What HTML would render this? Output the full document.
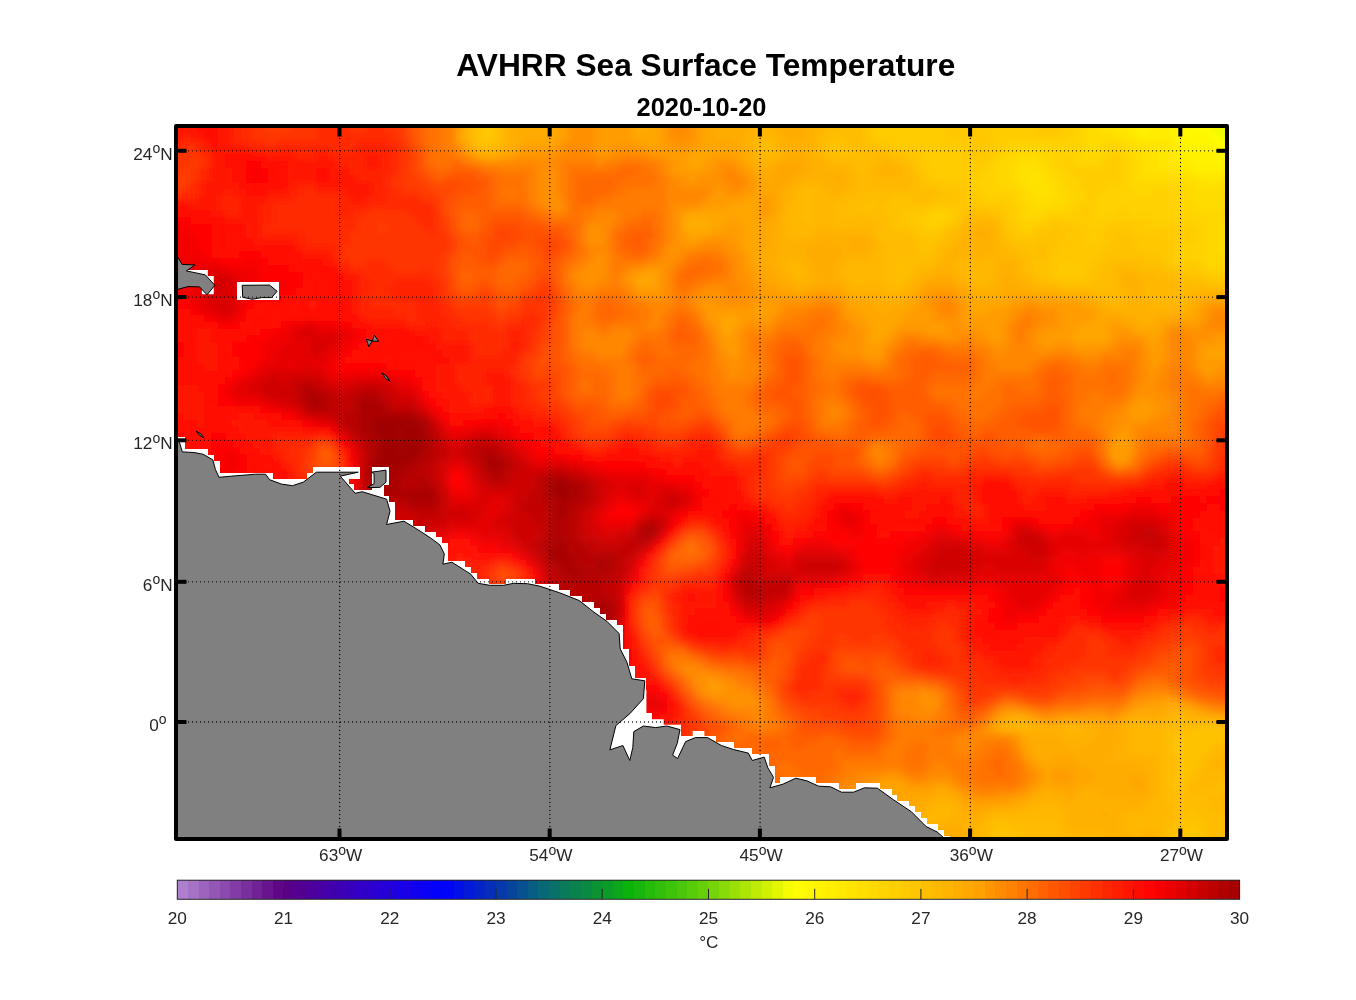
<!DOCTYPE html>
<html><head><meta charset="utf-8"><title>AVHRR Sea Surface Temperature</title>
<style>html,body{margin:0;padding:0;background:#fff}svg{display:block}text{font-family:"Liberation Sans",sans-serif;fill:#262626}svg{will-change:transform}</style></head><body>
<svg width="1356" height="1000" viewBox="0 0 1356 1000">
<defs><clipPath id="cp"><rect x="176" y="126" width="1051" height="713"/></clipPath><filter id="bl" x="-5%" y="-5%" width="110%" height="110%"><feGaussianBlur stdDeviation="3"/></filter></defs>
<rect width="1356" height="1000" fill="#fff"/>
<g clip-path="url(#cp)"><g filter="url(#bl)"><path fill="#edf901" d="M1213.0 114.0h26.4v19.4h-26.4zM1220.0 133.0h19.4v7.4h-19.4z"/><path fill="#ffff00" d="M1213.0 133.0h7.4v7.4h-7.4zM1220.0 140.0h19.4v7.4h-19.4z"/><path fill="#fffa00" d="M1185.0 114.0h28.4v19.4h-28.4zM1206.0 133.0h7.4v7.4h-7.4zM1213.0 140.0h7.4v7.4h-7.4zM1220.0 147.0h19.4v7.4h-19.4z"/><path fill="#fff600" d="M1178.0 114.0h7.4v19.4h-7.4zM1178.0 133.0h28.4v7.4h-28.4zM1185.0 140.0h28.4v7.4h-28.4zM1192.0 147.0h7.4v7.4h-7.4zM1213.0 147.0h7.4v7.4h-7.4zM1220.0 154.0h19.4v7.4h-19.4z"/><path fill="#fff100" d="M1135.9 114.0h14.4v19.4h-14.4zM1170.9 114.0h7.4v19.4h-7.4zM1170.9 133.0h7.4v7.4h-7.4zM1178.0 140.0h7.4v7.4h-7.4zM1178.0 147.0h14.4v7.4h-14.4zM1199.0 147.0h14.4v7.4h-14.4zM1185.0 154.0h35.4v7.4h-35.4zM1192.0 161.0h47.4v7.4h-47.4z"/><path fill="#ffec00" d="M1128.9 114.0h7.4v19.4h-7.4zM1149.9 114.0h21.4v19.4h-21.4zM1135.9 133.0h35.4v7.4h-35.4zM1170.9 140.0h7.4v7.4h-7.4zM1170.9 147.0h7.4v7.4h-7.4zM1170.9 154.0h14.4v7.4h-14.4zM1178.0 161.0h14.4v7.4h-14.4zM1192.0 167.9h47.4v7.4h-47.4z"/><path fill="#ffe600" d="M1114.9 114.0h14.4v19.4h-14.4zM1128.9 133.0h7.4v7.4h-7.4zM1142.9 140.0h28.4v7.4h-28.4zM1156.9 147.0h14.4v7.4h-14.4zM1156.9 154.0h14.4v7.4h-14.4zM1156.9 161.0h21.4v7.4h-21.4zM1178.0 167.9h14.4v7.4h-14.4zM1030.8 174.9h7.4v7.4h-7.4zM1199.0 174.9h21.4v7.4h-21.4z"/><path fill="#ffe100" d="M1100.9 114.0h14.4v19.4h-14.4zM1114.9 133.0h14.4v7.4h-14.4zM1128.9 140.0h14.4v7.4h-14.4zM1142.9 147.0h14.4v7.4h-14.4zM1142.9 154.0h14.4v7.4h-14.4zM1023.8 161.0h14.4v7.4h-14.4zM1142.9 161.0h14.4v7.4h-14.4zM1016.8 167.9h28.4v7.4h-28.4zM1142.9 167.9h35.4v7.4h-35.4zM1016.8 174.9h14.4v7.4h-14.4zM1037.8 174.9h7.4v7.4h-7.4zM1185.0 174.9h14.4v7.4h-14.4zM1220.0 174.9h19.4v7.4h-19.4zM1023.8 181.9h28.4v7.4h-28.4zM1199.0 181.9h21.4v7.4h-21.4zM1030.8 188.9h21.4v7.4h-21.4zM1037.8 195.9h7.4v7.4h-7.4z"/><path fill="#ffdc00" d="M1086.9 114.0h14.4v19.4h-14.4zM1086.9 133.0h28.4v7.4h-28.4zM1086.9 140.0h14.4v7.4h-14.4zM1121.9 140.0h7.4v7.4h-7.4zM1086.9 147.0h7.4v7.4h-7.4zM1128.9 147.0h14.4v7.4h-14.4zM1016.8 154.0h21.4v7.4h-21.4zM1135.9 154.0h7.4v7.4h-7.4zM1009.8 161.0h14.4v7.4h-14.4zM1037.8 161.0h7.4v7.4h-7.4zM1135.9 161.0h7.4v7.4h-7.4zM1009.8 167.9h7.4v7.4h-7.4zM1044.8 167.9h7.4v7.4h-7.4zM1135.9 167.9h7.4v7.4h-7.4zM1009.8 174.9h7.4v7.4h-7.4zM1044.8 174.9h7.4v7.4h-7.4zM1135.9 174.9h49.4v7.4h-49.4zM1016.8 181.9h7.4v7.4h-7.4zM1051.8 181.9h7.4v7.4h-7.4zM1185.0 181.9h14.4v7.4h-14.4zM1220.0 181.9h19.4v7.4h-19.4zM1023.8 188.9h7.4v7.4h-7.4zM1051.8 188.9h7.4v7.4h-7.4zM1192.0 188.9h28.4v7.4h-28.4zM1023.8 195.9h14.4v7.4h-14.4zM1044.8 195.9h21.4v7.4h-21.4zM1192.0 195.9h28.4v7.4h-28.4zM1030.8 202.9h21.4v7.4h-21.4zM1199.0 202.9h21.4v7.4h-21.4zM1220.0 223.9h19.4v7.4h-19.4zM1220.0 230.9h19.4v7.4h-19.4zM1220.0 237.8h19.4v7.4h-19.4zM1220.0 244.8h19.4v7.4h-19.4z"/><path fill="#ffd700" d="M1079.9 114.0h7.4v19.4h-7.4zM1079.9 133.0h7.4v7.4h-7.4zM1079.9 140.0h7.4v7.4h-7.4zM1100.9 140.0h21.4v7.4h-21.4zM1016.8 147.0h28.4v7.4h-28.4zM1079.9 147.0h7.4v7.4h-7.4zM1093.9 147.0h14.4v7.4h-14.4zM1121.9 147.0h7.4v7.4h-7.4zM1002.8 154.0h14.4v7.4h-14.4zM1037.8 154.0h14.4v7.4h-14.4zM1079.9 154.0h21.4v7.4h-21.4zM1128.9 154.0h7.4v7.4h-7.4zM995.8 161.0h14.4v7.4h-14.4zM1044.8 161.0h7.4v7.4h-7.4zM1128.9 161.0h7.4v7.4h-7.4zM995.8 167.9h14.4v7.4h-14.4zM1051.8 167.9h7.4v7.4h-7.4zM1128.9 167.9h7.4v7.4h-7.4zM995.8 174.9h14.4v7.4h-14.4zM1051.8 174.9h14.4v7.4h-14.4zM1128.9 174.9h7.4v7.4h-7.4zM995.8 181.9h21.4v7.4h-21.4zM1058.8 181.9h7.4v7.4h-7.4zM1128.9 181.9h56.5v7.4h-56.5zM1016.8 188.9h7.4v7.4h-7.4zM1058.8 188.9h14.4v7.4h-14.4zM1135.9 188.9h14.4v7.4h-14.4zM1178.0 188.9h14.4v7.4h-14.4zM1220.0 188.9h19.4v7.4h-19.4zM1016.8 195.9h7.4v7.4h-7.4zM1065.8 195.9h7.4v7.4h-7.4zM1178.0 195.9h14.4v7.4h-14.4zM1220.0 195.9h19.4v7.4h-19.4zM1023.8 202.9h7.4v7.4h-7.4zM1051.8 202.9h14.4v7.4h-14.4zM1178.0 202.9h21.4v7.4h-21.4zM1220.0 202.9h19.4v7.4h-19.4zM1023.8 209.9h21.4v7.4h-21.4zM1192.0 209.9h47.4v7.4h-47.4zM1206.0 216.9h33.4v7.4h-33.4zM1206.0 223.9h14.4v7.4h-14.4zM1206.0 230.9h14.4v7.4h-14.4zM1206.0 237.8h14.4v7.4h-14.4zM1206.0 244.8h14.4v7.4h-14.4zM1206.0 251.8h33.4v7.4h-33.4zM1206.0 258.8h33.4v7.4h-33.4z"/><path fill="#ffd200" d="M1072.9 114.0h7.4v19.4h-7.4zM1065.8 133.0h14.4v7.4h-14.4zM1002.8 140.0h77.5v7.4h-77.5zM1002.8 147.0h14.4v7.4h-14.4zM1044.8 147.0h35.4v7.4h-35.4zM1107.9 147.0h14.4v7.4h-14.4zM995.8 154.0h7.4v7.4h-7.4zM1051.8 154.0h28.4v7.4h-28.4zM1100.9 154.0h7.4v7.4h-7.4zM1121.9 154.0h7.4v7.4h-7.4zM988.8 161.0h7.4v7.4h-7.4zM1051.8 161.0h14.4v7.4h-14.4zM1072.9 161.0h28.4v7.4h-28.4zM1121.9 161.0h7.4v7.4h-7.4zM981.8 167.9h14.4v7.4h-14.4zM1058.8 167.9h14.4v7.4h-14.4zM1121.9 167.9h7.4v7.4h-7.4zM974.8 174.9h21.4v7.4h-21.4zM1065.8 174.9h14.4v7.4h-14.4zM1121.9 174.9h7.4v7.4h-7.4zM974.8 181.9h21.4v7.4h-21.4zM1065.8 181.9h14.4v7.4h-14.4zM1107.9 181.9h21.4v7.4h-21.4zM981.8 188.9h35.4v7.4h-35.4zM1072.9 188.9h14.4v7.4h-14.4zM1100.9 188.9h35.4v7.4h-35.4zM1149.9 188.9h28.4v7.4h-28.4zM988.8 195.9h7.4v7.4h-7.4zM1009.8 195.9h7.4v7.4h-7.4zM1072.9 195.9h14.4v7.4h-14.4zM1093.9 195.9h84.5v7.4h-84.5zM1016.8 202.9h7.4v7.4h-7.4zM1065.8 202.9h14.4v7.4h-14.4zM1093.9 202.9h84.5v7.4h-84.5zM932.7 209.9h14.4v7.4h-14.4zM1016.8 209.9h7.4v7.4h-7.4zM1044.8 209.9h28.4v7.4h-28.4zM1093.9 209.9h21.4v7.4h-21.4zM1128.9 209.9h63.5v7.4h-63.5zM925.7 216.9h21.4v7.4h-21.4zM1016.8 216.9h28.4v7.4h-28.4zM1093.9 216.9h7.4v7.4h-7.4zM1149.9 216.9h56.5v7.4h-56.5zM1023.8 223.9h7.4v7.4h-7.4zM1192.0 223.9h14.4v7.4h-14.4zM1199.0 230.9h7.4v7.4h-7.4zM1192.0 237.8h14.4v7.4h-14.4zM1178.0 244.8h28.4v7.4h-28.4zM1178.0 251.8h28.4v7.4h-28.4zM1199.0 258.8h7.4v7.4h-7.4zM1206.0 265.8h33.4v7.4h-33.4z"/><path fill="#ffcc00" d="M869.7 114.0h77.5v19.4h-77.5zM981.8 114.0h56.5v19.4h-56.5zM1058.8 114.0h14.4v19.4h-14.4zM876.7 133.0h70.5v7.4h-70.5zM960.7 133.0h7.4v7.4h-7.4zM988.8 133.0h77.5v7.4h-77.5zM890.7 140.0h77.5v7.4h-77.5zM988.8 140.0h14.4v7.4h-14.4zM918.7 147.0h49.4v7.4h-49.4zM988.8 147.0h14.4v7.4h-14.4zM925.7 154.0h42.4v7.4h-42.4zM988.8 154.0h7.4v7.4h-7.4zM1107.9 154.0h14.4v7.4h-14.4zM925.7 161.0h63.5v7.4h-63.5zM1065.8 161.0h7.4v7.4h-7.4zM1100.9 161.0h21.4v7.4h-21.4zM925.7 167.9h56.5v7.4h-56.5zM1072.9 167.9h49.4v7.4h-49.4zM932.7 174.9h42.4v7.4h-42.4zM1079.9 174.9h42.4v7.4h-42.4zM967.8 181.9h7.4v7.4h-7.4zM1079.9 181.9h28.4v7.4h-28.4zM967.8 188.9h14.4v7.4h-14.4zM1086.9 188.9h14.4v7.4h-14.4zM974.8 195.9h14.4v7.4h-14.4zM995.8 195.9h14.4v7.4h-14.4zM1086.9 195.9h7.4v7.4h-7.4zM1002.8 202.9h14.4v7.4h-14.4zM1079.9 202.9h14.4v7.4h-14.4zM925.7 209.9h7.4v7.4h-7.4zM946.7 209.9h7.4v7.4h-7.4zM1009.8 209.9h7.4v7.4h-7.4zM1072.9 209.9h21.4v7.4h-21.4zM1114.9 209.9h14.4v7.4h-14.4zM918.7 216.9h7.4v7.4h-7.4zM946.7 216.9h7.4v7.4h-7.4zM1009.8 216.9h7.4v7.4h-7.4zM1044.8 216.9h7.4v7.4h-7.4zM1065.8 216.9h28.4v7.4h-28.4zM1100.9 216.9h49.4v7.4h-49.4zM925.7 223.9h14.4v7.4h-14.4zM1016.8 223.9h7.4v7.4h-7.4zM1030.8 223.9h7.4v7.4h-7.4zM1079.9 223.9h28.4v7.4h-28.4zM1135.9 223.9h56.5v7.4h-56.5zM1023.8 230.9h7.4v7.4h-7.4zM1086.9 230.9h14.4v7.4h-14.4zM1170.9 230.9h28.4v7.4h-28.4zM1086.9 237.8h14.4v7.4h-14.4zM1170.9 237.8h21.4v7.4h-21.4zM1170.9 244.8h7.4v7.4h-7.4zM1170.9 251.8h7.4v7.4h-7.4zM1170.9 258.8h28.4v7.4h-28.4zM1058.8 265.8h21.4v7.4h-21.4zM1199.0 265.8h7.4v7.4h-7.4zM1213.0 272.8h26.4v7.4h-26.4z"/><path fill="#ffc700" d="M484.3 114.0h7.4v19.4h-7.4zM946.7 114.0h35.4v19.4h-35.4zM1037.8 114.0h21.4v19.4h-21.4zM484.3 133.0h7.4v7.4h-7.4zM869.7 133.0h7.4v7.4h-7.4zM946.7 133.0h14.4v7.4h-14.4zM967.8 133.0h21.4v7.4h-21.4zM876.7 140.0h14.4v7.4h-14.4zM967.8 140.0h21.4v7.4h-21.4zM897.7 147.0h21.4v7.4h-21.4zM967.8 147.0h21.4v7.4h-21.4zM911.7 154.0h14.4v7.4h-14.4zM967.8 154.0h21.4v7.4h-21.4zM918.7 161.0h7.4v7.4h-7.4zM918.7 167.9h7.4v7.4h-7.4zM925.7 174.9h7.4v7.4h-7.4zM939.7 181.9h28.4v7.4h-28.4zM960.7 188.9h7.4v7.4h-7.4zM960.7 195.9h14.4v7.4h-14.4zM925.7 202.9h77.5v7.4h-77.5zM904.7 209.9h21.4v7.4h-21.4zM953.7 209.9h7.4v7.4h-7.4zM1002.8 209.9h7.4v7.4h-7.4zM904.7 216.9h14.4v7.4h-14.4zM953.7 216.9h7.4v7.4h-7.4zM1002.8 216.9h7.4v7.4h-7.4zM1051.8 216.9h14.4v7.4h-14.4zM911.7 223.9h14.4v7.4h-14.4zM939.7 223.9h7.4v7.4h-7.4zM1009.8 223.9h7.4v7.4h-7.4zM1037.8 223.9h14.4v7.4h-14.4zM1058.8 223.9h21.4v7.4h-21.4zM1107.9 223.9h28.4v7.4h-28.4zM918.7 230.9h21.4v7.4h-21.4zM1009.8 230.9h14.4v7.4h-14.4zM1030.8 230.9h7.4v7.4h-7.4zM1065.8 230.9h21.4v7.4h-21.4zM1100.9 230.9h14.4v7.4h-14.4zM1128.9 230.9h42.4v7.4h-42.4zM1058.8 237.8h28.4v7.4h-28.4zM1100.9 237.8h14.4v7.4h-14.4zM1135.9 237.8h35.4v7.4h-35.4zM1058.8 244.8h49.4v7.4h-49.4zM1135.9 244.8h35.4v7.4h-35.4zM1051.8 251.8h49.4v7.4h-49.4zM1156.9 251.8h14.4v7.4h-14.4zM1051.8 258.8h42.4v7.4h-42.4zM1163.9 258.8h7.4v7.4h-7.4zM1051.8 265.8h7.4v7.4h-7.4zM1079.9 265.8h7.4v7.4h-7.4zM1178.0 265.8h21.4v7.4h-21.4zM1051.8 272.8h35.4v7.4h-35.4zM1199.0 272.8h14.4v7.4h-14.4zM1185.0 825.0h14.4v7.4h-14.4zM1178.0 832.0h21.4v19.4h-21.4z"/><path fill="#ffc200" d="M477.3 114.0h7.4v19.4h-7.4zM491.3 114.0h7.4v19.4h-7.4zM862.7 114.0h7.4v19.4h-7.4zM477.3 133.0h7.4v7.4h-7.4zM491.3 133.0h7.4v7.4h-7.4zM834.6 133.0h7.4v7.4h-7.4zM862.7 133.0h7.4v7.4h-7.4zM477.3 140.0h14.4v7.4h-14.4zM827.6 140.0h21.4v7.4h-21.4zM862.7 140.0h14.4v7.4h-14.4zM827.6 147.0h28.4v7.4h-28.4zM883.7 147.0h14.4v7.4h-14.4zM904.7 154.0h7.4v7.4h-7.4zM911.7 161.0h7.4v7.4h-7.4zM911.7 167.9h7.4v7.4h-7.4zM918.7 174.9h7.4v7.4h-7.4zM918.7 181.9h21.4v7.4h-21.4zM939.7 188.9h21.4v7.4h-21.4zM890.7 195.9h21.4v7.4h-21.4zM932.7 195.9h28.4v7.4h-28.4zM862.7 202.9h14.4v7.4h-14.4zM883.7 202.9h42.4v7.4h-42.4zM883.7 209.9h21.4v7.4h-21.4zM960.7 209.9h7.4v7.4h-7.4zM988.8 209.9h14.4v7.4h-14.4zM890.7 216.9h14.4v7.4h-14.4zM890.7 223.9h21.4v7.4h-21.4zM946.7 223.9h7.4v7.4h-7.4zM1002.8 223.9h7.4v7.4h-7.4zM1051.8 223.9h7.4v7.4h-7.4zM911.7 230.9h7.4v7.4h-7.4zM939.7 230.9h7.4v7.4h-7.4zM1002.8 230.9h7.4v7.4h-7.4zM1037.8 230.9h28.4v7.4h-28.4zM1114.9 230.9h14.4v7.4h-14.4zM918.7 237.8h21.4v7.4h-21.4zM1009.8 237.8h49.4v7.4h-49.4zM1114.9 237.8h21.4v7.4h-21.4zM918.7 244.8h14.4v7.4h-14.4zM1023.8 244.8h14.4v7.4h-14.4zM1044.8 244.8h14.4v7.4h-14.4zM1107.9 244.8h28.4v7.4h-28.4zM918.7 251.8h7.4v7.4h-7.4zM1030.8 251.8h7.4v7.4h-7.4zM1044.8 251.8h7.4v7.4h-7.4zM1100.9 251.8h56.5v7.4h-56.5zM1030.8 258.8h21.4v7.4h-21.4zM1093.9 258.8h14.4v7.4h-14.4zM1142.9 258.8h21.4v7.4h-21.4zM897.7 265.8h7.4v7.4h-7.4zM1030.8 265.8h21.4v7.4h-21.4zM1086.9 265.8h14.4v7.4h-14.4zM1163.9 265.8h14.4v7.4h-14.4zM1037.8 272.8h14.4v7.4h-14.4zM1086.9 272.8h14.4v7.4h-14.4zM1185.0 272.8h14.4v7.4h-14.4zM1058.8 279.8h35.4v7.4h-35.4zM1206.0 279.8h33.4v7.4h-33.4zM1192.0 727.2h47.4v7.4h-47.4zM1170.9 734.1h68.5v7.4h-68.5zM1170.9 741.1h42.4v7.4h-42.4zM1170.9 748.1h35.4v7.4h-35.4zM1178.0 755.1h21.4v7.4h-21.4zM1178.0 762.1h21.4v7.4h-21.4zM1178.0 769.1h14.4v7.4h-14.4zM1170.9 776.1h14.4v7.4h-14.4zM1170.9 783.1h7.4v7.4h-7.4zM1185.0 811.0h14.4v7.4h-14.4zM1178.0 818.0h28.4v7.4h-28.4zM995.8 825.0h14.4v7.4h-14.4zM1170.9 825.0h14.4v7.4h-14.4zM1199.0 825.0h7.4v7.4h-7.4zM988.8 832.0h28.4v19.4h-28.4zM1170.9 832.0h7.4v19.4h-7.4zM1199.0 832.0h7.4v19.4h-7.4z"/><path fill="#ffbc00" d="M470.3 114.0h7.4v19.4h-7.4zM827.6 114.0h35.4v19.4h-35.4zM470.3 133.0h7.4v7.4h-7.4zM820.6 133.0h14.4v7.4h-14.4zM841.6 133.0h21.4v7.4h-21.4zM491.3 140.0h7.4v7.4h-7.4zM757.6 140.0h14.4v7.4h-14.4zM820.6 140.0h7.4v7.4h-7.4zM848.6 140.0h14.4v7.4h-14.4zM757.6 147.0h14.4v7.4h-14.4zM820.6 147.0h7.4v7.4h-7.4zM855.6 147.0h28.4v7.4h-28.4zM827.6 154.0h49.4v7.4h-49.4zM890.7 154.0h14.4v7.4h-14.4zM848.6 161.0h21.4v7.4h-21.4zM904.7 161.0h7.4v7.4h-7.4zM855.6 167.9h14.4v7.4h-14.4zM862.7 174.9h7.4v7.4h-7.4zM911.7 174.9h7.4v7.4h-7.4zM862.7 181.9h7.4v7.4h-7.4zM904.7 181.9h14.4v7.4h-14.4zM799.6 188.9h14.4v7.4h-14.4zM855.6 188.9h84.5v7.4h-84.5zM799.6 195.9h14.4v7.4h-14.4zM841.6 195.9h49.4v7.4h-49.4zM911.7 195.9h21.4v7.4h-21.4zM799.6 202.9h14.4v7.4h-14.4zM834.6 202.9h28.4v7.4h-28.4zM876.7 202.9h7.4v7.4h-7.4zM799.6 209.9h14.4v7.4h-14.4zM834.6 209.9h49.4v7.4h-49.4zM967.8 209.9h21.4v7.4h-21.4zM799.6 216.9h14.4v7.4h-14.4zM834.6 216.9h21.4v7.4h-21.4zM862.7 216.9h28.4v7.4h-28.4zM960.7 216.9h7.4v7.4h-7.4zM995.8 216.9h7.4v7.4h-7.4zM876.7 223.9h14.4v7.4h-14.4zM953.7 223.9h7.4v7.4h-7.4zM995.8 223.9h7.4v7.4h-7.4zM876.7 230.9h35.4v7.4h-35.4zM946.7 230.9h7.4v7.4h-7.4zM876.7 237.8h42.4v7.4h-42.4zM939.7 237.8h7.4v7.4h-7.4zM1002.8 237.8h7.4v7.4h-7.4zM883.7 244.8h35.4v7.4h-35.4zM932.7 244.8h7.4v7.4h-7.4zM1009.8 244.8h14.4v7.4h-14.4zM1037.8 244.8h7.4v7.4h-7.4zM883.7 251.8h35.4v7.4h-35.4zM925.7 251.8h14.4v7.4h-14.4zM1016.8 251.8h14.4v7.4h-14.4zM1037.8 251.8h7.4v7.4h-7.4zM883.7 258.8h49.4v7.4h-49.4zM1023.8 258.8h7.4v7.4h-7.4zM1107.9 258.8h35.4v7.4h-35.4zM883.7 265.8h14.4v7.4h-14.4zM904.7 265.8h14.4v7.4h-14.4zM1023.8 265.8h7.4v7.4h-7.4zM1100.9 265.8h14.4v7.4h-14.4zM1135.9 265.8h28.4v7.4h-28.4zM883.7 272.8h28.4v7.4h-28.4zM974.8 272.8h7.4v7.4h-7.4zM1030.8 272.8h7.4v7.4h-7.4zM1100.9 272.8h14.4v7.4h-14.4zM1156.9 272.8h28.4v7.4h-28.4zM890.7 279.8h14.4v7.4h-14.4zM1037.8 279.8h21.4v7.4h-21.4zM1093.9 279.8h21.4v7.4h-21.4zM1178.0 279.8h28.4v7.4h-28.4zM1093.9 286.8h21.4v7.4h-21.4zM1107.9 293.8h7.4v7.4h-7.4zM1178.0 720.2h7.4v7.4h-7.4zM1199.0 720.2h14.4v7.4h-14.4zM1163.9 727.2h28.4v7.4h-28.4zM1163.9 734.1h7.4v7.4h-7.4zM1163.9 741.1h7.4v7.4h-7.4zM1213.0 741.1h26.4v7.4h-26.4zM1163.9 748.1h7.4v7.4h-7.4zM1206.0 748.1h7.4v7.4h-7.4zM1163.9 755.1h14.4v7.4h-14.4zM1199.0 755.1h7.4v7.4h-7.4zM1163.9 762.1h14.4v7.4h-14.4zM1199.0 762.1h7.4v7.4h-7.4zM1163.9 769.1h14.4v7.4h-14.4zM1192.0 769.1h7.4v7.4h-7.4zM1163.9 776.1h7.4v7.4h-7.4zM1185.0 776.1h14.4v7.4h-14.4zM1163.9 783.1h7.4v7.4h-7.4zM1178.0 783.1h14.4v7.4h-14.4zM1206.0 783.1h33.4v7.4h-33.4zM1163.9 790.1h56.5v7.4h-56.5zM1163.9 797.1h49.4v7.4h-49.4zM1170.9 804.0h42.4v7.4h-42.4zM1170.9 811.0h14.4v7.4h-14.4zM1199.0 811.0h40.4v7.4h-40.4zM988.8 818.0h70.5v7.4h-70.5zM1135.9 818.0h7.4v7.4h-7.4zM1163.9 818.0h14.4v7.4h-14.4zM1206.0 818.0h33.4v7.4h-33.4zM988.8 825.0h7.4v7.4h-7.4zM1009.8 825.0h49.4v7.4h-49.4zM1163.9 825.0h7.4v7.4h-7.4zM1206.0 825.0h33.4v7.4h-33.4zM904.7 832.0h14.4v19.4h-14.4zM1016.8 832.0h49.4v19.4h-49.4zM1163.9 832.0h7.4v19.4h-7.4zM1206.0 832.0h33.4v19.4h-33.4z"/><path fill="#ffb700" d="M498.3 114.0h7.4v19.4h-7.4zM757.6 114.0h14.4v19.4h-14.4zM820.6 114.0h7.4v19.4h-7.4zM498.3 133.0h7.4v7.4h-7.4zM757.6 133.0h21.4v7.4h-21.4zM813.6 133.0h7.4v7.4h-7.4zM470.3 140.0h7.4v7.4h-7.4zM498.3 140.0h7.4v7.4h-7.4zM750.5 140.0h7.4v7.4h-7.4zM771.6 140.0h7.4v7.4h-7.4zM813.6 140.0h7.4v7.4h-7.4zM484.3 147.0h7.4v7.4h-7.4zM771.6 147.0h7.4v7.4h-7.4zM813.6 147.0h7.4v7.4h-7.4zM757.6 154.0h21.4v7.4h-21.4zM820.6 154.0h7.4v7.4h-7.4zM876.7 154.0h14.4v7.4h-14.4zM827.6 161.0h21.4v7.4h-21.4zM869.7 161.0h14.4v7.4h-14.4zM890.7 161.0h14.4v7.4h-14.4zM848.6 167.9h7.4v7.4h-7.4zM869.7 167.9h7.4v7.4h-7.4zM897.7 167.9h14.4v7.4h-14.4zM848.6 174.9h14.4v7.4h-14.4zM869.7 174.9h42.4v7.4h-42.4zM799.6 181.9h21.4v7.4h-21.4zM848.6 181.9h14.4v7.4h-14.4zM869.7 181.9h35.4v7.4h-35.4zM792.6 188.9h7.4v7.4h-7.4zM813.6 188.9h14.4v7.4h-14.4zM841.6 188.9h14.4v7.4h-14.4zM792.6 195.9h7.4v7.4h-7.4zM813.6 195.9h28.4v7.4h-28.4zM785.6 202.9h14.4v7.4h-14.4zM813.6 202.9h21.4v7.4h-21.4zM785.6 209.9h14.4v7.4h-14.4zM813.6 209.9h21.4v7.4h-21.4zM785.6 216.9h14.4v7.4h-14.4zM813.6 216.9h21.4v7.4h-21.4zM855.6 216.9h7.4v7.4h-7.4zM967.8 216.9h28.4v7.4h-28.4zM785.6 223.9h91.5v7.4h-91.5zM960.7 223.9h7.4v7.4h-7.4zM785.6 230.9h28.4v7.4h-28.4zM869.7 230.9h7.4v7.4h-7.4zM953.7 230.9h14.4v7.4h-14.4zM995.8 230.9h7.4v7.4h-7.4zM946.7 237.8h14.4v7.4h-14.4zM995.8 237.8h7.4v7.4h-7.4zM876.7 244.8h7.4v7.4h-7.4zM939.7 244.8h14.4v7.4h-14.4zM995.8 244.8h14.4v7.4h-14.4zM869.7 251.8h14.4v7.4h-14.4zM939.7 251.8h7.4v7.4h-7.4zM960.7 251.8h7.4v7.4h-7.4zM988.8 251.8h28.4v7.4h-28.4zM785.6 258.8h14.4v7.4h-14.4zM848.6 258.8h35.4v7.4h-35.4zM932.7 258.8h7.4v7.4h-7.4zM953.7 258.8h42.4v7.4h-42.4zM1016.8 258.8h7.4v7.4h-7.4zM785.6 265.8h21.4v7.4h-21.4zM841.6 265.8h42.4v7.4h-42.4zM918.7 265.8h14.4v7.4h-14.4zM953.7 265.8h42.4v7.4h-42.4zM1016.8 265.8h7.4v7.4h-7.4zM1114.9 265.8h21.4v7.4h-21.4zM792.6 272.8h14.4v7.4h-14.4zM841.6 272.8h42.4v7.4h-42.4zM911.7 272.8h7.4v7.4h-7.4zM960.7 272.8h14.4v7.4h-14.4zM981.8 272.8h14.4v7.4h-14.4zM1016.8 272.8h14.4v7.4h-14.4zM1114.9 272.8h7.4v7.4h-7.4zM1135.9 272.8h21.4v7.4h-21.4zM848.6 279.8h42.4v7.4h-42.4zM904.7 279.8h7.4v7.4h-7.4zM974.8 279.8h14.4v7.4h-14.4zM1030.8 279.8h7.4v7.4h-7.4zM1114.9 279.8h7.4v7.4h-7.4zM1142.9 279.8h35.4v7.4h-35.4zM883.7 286.8h21.4v7.4h-21.4zM1058.8 286.8h35.4v7.4h-35.4zM1114.9 286.8h14.4v7.4h-14.4zM1142.9 286.8h96.5v7.4h-96.5zM1093.9 293.8h14.4v7.4h-14.4zM1114.9 293.8h14.4v7.4h-14.4zM1142.9 293.8h49.4v7.4h-49.4zM1107.9 300.8h14.4v7.4h-14.4zM1149.9 300.8h35.4v7.4h-35.4zM1170.9 713.2h14.4v7.4h-14.4zM1016.8 720.2h7.4v7.4h-7.4zM1128.9 720.2h21.4v7.4h-21.4zM1163.9 720.2h14.4v7.4h-14.4zM1185.0 720.2h14.4v7.4h-14.4zM1213.0 720.2h26.4v7.4h-26.4zM1023.8 727.2h7.4v7.4h-7.4zM1065.8 727.2h14.4v7.4h-14.4zM1128.9 727.2h35.4v7.4h-35.4zM1128.9 734.1h35.4v7.4h-35.4zM1128.9 741.1h35.4v7.4h-35.4zM1128.9 748.1h35.4v7.4h-35.4zM1213.0 748.1h26.4v7.4h-26.4zM1156.9 755.1h7.4v7.4h-7.4zM1206.0 755.1h14.4v7.4h-14.4zM1156.9 762.1h7.4v7.4h-7.4zM1206.0 762.1h7.4v7.4h-7.4zM1156.9 769.1h7.4v7.4h-7.4zM1199.0 769.1h40.4v7.4h-40.4zM1156.9 776.1h7.4v7.4h-7.4zM1199.0 776.1h40.4v7.4h-40.4zM1156.9 783.1h7.4v7.4h-7.4zM1192.0 783.1h14.4v7.4h-14.4zM1156.9 790.1h7.4v7.4h-7.4zM1220.0 790.1h19.4v7.4h-19.4zM1149.9 797.1h14.4v7.4h-14.4zM1213.0 797.1h26.4v7.4h-26.4zM932.7 804.0h21.4v7.4h-21.4zM1030.8 804.0h28.4v7.4h-28.4zM1142.9 804.0h28.4v7.4h-28.4zM1213.0 804.0h26.4v7.4h-26.4zM925.7 811.0h28.4v7.4h-28.4zM988.8 811.0h77.5v7.4h-77.5zM1121.9 811.0h49.4v7.4h-49.4zM911.7 818.0h35.4v7.4h-35.4zM981.8 818.0h7.4v7.4h-7.4zM1058.8 818.0h7.4v7.4h-7.4zM1121.9 818.0h14.4v7.4h-14.4zM1142.9 818.0h21.4v7.4h-21.4zM897.7 825.0h28.4v7.4h-28.4zM974.8 825.0h14.4v7.4h-14.4zM1058.8 825.0h14.4v7.4h-14.4zM1121.9 825.0h42.4v7.4h-42.4zM897.7 832.0h7.4v19.4h-7.4zM918.7 832.0h7.4v19.4h-7.4zM974.8 832.0h14.4v19.4h-14.4zM1065.8 832.0h42.4v19.4h-42.4zM1128.9 832.0h14.4v19.4h-14.4zM1156.9 832.0h7.4v19.4h-7.4z"/><path fill="#ffb100" d="M463.3 114.0h7.4v19.4h-7.4zM505.3 114.0h7.4v19.4h-7.4zM750.5 114.0h7.4v19.4h-7.4zM771.6 114.0h7.4v19.4h-7.4zM806.6 114.0h14.4v19.4h-14.4zM463.3 133.0h7.4v7.4h-7.4zM505.3 133.0h7.4v7.4h-7.4zM743.5 133.0h14.4v7.4h-14.4zM778.6 133.0h7.4v7.4h-7.4zM806.6 133.0h7.4v7.4h-7.4zM505.3 140.0h7.4v7.4h-7.4zM743.5 140.0h7.4v7.4h-7.4zM778.6 140.0h35.4v7.4h-35.4zM477.3 147.0h7.4v7.4h-7.4zM491.3 147.0h7.4v7.4h-7.4zM750.5 147.0h7.4v7.4h-7.4zM778.6 147.0h14.4v7.4h-14.4zM799.6 147.0h14.4v7.4h-14.4zM750.5 154.0h7.4v7.4h-7.4zM778.6 154.0h7.4v7.4h-7.4zM806.6 154.0h14.4v7.4h-14.4zM757.6 161.0h14.4v7.4h-14.4zM813.6 161.0h14.4v7.4h-14.4zM883.7 161.0h7.4v7.4h-7.4zM813.6 167.9h35.4v7.4h-35.4zM876.7 167.9h21.4v7.4h-21.4zM799.6 174.9h35.4v7.4h-35.4zM841.6 174.9h7.4v7.4h-7.4zM792.6 181.9h7.4v7.4h-7.4zM820.6 181.9h28.4v7.4h-28.4zM785.6 188.9h7.4v7.4h-7.4zM827.6 188.9h14.4v7.4h-14.4zM785.6 195.9h7.4v7.4h-7.4zM778.6 209.9h7.4v7.4h-7.4zM778.6 216.9h7.4v7.4h-7.4zM778.6 223.9h7.4v7.4h-7.4zM967.8 223.9h28.4v7.4h-28.4zM778.6 230.9h7.4v7.4h-7.4zM813.6 230.9h56.5v7.4h-56.5zM967.8 230.9h7.4v7.4h-7.4zM988.8 230.9h7.4v7.4h-7.4zM778.6 237.8h42.4v7.4h-42.4zM827.6 237.8h21.4v7.4h-21.4zM869.7 237.8h7.4v7.4h-7.4zM960.7 237.8h35.4v7.4h-35.4zM778.6 244.8h28.4v7.4h-28.4zM841.6 244.8h7.4v7.4h-7.4zM862.7 244.8h14.4v7.4h-14.4zM953.7 244.8h42.4v7.4h-42.4zM778.6 251.8h28.4v7.4h-28.4zM841.6 251.8h28.4v7.4h-28.4zM946.7 251.8h14.4v7.4h-14.4zM967.8 251.8h21.4v7.4h-21.4zM771.6 258.8h14.4v7.4h-14.4zM799.6 258.8h14.4v7.4h-14.4zM834.6 258.8h14.4v7.4h-14.4zM939.7 258.8h14.4v7.4h-14.4zM995.8 258.8h21.4v7.4h-21.4zM778.6 265.8h7.4v7.4h-7.4zM806.6 265.8h7.4v7.4h-7.4zM834.6 265.8h7.4v7.4h-7.4zM932.7 265.8h21.4v7.4h-21.4zM995.8 265.8h21.4v7.4h-21.4zM785.6 272.8h7.4v7.4h-7.4zM806.6 272.8h14.4v7.4h-14.4zM834.6 272.8h7.4v7.4h-7.4zM918.7 272.8h14.4v7.4h-14.4zM953.7 272.8h7.4v7.4h-7.4zM995.8 272.8h7.4v7.4h-7.4zM1009.8 272.8h7.4v7.4h-7.4zM1121.9 272.8h14.4v7.4h-14.4zM792.6 279.8h21.4v7.4h-21.4zM841.6 279.8h7.4v7.4h-7.4zM911.7 279.8h7.4v7.4h-7.4zM960.7 279.8h14.4v7.4h-14.4zM988.8 279.8h14.4v7.4h-14.4zM1016.8 279.8h14.4v7.4h-14.4zM1121.9 279.8h21.4v7.4h-21.4zM848.6 286.8h35.4v7.4h-35.4zM904.7 286.8h7.4v7.4h-7.4zM974.8 286.8h21.4v7.4h-21.4zM1030.8 286.8h28.4v7.4h-28.4zM1128.9 286.8h14.4v7.4h-14.4zM876.7 293.8h28.4v7.4h-28.4zM1086.9 293.8h7.4v7.4h-7.4zM1128.9 293.8h14.4v7.4h-14.4zM1192.0 293.8h7.4v7.4h-7.4zM1100.9 300.8h7.4v7.4h-7.4zM1121.9 300.8h28.4v7.4h-28.4zM1185.0 300.8h7.4v7.4h-7.4zM1114.9 307.7h70.5v7.4h-70.5zM1135.9 314.7h21.4v7.4h-21.4zM1163.9 713.2h7.4v7.4h-7.4zM1185.0 713.2h14.4v7.4h-14.4zM1002.8 720.2h14.4v7.4h-14.4zM1023.8 720.2h14.4v7.4h-14.4zM1065.8 720.2h7.4v7.4h-7.4zM1121.9 720.2h7.4v7.4h-7.4zM1149.9 720.2h14.4v7.4h-14.4zM1016.8 727.2h7.4v7.4h-7.4zM1030.8 727.2h35.4v7.4h-35.4zM1079.9 727.2h21.4v7.4h-21.4zM1114.9 727.2h14.4v7.4h-14.4zM1058.8 734.1h35.4v7.4h-35.4zM1121.9 734.1h7.4v7.4h-7.4zM1065.8 741.1h21.4v7.4h-21.4zM1114.9 741.1h14.4v7.4h-14.4zM1114.9 748.1h14.4v7.4h-14.4zM1107.9 755.1h49.4v7.4h-49.4zM1220.0 755.1h19.4v7.4h-19.4zM1142.9 762.1h14.4v7.4h-14.4zM1213.0 762.1h26.4v7.4h-26.4zM1149.9 769.1h7.4v7.4h-7.4zM1149.9 776.1h7.4v7.4h-7.4zM1149.9 783.1h7.4v7.4h-7.4zM1044.8 790.1h7.4v7.4h-7.4zM1079.9 790.1h21.4v7.4h-21.4zM1149.9 790.1h7.4v7.4h-7.4zM932.7 797.1h21.4v7.4h-21.4zM1030.8 797.1h35.4v7.4h-35.4zM1072.9 797.1h56.5v7.4h-56.5zM1135.9 797.1h14.4v7.4h-14.4zM925.7 804.0h7.4v7.4h-7.4zM953.7 804.0h7.4v7.4h-7.4zM1016.8 804.0h14.4v7.4h-14.4zM1058.8 804.0h84.5v7.4h-84.5zM904.7 811.0h21.4v7.4h-21.4zM953.7 811.0h14.4v7.4h-14.4zM981.8 811.0h7.4v7.4h-7.4zM1065.8 811.0h35.4v7.4h-35.4zM1107.9 811.0h14.4v7.4h-14.4zM897.7 818.0h14.4v7.4h-14.4zM946.7 818.0h35.4v7.4h-35.4zM1065.8 818.0h56.5v7.4h-56.5zM890.7 825.0h7.4v7.4h-7.4zM925.7 825.0h14.4v7.4h-14.4zM960.7 825.0h14.4v7.4h-14.4zM1072.9 825.0h49.4v7.4h-49.4zM890.7 832.0h7.4v19.4h-7.4zM925.7 832.0h7.4v19.4h-7.4zM967.8 832.0h7.4v19.4h-7.4zM1107.9 832.0h21.4v19.4h-21.4zM1142.9 832.0h14.4v19.4h-14.4z"/><path fill="#ffac00" d="M512.3 114.0h35.4v19.4h-35.4zM638.4 114.0h7.4v19.4h-7.4zM715.5 114.0h35.4v19.4h-35.4zM778.6 114.0h28.4v19.4h-28.4zM512.3 133.0h21.4v7.4h-21.4zM540.3 133.0h7.4v7.4h-7.4zM715.5 133.0h28.4v7.4h-28.4zM785.6 133.0h21.4v7.4h-21.4zM463.3 140.0h7.4v7.4h-7.4zM512.3 140.0h7.4v7.4h-7.4zM736.5 140.0h7.4v7.4h-7.4zM470.3 147.0h7.4v7.4h-7.4zM498.3 147.0h14.4v7.4h-14.4zM743.5 147.0h7.4v7.4h-7.4zM792.6 147.0h7.4v7.4h-7.4zM743.5 154.0h7.4v7.4h-7.4zM785.6 154.0h21.4v7.4h-21.4zM750.5 161.0h7.4v7.4h-7.4zM771.6 161.0h7.4v7.4h-7.4zM799.6 161.0h14.4v7.4h-14.4zM757.6 167.9h14.4v7.4h-14.4zM799.6 167.9h14.4v7.4h-14.4zM764.6 174.9h7.4v7.4h-7.4zM792.6 174.9h7.4v7.4h-7.4zM834.6 174.9h7.4v7.4h-7.4zM785.6 181.9h7.4v7.4h-7.4zM778.6 188.9h7.4v7.4h-7.4zM778.6 195.9h7.4v7.4h-7.4zM778.6 202.9h7.4v7.4h-7.4zM687.5 216.9h21.4v7.4h-21.4zM771.6 216.9h7.4v7.4h-7.4zM687.5 223.9h21.4v7.4h-21.4zM771.6 223.9h7.4v7.4h-7.4zM764.6 230.9h14.4v7.4h-14.4zM974.8 230.9h14.4v7.4h-14.4zM771.6 237.8h7.4v7.4h-7.4zM820.6 237.8h7.4v7.4h-7.4zM848.6 237.8h21.4v7.4h-21.4zM764.6 244.8h14.4v7.4h-14.4zM806.6 244.8h35.4v7.4h-35.4zM848.6 244.8h14.4v7.4h-14.4zM757.6 251.8h21.4v7.4h-21.4zM806.6 251.8h35.4v7.4h-35.4zM757.6 258.8h14.4v7.4h-14.4zM813.6 258.8h21.4v7.4h-21.4zM764.6 265.8h14.4v7.4h-14.4zM813.6 265.8h21.4v7.4h-21.4zM771.6 272.8h14.4v7.4h-14.4zM820.6 272.8h14.4v7.4h-14.4zM932.7 272.8h21.4v7.4h-21.4zM1002.8 272.8h7.4v7.4h-7.4zM778.6 279.8h14.4v7.4h-14.4zM813.6 279.8h28.4v7.4h-28.4zM918.7 279.8h7.4v7.4h-7.4zM953.7 279.8h7.4v7.4h-7.4zM1002.8 279.8h14.4v7.4h-14.4zM792.6 286.8h14.4v7.4h-14.4zM841.6 286.8h7.4v7.4h-7.4zM911.7 286.8h7.4v7.4h-7.4zM967.8 286.8h7.4v7.4h-7.4zM995.8 286.8h35.4v7.4h-35.4zM848.6 293.8h28.4v7.4h-28.4zM904.7 293.8h7.4v7.4h-7.4zM967.8 293.8h35.4v7.4h-35.4zM1058.8 293.8h28.4v7.4h-28.4zM1199.0 293.8h40.4v7.4h-40.4zM869.7 300.8h35.4v7.4h-35.4zM1093.9 300.8h7.4v7.4h-7.4zM1192.0 300.8h7.4v7.4h-7.4zM876.7 307.7h14.4v7.4h-14.4zM1100.9 307.7h14.4v7.4h-14.4zM1185.0 307.7h7.4v7.4h-7.4zM1121.9 314.7h14.4v7.4h-14.4zM1156.9 314.7h14.4v7.4h-14.4zM1135.9 321.7h21.4v7.4h-21.4zM1163.9 706.2h28.4v7.4h-28.4zM1009.8 713.2h14.4v7.4h-14.4zM1128.9 713.2h35.4v7.4h-35.4zM1199.0 713.2h21.4v7.4h-21.4zM995.8 720.2h7.4v7.4h-7.4zM1037.8 720.2h7.4v7.4h-7.4zM1051.8 720.2h14.4v7.4h-14.4zM1072.9 720.2h28.4v7.4h-28.4zM1114.9 720.2h7.4v7.4h-7.4zM1002.8 727.2h14.4v7.4h-14.4zM1100.9 727.2h14.4v7.4h-14.4zM1023.8 734.1h35.4v7.4h-35.4zM1093.9 734.1h28.4v7.4h-28.4zM1030.8 741.1h35.4v7.4h-35.4zM1086.9 741.1h28.4v7.4h-28.4zM1030.8 748.1h84.5v7.4h-84.5zM1037.8 755.1h14.4v7.4h-14.4zM1072.9 755.1h35.4v7.4h-35.4zM1079.9 762.1h63.5v7.4h-63.5zM1093.9 769.1h56.5v7.4h-56.5zM1093.9 776.1h35.4v7.4h-35.4zM1142.9 776.1h7.4v7.4h-7.4zM1044.8 783.1h7.4v7.4h-7.4zM1079.9 783.1h56.5v7.4h-56.5zM1142.9 783.1h7.4v7.4h-7.4zM932.7 790.1h21.4v7.4h-21.4zM1030.8 790.1h14.4v7.4h-14.4zM1051.8 790.1h14.4v7.4h-14.4zM1072.9 790.1h7.4v7.4h-7.4zM1100.9 790.1h49.4v7.4h-49.4zM918.7 797.1h14.4v7.4h-14.4zM953.7 797.1h7.4v7.4h-7.4zM1023.8 797.1h7.4v7.4h-7.4zM1065.8 797.1h7.4v7.4h-7.4zM1128.9 797.1h7.4v7.4h-7.4zM897.7 804.0h28.4v7.4h-28.4zM960.7 804.0h7.4v7.4h-7.4zM988.8 804.0h28.4v7.4h-28.4zM890.7 811.0h14.4v7.4h-14.4zM967.8 811.0h14.4v7.4h-14.4zM1100.9 811.0h7.4v7.4h-7.4zM890.7 818.0h7.4v7.4h-7.4zM883.7 825.0h7.4v7.4h-7.4zM939.7 825.0h21.4v7.4h-21.4zM883.7 832.0h7.4v19.4h-7.4zM932.7 832.0h35.4v19.4h-35.4z"/><path fill="#ffa600" d="M547.4 114.0h14.4v19.4h-14.4zM631.4 114.0h7.4v19.4h-7.4zM645.4 114.0h14.4v19.4h-14.4zM701.5 114.0h14.4v19.4h-14.4zM456.3 133.0h7.4v7.4h-7.4zM533.3 133.0h7.4v7.4h-7.4zM547.4 133.0h14.4v7.4h-14.4zM631.4 133.0h28.4v7.4h-28.4zM701.5 133.0h14.4v7.4h-14.4zM519.3 140.0h35.4v7.4h-35.4zM638.4 140.0h21.4v7.4h-21.4zM701.5 140.0h35.4v7.4h-35.4zM512.3 147.0h7.4v7.4h-7.4zM694.5 147.0h49.4v7.4h-49.4zM477.3 154.0h21.4v7.4h-21.4zM687.5 154.0h21.4v7.4h-21.4zM736.5 154.0h7.4v7.4h-7.4zM687.5 161.0h14.4v7.4h-14.4zM743.5 161.0h7.4v7.4h-7.4zM778.6 161.0h21.4v7.4h-21.4zM750.5 167.9h7.4v7.4h-7.4zM771.6 167.9h28.4v7.4h-28.4zM757.6 174.9h7.4v7.4h-7.4zM771.6 174.9h21.4v7.4h-21.4zM757.6 181.9h28.4v7.4h-28.4zM757.6 188.9h21.4v7.4h-21.4zM743.5 195.9h14.4v7.4h-14.4zM771.6 195.9h7.4v7.4h-7.4zM729.5 202.9h28.4v7.4h-28.4zM771.6 202.9h7.4v7.4h-7.4zM687.5 209.9h70.5v7.4h-70.5zM771.6 209.9h7.4v7.4h-7.4zM680.5 216.9h7.4v7.4h-7.4zM708.5 216.9h21.4v7.4h-21.4zM736.5 216.9h35.4v7.4h-35.4zM680.5 223.9h7.4v7.4h-7.4zM708.5 223.9h14.4v7.4h-14.4zM743.5 223.9h28.4v7.4h-28.4zM687.5 230.9h21.4v7.4h-21.4zM743.5 230.9h21.4v7.4h-21.4zM743.5 237.8h28.4v7.4h-28.4zM743.5 244.8h21.4v7.4h-21.4zM750.5 251.8h7.4v7.4h-7.4zM750.5 258.8h7.4v7.4h-7.4zM757.6 265.8h7.4v7.4h-7.4zM638.4 272.8h14.4v7.4h-14.4zM757.6 272.8h14.4v7.4h-14.4zM638.4 279.8h14.4v7.4h-14.4zM764.6 279.8h14.4v7.4h-14.4zM925.7 279.8h28.4v7.4h-28.4zM778.6 286.8h14.4v7.4h-14.4zM806.6 286.8h35.4v7.4h-35.4zM918.7 286.8h7.4v7.4h-7.4zM953.7 286.8h14.4v7.4h-14.4zM841.6 293.8h7.4v7.4h-7.4zM911.7 293.8h7.4v7.4h-7.4zM960.7 293.8h7.4v7.4h-7.4zM1002.8 293.8h56.5v7.4h-56.5zM848.6 300.8h21.4v7.4h-21.4zM904.7 300.8h14.4v7.4h-14.4zM967.8 300.8h42.4v7.4h-42.4zM1079.9 300.8h14.4v7.4h-14.4zM1199.0 300.8h7.4v7.4h-7.4zM757.6 307.7h7.4v7.4h-7.4zM855.6 307.7h21.4v7.4h-21.4zM890.7 307.7h21.4v7.4h-21.4zM967.8 307.7h21.4v7.4h-21.4zM1093.9 307.7h7.4v7.4h-7.4zM1192.0 307.7h7.4v7.4h-7.4zM722.5 314.7h14.4v7.4h-14.4zM862.7 314.7h42.4v7.4h-42.4zM1093.9 314.7h28.4v7.4h-28.4zM1170.9 314.7h28.4v7.4h-28.4zM722.5 321.7h14.4v7.4h-14.4zM869.7 321.7h28.4v7.4h-28.4zM1079.9 321.7h28.4v7.4h-28.4zM1121.9 321.7h14.4v7.4h-14.4zM1156.9 321.7h7.4v7.4h-7.4zM722.5 328.7h7.4v7.4h-7.4zM869.7 328.7h21.4v7.4h-21.4zM1072.9 328.7h35.4v7.4h-35.4zM1135.9 328.7h28.4v7.4h-28.4zM869.7 335.7h14.4v7.4h-14.4zM1072.9 335.7h35.4v7.4h-35.4zM1149.9 335.7h7.4v7.4h-7.4zM1206.0 349.7h33.4v7.4h-33.4zM1163.9 699.2h14.4v7.4h-14.4zM1135.9 706.2h28.4v7.4h-28.4zM1192.0 706.2h7.4v7.4h-7.4zM1002.8 713.2h7.4v7.4h-7.4zM1023.8 713.2h7.4v7.4h-7.4zM1121.9 713.2h7.4v7.4h-7.4zM1220.0 713.2h19.4v7.4h-19.4zM1044.8 720.2h7.4v7.4h-7.4zM1100.9 720.2h14.4v7.4h-14.4zM995.8 727.2h7.4v7.4h-7.4zM1023.8 741.1h7.4v7.4h-7.4zM1023.8 748.1h7.4v7.4h-7.4zM1030.8 755.1h7.4v7.4h-7.4zM1051.8 755.1h21.4v7.4h-21.4zM1037.8 762.1h42.4v7.4h-42.4zM1044.8 769.1h7.4v7.4h-7.4zM1072.9 769.1h21.4v7.4h-21.4zM1044.8 776.1h7.4v7.4h-7.4zM1072.9 776.1h21.4v7.4h-21.4zM1128.9 776.1h14.4v7.4h-14.4zM876.7 783.1h28.4v7.4h-28.4zM932.7 783.1h14.4v7.4h-14.4zM1037.8 783.1h7.4v7.4h-7.4zM1051.8 783.1h28.4v7.4h-28.4zM1135.9 783.1h7.4v7.4h-7.4zM876.7 790.1h56.5v7.4h-56.5zM953.7 790.1h7.4v7.4h-7.4zM1065.8 790.1h7.4v7.4h-7.4zM876.7 797.1h42.4v7.4h-42.4zM960.7 797.1h7.4v7.4h-7.4zM1009.8 797.1h14.4v7.4h-14.4zM876.7 804.0h21.4v7.4h-21.4zM967.8 804.0h21.4v7.4h-21.4zM876.7 811.0h14.4v7.4h-14.4zM869.7 818.0h21.4v7.4h-21.4zM862.7 825.0h21.4v7.4h-21.4zM862.7 832.0h21.4v19.4h-21.4z"/><path fill="#ff9c00" d="M456.3 114.0h7.4v19.4h-7.4zM561.4 114.0h7.4v19.4h-7.4zM596.4 114.0h35.4v19.4h-35.4zM659.5 114.0h7.4v19.4h-7.4zM694.5 114.0h7.4v19.4h-7.4zM561.4 133.0h7.4v7.4h-7.4zM596.4 133.0h35.4v7.4h-35.4zM659.5 133.0h7.4v7.4h-7.4zM694.5 133.0h7.4v7.4h-7.4zM456.3 140.0h7.4v7.4h-7.4zM554.4 140.0h7.4v7.4h-7.4zM596.4 140.0h42.4v7.4h-42.4zM659.5 140.0h14.4v7.4h-14.4zM687.5 140.0h14.4v7.4h-14.4zM463.3 147.0h7.4v7.4h-7.4zM519.3 147.0h35.4v7.4h-35.4zM596.4 147.0h14.4v7.4h-14.4zM645.4 147.0h49.4v7.4h-49.4zM498.3 154.0h14.4v7.4h-14.4zM666.5 154.0h21.4v7.4h-21.4zM708.5 154.0h28.4v7.4h-28.4zM673.5 161.0h14.4v7.4h-14.4zM701.5 161.0h14.4v7.4h-14.4zM736.5 161.0h7.4v7.4h-7.4zM673.5 167.9h35.4v7.4h-35.4zM743.5 167.9h7.4v7.4h-7.4zM687.5 174.9h7.4v7.4h-7.4zM750.5 174.9h7.4v7.4h-7.4zM750.5 181.9h7.4v7.4h-7.4zM715.5 188.9h7.4v7.4h-7.4zM743.5 188.9h14.4v7.4h-14.4zM708.5 195.9h35.4v7.4h-35.4zM757.6 195.9h14.4v7.4h-14.4zM701.5 202.9h28.4v7.4h-28.4zM757.6 202.9h14.4v7.4h-14.4zM680.5 209.9h7.4v7.4h-7.4zM757.6 209.9h14.4v7.4h-14.4zM729.5 216.9h7.4v7.4h-7.4zM722.5 223.9h21.4v7.4h-21.4zM680.5 230.9h7.4v7.4h-7.4zM708.5 230.9h35.4v7.4h-35.4zM680.5 237.8h21.4v7.4h-21.4zM729.5 237.8h14.4v7.4h-14.4zM736.5 244.8h7.4v7.4h-7.4zM743.5 251.8h7.4v7.4h-7.4zM743.5 258.8h7.4v7.4h-7.4zM645.4 265.8h14.4v7.4h-14.4zM743.5 265.8h14.4v7.4h-14.4zM631.4 272.8h7.4v7.4h-7.4zM652.5 272.8h7.4v7.4h-7.4zM750.5 272.8h7.4v7.4h-7.4zM631.4 279.8h7.4v7.4h-7.4zM652.5 279.8h7.4v7.4h-7.4zM750.5 279.8h14.4v7.4h-14.4zM638.4 286.8h21.4v7.4h-21.4zM757.6 286.8h21.4v7.4h-21.4zM925.7 286.8h28.4v7.4h-28.4zM757.6 293.8h56.5v7.4h-56.5zM827.6 293.8h14.4v7.4h-14.4zM918.7 293.8h14.4v7.4h-14.4zM953.7 293.8h7.4v7.4h-7.4zM701.5 300.8h14.4v7.4h-14.4zM750.5 300.8h28.4v7.4h-28.4zM841.6 300.8h7.4v7.4h-7.4zM918.7 300.8h7.4v7.4h-7.4zM960.7 300.8h7.4v7.4h-7.4zM1009.8 300.8h14.4v7.4h-14.4zM1037.8 300.8h42.4v7.4h-42.4zM1206.0 300.8h33.4v7.4h-33.4zM708.5 307.7h49.4v7.4h-49.4zM764.6 307.7h14.4v7.4h-14.4zM841.6 307.7h14.4v7.4h-14.4zM911.7 307.7h21.4v7.4h-21.4zM960.7 307.7h7.4v7.4h-7.4zM988.8 307.7h21.4v7.4h-21.4zM1058.8 307.7h35.4v7.4h-35.4zM1199.0 307.7h7.4v7.4h-7.4zM708.5 314.7h14.4v7.4h-14.4zM736.5 314.7h35.4v7.4h-35.4zM848.6 314.7h14.4v7.4h-14.4zM904.7 314.7h28.4v7.4h-28.4zM960.7 314.7h49.4v7.4h-49.4zM1058.8 314.7h35.4v7.4h-35.4zM1199.0 314.7h7.4v7.4h-7.4zM715.5 321.7h7.4v7.4h-7.4zM736.5 321.7h7.4v7.4h-7.4zM855.6 321.7h14.4v7.4h-14.4zM897.7 321.7h49.4v7.4h-49.4zM960.7 321.7h42.4v7.4h-42.4zM1058.8 321.7h21.4v7.4h-21.4zM1107.9 321.7h14.4v7.4h-14.4zM1163.9 321.7h14.4v7.4h-14.4zM1185.0 321.7h14.4v7.4h-14.4zM715.5 328.7h7.4v7.4h-7.4zM729.5 328.7h7.4v7.4h-7.4zM862.7 328.7h7.4v7.4h-7.4zM890.7 328.7h7.4v7.4h-7.4zM925.7 328.7h21.4v7.4h-21.4zM981.8 328.7h21.4v7.4h-21.4zM1044.8 328.7h28.4v7.4h-28.4zM1107.9 328.7h14.4v7.4h-14.4zM1128.9 328.7h7.4v7.4h-7.4zM722.5 335.7h14.4v7.4h-14.4zM862.7 335.7h7.4v7.4h-7.4zM883.7 335.7h7.4v7.4h-7.4zM988.8 335.7h14.4v7.4h-14.4zM1037.8 335.7h35.4v7.4h-35.4zM1107.9 335.7h7.4v7.4h-7.4zM1142.9 335.7h7.4v7.4h-7.4zM1156.9 335.7h7.4v7.4h-7.4zM1213.0 335.7h26.4v7.4h-26.4zM722.5 342.7h14.4v7.4h-14.4zM862.7 342.7h21.4v7.4h-21.4zM1044.8 342.7h7.4v7.4h-7.4zM1072.9 342.7h35.4v7.4h-35.4zM1142.9 342.7h21.4v7.4h-21.4zM1199.0 342.7h40.4v7.4h-40.4zM729.5 349.7h7.4v7.4h-7.4zM862.7 349.7h21.4v7.4h-21.4zM1149.9 349.7h14.4v7.4h-14.4zM1199.0 349.7h7.4v7.4h-7.4zM1149.9 356.7h14.4v7.4h-14.4zM1199.0 356.7h40.4v7.4h-40.4zM1149.9 363.7h7.4v7.4h-7.4zM1199.0 363.7h21.4v7.4h-21.4zM1206.0 370.7h7.4v7.4h-7.4zM1135.9 398.6h14.4v7.4h-14.4zM1128.9 405.6h28.4v7.4h-28.4zM1128.9 412.6h21.4v7.4h-21.4zM1121.9 426.6h7.4v7.4h-7.4zM1114.9 433.6h14.4v7.4h-14.4zM1114.9 440.6h14.4v7.4h-14.4zM1107.9 447.5h21.4v7.4h-21.4zM1114.9 454.5h14.4v7.4h-14.4zM708.5 678.2h7.4v7.4h-7.4zM708.5 685.2h14.4v7.4h-14.4zM1142.9 699.2h21.4v7.4h-21.4zM1178.0 699.2h7.4v7.4h-7.4zM1128.9 706.2h7.4v7.4h-7.4zM1199.0 706.2h7.4v7.4h-7.4zM995.8 713.2h7.4v7.4h-7.4zM1030.8 713.2h7.4v7.4h-7.4zM1058.8 713.2h49.4v7.4h-49.4zM1114.9 713.2h7.4v7.4h-7.4zM988.8 720.2h7.4v7.4h-7.4zM988.8 727.2h7.4v7.4h-7.4zM1016.8 734.1h7.4v7.4h-7.4zM1016.8 741.1h7.4v7.4h-7.4zM1023.8 755.1h7.4v7.4h-7.4zM1030.8 762.1h7.4v7.4h-7.4zM1037.8 769.1h7.4v7.4h-7.4zM1051.8 769.1h21.4v7.4h-21.4zM876.7 776.1h28.4v7.4h-28.4zM1037.8 776.1h7.4v7.4h-7.4zM1051.8 776.1h21.4v7.4h-21.4zM869.7 783.1h7.4v7.4h-7.4zM904.7 783.1h28.4v7.4h-28.4zM946.7 783.1h7.4v7.4h-7.4zM1030.8 783.1h7.4v7.4h-7.4zM862.7 790.1h14.4v7.4h-14.4zM960.7 790.1h7.4v7.4h-7.4zM1016.8 790.1h14.4v7.4h-14.4zM848.6 797.1h28.4v7.4h-28.4zM967.8 797.1h42.4v7.4h-42.4zM841.6 804.0h35.4v7.4h-35.4zM841.6 811.0h35.4v7.4h-35.4zM841.6 818.0h28.4v7.4h-28.4zM841.6 825.0h21.4v7.4h-21.4zM848.6 832.0h14.4v19.4h-14.4z"/><path fill="#ff9100" d="M568.4 114.0h28.4v19.4h-28.4zM666.5 114.0h7.4v19.4h-7.4zM687.5 114.0h7.4v19.4h-7.4zM568.4 133.0h28.4v7.4h-28.4zM666.5 133.0h28.4v7.4h-28.4zM561.4 140.0h35.4v7.4h-35.4zM673.5 140.0h14.4v7.4h-14.4zM554.4 147.0h14.4v7.4h-14.4zM589.4 147.0h7.4v7.4h-7.4zM610.4 147.0h35.4v7.4h-35.4zM470.3 154.0h7.4v7.4h-7.4zM512.3 154.0h42.4v7.4h-42.4zM596.4 154.0h14.4v7.4h-14.4zM652.5 154.0h14.4v7.4h-14.4zM540.3 161.0h7.4v7.4h-7.4zM666.5 161.0h7.4v7.4h-7.4zM715.5 161.0h21.4v7.4h-21.4zM540.3 167.9h14.4v7.4h-14.4zM666.5 167.9h7.4v7.4h-7.4zM708.5 167.9h14.4v7.4h-14.4zM736.5 167.9h7.4v7.4h-7.4zM540.3 174.9h14.4v7.4h-14.4zM673.5 174.9h14.4v7.4h-14.4zM694.5 174.9h28.4v7.4h-28.4zM743.5 174.9h7.4v7.4h-7.4zM540.3 181.9h14.4v7.4h-14.4zM680.5 181.9h49.4v7.4h-49.4zM743.5 181.9h7.4v7.4h-7.4zM540.3 188.9h14.4v7.4h-14.4zM708.5 188.9h7.4v7.4h-7.4zM722.5 188.9h21.4v7.4h-21.4zM540.3 195.9h21.4v7.4h-21.4zM701.5 195.9h7.4v7.4h-7.4zM547.4 202.9h14.4v7.4h-14.4zM673.5 202.9h28.4v7.4h-28.4zM673.5 209.9h7.4v7.4h-7.4zM673.5 216.9h7.4v7.4h-7.4zM589.4 223.9h14.4v7.4h-14.4zM673.5 223.9h7.4v7.4h-7.4zM589.4 230.9h14.4v7.4h-14.4zM673.5 230.9h7.4v7.4h-7.4zM589.4 237.8h14.4v7.4h-14.4zM673.5 237.8h7.4v7.4h-7.4zM701.5 237.8h28.4v7.4h-28.4zM666.5 244.8h28.4v7.4h-28.4zM722.5 244.8h14.4v7.4h-14.4zM596.4 251.8h7.4v7.4h-7.4zM666.5 251.8h14.4v7.4h-14.4zM729.5 251.8h14.4v7.4h-14.4zM589.4 258.8h14.4v7.4h-14.4zM659.5 258.8h14.4v7.4h-14.4zM736.5 258.8h7.4v7.4h-7.4zM582.4 265.8h21.4v7.4h-21.4zM631.4 265.8h14.4v7.4h-14.4zM659.5 265.8h7.4v7.4h-7.4zM736.5 265.8h7.4v7.4h-7.4zM575.4 272.8h28.4v7.4h-28.4zM624.4 272.8h7.4v7.4h-7.4zM659.5 272.8h7.4v7.4h-7.4zM736.5 272.8h14.4v7.4h-14.4zM582.4 279.8h14.4v7.4h-14.4zM624.4 279.8h7.4v7.4h-7.4zM659.5 279.8h7.4v7.4h-7.4zM736.5 279.8h14.4v7.4h-14.4zM631.4 286.8h7.4v7.4h-7.4zM659.5 286.8h7.4v7.4h-7.4zM701.5 286.8h21.4v7.4h-21.4zM743.5 286.8h14.4v7.4h-14.4zM638.4 293.8h28.4v7.4h-28.4zM694.5 293.8h35.4v7.4h-35.4zM736.5 293.8h21.4v7.4h-21.4zM813.6 293.8h14.4v7.4h-14.4zM932.7 293.8h21.4v7.4h-21.4zM694.5 300.8h7.4v7.4h-7.4zM715.5 300.8h35.4v7.4h-35.4zM778.6 300.8h35.4v7.4h-35.4zM834.6 300.8h7.4v7.4h-7.4zM925.7 300.8h14.4v7.4h-14.4zM953.7 300.8h7.4v7.4h-7.4zM1023.8 300.8h14.4v7.4h-14.4zM701.5 307.7h7.4v7.4h-7.4zM778.6 307.7h7.4v7.4h-7.4zM932.7 307.7h7.4v7.4h-7.4zM953.7 307.7h7.4v7.4h-7.4zM1009.8 307.7h14.4v7.4h-14.4zM1037.8 307.7h21.4v7.4h-21.4zM1206.0 307.7h7.4v7.4h-7.4zM701.5 314.7h7.4v7.4h-7.4zM771.6 314.7h7.4v7.4h-7.4zM841.6 314.7h7.4v7.4h-7.4zM932.7 314.7h28.4v7.4h-28.4zM1009.8 314.7h7.4v7.4h-7.4zM1044.8 314.7h14.4v7.4h-14.4zM1206.0 314.7h7.4v7.4h-7.4zM708.5 321.7h7.4v7.4h-7.4zM743.5 321.7h28.4v7.4h-28.4zM848.6 321.7h7.4v7.4h-7.4zM946.7 321.7h14.4v7.4h-14.4zM1002.8 321.7h7.4v7.4h-7.4zM1037.8 321.7h21.4v7.4h-21.4zM1178.0 321.7h7.4v7.4h-7.4zM1199.0 321.7h7.4v7.4h-7.4zM736.5 328.7h7.4v7.4h-7.4zM848.6 328.7h14.4v7.4h-14.4zM897.7 328.7h28.4v7.4h-28.4zM946.7 328.7h35.4v7.4h-35.4zM1002.8 328.7h7.4v7.4h-7.4zM1030.8 328.7h14.4v7.4h-14.4zM1121.9 328.7h7.4v7.4h-7.4zM1163.9 328.7h7.4v7.4h-7.4zM1185.0 328.7h54.4v7.4h-54.4zM715.5 335.7h7.4v7.4h-7.4zM736.5 335.7h7.4v7.4h-7.4zM841.6 335.7h21.4v7.4h-21.4zM890.7 335.7h7.4v7.4h-7.4zM939.7 335.7h21.4v7.4h-21.4zM974.8 335.7h14.4v7.4h-14.4zM1002.8 335.7h7.4v7.4h-7.4zM1030.8 335.7h7.4v7.4h-7.4zM1114.9 335.7h28.4v7.4h-28.4zM1163.9 335.7h7.4v7.4h-7.4zM1192.0 335.7h21.4v7.4h-21.4zM715.5 342.7h7.4v7.4h-7.4zM736.5 342.7h7.4v7.4h-7.4zM834.6 342.7h28.4v7.4h-28.4zM883.7 342.7h7.4v7.4h-7.4zM988.8 342.7h21.4v7.4h-21.4zM1030.8 342.7h14.4v7.4h-14.4zM1051.8 342.7h21.4v7.4h-21.4zM1107.9 342.7h7.4v7.4h-7.4zM1163.9 342.7h7.4v7.4h-7.4zM1192.0 342.7h7.4v7.4h-7.4zM722.5 349.7h7.4v7.4h-7.4zM736.5 349.7h7.4v7.4h-7.4zM841.6 349.7h21.4v7.4h-21.4zM995.8 349.7h7.4v7.4h-7.4zM1037.8 349.7h7.4v7.4h-7.4zM1072.9 349.7h28.4v7.4h-28.4zM1142.9 349.7h7.4v7.4h-7.4zM1163.9 349.7h7.4v7.4h-7.4zM1192.0 349.7h7.4v7.4h-7.4zM722.5 356.7h21.4v7.4h-21.4zM862.7 356.7h21.4v7.4h-21.4zM1142.9 356.7h7.4v7.4h-7.4zM1163.9 356.7h7.4v7.4h-7.4zM1192.0 356.7h7.4v7.4h-7.4zM729.5 363.7h14.4v7.4h-14.4zM1142.9 363.7h7.4v7.4h-7.4zM1156.9 363.7h7.4v7.4h-7.4zM1192.0 363.7h7.4v7.4h-7.4zM1220.0 363.7h19.4v7.4h-19.4zM729.5 370.7h7.4v7.4h-7.4zM1142.9 370.7h21.4v7.4h-21.4zM1199.0 370.7h7.4v7.4h-7.4zM1213.0 370.7h26.4v7.4h-26.4zM1142.9 377.6h14.4v7.4h-14.4zM1206.0 377.6h7.4v7.4h-7.4zM1135.9 384.6h21.4v7.4h-21.4zM1135.9 391.6h28.4v7.4h-28.4zM1128.9 398.6h7.4v7.4h-7.4zM1149.9 398.6h21.4v7.4h-21.4zM1121.9 405.6h7.4v7.4h-7.4zM1156.9 405.6h14.4v7.4h-14.4zM1114.9 412.6h14.4v7.4h-14.4zM1149.9 412.6h14.4v7.4h-14.4zM1114.9 419.6h35.4v7.4h-35.4zM1107.9 426.6h14.4v7.4h-14.4zM1128.9 426.6h7.4v7.4h-7.4zM1107.9 433.6h7.4v7.4h-7.4zM1128.9 433.6h7.4v7.4h-7.4zM1107.9 440.6h7.4v7.4h-7.4zM1128.9 440.6h7.4v7.4h-7.4zM1128.9 447.5h7.4v7.4h-7.4zM1107.9 454.5h7.4v7.4h-7.4zM1114.9 461.5h7.4v7.4h-7.4zM701.5 671.2h7.4v7.4h-7.4zM694.5 678.2h14.4v7.4h-14.4zM715.5 678.2h14.4v7.4h-14.4zM701.5 685.2h7.4v7.4h-7.4zM722.5 685.2h14.4v7.4h-14.4zM708.5 692.2h42.4v7.4h-42.4zM918.7 692.2h14.4v7.4h-14.4zM1149.9 692.2h21.4v7.4h-21.4zM729.5 699.2h28.4v7.4h-28.4zM918.7 699.2h21.4v7.4h-21.4zM1128.9 699.2h14.4v7.4h-14.4zM1185.0 699.2h7.4v7.4h-7.4zM925.7 706.2h7.4v7.4h-7.4zM1002.8 706.2h21.4v7.4h-21.4zM1121.9 706.2h7.4v7.4h-7.4zM1206.0 706.2h7.4v7.4h-7.4zM1037.8 713.2h21.4v7.4h-21.4zM1107.9 713.2h7.4v7.4h-7.4zM981.8 727.2h7.4v7.4h-7.4zM1009.8 734.1h7.4v7.4h-7.4zM1016.8 748.1h7.4v7.4h-7.4zM1023.8 762.1h7.4v7.4h-7.4zM883.7 769.1h14.4v7.4h-14.4zM1030.8 769.1h7.4v7.4h-7.4zM862.7 776.1h14.4v7.4h-14.4zM904.7 776.1h7.4v7.4h-7.4zM925.7 776.1h28.4v7.4h-28.4zM1030.8 776.1h7.4v7.4h-7.4zM848.6 783.1h21.4v7.4h-21.4zM953.7 783.1h7.4v7.4h-7.4zM1023.8 783.1h7.4v7.4h-7.4zM841.6 790.1h21.4v7.4h-21.4zM967.8 790.1h7.4v7.4h-7.4zM995.8 790.1h21.4v7.4h-21.4zM806.6 797.1h7.4v7.4h-7.4zM834.6 797.1h14.4v7.4h-14.4zM806.6 804.0h14.4v7.4h-14.4zM827.6 804.0h14.4v7.4h-14.4zM827.6 811.0h14.4v7.4h-14.4zM834.6 818.0h7.4v7.4h-7.4zM834.6 825.0h7.4v7.4h-7.4zM841.6 832.0h7.4v19.4h-7.4z"/><path fill="#ff8700" d="M449.3 114.0h7.4v19.4h-7.4zM673.5 114.0h14.4v19.4h-14.4zM449.3 133.0h7.4v7.4h-7.4zM449.3 140.0h7.4v7.4h-7.4zM456.3 147.0h7.4v7.4h-7.4zM568.4 147.0h21.4v7.4h-21.4zM463.3 154.0h7.4v7.4h-7.4zM554.4 154.0h42.4v7.4h-42.4zM610.4 154.0h14.4v7.4h-14.4zM631.4 154.0h21.4v7.4h-21.4zM484.3 161.0h56.5v7.4h-56.5zM547.4 161.0h14.4v7.4h-14.4zM596.4 161.0h7.4v7.4h-7.4zM659.5 161.0h7.4v7.4h-7.4zM533.3 167.9h7.4v7.4h-7.4zM554.4 167.9h7.4v7.4h-7.4zM659.5 167.9h7.4v7.4h-7.4zM722.5 167.9h14.4v7.4h-14.4zM533.3 174.9h7.4v7.4h-7.4zM554.4 174.9h7.4v7.4h-7.4zM666.5 174.9h7.4v7.4h-7.4zM722.5 174.9h21.4v7.4h-21.4zM533.3 181.9h7.4v7.4h-7.4zM554.4 181.9h7.4v7.4h-7.4zM666.5 181.9h14.4v7.4h-14.4zM729.5 181.9h14.4v7.4h-14.4zM533.3 188.9h7.4v7.4h-7.4zM554.4 188.9h7.4v7.4h-7.4zM666.5 188.9h42.4v7.4h-42.4zM533.3 195.9h7.4v7.4h-7.4zM666.5 195.9h35.4v7.4h-35.4zM540.3 202.9h7.4v7.4h-7.4zM561.4 202.9h7.4v7.4h-7.4zM666.5 202.9h7.4v7.4h-7.4zM554.4 209.9h7.4v7.4h-7.4zM596.4 209.9h21.4v7.4h-21.4zM666.5 209.9h7.4v7.4h-7.4zM589.4 216.9h28.4v7.4h-28.4zM666.5 216.9h7.4v7.4h-7.4zM582.4 223.9h7.4v7.4h-7.4zM603.4 223.9h7.4v7.4h-7.4zM666.5 223.9h7.4v7.4h-7.4zM582.4 230.9h7.4v7.4h-7.4zM603.4 230.9h7.4v7.4h-7.4zM666.5 230.9h7.4v7.4h-7.4zM582.4 237.8h7.4v7.4h-7.4zM603.4 237.8h7.4v7.4h-7.4zM666.5 237.8h7.4v7.4h-7.4zM589.4 244.8h21.4v7.4h-21.4zM659.5 244.8h7.4v7.4h-7.4zM694.5 244.8h28.4v7.4h-28.4zM589.4 251.8h7.4v7.4h-7.4zM603.4 251.8h7.4v7.4h-7.4zM659.5 251.8h7.4v7.4h-7.4zM680.5 251.8h7.4v7.4h-7.4zM722.5 251.8h7.4v7.4h-7.4zM582.4 258.8h7.4v7.4h-7.4zM603.4 258.8h7.4v7.4h-7.4zM645.4 258.8h14.4v7.4h-14.4zM673.5 258.8h7.4v7.4h-7.4zM729.5 258.8h7.4v7.4h-7.4zM575.4 265.8h7.4v7.4h-7.4zM603.4 265.8h7.4v7.4h-7.4zM624.4 265.8h7.4v7.4h-7.4zM666.5 265.8h7.4v7.4h-7.4zM729.5 265.8h7.4v7.4h-7.4zM568.4 272.8h7.4v7.4h-7.4zM603.4 272.8h7.4v7.4h-7.4zM617.4 272.8h7.4v7.4h-7.4zM666.5 272.8h7.4v7.4h-7.4zM729.5 272.8h7.4v7.4h-7.4zM575.4 279.8h7.4v7.4h-7.4zM596.4 279.8h14.4v7.4h-14.4zM617.4 279.8h7.4v7.4h-7.4zM666.5 279.8h7.4v7.4h-7.4zM708.5 279.8h28.4v7.4h-28.4zM575.4 286.8h21.4v7.4h-21.4zM624.4 286.8h7.4v7.4h-7.4zM666.5 286.8h7.4v7.4h-7.4zM694.5 286.8h7.4v7.4h-7.4zM722.5 286.8h21.4v7.4h-21.4zM631.4 293.8h7.4v7.4h-7.4zM666.5 293.8h7.4v7.4h-7.4zM687.5 293.8h7.4v7.4h-7.4zM729.5 293.8h7.4v7.4h-7.4zM645.4 300.8h28.4v7.4h-28.4zM687.5 300.8h7.4v7.4h-7.4zM813.6 300.8h21.4v7.4h-21.4zM939.7 300.8h14.4v7.4h-14.4zM652.5 307.7h14.4v7.4h-14.4zM694.5 307.7h7.4v7.4h-7.4zM785.6 307.7h21.4v7.4h-21.4zM834.6 307.7h7.4v7.4h-7.4zM939.7 307.7h14.4v7.4h-14.4zM1023.8 307.7h14.4v7.4h-14.4zM1213.0 307.7h26.4v7.4h-26.4zM652.5 314.7h7.4v7.4h-7.4zM778.6 314.7h14.4v7.4h-14.4zM834.6 314.7h7.4v7.4h-7.4zM1016.8 314.7h7.4v7.4h-7.4zM1030.8 314.7h14.4v7.4h-14.4zM1213.0 314.7h26.4v7.4h-26.4zM645.4 321.7h14.4v7.4h-14.4zM701.5 321.7h7.4v7.4h-7.4zM771.6 321.7h7.4v7.4h-7.4zM834.6 321.7h14.4v7.4h-14.4zM1009.8 321.7h7.4v7.4h-7.4zM1030.8 321.7h7.4v7.4h-7.4zM1206.0 321.7h33.4v7.4h-33.4zM582.4 328.7h14.4v7.4h-14.4zM610.4 328.7h21.4v7.4h-21.4zM708.5 328.7h7.4v7.4h-7.4zM743.5 328.7h28.4v7.4h-28.4zM834.6 328.7h14.4v7.4h-14.4zM1009.8 328.7h7.4v7.4h-7.4zM1023.8 328.7h7.4v7.4h-7.4zM1170.9 328.7h14.4v7.4h-14.4zM582.4 335.7h49.4v7.4h-49.4zM708.5 335.7h7.4v7.4h-7.4zM743.5 335.7h7.4v7.4h-7.4zM827.6 335.7h14.4v7.4h-14.4zM897.7 335.7h7.4v7.4h-7.4zM918.7 335.7h21.4v7.4h-21.4zM960.7 335.7h14.4v7.4h-14.4zM1009.8 335.7h7.4v7.4h-7.4zM1023.8 335.7h7.4v7.4h-7.4zM1170.9 335.7h21.4v7.4h-21.4zM582.4 342.7h42.4v7.4h-42.4zM743.5 342.7h7.4v7.4h-7.4zM827.6 342.7h7.4v7.4h-7.4zM890.7 342.7h7.4v7.4h-7.4zM974.8 342.7h14.4v7.4h-14.4zM1009.8 342.7h21.4v7.4h-21.4zM1114.9 342.7h28.4v7.4h-28.4zM1170.9 342.7h21.4v7.4h-21.4zM596.4 349.7h28.4v7.4h-28.4zM715.5 349.7h7.4v7.4h-7.4zM743.5 349.7h7.4v7.4h-7.4zM827.6 349.7h14.4v7.4h-14.4zM883.7 349.7h7.4v7.4h-7.4zM988.8 349.7h7.4v7.4h-7.4zM1002.8 349.7h35.4v7.4h-35.4zM1044.8 349.7h28.4v7.4h-28.4zM1100.9 349.7h21.4v7.4h-21.4zM1135.9 349.7h7.4v7.4h-7.4zM1170.9 349.7h21.4v7.4h-21.4zM715.5 356.7h7.4v7.4h-7.4zM743.5 356.7h14.4v7.4h-14.4zM827.6 356.7h35.4v7.4h-35.4zM883.7 356.7h7.4v7.4h-7.4zM988.8 356.7h49.4v7.4h-49.4zM1079.9 356.7h21.4v7.4h-21.4zM1135.9 356.7h7.4v7.4h-7.4zM1170.9 356.7h21.4v7.4h-21.4zM715.5 363.7h14.4v7.4h-14.4zM743.5 363.7h14.4v7.4h-14.4zM869.7 363.7h14.4v7.4h-14.4zM995.8 363.7h35.4v7.4h-35.4zM1135.9 363.7h7.4v7.4h-7.4zM1163.9 363.7h14.4v7.4h-14.4zM1185.0 363.7h7.4v7.4h-7.4zM722.5 370.7h7.4v7.4h-7.4zM736.5 370.7h21.4v7.4h-21.4zM1135.9 370.7h7.4v7.4h-7.4zM1163.9 370.7h7.4v7.4h-7.4zM1192.0 370.7h7.4v7.4h-7.4zM722.5 377.6h28.4v7.4h-28.4zM1135.9 377.6h7.4v7.4h-7.4zM1156.9 377.6h14.4v7.4h-14.4zM1199.0 377.6h7.4v7.4h-7.4zM1213.0 377.6h26.4v7.4h-26.4zM1128.9 384.6h7.4v7.4h-7.4zM1156.9 384.6h14.4v7.4h-14.4zM1128.9 391.6h7.4v7.4h-7.4zM1163.9 391.6h14.4v7.4h-14.4zM1121.9 398.6h7.4v7.4h-7.4zM1170.9 398.6h7.4v7.4h-7.4zM827.6 405.6h14.4v7.4h-14.4zM1107.9 405.6h14.4v7.4h-14.4zM1170.9 405.6h7.4v7.4h-7.4zM827.6 412.6h14.4v7.4h-14.4zM1100.9 412.6h14.4v7.4h-14.4zM1163.9 412.6h14.4v7.4h-14.4zM1100.9 419.6h14.4v7.4h-14.4zM1149.9 419.6h28.4v7.4h-28.4zM1100.9 426.6h7.4v7.4h-7.4zM1135.9 426.6h42.4v7.4h-42.4zM1135.9 433.6h7.4v7.4h-7.4zM869.7 447.5h14.4v7.4h-14.4zM876.7 454.5h7.4v7.4h-7.4zM1128.9 454.5h7.4v7.4h-7.4zM1121.9 461.5h7.4v7.4h-7.4zM680.5 664.2h21.4v7.4h-21.4zM687.5 671.2h14.4v7.4h-14.4zM708.5 671.2h14.4v7.4h-14.4zM729.5 678.2h7.4v7.4h-7.4zM694.5 685.2h7.4v7.4h-7.4zM736.5 685.2h14.4v7.4h-14.4zM918.7 685.2h7.4v7.4h-7.4zM701.5 692.2h7.4v7.4h-7.4zM750.5 692.2h7.4v7.4h-7.4zM897.7 692.2h21.4v7.4h-21.4zM932.7 692.2h7.4v7.4h-7.4zM1135.9 692.2h14.4v7.4h-14.4zM1170.9 692.2h7.4v7.4h-7.4zM715.5 699.2h14.4v7.4h-14.4zM757.6 699.2h7.4v7.4h-7.4zM897.7 699.2h21.4v7.4h-21.4zM1192.0 699.2h7.4v7.4h-7.4zM729.5 706.2h35.4v7.4h-35.4zM897.7 706.2h28.4v7.4h-28.4zM932.7 706.2h7.4v7.4h-7.4zM995.8 706.2h7.4v7.4h-7.4zM1023.8 706.2h7.4v7.4h-7.4zM1079.9 706.2h28.4v7.4h-28.4zM1114.9 706.2h7.4v7.4h-7.4zM1213.0 706.2h26.4v7.4h-26.4zM750.5 713.2h14.4v7.4h-14.4zM911.7 713.2h21.4v7.4h-21.4zM988.8 713.2h7.4v7.4h-7.4zM757.6 720.2h7.4v7.4h-7.4zM981.8 720.2h7.4v7.4h-7.4zM974.8 727.2h7.4v7.4h-7.4zM953.7 734.1h56.5v7.4h-56.5zM953.7 741.1h28.4v7.4h-28.4zM1009.8 741.1h7.4v7.4h-7.4zM953.7 748.1h21.4v7.4h-21.4zM1016.8 755.1h7.4v7.4h-7.4zM932.7 762.1h14.4v7.4h-14.4zM855.6 769.1h28.4v7.4h-28.4zM897.7 769.1h7.4v7.4h-7.4zM925.7 769.1h28.4v7.4h-28.4zM1023.8 769.1h7.4v7.4h-7.4zM841.6 776.1h21.4v7.4h-21.4zM911.7 776.1h14.4v7.4h-14.4zM953.7 776.1h7.4v7.4h-7.4zM1023.8 776.1h7.4v7.4h-7.4zM834.6 783.1h14.4v7.4h-14.4zM960.7 783.1h14.4v7.4h-14.4zM1016.8 783.1h7.4v7.4h-7.4zM799.6 790.1h14.4v7.4h-14.4zM827.6 790.1h14.4v7.4h-14.4zM974.8 790.1h21.4v7.4h-21.4zM792.6 797.1h14.4v7.4h-14.4zM813.6 797.1h21.4v7.4h-21.4zM792.6 804.0h14.4v7.4h-14.4zM820.6 804.0h7.4v7.4h-7.4zM806.6 811.0h21.4v7.4h-21.4zM820.6 818.0h14.4v7.4h-14.4zM827.6 825.0h7.4v7.4h-7.4zM834.6 832.0h7.4v19.4h-7.4z"/><path fill="#ff7c00" d="M442.3 114.0h7.4v19.4h-7.4zM442.3 133.0h7.4v7.4h-7.4zM442.3 140.0h7.4v7.4h-7.4zM442.3 147.0h14.4v7.4h-14.4zM456.3 154.0h7.4v7.4h-7.4zM624.4 154.0h7.4v7.4h-7.4zM470.3 161.0h14.4v7.4h-14.4zM561.4 161.0h35.4v7.4h-35.4zM603.4 161.0h14.4v7.4h-14.4zM645.4 161.0h14.4v7.4h-14.4zM498.3 167.9h35.4v7.4h-35.4zM561.4 167.9h7.4v7.4h-7.4zM652.5 167.9h7.4v7.4h-7.4zM526.3 174.9h7.4v7.4h-7.4zM561.4 174.9h7.4v7.4h-7.4zM659.5 174.9h7.4v7.4h-7.4zM526.3 181.9h7.4v7.4h-7.4zM561.4 181.9h7.4v7.4h-7.4zM652.5 181.9h14.4v7.4h-14.4zM505.3 188.9h7.4v7.4h-7.4zM526.3 188.9h7.4v7.4h-7.4zM561.4 188.9h7.4v7.4h-7.4zM624.4 188.9h42.4v7.4h-42.4zM526.3 195.9h7.4v7.4h-7.4zM561.4 195.9h7.4v7.4h-7.4zM610.4 195.9h56.5v7.4h-56.5zM533.3 202.9h7.4v7.4h-7.4zM596.4 202.9h70.5v7.4h-70.5zM547.4 209.9h7.4v7.4h-7.4zM561.4 209.9h7.4v7.4h-7.4zM582.4 209.9h14.4v7.4h-14.4zM617.4 209.9h21.4v7.4h-21.4zM659.5 209.9h7.4v7.4h-7.4zM582.4 216.9h7.4v7.4h-7.4zM617.4 216.9h7.4v7.4h-7.4zM659.5 216.9h7.4v7.4h-7.4zM610.4 223.9h7.4v7.4h-7.4zM659.5 223.9h7.4v7.4h-7.4zM659.5 230.9h7.4v7.4h-7.4zM659.5 237.8h7.4v7.4h-7.4zM582.4 244.8h7.4v7.4h-7.4zM582.4 251.8h7.4v7.4h-7.4zM610.4 251.8h7.4v7.4h-7.4zM652.5 251.8h7.4v7.4h-7.4zM687.5 251.8h14.4v7.4h-14.4zM708.5 251.8h14.4v7.4h-14.4zM575.4 258.8h7.4v7.4h-7.4zM610.4 258.8h35.4v7.4h-35.4zM680.5 258.8h7.4v7.4h-7.4zM722.5 258.8h7.4v7.4h-7.4zM568.4 265.8h7.4v7.4h-7.4zM610.4 265.8h14.4v7.4h-14.4zM673.5 265.8h7.4v7.4h-7.4zM722.5 265.8h7.4v7.4h-7.4zM610.4 272.8h7.4v7.4h-7.4zM715.5 272.8h14.4v7.4h-14.4zM568.4 279.8h7.4v7.4h-7.4zM610.4 279.8h7.4v7.4h-7.4zM694.5 279.8h14.4v7.4h-14.4zM596.4 286.8h28.4v7.4h-28.4zM673.5 286.8h7.4v7.4h-7.4zM687.5 286.8h7.4v7.4h-7.4zM575.4 293.8h21.4v7.4h-21.4zM624.4 293.8h7.4v7.4h-7.4zM673.5 293.8h14.4v7.4h-14.4zM582.4 300.8h7.4v7.4h-7.4zM631.4 300.8h14.4v7.4h-14.4zM673.5 300.8h14.4v7.4h-14.4zM575.4 307.7h14.4v7.4h-14.4zM638.4 307.7h14.4v7.4h-14.4zM666.5 307.7h7.4v7.4h-7.4zM687.5 307.7h7.4v7.4h-7.4zM806.6 307.7h28.4v7.4h-28.4zM575.4 314.7h14.4v7.4h-14.4zM638.4 314.7h14.4v7.4h-14.4zM659.5 314.7h7.4v7.4h-7.4zM694.5 314.7h7.4v7.4h-7.4zM792.6 314.7h21.4v7.4h-21.4zM827.6 314.7h7.4v7.4h-7.4zM1023.8 314.7h7.4v7.4h-7.4zM575.4 321.7h21.4v7.4h-21.4zM610.4 321.7h35.4v7.4h-35.4zM659.5 321.7h7.4v7.4h-7.4zM778.6 321.7h28.4v7.4h-28.4zM827.6 321.7h7.4v7.4h-7.4zM1016.8 321.7h14.4v7.4h-14.4zM575.4 328.7h7.4v7.4h-7.4zM596.4 328.7h14.4v7.4h-14.4zM631.4 328.7h28.4v7.4h-28.4zM701.5 328.7h7.4v7.4h-7.4zM771.6 328.7h7.4v7.4h-7.4zM820.6 328.7h14.4v7.4h-14.4zM1016.8 328.7h7.4v7.4h-7.4zM575.4 335.7h7.4v7.4h-7.4zM631.4 335.7h7.4v7.4h-7.4zM750.5 335.7h21.4v7.4h-21.4zM813.6 335.7h14.4v7.4h-14.4zM904.7 335.7h14.4v7.4h-14.4zM1016.8 335.7h7.4v7.4h-7.4zM575.4 342.7h7.4v7.4h-7.4zM624.4 342.7h7.4v7.4h-7.4zM708.5 342.7h7.4v7.4h-7.4zM750.5 342.7h14.4v7.4h-14.4zM813.6 342.7h14.4v7.4h-14.4zM897.7 342.7h7.4v7.4h-7.4zM939.7 342.7h35.4v7.4h-35.4zM582.4 349.7h14.4v7.4h-14.4zM624.4 349.7h7.4v7.4h-7.4zM708.5 349.7h7.4v7.4h-7.4zM750.5 349.7h14.4v7.4h-14.4zM813.6 349.7h14.4v7.4h-14.4zM890.7 349.7h7.4v7.4h-7.4zM974.8 349.7h14.4v7.4h-14.4zM1121.9 349.7h14.4v7.4h-14.4zM596.4 356.7h28.4v7.4h-28.4zM708.5 356.7h7.4v7.4h-7.4zM757.6 356.7h7.4v7.4h-7.4zM820.6 356.7h7.4v7.4h-7.4zM981.8 356.7h7.4v7.4h-7.4zM1037.8 356.7h14.4v7.4h-14.4zM1065.8 356.7h14.4v7.4h-14.4zM1100.9 356.7h35.4v7.4h-35.4zM610.4 363.7h21.4v7.4h-21.4zM708.5 363.7h7.4v7.4h-7.4zM757.6 363.7h14.4v7.4h-14.4zM820.6 363.7h49.4v7.4h-49.4zM883.7 363.7h7.4v7.4h-7.4zM981.8 363.7h14.4v7.4h-14.4zM1030.8 363.7h7.4v7.4h-7.4zM1079.9 363.7h21.4v7.4h-21.4zM1128.9 363.7h7.4v7.4h-7.4zM1178.0 363.7h7.4v7.4h-7.4zM617.4 370.7h14.4v7.4h-14.4zM708.5 370.7h14.4v7.4h-14.4zM757.6 370.7h7.4v7.4h-7.4zM820.6 370.7h21.4v7.4h-21.4zM981.8 370.7h49.4v7.4h-49.4zM1086.9 370.7h7.4v7.4h-7.4zM1128.9 370.7h7.4v7.4h-7.4zM1170.9 370.7h21.4v7.4h-21.4zM617.4 377.6h14.4v7.4h-14.4zM708.5 377.6h14.4v7.4h-14.4zM750.5 377.6h7.4v7.4h-7.4zM827.6 377.6h7.4v7.4h-7.4zM981.8 377.6h14.4v7.4h-14.4zM1128.9 377.6h7.4v7.4h-7.4zM1170.9 377.6h28.4v7.4h-28.4zM617.4 384.6h14.4v7.4h-14.4zM715.5 384.6h35.4v7.4h-35.4zM974.8 384.6h14.4v7.4h-14.4zM1170.9 384.6h14.4v7.4h-14.4zM1199.0 384.6h40.4v7.4h-40.4zM617.4 391.6h14.4v7.4h-14.4zM715.5 391.6h28.4v7.4h-28.4zM827.6 391.6h7.4v7.4h-7.4zM967.8 391.6h14.4v7.4h-14.4zM1086.9 391.6h14.4v7.4h-14.4zM1121.9 391.6h7.4v7.4h-7.4zM1178.0 391.6h7.4v7.4h-7.4zM722.5 398.6h21.4v7.4h-21.4zM820.6 398.6h21.4v7.4h-21.4zM1086.9 398.6h35.4v7.4h-35.4zM1178.0 398.6h7.4v7.4h-7.4zM722.5 405.6h28.4v7.4h-28.4zM820.6 405.6h7.4v7.4h-7.4zM841.6 405.6h7.4v7.4h-7.4zM1079.9 405.6h28.4v7.4h-28.4zM1178.0 405.6h7.4v7.4h-7.4zM729.5 412.6h28.4v7.4h-28.4zM820.6 412.6h7.4v7.4h-7.4zM841.6 412.6h7.4v7.4h-7.4zM1079.9 412.6h21.4v7.4h-21.4zM1178.0 412.6h7.4v7.4h-7.4zM736.5 419.6h21.4v7.4h-21.4zM820.6 419.6h21.4v7.4h-21.4zM1086.9 419.6h14.4v7.4h-14.4zM1178.0 419.6h7.4v7.4h-7.4zM736.5 426.6h14.4v7.4h-14.4zM1093.9 426.6h7.4v7.4h-7.4zM1178.0 426.6h7.4v7.4h-7.4zM1100.9 433.6h7.4v7.4h-7.4zM1142.9 433.6h42.4v7.4h-42.4zM869.7 440.6h21.4v7.4h-21.4zM1100.9 440.6h7.4v7.4h-7.4zM1135.9 440.6h7.4v7.4h-7.4zM883.7 447.5h7.4v7.4h-7.4zM1100.9 447.5h7.4v7.4h-7.4zM1135.9 447.5h7.4v7.4h-7.4zM869.7 454.5h7.4v7.4h-7.4zM883.7 454.5h7.4v7.4h-7.4zM876.7 461.5h7.4v7.4h-7.4zM1107.9 461.5h7.4v7.4h-7.4zM1128.9 461.5h7.4v7.4h-7.4zM673.5 657.3h21.4v7.4h-21.4zM673.5 664.2h7.4v7.4h-7.4zM701.5 664.2h7.4v7.4h-7.4zM680.5 671.2h7.4v7.4h-7.4zM722.5 671.2h14.4v7.4h-14.4zM687.5 678.2h7.4v7.4h-7.4zM736.5 678.2h14.4v7.4h-14.4zM750.5 685.2h7.4v7.4h-7.4zM897.7 685.2h21.4v7.4h-21.4zM925.7 685.2h14.4v7.4h-14.4zM1142.9 685.2h28.4v7.4h-28.4zM694.5 692.2h7.4v7.4h-7.4zM757.6 692.2h7.4v7.4h-7.4zM890.7 692.2h7.4v7.4h-7.4zM939.7 692.2h7.4v7.4h-7.4zM1128.9 692.2h7.4v7.4h-7.4zM1178.0 692.2h7.4v7.4h-7.4zM708.5 699.2h7.4v7.4h-7.4zM764.6 699.2h7.4v7.4h-7.4zM890.7 699.2h7.4v7.4h-7.4zM939.7 699.2h7.4v7.4h-7.4zM1121.9 699.2h7.4v7.4h-7.4zM1199.0 699.2h7.4v7.4h-7.4zM722.5 706.2h7.4v7.4h-7.4zM764.6 706.2h7.4v7.4h-7.4zM890.7 706.2h7.4v7.4h-7.4zM939.7 706.2h7.4v7.4h-7.4zM1030.8 706.2h7.4v7.4h-7.4zM1051.8 706.2h28.4v7.4h-28.4zM1107.9 706.2h7.4v7.4h-7.4zM736.5 713.2h14.4v7.4h-14.4zM764.6 713.2h7.4v7.4h-7.4zM897.7 713.2h14.4v7.4h-14.4zM932.7 713.2h14.4v7.4h-14.4zM743.5 720.2h14.4v7.4h-14.4zM764.6 720.2h14.4v7.4h-14.4zM897.7 720.2h42.4v7.4h-42.4zM757.6 727.2h14.4v7.4h-14.4zM897.7 727.2h35.4v7.4h-35.4zM960.7 727.2h14.4v7.4h-14.4zM897.7 734.1h56.5v7.4h-56.5zM890.7 741.1h21.4v7.4h-21.4zM925.7 741.1h28.4v7.4h-28.4zM981.8 741.1h14.4v7.4h-14.4zM1002.8 741.1h7.4v7.4h-7.4zM883.7 748.1h21.4v7.4h-21.4zM925.7 748.1h28.4v7.4h-28.4zM974.8 748.1h14.4v7.4h-14.4zM1009.8 748.1h7.4v7.4h-7.4zM883.7 755.1h21.4v7.4h-21.4zM925.7 755.1h56.5v7.4h-56.5zM1009.8 755.1h7.4v7.4h-7.4zM841.6 762.1h63.5v7.4h-63.5zM925.7 762.1h7.4v7.4h-7.4zM946.7 762.1h28.4v7.4h-28.4zM1016.8 762.1h7.4v7.4h-7.4zM841.6 769.1h14.4v7.4h-14.4zM904.7 769.1h21.4v7.4h-21.4zM953.7 769.1h21.4v7.4h-21.4zM1016.8 769.1h7.4v7.4h-7.4zM834.6 776.1h7.4v7.4h-7.4zM960.7 776.1h14.4v7.4h-14.4zM1016.8 776.1h7.4v7.4h-7.4zM799.6 783.1h7.4v7.4h-7.4zM827.6 783.1h7.4v7.4h-7.4zM974.8 783.1h42.4v7.4h-42.4zM785.6 790.1h14.4v7.4h-14.4zM813.6 790.1h14.4v7.4h-14.4zM785.6 797.1h7.4v7.4h-7.4zM785.6 804.0h7.4v7.4h-7.4zM792.6 811.0h14.4v7.4h-14.4zM680.5 818.0h14.4v7.4h-14.4zM806.6 818.0h14.4v7.4h-14.4zM680.5 825.0h14.4v7.4h-14.4zM813.6 825.0h14.4v7.4h-14.4zM680.5 832.0h7.4v19.4h-7.4zM827.6 832.0h7.4v19.4h-7.4z"/><path fill="#ff7200" d="M428.2 114.0h14.4v19.4h-14.4zM428.2 133.0h14.4v7.4h-14.4zM428.2 140.0h14.4v7.4h-14.4zM428.2 147.0h14.4v7.4h-14.4zM428.2 154.0h28.4v7.4h-28.4zM435.2 161.0h14.4v7.4h-14.4zM463.3 161.0h7.4v7.4h-7.4zM617.4 161.0h28.4v7.4h-28.4zM484.3 167.9h14.4v7.4h-14.4zM568.4 167.9h49.4v7.4h-49.4zM638.4 167.9h14.4v7.4h-14.4zM498.3 174.9h28.4v7.4h-28.4zM568.4 174.9h7.4v7.4h-7.4zM624.4 174.9h35.4v7.4h-35.4zM498.3 181.9h28.4v7.4h-28.4zM568.4 181.9h7.4v7.4h-7.4zM617.4 181.9h35.4v7.4h-35.4zM498.3 188.9h7.4v7.4h-7.4zM512.3 188.9h14.4v7.4h-14.4zM568.4 188.9h7.4v7.4h-7.4zM610.4 188.9h14.4v7.4h-14.4zM498.3 195.9h28.4v7.4h-28.4zM568.4 195.9h7.4v7.4h-7.4zM596.4 195.9h14.4v7.4h-14.4zM526.3 202.9h7.4v7.4h-7.4zM568.4 202.9h28.4v7.4h-28.4zM533.3 209.9h14.4v7.4h-14.4zM568.4 209.9h14.4v7.4h-14.4zM638.4 209.9h21.4v7.4h-21.4zM547.4 216.9h35.4v7.4h-35.4zM624.4 216.9h14.4v7.4h-14.4zM652.5 216.9h7.4v7.4h-7.4zM575.4 223.9h7.4v7.4h-7.4zM617.4 223.9h7.4v7.4h-7.4zM652.5 223.9h7.4v7.4h-7.4zM575.4 230.9h7.4v7.4h-7.4zM610.4 230.9h7.4v7.4h-7.4zM575.4 237.8h7.4v7.4h-7.4zM610.4 237.8h7.4v7.4h-7.4zM652.5 237.8h7.4v7.4h-7.4zM575.4 244.8h7.4v7.4h-7.4zM610.4 244.8h7.4v7.4h-7.4zM652.5 244.8h7.4v7.4h-7.4zM575.4 251.8h7.4v7.4h-7.4zM617.4 251.8h7.4v7.4h-7.4zM645.4 251.8h7.4v7.4h-7.4zM701.5 251.8h7.4v7.4h-7.4zM568.4 258.8h7.4v7.4h-7.4zM687.5 258.8h14.4v7.4h-14.4zM708.5 258.8h14.4v7.4h-14.4zM561.4 265.8h7.4v7.4h-7.4zM680.5 265.8h7.4v7.4h-7.4zM708.5 265.8h14.4v7.4h-14.4zM561.4 272.8h7.4v7.4h-7.4zM673.5 272.8h7.4v7.4h-7.4zM694.5 272.8h21.4v7.4h-21.4zM561.4 279.8h7.4v7.4h-7.4zM673.5 279.8h21.4v7.4h-21.4zM568.4 286.8h7.4v7.4h-7.4zM680.5 286.8h7.4v7.4h-7.4zM568.4 293.8h7.4v7.4h-7.4zM596.4 293.8h28.4v7.4h-28.4zM575.4 300.8h7.4v7.4h-7.4zM589.4 300.8h7.4v7.4h-7.4zM617.4 300.8h14.4v7.4h-14.4zM589.4 307.7h7.4v7.4h-7.4zM624.4 307.7h14.4v7.4h-14.4zM673.5 307.7h14.4v7.4h-14.4zM568.4 314.7h7.4v7.4h-7.4zM589.4 314.7h7.4v7.4h-7.4zM617.4 314.7h21.4v7.4h-21.4zM666.5 314.7h7.4v7.4h-7.4zM687.5 314.7h7.4v7.4h-7.4zM813.6 314.7h14.4v7.4h-14.4zM568.4 321.7h7.4v7.4h-7.4zM596.4 321.7h14.4v7.4h-14.4zM666.5 321.7h7.4v7.4h-7.4zM694.5 321.7h7.4v7.4h-7.4zM806.6 321.7h21.4v7.4h-21.4zM568.4 328.7h7.4v7.4h-7.4zM659.5 328.7h7.4v7.4h-7.4zM778.6 328.7h42.4v7.4h-42.4zM568.4 335.7h7.4v7.4h-7.4zM638.4 335.7h28.4v7.4h-28.4zM701.5 335.7h7.4v7.4h-7.4zM771.6 335.7h7.4v7.4h-7.4zM799.6 335.7h14.4v7.4h-14.4zM568.4 342.7h7.4v7.4h-7.4zM631.4 342.7h7.4v7.4h-7.4zM652.5 342.7h14.4v7.4h-14.4zM701.5 342.7h7.4v7.4h-7.4zM764.6 342.7h7.4v7.4h-7.4zM806.6 342.7h7.4v7.4h-7.4zM904.7 342.7h35.4v7.4h-35.4zM575.4 349.7h7.4v7.4h-7.4zM659.5 349.7h14.4v7.4h-14.4zM701.5 349.7h7.4v7.4h-7.4zM764.6 349.7h7.4v7.4h-7.4zM806.6 349.7h7.4v7.4h-7.4zM897.7 349.7h7.4v7.4h-7.4zM946.7 349.7h28.4v7.4h-28.4zM575.4 356.7h21.4v7.4h-21.4zM624.4 356.7h7.4v7.4h-7.4zM694.5 356.7h14.4v7.4h-14.4zM764.6 356.7h7.4v7.4h-7.4zM813.6 356.7h7.4v7.4h-7.4zM890.7 356.7h7.4v7.4h-7.4zM974.8 356.7h7.4v7.4h-7.4zM1051.8 356.7h14.4v7.4h-14.4zM582.4 363.7h28.4v7.4h-28.4zM631.4 363.7h7.4v7.4h-7.4zM687.5 363.7h21.4v7.4h-21.4zM813.6 363.7h7.4v7.4h-7.4zM890.7 363.7h7.4v7.4h-7.4zM974.8 363.7h7.4v7.4h-7.4zM1037.8 363.7h7.4v7.4h-7.4zM1065.8 363.7h14.4v7.4h-14.4zM1100.9 363.7h28.4v7.4h-28.4zM603.4 370.7h14.4v7.4h-14.4zM631.4 370.7h7.4v7.4h-7.4zM694.5 370.7h14.4v7.4h-14.4zM764.6 370.7h7.4v7.4h-7.4zM813.6 370.7h7.4v7.4h-7.4zM841.6 370.7h56.5v7.4h-56.5zM974.8 370.7h7.4v7.4h-7.4zM1030.8 370.7h7.4v7.4h-7.4zM1072.9 370.7h14.4v7.4h-14.4zM1093.9 370.7h14.4v7.4h-14.4zM1114.9 370.7h14.4v7.4h-14.4zM582.4 377.6h7.4v7.4h-7.4zM610.4 377.6h7.4v7.4h-7.4zM631.4 377.6h14.4v7.4h-14.4zM701.5 377.6h7.4v7.4h-7.4zM757.6 377.6h7.4v7.4h-7.4zM813.6 377.6h14.4v7.4h-14.4zM834.6 377.6h7.4v7.4h-7.4zM967.8 377.6h14.4v7.4h-14.4zM995.8 377.6h42.4v7.4h-42.4zM1072.9 377.6h35.4v7.4h-35.4zM1114.9 377.6h14.4v7.4h-14.4zM582.4 384.6h7.4v7.4h-7.4zM610.4 384.6h7.4v7.4h-7.4zM631.4 384.6h7.4v7.4h-7.4zM708.5 384.6h7.4v7.4h-7.4zM750.5 384.6h7.4v7.4h-7.4zM820.6 384.6h21.4v7.4h-21.4zM932.7 384.6h42.4v7.4h-42.4zM988.8 384.6h14.4v7.4h-14.4zM1016.8 384.6h21.4v7.4h-21.4zM1072.9 384.6h56.5v7.4h-56.5zM1185.0 384.6h14.4v7.4h-14.4zM610.4 391.6h7.4v7.4h-7.4zM631.4 391.6h7.4v7.4h-7.4zM708.5 391.6h7.4v7.4h-7.4zM743.5 391.6h7.4v7.4h-7.4zM813.6 391.6h14.4v7.4h-14.4zM834.6 391.6h7.4v7.4h-7.4zM932.7 391.6h35.4v7.4h-35.4zM981.8 391.6h21.4v7.4h-21.4zM1072.9 391.6h14.4v7.4h-14.4zM1100.9 391.6h21.4v7.4h-21.4zM1185.0 391.6h35.4v7.4h-35.4zM610.4 398.6h21.4v7.4h-21.4zM715.5 398.6h7.4v7.4h-7.4zM743.5 398.6h7.4v7.4h-7.4zM813.6 398.6h7.4v7.4h-7.4zM841.6 398.6h7.4v7.4h-7.4zM953.7 398.6h49.4v7.4h-49.4zM1072.9 398.6h14.4v7.4h-14.4zM1185.0 398.6h21.4v7.4h-21.4zM715.5 405.6h7.4v7.4h-7.4zM750.5 405.6h7.4v7.4h-7.4zM813.6 405.6h7.4v7.4h-7.4zM848.6 405.6h7.4v7.4h-7.4zM960.7 405.6h35.4v7.4h-35.4zM1072.9 405.6h7.4v7.4h-7.4zM1185.0 405.6h14.4v7.4h-14.4zM722.5 412.6h7.4v7.4h-7.4zM757.6 412.6h14.4v7.4h-14.4zM813.6 412.6h7.4v7.4h-7.4zM848.6 412.6h7.4v7.4h-7.4zM967.8 412.6h21.4v7.4h-21.4zM1072.9 412.6h7.4v7.4h-7.4zM1185.0 412.6h14.4v7.4h-14.4zM729.5 419.6h7.4v7.4h-7.4zM757.6 419.6h14.4v7.4h-14.4zM813.6 419.6h7.4v7.4h-7.4zM841.6 419.6h7.4v7.4h-7.4zM1072.9 419.6h14.4v7.4h-14.4zM1185.0 419.6h7.4v7.4h-7.4zM729.5 426.6h7.4v7.4h-7.4zM750.5 426.6h14.4v7.4h-14.4zM820.6 426.6h28.4v7.4h-28.4zM1086.9 426.6h7.4v7.4h-7.4zM1185.0 426.6h7.4v7.4h-7.4zM736.5 433.6h7.4v7.4h-7.4zM1093.9 433.6h7.4v7.4h-7.4zM1185.0 433.6h7.4v7.4h-7.4zM890.7 440.6h7.4v7.4h-7.4zM1037.8 440.6h7.4v7.4h-7.4zM1142.9 440.6h42.4v7.4h-42.4zM862.7 447.5h7.4v7.4h-7.4zM890.7 447.5h7.4v7.4h-7.4zM1142.9 447.5h7.4v7.4h-7.4zM862.7 454.5h7.4v7.4h-7.4zM890.7 454.5h7.4v7.4h-7.4zM1100.9 454.5h7.4v7.4h-7.4zM1135.9 454.5h7.4v7.4h-7.4zM869.7 461.5h7.4v7.4h-7.4zM883.7 461.5h7.4v7.4h-7.4zM687.5 545.4h7.4v7.4h-7.4zM666.5 650.3h21.4v7.4h-21.4zM666.5 657.3h7.4v7.4h-7.4zM694.5 657.3h7.4v7.4h-7.4zM708.5 664.2h14.4v7.4h-14.4zM736.5 671.2h14.4v7.4h-14.4zM750.5 678.2h7.4v7.4h-7.4zM1149.9 678.2h14.4v7.4h-14.4zM687.5 685.2h7.4v7.4h-7.4zM757.6 685.2h7.4v7.4h-7.4zM890.7 685.2h7.4v7.4h-7.4zM1135.9 685.2h7.4v7.4h-7.4zM1170.9 685.2h7.4v7.4h-7.4zM764.6 692.2h7.4v7.4h-7.4zM1185.0 692.2h7.4v7.4h-7.4zM701.5 699.2h7.4v7.4h-7.4zM1002.8 699.2h14.4v7.4h-14.4zM1086.9 699.2h35.4v7.4h-35.4zM1206.0 699.2h14.4v7.4h-14.4zM715.5 706.2h7.4v7.4h-7.4zM771.6 706.2h7.4v7.4h-7.4zM946.7 706.2h7.4v7.4h-7.4zM988.8 706.2h7.4v7.4h-7.4zM1037.8 706.2h14.4v7.4h-14.4zM722.5 713.2h14.4v7.4h-14.4zM771.6 713.2h7.4v7.4h-7.4zM890.7 713.2h7.4v7.4h-7.4zM946.7 713.2h7.4v7.4h-7.4zM981.8 713.2h7.4v7.4h-7.4zM736.5 720.2h7.4v7.4h-7.4zM778.6 720.2h7.4v7.4h-7.4zM890.7 720.2h7.4v7.4h-7.4zM939.7 720.2h14.4v7.4h-14.4zM974.8 720.2h7.4v7.4h-7.4zM743.5 727.2h14.4v7.4h-14.4zM771.6 727.2h14.4v7.4h-14.4zM890.7 727.2h7.4v7.4h-7.4zM932.7 727.2h28.4v7.4h-28.4zM729.5 734.1h14.4v7.4h-14.4zM890.7 734.1h7.4v7.4h-7.4zM883.7 741.1h7.4v7.4h-7.4zM911.7 741.1h14.4v7.4h-14.4zM995.8 741.1h7.4v7.4h-7.4zM834.6 748.1h7.4v7.4h-7.4zM876.7 748.1h7.4v7.4h-7.4zM904.7 748.1h21.4v7.4h-21.4zM988.8 748.1h21.4v7.4h-21.4zM834.6 755.1h49.4v7.4h-49.4zM904.7 755.1h21.4v7.4h-21.4zM981.8 755.1h14.4v7.4h-14.4zM1002.8 755.1h7.4v7.4h-7.4zM778.6 762.1h14.4v7.4h-14.4zM834.6 762.1h7.4v7.4h-7.4zM904.7 762.1h21.4v7.4h-21.4zM974.8 762.1h14.4v7.4h-14.4zM1002.8 762.1h14.4v7.4h-14.4zM778.6 769.1h21.4v7.4h-21.4zM827.6 769.1h14.4v7.4h-14.4zM974.8 769.1h21.4v7.4h-21.4zM1002.8 769.1h14.4v7.4h-14.4zM785.6 776.1h28.4v7.4h-28.4zM820.6 776.1h14.4v7.4h-14.4zM974.8 776.1h42.4v7.4h-42.4zM778.6 783.1h21.4v7.4h-21.4zM806.6 783.1h21.4v7.4h-21.4zM778.6 790.1h7.4v7.4h-7.4zM778.6 797.1h7.4v7.4h-7.4zM778.6 804.0h7.4v7.4h-7.4zM673.5 811.0h21.4v7.4h-21.4zM778.6 811.0h14.4v7.4h-14.4zM673.5 818.0h7.4v7.4h-7.4zM694.5 818.0h7.4v7.4h-7.4zM785.6 818.0h21.4v7.4h-21.4zM673.5 825.0h7.4v7.4h-7.4zM694.5 825.0h7.4v7.4h-7.4zM799.6 825.0h14.4v7.4h-14.4zM673.5 832.0h7.4v19.4h-7.4zM687.5 832.0h7.4v19.4h-7.4zM799.6 832.0h28.4v19.4h-28.4z"/><path fill="#ff6800" d="M421.2 114.0h7.4v19.4h-7.4zM421.2 133.0h7.4v7.4h-7.4zM421.2 140.0h7.4v7.4h-7.4zM428.2 161.0h7.4v7.4h-7.4zM449.3 161.0h14.4v7.4h-14.4zM435.2 167.9h14.4v7.4h-14.4zM477.3 167.9h7.4v7.4h-7.4zM617.4 167.9h21.4v7.4h-21.4zM491.3 174.9h7.4v7.4h-7.4zM575.4 174.9h49.4v7.4h-49.4zM491.3 181.9h7.4v7.4h-7.4zM575.4 181.9h42.4v7.4h-42.4zM491.3 188.9h7.4v7.4h-7.4zM575.4 188.9h35.4v7.4h-35.4zM491.3 195.9h7.4v7.4h-7.4zM575.4 195.9h21.4v7.4h-21.4zM491.3 202.9h35.4v7.4h-35.4zM463.3 209.9h14.4v7.4h-14.4zM526.3 209.9h7.4v7.4h-7.4zM463.3 216.9h14.4v7.4h-14.4zM540.3 216.9h7.4v7.4h-7.4zM638.4 216.9h14.4v7.4h-14.4zM463.3 223.9h14.4v7.4h-14.4zM568.4 223.9h7.4v7.4h-7.4zM624.4 223.9h28.4v7.4h-28.4zM568.4 230.9h7.4v7.4h-7.4zM617.4 230.9h14.4v7.4h-14.4zM652.5 230.9h7.4v7.4h-7.4zM617.4 237.8h7.4v7.4h-7.4zM645.4 237.8h7.4v7.4h-7.4zM617.4 244.8h14.4v7.4h-14.4zM645.4 244.8h7.4v7.4h-7.4zM568.4 251.8h7.4v7.4h-7.4zM624.4 251.8h21.4v7.4h-21.4zM505.3 258.8h21.4v7.4h-21.4zM561.4 258.8h7.4v7.4h-7.4zM701.5 258.8h7.4v7.4h-7.4zM498.3 265.8h28.4v7.4h-28.4zM687.5 265.8h21.4v7.4h-21.4zM463.3 272.8h7.4v7.4h-7.4zM498.3 272.8h21.4v7.4h-21.4zM680.5 272.8h14.4v7.4h-14.4zM498.3 279.8h14.4v7.4h-14.4zM561.4 286.8h7.4v7.4h-7.4zM568.4 300.8h7.4v7.4h-7.4zM596.4 300.8h21.4v7.4h-21.4zM568.4 307.7h7.4v7.4h-7.4zM596.4 307.7h28.4v7.4h-28.4zM596.4 314.7h21.4v7.4h-21.4zM673.5 314.7h14.4v7.4h-14.4zM673.5 321.7h7.4v7.4h-7.4zM687.5 321.7h7.4v7.4h-7.4zM666.5 328.7h7.4v7.4h-7.4zM687.5 328.7h14.4v7.4h-14.4zM666.5 335.7h7.4v7.4h-7.4zM694.5 335.7h7.4v7.4h-7.4zM778.6 335.7h21.4v7.4h-21.4zM638.4 342.7h14.4v7.4h-14.4zM666.5 342.7h35.4v7.4h-35.4zM771.6 342.7h14.4v7.4h-14.4zM799.6 342.7h7.4v7.4h-7.4zM568.4 349.7h7.4v7.4h-7.4zM631.4 349.7h28.4v7.4h-28.4zM673.5 349.7h28.4v7.4h-28.4zM771.6 349.7h7.4v7.4h-7.4zM904.7 349.7h14.4v7.4h-14.4zM932.7 349.7h14.4v7.4h-14.4zM568.4 356.7h7.4v7.4h-7.4zM631.4 356.7h7.4v7.4h-7.4zM652.5 356.7h42.4v7.4h-42.4zM771.6 356.7h7.4v7.4h-7.4zM806.6 356.7h7.4v7.4h-7.4zM897.7 356.7h14.4v7.4h-14.4zM939.7 356.7h35.4v7.4h-35.4zM575.4 363.7h7.4v7.4h-7.4zM638.4 363.7h49.4v7.4h-49.4zM771.6 363.7h7.4v7.4h-7.4zM806.6 363.7h7.4v7.4h-7.4zM897.7 363.7h14.4v7.4h-14.4zM967.8 363.7h7.4v7.4h-7.4zM1044.8 363.7h21.4v7.4h-21.4zM575.4 370.7h28.4v7.4h-28.4zM638.4 370.7h28.4v7.4h-28.4zM680.5 370.7h14.4v7.4h-14.4zM771.6 370.7h7.4v7.4h-7.4zM806.6 370.7h7.4v7.4h-7.4zM897.7 370.7h14.4v7.4h-14.4zM932.7 370.7h42.4v7.4h-42.4zM1037.8 370.7h14.4v7.4h-14.4zM1058.8 370.7h14.4v7.4h-14.4zM1107.9 370.7h7.4v7.4h-7.4zM575.4 377.6h7.4v7.4h-7.4zM589.4 377.6h21.4v7.4h-21.4zM645.4 377.6h7.4v7.4h-7.4zM687.5 377.6h14.4v7.4h-14.4zM764.6 377.6h7.4v7.4h-7.4zM806.6 377.6h7.4v7.4h-7.4zM841.6 377.6h14.4v7.4h-14.4zM869.7 377.6h35.4v7.4h-35.4zM925.7 377.6h42.4v7.4h-42.4zM1037.8 377.6h7.4v7.4h-7.4zM1065.8 377.6h7.4v7.4h-7.4zM1107.9 377.6h7.4v7.4h-7.4zM575.4 384.6h7.4v7.4h-7.4zM589.4 384.6h21.4v7.4h-21.4zM638.4 384.6h7.4v7.4h-7.4zM694.5 384.6h14.4v7.4h-14.4zM757.6 384.6h7.4v7.4h-7.4zM806.6 384.6h14.4v7.4h-14.4zM841.6 384.6h7.4v7.4h-7.4zM925.7 384.6h7.4v7.4h-7.4zM1002.8 384.6h14.4v7.4h-14.4zM1037.8 384.6h7.4v7.4h-7.4zM1058.8 384.6h14.4v7.4h-14.4zM575.4 391.6h35.4v7.4h-35.4zM638.4 391.6h7.4v7.4h-7.4zM701.5 391.6h7.4v7.4h-7.4zM750.5 391.6h7.4v7.4h-7.4zM806.6 391.6h7.4v7.4h-7.4zM841.6 391.6h7.4v7.4h-7.4zM925.7 391.6h7.4v7.4h-7.4zM1002.8 391.6h42.4v7.4h-42.4zM1065.8 391.6h7.4v7.4h-7.4zM1220.0 391.6h19.4v7.4h-19.4zM603.4 398.6h7.4v7.4h-7.4zM631.4 398.6h7.4v7.4h-7.4zM701.5 398.6h14.4v7.4h-14.4zM750.5 398.6h14.4v7.4h-14.4zM806.6 398.6h7.4v7.4h-7.4zM848.6 398.6h7.4v7.4h-7.4zM932.7 398.6h21.4v7.4h-21.4zM1002.8 398.6h35.4v7.4h-35.4zM1065.8 398.6h7.4v7.4h-7.4zM1206.0 398.6h14.4v7.4h-14.4zM610.4 405.6h21.4v7.4h-21.4zM708.5 405.6h7.4v7.4h-7.4zM757.6 405.6h21.4v7.4h-21.4zM806.6 405.6h7.4v7.4h-7.4zM946.7 405.6h14.4v7.4h-14.4zM995.8 405.6h14.4v7.4h-14.4zM1065.8 405.6h7.4v7.4h-7.4zM1199.0 405.6h14.4v7.4h-14.4zM715.5 412.6h7.4v7.4h-7.4zM771.6 412.6h14.4v7.4h-14.4zM806.6 412.6h7.4v7.4h-7.4zM855.6 412.6h7.4v7.4h-7.4zM897.7 412.6h14.4v7.4h-14.4zM953.7 412.6h14.4v7.4h-14.4zM988.8 412.6h14.4v7.4h-14.4zM1065.8 412.6h7.4v7.4h-7.4zM1199.0 412.6h7.4v7.4h-7.4zM722.5 419.6h7.4v7.4h-7.4zM771.6 419.6h7.4v7.4h-7.4zM848.6 419.6h7.4v7.4h-7.4zM897.7 419.6h21.4v7.4h-21.4zM960.7 419.6h35.4v7.4h-35.4zM1065.8 419.6h7.4v7.4h-7.4zM1192.0 419.6h7.4v7.4h-7.4zM764.6 426.6h7.4v7.4h-7.4zM813.6 426.6h7.4v7.4h-7.4zM848.6 426.6h7.4v7.4h-7.4zM890.7 426.6h28.4v7.4h-28.4zM967.8 426.6h14.4v7.4h-14.4zM1065.8 426.6h21.4v7.4h-21.4zM1192.0 426.6h7.4v7.4h-7.4zM729.5 433.6h7.4v7.4h-7.4zM743.5 433.6h14.4v7.4h-14.4zM827.6 433.6h21.4v7.4h-21.4zM869.7 433.6h49.4v7.4h-49.4zM1030.8 433.6h21.4v7.4h-21.4zM1065.8 433.6h28.4v7.4h-28.4zM1192.0 433.6h7.4v7.4h-7.4zM862.7 440.6h7.4v7.4h-7.4zM897.7 440.6h14.4v7.4h-14.4zM1023.8 440.6h14.4v7.4h-14.4zM1044.8 440.6h21.4v7.4h-21.4zM1093.9 440.6h7.4v7.4h-7.4zM1185.0 440.6h14.4v7.4h-14.4zM897.7 447.5h7.4v7.4h-7.4zM1030.8 447.5h28.4v7.4h-28.4zM1093.9 447.5h7.4v7.4h-7.4zM1149.9 447.5h14.4v7.4h-14.4zM1142.9 454.5h7.4v7.4h-7.4zM862.7 461.5h7.4v7.4h-7.4zM890.7 461.5h7.4v7.4h-7.4zM1100.9 461.5h7.4v7.4h-7.4zM1135.9 461.5h7.4v7.4h-7.4zM876.7 468.5h7.4v7.4h-7.4zM1114.9 468.5h7.4v7.4h-7.4zM687.5 538.4h7.4v7.4h-7.4zM680.5 545.4h7.4v7.4h-7.4zM694.5 545.4h7.4v7.4h-7.4zM673.5 552.4h28.4v7.4h-28.4zM701.5 657.3h7.4v7.4h-7.4zM666.5 664.2h7.4v7.4h-7.4zM722.5 664.2h21.4v7.4h-21.4zM673.5 671.2h7.4v7.4h-7.4zM750.5 671.2h7.4v7.4h-7.4zM680.5 678.2h7.4v7.4h-7.4zM757.6 678.2h7.4v7.4h-7.4zM890.7 678.2h35.4v7.4h-35.4zM1135.9 678.2h14.4v7.4h-14.4zM1163.9 678.2h7.4v7.4h-7.4zM764.6 685.2h7.4v7.4h-7.4zM883.7 685.2h7.4v7.4h-7.4zM939.7 685.2h7.4v7.4h-7.4zM1128.9 685.2h7.4v7.4h-7.4zM1178.0 685.2h7.4v7.4h-7.4zM883.7 692.2h7.4v7.4h-7.4zM946.7 692.2h7.4v7.4h-7.4zM1121.9 692.2h7.4v7.4h-7.4zM1192.0 692.2h7.4v7.4h-7.4zM771.6 699.2h7.4v7.4h-7.4zM883.7 699.2h7.4v7.4h-7.4zM946.7 699.2h7.4v7.4h-7.4zM995.8 699.2h7.4v7.4h-7.4zM1016.8 699.2h7.4v7.4h-7.4zM1058.8 699.2h28.4v7.4h-28.4zM1220.0 699.2h19.4v7.4h-19.4zM708.5 706.2h7.4v7.4h-7.4zM883.7 706.2h7.4v7.4h-7.4zM715.5 713.2h7.4v7.4h-7.4zM778.6 713.2h7.4v7.4h-7.4zM883.7 713.2h7.4v7.4h-7.4zM953.7 713.2h7.4v7.4h-7.4zM974.8 713.2h7.4v7.4h-7.4zM729.5 720.2h7.4v7.4h-7.4zM785.6 720.2h7.4v7.4h-7.4zM953.7 720.2h21.4v7.4h-21.4zM729.5 727.2h14.4v7.4h-14.4zM785.6 727.2h7.4v7.4h-7.4zM883.7 727.2h7.4v7.4h-7.4zM722.5 734.1h7.4v7.4h-7.4zM743.5 734.1h42.4v7.4h-42.4zM820.6 734.1h14.4v7.4h-14.4zM883.7 734.1h7.4v7.4h-7.4zM722.5 741.1h42.4v7.4h-42.4zM778.6 741.1h14.4v7.4h-14.4zM806.6 741.1h42.4v7.4h-42.4zM876.7 741.1h7.4v7.4h-7.4zM729.5 748.1h105.5v7.4h-105.5zM841.6 748.1h35.4v7.4h-35.4zM743.5 755.1h91.5v7.4h-91.5zM995.8 755.1h7.4v7.4h-7.4zM750.5 762.1h28.4v7.4h-28.4zM792.6 762.1h42.4v7.4h-42.4zM988.8 762.1h14.4v7.4h-14.4zM750.5 769.1h28.4v7.4h-28.4zM799.6 769.1h28.4v7.4h-28.4zM995.8 769.1h7.4v7.4h-7.4zM750.5 776.1h35.4v7.4h-35.4zM813.6 776.1h7.4v7.4h-7.4zM743.5 783.1h35.4v7.4h-35.4zM743.5 790.1h35.4v7.4h-35.4zM736.5 797.1h42.4v7.4h-42.4zM673.5 804.0h21.4v7.4h-21.4zM736.5 804.0h21.4v7.4h-21.4zM764.6 804.0h14.4v7.4h-14.4zM666.5 811.0h7.4v7.4h-7.4zM694.5 811.0h7.4v7.4h-7.4zM771.6 811.0h7.4v7.4h-7.4zM666.5 818.0h7.4v7.4h-7.4zM701.5 818.0h7.4v7.4h-7.4zM778.6 818.0h7.4v7.4h-7.4zM666.5 825.0h7.4v7.4h-7.4zM701.5 825.0h7.4v7.4h-7.4zM785.6 825.0h14.4v7.4h-14.4zM666.5 832.0h7.4v19.4h-7.4zM694.5 832.0h14.4v19.4h-14.4zM785.6 832.0h14.4v19.4h-14.4z"/><path fill="#ff5d00" d="M414.2 114.0h7.4v19.4h-7.4zM414.2 133.0h7.4v7.4h-7.4zM421.2 147.0h7.4v7.4h-7.4zM421.2 154.0h7.4v7.4h-7.4zM421.2 161.0h7.4v7.4h-7.4zM428.2 167.9h7.4v7.4h-7.4zM449.3 167.9h28.4v7.4h-28.4zM435.2 174.9h7.4v7.4h-7.4zM477.3 174.9h14.4v7.4h-14.4zM484.3 181.9h7.4v7.4h-7.4zM477.3 188.9h14.4v7.4h-14.4zM463.3 195.9h28.4v7.4h-28.4zM456.3 202.9h35.4v7.4h-35.4zM456.3 209.9h7.4v7.4h-7.4zM477.3 209.9h49.4v7.4h-49.4zM456.3 216.9h7.4v7.4h-7.4zM477.3 216.9h14.4v7.4h-14.4zM526.3 216.9h14.4v7.4h-14.4zM456.3 223.9h7.4v7.4h-7.4zM477.3 223.9h7.4v7.4h-7.4zM547.4 223.9h21.4v7.4h-21.4zM463.3 230.9h14.4v7.4h-14.4zM561.4 230.9h7.4v7.4h-7.4zM631.4 230.9h21.4v7.4h-21.4zM470.3 237.8h7.4v7.4h-7.4zM568.4 237.8h7.4v7.4h-7.4zM624.4 237.8h21.4v7.4h-21.4zM519.3 244.8h7.4v7.4h-7.4zM568.4 244.8h7.4v7.4h-7.4zM631.4 244.8h14.4v7.4h-14.4zM463.3 251.8h7.4v7.4h-7.4zM505.3 251.8h28.4v7.4h-28.4zM561.4 251.8h7.4v7.4h-7.4zM463.3 258.8h14.4v7.4h-14.4zM498.3 258.8h7.4v7.4h-7.4zM526.3 258.8h14.4v7.4h-14.4zM554.4 258.8h7.4v7.4h-7.4zM456.3 265.8h42.4v7.4h-42.4zM526.3 265.8h7.4v7.4h-7.4zM554.4 265.8h7.4v7.4h-7.4zM456.3 272.8h7.4v7.4h-7.4zM470.3 272.8h28.4v7.4h-28.4zM519.3 272.8h14.4v7.4h-14.4zM554.4 272.8h7.4v7.4h-7.4zM456.3 279.8h21.4v7.4h-21.4zM491.3 279.8h7.4v7.4h-7.4zM512.3 279.8h14.4v7.4h-14.4zM554.4 279.8h7.4v7.4h-7.4zM463.3 286.8h7.4v7.4h-7.4zM498.3 286.8h21.4v7.4h-21.4zM561.4 293.8h7.4v7.4h-7.4zM561.4 300.8h7.4v7.4h-7.4zM561.4 307.7h7.4v7.4h-7.4zM561.4 314.7h7.4v7.4h-7.4zM561.4 321.7h7.4v7.4h-7.4zM680.5 321.7h7.4v7.4h-7.4zM561.4 328.7h7.4v7.4h-7.4zM673.5 328.7h14.4v7.4h-14.4zM561.4 335.7h7.4v7.4h-7.4zM673.5 335.7h21.4v7.4h-21.4zM561.4 342.7h7.4v7.4h-7.4zM785.6 342.7h14.4v7.4h-14.4zM561.4 349.7h7.4v7.4h-7.4zM778.6 349.7h28.4v7.4h-28.4zM918.7 349.7h14.4v7.4h-14.4zM561.4 356.7h7.4v7.4h-7.4zM638.4 356.7h14.4v7.4h-14.4zM778.6 356.7h7.4v7.4h-7.4zM799.6 356.7h7.4v7.4h-7.4zM911.7 356.7h28.4v7.4h-28.4zM568.4 363.7h7.4v7.4h-7.4zM778.6 363.7h7.4v7.4h-7.4zM799.6 363.7h7.4v7.4h-7.4zM911.7 363.7h56.5v7.4h-56.5zM568.4 370.7h7.4v7.4h-7.4zM666.5 370.7h14.4v7.4h-14.4zM778.6 370.7h7.4v7.4h-7.4zM799.6 370.7h7.4v7.4h-7.4zM911.7 370.7h21.4v7.4h-21.4zM1051.8 370.7h7.4v7.4h-7.4zM568.4 377.6h7.4v7.4h-7.4zM652.5 377.6h35.4v7.4h-35.4zM771.6 377.6h14.4v7.4h-14.4zM799.6 377.6h7.4v7.4h-7.4zM855.6 377.6h14.4v7.4h-14.4zM904.7 377.6h21.4v7.4h-21.4zM1044.8 377.6h21.4v7.4h-21.4zM568.4 384.6h7.4v7.4h-7.4zM645.4 384.6h7.4v7.4h-7.4zM687.5 384.6h7.4v7.4h-7.4zM764.6 384.6h14.4v7.4h-14.4zM792.6 384.6h14.4v7.4h-14.4zM848.6 384.6h7.4v7.4h-7.4zM883.7 384.6h42.4v7.4h-42.4zM1044.8 384.6h14.4v7.4h-14.4zM568.4 391.6h7.4v7.4h-7.4zM687.5 391.6h14.4v7.4h-14.4zM757.6 391.6h14.4v7.4h-14.4zM792.6 391.6h14.4v7.4h-14.4zM848.6 391.6h7.4v7.4h-7.4zM890.7 391.6h35.4v7.4h-35.4zM1044.8 391.6h21.4v7.4h-21.4zM575.4 398.6h28.4v7.4h-28.4zM638.4 398.6h7.4v7.4h-7.4zM680.5 398.6h21.4v7.4h-21.4zM764.6 398.6h21.4v7.4h-21.4zM799.6 398.6h7.4v7.4h-7.4zM855.6 398.6h7.4v7.4h-7.4zM890.7 398.6h42.4v7.4h-42.4zM1037.8 398.6h28.4v7.4h-28.4zM1220.0 398.6h19.4v7.4h-19.4zM596.4 405.6h14.4v7.4h-14.4zM631.4 405.6h14.4v7.4h-14.4zM680.5 405.6h28.4v7.4h-28.4zM778.6 405.6h14.4v7.4h-14.4zM799.6 405.6h7.4v7.4h-7.4zM855.6 405.6h14.4v7.4h-14.4zM890.7 405.6h56.5v7.4h-56.5zM1009.8 405.6h35.4v7.4h-35.4zM1058.8 405.6h7.4v7.4h-7.4zM1213.0 405.6h7.4v7.4h-7.4zM603.4 412.6h21.4v7.4h-21.4zM673.5 412.6h21.4v7.4h-21.4zM708.5 412.6h7.4v7.4h-7.4zM785.6 412.6h7.4v7.4h-7.4zM799.6 412.6h7.4v7.4h-7.4zM862.7 412.6h7.4v7.4h-7.4zM890.7 412.6h7.4v7.4h-7.4zM911.7 412.6h14.4v7.4h-14.4zM946.7 412.6h7.4v7.4h-7.4zM1002.8 412.6h21.4v7.4h-21.4zM1058.8 412.6h7.4v7.4h-7.4zM1206.0 412.6h7.4v7.4h-7.4zM715.5 419.6h7.4v7.4h-7.4zM778.6 419.6h7.4v7.4h-7.4zM806.6 419.6h7.4v7.4h-7.4zM855.6 419.6h14.4v7.4h-14.4zM883.7 419.6h14.4v7.4h-14.4zM918.7 419.6h7.4v7.4h-7.4zM953.7 419.6h7.4v7.4h-7.4zM995.8 419.6h21.4v7.4h-21.4zM1058.8 419.6h7.4v7.4h-7.4zM1199.0 419.6h7.4v7.4h-7.4zM722.5 426.6h7.4v7.4h-7.4zM771.6 426.6h7.4v7.4h-7.4zM806.6 426.6h7.4v7.4h-7.4zM855.6 426.6h35.4v7.4h-35.4zM918.7 426.6h7.4v7.4h-7.4zM953.7 426.6h14.4v7.4h-14.4zM981.8 426.6h49.4v7.4h-49.4zM1051.8 426.6h14.4v7.4h-14.4zM1199.0 426.6h7.4v7.4h-7.4zM757.6 433.6h7.4v7.4h-7.4zM813.6 433.6h14.4v7.4h-14.4zM848.6 433.6h21.4v7.4h-21.4zM918.7 433.6h7.4v7.4h-7.4zM960.7 433.6h21.4v7.4h-21.4zM995.8 433.6h35.4v7.4h-35.4zM1051.8 433.6h14.4v7.4h-14.4zM1199.0 433.6h7.4v7.4h-7.4zM736.5 440.6h14.4v7.4h-14.4zM834.6 440.6h28.4v7.4h-28.4zM911.7 440.6h14.4v7.4h-14.4zM1002.8 440.6h21.4v7.4h-21.4zM1065.8 440.6h28.4v7.4h-28.4zM1199.0 440.6h7.4v7.4h-7.4zM323.1 447.5h7.4v7.4h-7.4zM855.6 447.5h7.4v7.4h-7.4zM904.7 447.5h14.4v7.4h-14.4zM1023.8 447.5h7.4v7.4h-7.4zM1058.8 447.5h14.4v7.4h-14.4zM1163.9 447.5h42.4v7.4h-42.4zM323.1 454.5h7.4v7.4h-7.4zM855.6 454.5h7.4v7.4h-7.4zM897.7 454.5h7.4v7.4h-7.4zM1037.8 454.5h21.4v7.4h-21.4zM1093.9 454.5h7.4v7.4h-7.4zM1149.9 454.5h7.4v7.4h-7.4zM792.6 461.5h7.4v7.4h-7.4zM855.6 461.5h7.4v7.4h-7.4zM869.7 468.5h7.4v7.4h-7.4zM883.7 468.5h7.4v7.4h-7.4zM1107.9 468.5h7.4v7.4h-7.4zM1121.9 468.5h14.4v7.4h-14.4zM680.5 538.4h7.4v7.4h-7.4zM694.5 538.4h7.4v7.4h-7.4zM673.5 545.4h7.4v7.4h-7.4zM701.5 545.4h7.4v7.4h-7.4zM666.5 552.4h7.4v7.4h-7.4zM701.5 552.4h7.4v7.4h-7.4zM666.5 559.4h28.4v7.4h-28.4zM645.4 608.3h7.4v7.4h-7.4zM645.4 615.3h14.4v7.4h-14.4zM645.4 622.3h14.4v7.4h-14.4zM652.5 629.3h7.4v7.4h-7.4zM659.5 643.3h21.4v7.4h-21.4zM659.5 650.3h7.4v7.4h-7.4zM687.5 650.3h7.4v7.4h-7.4zM659.5 657.3h7.4v7.4h-7.4zM708.5 657.3h7.4v7.4h-7.4zM771.6 657.3h7.4v7.4h-7.4zM743.5 664.2h35.4v7.4h-35.4zM876.7 664.2h7.4v7.4h-7.4zM1163.9 664.2h14.4v7.4h-14.4zM757.6 671.2h21.4v7.4h-21.4zM876.7 671.2h21.4v7.4h-21.4zM1142.9 671.2h35.4v7.4h-35.4zM764.6 678.2h7.4v7.4h-7.4zM883.7 678.2h7.4v7.4h-7.4zM925.7 678.2h14.4v7.4h-14.4zM1170.9 678.2h7.4v7.4h-7.4zM680.5 685.2h7.4v7.4h-7.4zM771.6 685.2h7.4v7.4h-7.4zM946.7 685.2h7.4v7.4h-7.4zM1185.0 685.2h7.4v7.4h-7.4zM687.5 692.2h7.4v7.4h-7.4zM771.6 692.2h7.4v7.4h-7.4zM1079.9 692.2h42.4v7.4h-42.4zM1199.0 692.2h14.4v7.4h-14.4zM694.5 699.2h7.4v7.4h-7.4zM953.7 699.2h7.4v7.4h-7.4zM1023.8 699.2h7.4v7.4h-7.4zM1051.8 699.2h7.4v7.4h-7.4zM701.5 706.2h7.4v7.4h-7.4zM778.6 706.2h7.4v7.4h-7.4zM953.7 706.2h7.4v7.4h-7.4zM981.8 706.2h7.4v7.4h-7.4zM708.5 713.2h7.4v7.4h-7.4zM785.6 713.2h7.4v7.4h-7.4zM960.7 713.2h14.4v7.4h-14.4zM722.5 720.2h7.4v7.4h-7.4zM792.6 720.2h7.4v7.4h-7.4zM883.7 720.2h7.4v7.4h-7.4zM722.5 727.2h7.4v7.4h-7.4zM792.6 727.2h7.4v7.4h-7.4zM708.5 734.1h14.4v7.4h-14.4zM785.6 734.1h35.4v7.4h-35.4zM834.6 734.1h14.4v7.4h-14.4zM876.7 734.1h7.4v7.4h-7.4zM715.5 741.1h7.4v7.4h-7.4zM764.6 741.1h14.4v7.4h-14.4zM792.6 741.1h14.4v7.4h-14.4zM848.6 741.1h28.4v7.4h-28.4zM722.5 748.1h7.4v7.4h-7.4zM729.5 755.1h14.4v7.4h-14.4zM736.5 762.1h14.4v7.4h-14.4zM743.5 769.1h7.4v7.4h-7.4zM743.5 776.1h7.4v7.4h-7.4zM736.5 783.1h7.4v7.4h-7.4zM736.5 790.1h7.4v7.4h-7.4zM680.5 797.1h14.4v7.4h-14.4zM729.5 797.1h7.4v7.4h-7.4zM666.5 804.0h7.4v7.4h-7.4zM694.5 804.0h7.4v7.4h-7.4zM729.5 804.0h7.4v7.4h-7.4zM757.6 804.0h7.4v7.4h-7.4zM701.5 811.0h7.4v7.4h-7.4zM729.5 811.0h42.4v7.4h-42.4zM708.5 818.0h7.4v7.4h-7.4zM729.5 818.0h14.4v7.4h-14.4zM771.6 818.0h7.4v7.4h-7.4zM708.5 825.0h35.4v7.4h-35.4zM771.6 825.0h14.4v7.4h-14.4zM708.5 832.0h42.4v19.4h-42.4zM778.6 832.0h7.4v19.4h-7.4z"/><path fill="#ff5300" d="M407.2 114.0h7.4v19.4h-7.4zM414.2 140.0h7.4v7.4h-7.4zM414.2 147.0h7.4v7.4h-7.4zM421.2 167.9h7.4v7.4h-7.4zM428.2 174.9h7.4v7.4h-7.4zM442.3 174.9h35.4v7.4h-35.4zM463.3 181.9h21.4v7.4h-21.4zM456.3 188.9h21.4v7.4h-21.4zM449.3 195.9h14.4v7.4h-14.4zM449.3 202.9h7.4v7.4h-7.4zM449.3 209.9h7.4v7.4h-7.4zM449.3 216.9h7.4v7.4h-7.4zM491.3 216.9h35.4v7.4h-35.4zM449.3 223.9h7.4v7.4h-7.4zM484.3 223.9h7.4v7.4h-7.4zM519.3 223.9h28.4v7.4h-28.4zM456.3 230.9h7.4v7.4h-7.4zM477.3 230.9h14.4v7.4h-14.4zM526.3 230.9h35.4v7.4h-35.4zM456.3 237.8h14.4v7.4h-14.4zM477.3 237.8h7.4v7.4h-7.4zM519.3 237.8h14.4v7.4h-14.4zM561.4 237.8h7.4v7.4h-7.4zM456.3 244.8h28.4v7.4h-28.4zM505.3 244.8h14.4v7.4h-14.4zM526.3 244.8h14.4v7.4h-14.4zM561.4 244.8h7.4v7.4h-7.4zM456.3 251.8h7.4v7.4h-7.4zM470.3 251.8h14.4v7.4h-14.4zM498.3 251.8h7.4v7.4h-7.4zM533.3 251.8h7.4v7.4h-7.4zM554.4 251.8h7.4v7.4h-7.4zM449.3 258.8h14.4v7.4h-14.4zM477.3 258.8h21.4v7.4h-21.4zM540.3 258.8h14.4v7.4h-14.4zM449.3 265.8h7.4v7.4h-7.4zM533.3 265.8h21.4v7.4h-21.4zM533.3 272.8h7.4v7.4h-7.4zM547.4 272.8h7.4v7.4h-7.4zM477.3 279.8h14.4v7.4h-14.4zM526.3 279.8h7.4v7.4h-7.4zM456.3 286.8h7.4v7.4h-7.4zM470.3 286.8h7.4v7.4h-7.4zM491.3 286.8h7.4v7.4h-7.4zM519.3 286.8h7.4v7.4h-7.4zM554.4 286.8h7.4v7.4h-7.4zM498.3 293.8h21.4v7.4h-21.4zM498.3 300.8h7.4v7.4h-7.4zM554.4 314.7h7.4v7.4h-7.4zM554.4 321.7h7.4v7.4h-7.4zM554.4 328.7h7.4v7.4h-7.4zM554.4 335.7h7.4v7.4h-7.4zM547.4 342.7h14.4v7.4h-14.4zM547.4 349.7h14.4v7.4h-14.4zM540.3 356.7h21.4v7.4h-21.4zM785.6 356.7h14.4v7.4h-14.4zM554.4 363.7h14.4v7.4h-14.4zM785.6 363.7h14.4v7.4h-14.4zM561.4 370.7h7.4v7.4h-7.4zM785.6 370.7h14.4v7.4h-14.4zM561.4 377.6h7.4v7.4h-7.4zM785.6 377.6h14.4v7.4h-14.4zM561.4 384.6h7.4v7.4h-7.4zM652.5 384.6h35.4v7.4h-35.4zM778.6 384.6h14.4v7.4h-14.4zM855.6 384.6h28.4v7.4h-28.4zM561.4 391.6h7.4v7.4h-7.4zM645.4 391.6h7.4v7.4h-7.4zM673.5 391.6h14.4v7.4h-14.4zM771.6 391.6h21.4v7.4h-21.4zM855.6 391.6h14.4v7.4h-14.4zM876.7 391.6h14.4v7.4h-14.4zM568.4 398.6h7.4v7.4h-7.4zM645.4 398.6h7.4v7.4h-7.4zM673.5 398.6h7.4v7.4h-7.4zM785.6 398.6h14.4v7.4h-14.4zM862.7 398.6h28.4v7.4h-28.4zM575.4 405.6h21.4v7.4h-21.4zM645.4 405.6h7.4v7.4h-7.4zM666.5 405.6h14.4v7.4h-14.4zM792.6 405.6h7.4v7.4h-7.4zM869.7 405.6h21.4v7.4h-21.4zM1044.8 405.6h14.4v7.4h-14.4zM1220.0 405.6h19.4v7.4h-19.4zM589.4 412.6h14.4v7.4h-14.4zM624.4 412.6h21.4v7.4h-21.4zM659.5 412.6h14.4v7.4h-14.4zM694.5 412.6h14.4v7.4h-14.4zM792.6 412.6h7.4v7.4h-7.4zM869.7 412.6h21.4v7.4h-21.4zM925.7 412.6h21.4v7.4h-21.4zM1023.8 412.6h35.4v7.4h-35.4zM1213.0 412.6h26.4v7.4h-26.4zM589.4 419.6h21.4v7.4h-21.4zM659.5 419.6h28.4v7.4h-28.4zM785.6 419.6h21.4v7.4h-21.4zM869.7 419.6h14.4v7.4h-14.4zM925.7 419.6h28.4v7.4h-28.4zM1016.8 419.6h42.4v7.4h-42.4zM1206.0 419.6h7.4v7.4h-7.4zM778.6 426.6h7.4v7.4h-7.4zM799.6 426.6h7.4v7.4h-7.4zM925.7 426.6h7.4v7.4h-7.4zM946.7 426.6h7.4v7.4h-7.4zM1030.8 426.6h21.4v7.4h-21.4zM1206.0 426.6h7.4v7.4h-7.4zM722.5 433.6h7.4v7.4h-7.4zM764.6 433.6h7.4v7.4h-7.4zM806.6 433.6h7.4v7.4h-7.4zM925.7 433.6h7.4v7.4h-7.4zM953.7 433.6h7.4v7.4h-7.4zM981.8 433.6h14.4v7.4h-14.4zM1206.0 433.6h7.4v7.4h-7.4zM729.5 440.6h7.4v7.4h-7.4zM750.5 440.6h7.4v7.4h-7.4zM799.6 440.6h35.4v7.4h-35.4zM925.7 440.6h14.4v7.4h-14.4zM946.7 440.6h56.5v7.4h-56.5zM1206.0 440.6h7.4v7.4h-7.4zM316.1 447.5h7.4v7.4h-7.4zM792.6 447.5h63.5v7.4h-63.5zM918.7 447.5h56.5v7.4h-56.5zM988.8 447.5h35.4v7.4h-35.4zM1072.9 447.5h21.4v7.4h-21.4zM316.1 454.5h7.4v7.4h-7.4zM330.1 454.5h7.4v7.4h-7.4zM785.6 454.5h28.4v7.4h-28.4zM834.6 454.5h21.4v7.4h-21.4zM904.7 454.5h14.4v7.4h-14.4zM946.7 454.5h14.4v7.4h-14.4zM1002.8 454.5h7.4v7.4h-7.4zM1023.8 454.5h14.4v7.4h-14.4zM1058.8 454.5h14.4v7.4h-14.4zM1156.9 454.5h7.4v7.4h-7.4zM1185.0 454.5h21.4v7.4h-21.4zM316.1 461.5h14.4v7.4h-14.4zM785.6 461.5h7.4v7.4h-7.4zM799.6 461.5h7.4v7.4h-7.4zM834.6 461.5h21.4v7.4h-21.4zM897.7 461.5h7.4v7.4h-7.4zM1037.8 461.5h14.4v7.4h-14.4zM1142.9 461.5h7.4v7.4h-7.4zM323.1 468.5h7.4v7.4h-7.4zM785.6 468.5h21.4v7.4h-21.4zM862.7 468.5h7.4v7.4h-7.4zM890.7 468.5h7.4v7.4h-7.4zM1135.9 468.5h7.4v7.4h-7.4zM687.5 531.4h14.4v7.4h-14.4zM701.5 538.4h7.4v7.4h-7.4zM708.5 545.4h7.4v7.4h-7.4zM694.5 559.4h7.4v7.4h-7.4zM666.5 566.4h14.4v7.4h-14.4zM645.4 601.3h14.4v7.4h-14.4zM638.4 608.3h7.4v7.4h-7.4zM652.5 608.3h7.4v7.4h-7.4zM645.4 629.3h7.4v7.4h-7.4zM659.5 629.3h7.4v7.4h-7.4zM652.5 636.3h21.4v7.4h-21.4zM652.5 643.3h7.4v7.4h-7.4zM680.5 643.3h7.4v7.4h-7.4zM771.6 643.3h14.4v7.4h-14.4zM694.5 650.3h7.4v7.4h-7.4zM771.6 650.3h21.4v7.4h-21.4zM1170.9 650.3h21.4v7.4h-21.4zM715.5 657.3h28.4v7.4h-28.4zM764.6 657.3h7.4v7.4h-7.4zM778.6 657.3h14.4v7.4h-14.4zM841.6 657.3h21.4v7.4h-21.4zM869.7 657.3h21.4v7.4h-21.4zM1156.9 657.3h35.4v7.4h-35.4zM659.5 664.2h7.4v7.4h-7.4zM778.6 664.2h7.4v7.4h-7.4zM841.6 664.2h35.4v7.4h-35.4zM883.7 664.2h14.4v7.4h-14.4zM1149.9 664.2h14.4v7.4h-14.4zM1178.0 664.2h14.4v7.4h-14.4zM666.5 671.2h7.4v7.4h-7.4zM778.6 671.2h7.4v7.4h-7.4zM869.7 671.2h7.4v7.4h-7.4zM897.7 671.2h14.4v7.4h-14.4zM1135.9 671.2h7.4v7.4h-7.4zM1178.0 671.2h14.4v7.4h-14.4zM673.5 678.2h7.4v7.4h-7.4zM771.6 678.2h7.4v7.4h-7.4zM876.7 678.2h7.4v7.4h-7.4zM939.7 678.2h7.4v7.4h-7.4zM1128.9 678.2h7.4v7.4h-7.4zM1178.0 678.2h14.4v7.4h-14.4zM876.7 685.2h7.4v7.4h-7.4zM1086.9 685.2h42.4v7.4h-42.4zM1192.0 685.2h14.4v7.4h-14.4zM876.7 692.2h7.4v7.4h-7.4zM953.7 692.2h7.4v7.4h-7.4zM1002.8 692.2h7.4v7.4h-7.4zM1058.8 692.2h21.4v7.4h-21.4zM1213.0 692.2h26.4v7.4h-26.4zM687.5 699.2h7.4v7.4h-7.4zM778.6 699.2h7.4v7.4h-7.4zM876.7 699.2h7.4v7.4h-7.4zM988.8 699.2h7.4v7.4h-7.4zM1030.8 699.2h21.4v7.4h-21.4zM694.5 706.2h7.4v7.4h-7.4zM785.6 706.2h7.4v7.4h-7.4zM876.7 706.2h7.4v7.4h-7.4zM960.7 706.2h21.4v7.4h-21.4zM701.5 713.2h7.4v7.4h-7.4zM792.6 713.2h7.4v7.4h-7.4zM876.7 713.2h7.4v7.4h-7.4zM708.5 720.2h14.4v7.4h-14.4zM799.6 720.2h7.4v7.4h-7.4zM876.7 720.2h7.4v7.4h-7.4zM715.5 727.2h7.4v7.4h-7.4zM799.6 727.2h42.4v7.4h-42.4zM876.7 727.2h7.4v7.4h-7.4zM701.5 734.1h7.4v7.4h-7.4zM848.6 734.1h28.4v7.4h-28.4zM701.5 741.1h14.4v7.4h-14.4zM708.5 748.1h14.4v7.4h-14.4zM708.5 755.1h21.4v7.4h-21.4zM715.5 762.1h7.4v7.4h-7.4zM729.5 762.1h7.4v7.4h-7.4zM736.5 769.1h7.4v7.4h-7.4zM736.5 776.1h7.4v7.4h-7.4zM729.5 783.1h7.4v7.4h-7.4zM680.5 790.1h21.4v7.4h-21.4zM729.5 790.1h7.4v7.4h-7.4zM673.5 797.1h7.4v7.4h-7.4zM694.5 797.1h14.4v7.4h-14.4zM701.5 804.0h7.4v7.4h-7.4zM722.5 804.0h7.4v7.4h-7.4zM659.5 811.0h7.4v7.4h-7.4zM708.5 811.0h21.4v7.4h-21.4zM659.5 818.0h7.4v7.4h-7.4zM715.5 818.0h14.4v7.4h-14.4zM743.5 818.0h28.4v7.4h-28.4zM659.5 825.0h7.4v7.4h-7.4zM743.5 825.0h28.4v7.4h-28.4zM659.5 832.0h7.4v19.4h-7.4zM750.5 832.0h28.4v19.4h-28.4z"/><path fill="#ff4800" d="M407.2 133.0h7.4v7.4h-7.4zM407.2 140.0h7.4v7.4h-7.4zM414.2 154.0h7.4v7.4h-7.4zM414.2 161.0h7.4v7.4h-7.4zM414.2 167.9h7.4v7.4h-7.4zM421.2 174.9h7.4v7.4h-7.4zM428.2 181.9h35.4v7.4h-35.4zM435.2 188.9h21.4v7.4h-21.4zM442.3 195.9h7.4v7.4h-7.4zM442.3 202.9h7.4v7.4h-7.4zM442.3 209.9h7.4v7.4h-7.4zM491.3 223.9h28.4v7.4h-28.4zM449.3 230.9h7.4v7.4h-7.4zM491.3 230.9h7.4v7.4h-7.4zM505.3 230.9h21.4v7.4h-21.4zM484.3 237.8h35.4v7.4h-35.4zM533.3 237.8h28.4v7.4h-28.4zM484.3 244.8h21.4v7.4h-21.4zM540.3 244.8h21.4v7.4h-21.4zM449.3 251.8h7.4v7.4h-7.4zM484.3 251.8h14.4v7.4h-14.4zM540.3 251.8h14.4v7.4h-14.4zM449.3 272.8h7.4v7.4h-7.4zM540.3 272.8h7.4v7.4h-7.4zM449.3 279.8h7.4v7.4h-7.4zM533.3 279.8h7.4v7.4h-7.4zM547.4 279.8h7.4v7.4h-7.4zM449.3 286.8h7.4v7.4h-7.4zM477.3 286.8h14.4v7.4h-14.4zM526.3 286.8h7.4v7.4h-7.4zM456.3 293.8h21.4v7.4h-21.4zM491.3 293.8h7.4v7.4h-7.4zM554.4 293.8h7.4v7.4h-7.4zM491.3 300.8h7.4v7.4h-7.4zM505.3 300.8h14.4v7.4h-14.4zM554.4 300.8h7.4v7.4h-7.4zM498.3 307.7h7.4v7.4h-7.4zM554.4 307.7h7.4v7.4h-7.4zM547.4 321.7h7.4v7.4h-7.4zM547.4 328.7h7.4v7.4h-7.4zM547.4 335.7h7.4v7.4h-7.4zM540.3 342.7h7.4v7.4h-7.4zM540.3 349.7h7.4v7.4h-7.4zM533.3 356.7h7.4v7.4h-7.4zM533.3 363.7h21.4v7.4h-21.4zM533.3 370.7h28.4v7.4h-28.4zM554.4 377.6h7.4v7.4h-7.4zM554.4 384.6h7.4v7.4h-7.4zM554.4 391.6h7.4v7.4h-7.4zM652.5 391.6h21.4v7.4h-21.4zM869.7 391.6h7.4v7.4h-7.4zM561.4 398.6h7.4v7.4h-7.4zM652.5 398.6h21.4v7.4h-21.4zM568.4 405.6h7.4v7.4h-7.4zM652.5 405.6h14.4v7.4h-14.4zM575.4 412.6h14.4v7.4h-14.4zM645.4 412.6h14.4v7.4h-14.4zM582.4 419.6h7.4v7.4h-7.4zM610.4 419.6h14.4v7.4h-14.4zM631.4 419.6h28.4v7.4h-28.4zM687.5 419.6h14.4v7.4h-14.4zM708.5 419.6h7.4v7.4h-7.4zM1213.0 419.6h26.4v7.4h-26.4zM582.4 426.6h28.4v7.4h-28.4zM659.5 426.6h28.4v7.4h-28.4zM715.5 426.6h7.4v7.4h-7.4zM785.6 426.6h14.4v7.4h-14.4zM932.7 426.6h14.4v7.4h-14.4zM1213.0 426.6h7.4v7.4h-7.4zM771.6 433.6h7.4v7.4h-7.4zM792.6 433.6h14.4v7.4h-14.4zM932.7 433.6h21.4v7.4h-21.4zM1213.0 433.6h7.4v7.4h-7.4zM316.1 440.6h14.4v7.4h-14.4zM757.6 440.6h14.4v7.4h-14.4zM792.6 440.6h7.4v7.4h-7.4zM939.7 440.6h7.4v7.4h-7.4zM330.1 447.5h7.4v7.4h-7.4zM736.5 447.5h14.4v7.4h-14.4zM785.6 447.5h7.4v7.4h-7.4zM974.8 447.5h14.4v7.4h-14.4zM1206.0 447.5h7.4v7.4h-7.4zM778.6 454.5h7.4v7.4h-7.4zM813.6 454.5h21.4v7.4h-21.4zM918.7 454.5h28.4v7.4h-28.4zM960.7 454.5h14.4v7.4h-14.4zM988.8 454.5h14.4v7.4h-14.4zM1009.8 454.5h14.4v7.4h-14.4zM1072.9 454.5h21.4v7.4h-21.4zM1163.9 454.5h21.4v7.4h-21.4zM1206.0 454.5h7.4v7.4h-7.4zM309.1 461.5h7.4v7.4h-7.4zM330.1 461.5h7.4v7.4h-7.4zM778.6 461.5h7.4v7.4h-7.4zM806.6 461.5h28.4v7.4h-28.4zM904.7 461.5h7.4v7.4h-7.4zM946.7 461.5h14.4v7.4h-14.4zM1030.8 461.5h7.4v7.4h-7.4zM1051.8 461.5h21.4v7.4h-21.4zM1093.9 461.5h7.4v7.4h-7.4zM1149.9 461.5h7.4v7.4h-7.4zM1192.0 461.5h14.4v7.4h-14.4zM316.1 468.5h7.4v7.4h-7.4zM330.1 468.5h7.4v7.4h-7.4zM778.6 468.5h7.4v7.4h-7.4zM806.6 468.5h7.4v7.4h-7.4zM827.6 468.5h35.4v7.4h-35.4zM897.7 468.5h7.4v7.4h-7.4zM1100.9 468.5h7.4v7.4h-7.4zM316.1 475.5h14.4v7.4h-14.4zM778.6 475.5h28.4v7.4h-28.4zM869.7 475.5h21.4v7.4h-21.4zM785.6 482.5h7.4v7.4h-7.4zM302.1 524.4h14.4v7.4h-14.4zM302.1 531.4h14.4v7.4h-14.4zM680.5 531.4h7.4v7.4h-7.4zM701.5 531.4h7.4v7.4h-7.4zM302.1 538.4h14.4v7.4h-14.4zM673.5 538.4h7.4v7.4h-7.4zM708.5 538.4h7.4v7.4h-7.4zM666.5 545.4h7.4v7.4h-7.4zM708.5 552.4h7.4v7.4h-7.4zM659.5 559.4h7.4v7.4h-7.4zM701.5 559.4h7.4v7.4h-7.4zM498.3 566.4h7.4v7.4h-7.4zM659.5 566.4h7.4v7.4h-7.4zM680.5 566.4h14.4v7.4h-14.4zM498.3 573.4h14.4v7.4h-14.4zM645.4 594.3h14.4v7.4h-14.4zM638.4 601.3h7.4v7.4h-7.4zM638.4 615.3h7.4v7.4h-7.4zM659.5 615.3h7.4v7.4h-7.4zM638.4 622.3h7.4v7.4h-7.4zM659.5 622.3h7.4v7.4h-7.4zM785.6 629.3h21.4v7.4h-21.4zM645.4 636.3h7.4v7.4h-7.4zM771.6 636.3h28.4v7.4h-28.4zM764.6 643.3h7.4v7.4h-7.4zM785.6 643.3h14.4v7.4h-14.4zM1170.9 643.3h28.4v7.4h-28.4zM652.5 650.3h7.4v7.4h-7.4zM701.5 650.3h7.4v7.4h-7.4zM764.6 650.3h7.4v7.4h-7.4zM834.6 650.3h56.5v7.4h-56.5zM1156.9 650.3h14.4v7.4h-14.4zM1192.0 650.3h7.4v7.4h-7.4zM743.5 657.3h21.4v7.4h-21.4zM834.6 657.3h7.4v7.4h-7.4zM862.7 657.3h7.4v7.4h-7.4zM890.7 657.3h7.4v7.4h-7.4zM1149.9 657.3h7.4v7.4h-7.4zM1192.0 657.3h7.4v7.4h-7.4zM785.6 664.2h7.4v7.4h-7.4zM834.6 664.2h7.4v7.4h-7.4zM897.7 664.2h7.4v7.4h-7.4zM1135.9 664.2h14.4v7.4h-14.4zM1192.0 664.2h7.4v7.4h-7.4zM785.6 671.2h7.4v7.4h-7.4zM841.6 671.2h28.4v7.4h-28.4zM911.7 671.2h14.4v7.4h-14.4zM1128.9 671.2h7.4v7.4h-7.4zM1192.0 671.2h7.4v7.4h-7.4zM778.6 678.2h7.4v7.4h-7.4zM869.7 678.2h7.4v7.4h-7.4zM946.7 678.2h7.4v7.4h-7.4zM1079.9 678.2h28.4v7.4h-28.4zM1121.9 678.2h7.4v7.4h-7.4zM1192.0 678.2h14.4v7.4h-14.4zM778.6 685.2h7.4v7.4h-7.4zM869.7 685.2h7.4v7.4h-7.4zM953.7 685.2h7.4v7.4h-7.4zM1065.8 685.2h21.4v7.4h-21.4zM1206.0 685.2h33.4v7.4h-33.4zM680.5 692.2h7.4v7.4h-7.4zM778.6 692.2h7.4v7.4h-7.4zM960.7 692.2h7.4v7.4h-7.4zM995.8 692.2h7.4v7.4h-7.4zM1009.8 692.2h14.4v7.4h-14.4zM1051.8 692.2h7.4v7.4h-7.4zM785.6 699.2h7.4v7.4h-7.4zM869.7 699.2h7.4v7.4h-7.4zM960.7 699.2h7.4v7.4h-7.4zM981.8 699.2h7.4v7.4h-7.4zM792.6 706.2h14.4v7.4h-14.4zM869.7 706.2h7.4v7.4h-7.4zM799.6 713.2h21.4v7.4h-21.4zM869.7 713.2h7.4v7.4h-7.4zM701.5 720.2h7.4v7.4h-7.4zM806.6 720.2h35.4v7.4h-35.4zM862.7 720.2h14.4v7.4h-14.4zM708.5 727.2h7.4v7.4h-7.4zM841.6 727.2h35.4v7.4h-35.4zM694.5 734.1h7.4v7.4h-7.4zM694.5 741.1h7.4v7.4h-7.4zM701.5 748.1h7.4v7.4h-7.4zM701.5 755.1h7.4v7.4h-7.4zM701.5 762.1h14.4v7.4h-14.4zM722.5 762.1h7.4v7.4h-7.4zM701.5 769.1h35.4v7.4h-35.4zM694.5 776.1h42.4v7.4h-42.4zM680.5 783.1h28.4v7.4h-28.4zM673.5 790.1h7.4v7.4h-7.4zM701.5 790.1h7.4v7.4h-7.4zM722.5 790.1h7.4v7.4h-7.4zM666.5 797.1h7.4v7.4h-7.4zM708.5 797.1h7.4v7.4h-7.4zM722.5 797.1h7.4v7.4h-7.4zM659.5 804.0h7.4v7.4h-7.4zM708.5 804.0h14.4v7.4h-14.4zM652.5 811.0h7.4v7.4h-7.4zM652.5 818.0h7.4v7.4h-7.4zM652.5 825.0h7.4v7.4h-7.4z"/><path fill="#ff3e00" d="M267.1 114.0h21.4v19.4h-21.4zM400.2 114.0h7.4v19.4h-7.4zM400.2 133.0h7.4v7.4h-7.4zM407.2 147.0h7.4v7.4h-7.4zM407.2 154.0h7.4v7.4h-7.4zM190.0 161.0h7.4v7.4h-7.4zM407.2 161.0h7.4v7.4h-7.4zM183.0 167.9h7.4v7.4h-7.4zM407.2 167.9h7.4v7.4h-7.4zM164.0 174.9h26.4v7.4h-26.4zM407.2 174.9h14.4v7.4h-14.4zM164.0 181.9h19.4v7.4h-19.4zM407.2 181.9h21.4v7.4h-21.4zM421.2 188.9h14.4v7.4h-14.4zM435.2 195.9h7.4v7.4h-7.4zM435.2 202.9h7.4v7.4h-7.4zM442.3 216.9h7.4v7.4h-7.4zM379.2 223.9h7.4v7.4h-7.4zM442.3 223.9h7.4v7.4h-7.4zM498.3 230.9h7.4v7.4h-7.4zM449.3 237.8h7.4v7.4h-7.4zM449.3 244.8h7.4v7.4h-7.4zM442.3 251.8h7.4v7.4h-7.4zM442.3 258.8h7.4v7.4h-7.4zM442.3 265.8h7.4v7.4h-7.4zM442.3 272.8h7.4v7.4h-7.4zM540.3 279.8h7.4v7.4h-7.4zM533.3 286.8h21.4v7.4h-21.4zM449.3 293.8h7.4v7.4h-7.4zM477.3 293.8h14.4v7.4h-14.4zM519.3 293.8h14.4v7.4h-14.4zM547.4 293.8h7.4v7.4h-7.4zM456.3 300.8h35.4v7.4h-35.4zM547.4 300.8h7.4v7.4h-7.4zM491.3 307.7h7.4v7.4h-7.4zM505.3 307.7h14.4v7.4h-14.4zM547.4 307.7h7.4v7.4h-7.4zM498.3 314.7h7.4v7.4h-7.4zM547.4 314.7h7.4v7.4h-7.4zM540.3 321.7h7.4v7.4h-7.4zM540.3 328.7h7.4v7.4h-7.4zM540.3 335.7h7.4v7.4h-7.4zM533.3 342.7h7.4v7.4h-7.4zM533.3 349.7h7.4v7.4h-7.4zM526.3 356.7h7.4v7.4h-7.4zM526.3 363.7h7.4v7.4h-7.4zM526.3 370.7h7.4v7.4h-7.4zM533.3 377.6h21.4v7.4h-21.4zM547.4 384.6h7.4v7.4h-7.4zM540.3 391.6h14.4v7.4h-14.4zM547.4 398.6h14.4v7.4h-14.4zM561.4 405.6h7.4v7.4h-7.4zM568.4 412.6h7.4v7.4h-7.4zM575.4 419.6h7.4v7.4h-7.4zM624.4 419.6h7.4v7.4h-7.4zM701.5 419.6h7.4v7.4h-7.4zM575.4 426.6h7.4v7.4h-7.4zM610.4 426.6h7.4v7.4h-7.4zM645.4 426.6h14.4v7.4h-14.4zM687.5 426.6h7.4v7.4h-7.4zM708.5 426.6h7.4v7.4h-7.4zM1220.0 426.6h19.4v7.4h-19.4zM582.4 433.6h28.4v7.4h-28.4zM659.5 433.6h21.4v7.4h-21.4zM715.5 433.6h7.4v7.4h-7.4zM778.6 433.6h14.4v7.4h-14.4zM1220.0 433.6h19.4v7.4h-19.4zM722.5 440.6h7.4v7.4h-7.4zM771.6 440.6h21.4v7.4h-21.4zM1213.0 440.6h7.4v7.4h-7.4zM309.1 447.5h7.4v7.4h-7.4zM729.5 447.5h7.4v7.4h-7.4zM750.5 447.5h14.4v7.4h-14.4zM771.6 447.5h14.4v7.4h-14.4zM1213.0 447.5h7.4v7.4h-7.4zM309.1 454.5h7.4v7.4h-7.4zM771.6 454.5h7.4v7.4h-7.4zM974.8 454.5h14.4v7.4h-14.4zM771.6 461.5h7.4v7.4h-7.4zM911.7 461.5h35.4v7.4h-35.4zM960.7 461.5h14.4v7.4h-14.4zM995.8 461.5h35.4v7.4h-35.4zM1072.9 461.5h21.4v7.4h-21.4zM1156.9 461.5h7.4v7.4h-7.4zM1185.0 461.5h7.4v7.4h-7.4zM1206.0 461.5h7.4v7.4h-7.4zM309.1 468.5h7.4v7.4h-7.4zM771.6 468.5h7.4v7.4h-7.4zM813.6 468.5h14.4v7.4h-14.4zM904.7 468.5h7.4v7.4h-7.4zM1030.8 468.5h28.4v7.4h-28.4zM1093.9 468.5h7.4v7.4h-7.4zM1142.9 468.5h7.4v7.4h-7.4zM309.1 475.5h7.4v7.4h-7.4zM330.1 475.5h7.4v7.4h-7.4zM771.6 475.5h7.4v7.4h-7.4zM806.6 475.5h7.4v7.4h-7.4zM827.6 475.5h42.4v7.4h-42.4zM890.7 475.5h7.4v7.4h-7.4zM1107.9 475.5h28.4v7.4h-28.4zM316.1 482.5h21.4v7.4h-21.4zM771.6 482.5h14.4v7.4h-14.4zM792.6 482.5h14.4v7.4h-14.4zM323.1 489.5h7.4v7.4h-7.4zM778.6 489.5h14.4v7.4h-14.4zM302.1 517.5h21.4v7.4h-21.4zM295.1 524.4h7.4v7.4h-7.4zM316.1 524.4h7.4v7.4h-7.4zM694.5 524.4h7.4v7.4h-7.4zM295.1 531.4h7.4v7.4h-7.4zM295.1 538.4h7.4v7.4h-7.4zM302.1 545.4h7.4v7.4h-7.4zM659.5 552.4h7.4v7.4h-7.4zM708.5 559.4h7.4v7.4h-7.4zM505.3 566.4h7.4v7.4h-7.4zM694.5 566.4h14.4v7.4h-14.4zM491.3 573.4h7.4v7.4h-7.4zM512.3 573.4h7.4v7.4h-7.4zM659.5 573.4h21.4v7.4h-21.4zM498.3 580.4h14.4v7.4h-14.4zM498.3 587.4h7.4v7.4h-7.4zM652.5 587.4h7.4v7.4h-7.4zM638.4 594.3h7.4v7.4h-7.4zM659.5 601.3h7.4v7.4h-7.4zM659.5 608.3h7.4v7.4h-7.4zM806.6 615.3h14.4v7.4h-14.4zM799.6 622.3h21.4v7.4h-21.4zM638.4 629.3h7.4v7.4h-7.4zM666.5 629.3h7.4v7.4h-7.4zM778.6 629.3h7.4v7.4h-7.4zM806.6 629.3h14.4v7.4h-14.4zM1178.0 629.3h14.4v7.4h-14.4zM673.5 636.3h7.4v7.4h-7.4zM764.6 636.3h7.4v7.4h-7.4zM799.6 636.3h14.4v7.4h-14.4zM834.6 636.3h14.4v7.4h-14.4zM869.7 636.3h14.4v7.4h-14.4zM1170.9 636.3h28.4v7.4h-28.4zM645.4 643.3h7.4v7.4h-7.4zM687.5 643.3h7.4v7.4h-7.4zM799.6 643.3h7.4v7.4h-7.4zM834.6 643.3h63.5v7.4h-63.5zM1156.9 643.3h14.4v7.4h-14.4zM1199.0 643.3h7.4v7.4h-7.4zM708.5 650.3h14.4v7.4h-14.4zM729.5 650.3h14.4v7.4h-14.4zM757.6 650.3h7.4v7.4h-7.4zM792.6 650.3h7.4v7.4h-7.4zM827.6 650.3h7.4v7.4h-7.4zM890.7 650.3h7.4v7.4h-7.4zM1149.9 650.3h7.4v7.4h-7.4zM1199.0 650.3h7.4v7.4h-7.4zM652.5 657.3h7.4v7.4h-7.4zM792.6 657.3h7.4v7.4h-7.4zM827.6 657.3h7.4v7.4h-7.4zM897.7 657.3h7.4v7.4h-7.4zM1135.9 657.3h14.4v7.4h-14.4zM1199.0 657.3h7.4v7.4h-7.4zM827.6 664.2h7.4v7.4h-7.4zM904.7 664.2h7.4v7.4h-7.4zM1128.9 664.2h7.4v7.4h-7.4zM1199.0 664.2h7.4v7.4h-7.4zM659.5 671.2h7.4v7.4h-7.4zM827.6 671.2h14.4v7.4h-14.4zM925.7 671.2h14.4v7.4h-14.4zM1072.9 671.2h35.4v7.4h-35.4zM1121.9 671.2h7.4v7.4h-7.4zM1199.0 671.2h14.4v7.4h-14.4zM666.5 678.2h7.4v7.4h-7.4zM785.6 678.2h7.4v7.4h-7.4zM862.7 678.2h7.4v7.4h-7.4zM953.7 678.2h7.4v7.4h-7.4zM1058.8 678.2h21.4v7.4h-21.4zM1107.9 678.2h14.4v7.4h-14.4zM1206.0 678.2h33.4v7.4h-33.4zM673.5 685.2h7.4v7.4h-7.4zM960.7 685.2h7.4v7.4h-7.4zM1051.8 685.2h14.4v7.4h-14.4zM785.6 692.2h7.4v7.4h-7.4zM869.7 692.2h7.4v7.4h-7.4zM967.8 692.2h7.4v7.4h-7.4zM988.8 692.2h7.4v7.4h-7.4zM1023.8 692.2h28.4v7.4h-28.4zM792.6 699.2h7.4v7.4h-7.4zM967.8 699.2h14.4v7.4h-14.4zM687.5 706.2h7.4v7.4h-7.4zM806.6 706.2h28.4v7.4h-28.4zM862.7 706.2h7.4v7.4h-7.4zM694.5 713.2h7.4v7.4h-7.4zM820.6 713.2h49.4v7.4h-49.4zM694.5 720.2h7.4v7.4h-7.4zM841.6 720.2h21.4v7.4h-21.4zM694.5 727.2h14.4v7.4h-14.4zM687.5 734.1h7.4v7.4h-7.4zM694.5 748.1h7.4v7.4h-7.4zM694.5 755.1h7.4v7.4h-7.4zM694.5 762.1h7.4v7.4h-7.4zM694.5 769.1h7.4v7.4h-7.4zM687.5 776.1h7.4v7.4h-7.4zM673.5 783.1h7.4v7.4h-7.4zM708.5 783.1h21.4v7.4h-21.4zM666.5 790.1h7.4v7.4h-7.4zM708.5 790.1h14.4v7.4h-14.4zM659.5 797.1h7.4v7.4h-7.4zM715.5 797.1h7.4v7.4h-7.4zM652.5 804.0h7.4v7.4h-7.4zM645.4 811.0h7.4v7.4h-7.4zM645.4 818.0h7.4v7.4h-7.4zM652.5 832.0h7.4v19.4h-7.4z"/><path fill="#ff3500" d="M253.1 114.0h14.4v19.4h-14.4zM288.1 114.0h28.4v19.4h-28.4zM351.2 114.0h14.4v19.4h-14.4zM386.2 114.0h14.4v19.4h-14.4zM253.1 133.0h63.5v7.4h-63.5zM393.2 133.0h7.4v7.4h-7.4zM267.1 140.0h7.4v7.4h-7.4zM400.2 140.0h7.4v7.4h-7.4zM183.0 147.0h14.4v7.4h-14.4zM400.2 147.0h7.4v7.4h-7.4zM164.0 154.0h40.4v7.4h-40.4zM400.2 154.0h7.4v7.4h-7.4zM164.0 161.0h26.4v7.4h-26.4zM197.0 161.0h7.4v7.4h-7.4zM400.2 161.0h7.4v7.4h-7.4zM164.0 167.9h19.4v7.4h-19.4zM190.0 167.9h7.4v7.4h-7.4zM400.2 167.9h7.4v7.4h-7.4zM190.0 174.9h7.4v7.4h-7.4zM393.2 174.9h14.4v7.4h-14.4zM183.0 181.9h7.4v7.4h-7.4zM393.2 181.9h14.4v7.4h-14.4zM164.0 188.9h19.4v7.4h-19.4zM400.2 188.9h21.4v7.4h-21.4zM421.2 195.9h14.4v7.4h-14.4zM365.2 209.9h42.4v7.4h-42.4zM435.2 209.9h7.4v7.4h-7.4zM358.2 216.9h56.5v7.4h-56.5zM435.2 216.9h7.4v7.4h-7.4zM358.2 223.9h21.4v7.4h-21.4zM386.2 223.9h35.4v7.4h-35.4zM435.2 223.9h7.4v7.4h-7.4zM351.2 230.9h77.5v7.4h-77.5zM435.2 230.9h14.4v7.4h-14.4zM351.2 237.8h98.5v7.4h-98.5zM344.2 244.8h105.5v7.4h-105.5zM344.2 251.8h98.5v7.4h-98.5zM351.2 258.8h14.4v7.4h-14.4zM386.2 258.8h56.5v7.4h-56.5zM393.2 265.8h28.4v7.4h-28.4zM428.2 265.8h14.4v7.4h-14.4zM435.2 272.8h7.4v7.4h-7.4zM442.3 279.8h7.4v7.4h-7.4zM442.3 286.8h7.4v7.4h-7.4zM442.3 293.8h7.4v7.4h-7.4zM533.3 293.8h14.4v7.4h-14.4zM449.3 300.8h7.4v7.4h-7.4zM519.3 300.8h28.4v7.4h-28.4zM456.3 307.7h35.4v7.4h-35.4zM519.3 307.7h7.4v7.4h-7.4zM533.3 307.7h14.4v7.4h-14.4zM463.3 314.7h35.4v7.4h-35.4zM505.3 314.7h14.4v7.4h-14.4zM540.3 314.7h7.4v7.4h-7.4zM491.3 321.7h14.4v7.4h-14.4zM533.3 328.7h7.4v7.4h-7.4zM533.3 335.7h7.4v7.4h-7.4zM526.3 349.7h7.4v7.4h-7.4zM519.3 356.7h7.4v7.4h-7.4zM519.3 363.7h7.4v7.4h-7.4zM519.3 370.7h7.4v7.4h-7.4zM526.3 377.6h7.4v7.4h-7.4zM533.3 384.6h14.4v7.4h-14.4zM533.3 391.6h7.4v7.4h-7.4zM540.3 398.6h7.4v7.4h-7.4zM547.4 405.6h14.4v7.4h-14.4zM561.4 412.6h7.4v7.4h-7.4zM568.4 419.6h7.4v7.4h-7.4zM568.4 426.6h7.4v7.4h-7.4zM617.4 426.6h28.4v7.4h-28.4zM694.5 426.6h14.4v7.4h-14.4zM575.4 433.6h7.4v7.4h-7.4zM610.4 433.6h7.4v7.4h-7.4zM645.4 433.6h14.4v7.4h-14.4zM680.5 433.6h7.4v7.4h-7.4zM309.1 440.6h7.4v7.4h-7.4zM330.1 440.6h7.4v7.4h-7.4zM589.4 440.6h14.4v7.4h-14.4zM659.5 440.6h21.4v7.4h-21.4zM1220.0 440.6h19.4v7.4h-19.4zM302.1 447.5h7.4v7.4h-7.4zM722.5 447.5h7.4v7.4h-7.4zM764.6 447.5h7.4v7.4h-7.4zM1220.0 447.5h19.4v7.4h-19.4zM302.1 454.5h7.4v7.4h-7.4zM337.2 454.5h7.4v7.4h-7.4zM729.5 454.5h28.4v7.4h-28.4zM764.6 454.5h7.4v7.4h-7.4zM1213.0 454.5h7.4v7.4h-7.4zM302.1 461.5h7.4v7.4h-7.4zM337.2 461.5h7.4v7.4h-7.4zM764.6 461.5h7.4v7.4h-7.4zM974.8 461.5h21.4v7.4h-21.4zM1163.9 461.5h21.4v7.4h-21.4zM1213.0 461.5h7.4v7.4h-7.4zM302.1 468.5h7.4v7.4h-7.4zM337.2 468.5h7.4v7.4h-7.4zM764.6 468.5h7.4v7.4h-7.4zM911.7 468.5h7.4v7.4h-7.4zM932.7 468.5h35.4v7.4h-35.4zM1009.8 468.5h21.4v7.4h-21.4zM1058.8 468.5h35.4v7.4h-35.4zM1149.9 468.5h7.4v7.4h-7.4zM1192.0 468.5h21.4v7.4h-21.4zM757.6 475.5h14.4v7.4h-14.4zM813.6 475.5h14.4v7.4h-14.4zM897.7 475.5h7.4v7.4h-7.4zM1037.8 475.5h7.4v7.4h-7.4zM1072.9 475.5h35.4v7.4h-35.4zM1135.9 475.5h7.4v7.4h-7.4zM309.1 482.5h7.4v7.4h-7.4zM757.6 482.5h14.4v7.4h-14.4zM806.6 482.5h7.4v7.4h-7.4zM876.7 482.5h14.4v7.4h-14.4zM316.1 489.5h7.4v7.4h-7.4zM330.1 489.5h7.4v7.4h-7.4zM757.6 489.5h21.4v7.4h-21.4zM792.6 489.5h14.4v7.4h-14.4zM316.1 496.5h21.4v7.4h-21.4zM771.6 496.5h28.4v7.4h-28.4zM309.1 503.5h28.4v7.4h-28.4zM785.6 503.5h7.4v7.4h-7.4zM295.1 510.5h35.4v7.4h-35.4zM295.1 517.5h7.4v7.4h-7.4zM687.5 524.4h7.4v7.4h-7.4zM701.5 524.4h7.4v7.4h-7.4zM316.1 531.4h7.4v7.4h-7.4zM708.5 531.4h7.4v7.4h-7.4zM316.1 538.4h7.4v7.4h-7.4zM295.1 545.4h7.4v7.4h-7.4zM309.1 545.4h7.4v7.4h-7.4zM715.5 545.4h7.4v7.4h-7.4zM715.5 552.4h7.4v7.4h-7.4zM652.5 559.4h7.4v7.4h-7.4zM491.3 566.4h7.4v7.4h-7.4zM512.3 566.4h7.4v7.4h-7.4zM652.5 566.4h7.4v7.4h-7.4zM708.5 566.4h7.4v7.4h-7.4zM652.5 573.4h7.4v7.4h-7.4zM680.5 573.4h14.4v7.4h-14.4zM491.3 580.4h7.4v7.4h-7.4zM512.3 580.4h7.4v7.4h-7.4zM652.5 580.4h21.4v7.4h-21.4zM491.3 587.4h7.4v7.4h-7.4zM505.3 587.4h7.4v7.4h-7.4zM645.4 587.4h7.4v7.4h-7.4zM659.5 587.4h7.4v7.4h-7.4zM491.3 594.3h21.4v7.4h-21.4zM659.5 594.3h7.4v7.4h-7.4zM491.3 601.3h14.4v7.4h-14.4zM631.4 601.3h7.4v7.4h-7.4zM848.6 601.3h21.4v7.4h-21.4zM498.3 608.3h7.4v7.4h-7.4zM631.4 608.3h7.4v7.4h-7.4zM806.6 608.3h70.5v7.4h-70.5zM505.3 615.3h7.4v7.4h-7.4zM631.4 615.3h7.4v7.4h-7.4zM666.5 615.3h7.4v7.4h-7.4zM799.6 615.3h7.4v7.4h-7.4zM820.6 615.3h63.5v7.4h-63.5zM505.3 622.3h14.4v7.4h-14.4zM666.5 622.3h7.4v7.4h-7.4zM785.6 622.3h14.4v7.4h-14.4zM820.6 622.3h63.5v7.4h-63.5zM939.7 622.3h7.4v7.4h-7.4zM1178.0 622.3h14.4v7.4h-14.4zM505.3 629.3h14.4v7.4h-14.4zM771.6 629.3h7.4v7.4h-7.4zM820.6 629.3h70.5v7.4h-70.5zM932.7 629.3h21.4v7.4h-21.4zM1163.9 629.3h14.4v7.4h-14.4zM1192.0 629.3h14.4v7.4h-14.4zM1220.0 629.3h19.4v7.4h-19.4zM505.3 636.3h7.4v7.4h-7.4zM638.4 636.3h7.4v7.4h-7.4zM757.6 636.3h7.4v7.4h-7.4zM813.6 636.3h21.4v7.4h-21.4zM848.6 636.3h21.4v7.4h-21.4zM883.7 636.3h14.4v7.4h-14.4zM932.7 636.3h21.4v7.4h-21.4zM1086.9 636.3h14.4v7.4h-14.4zM1156.9 636.3h14.4v7.4h-14.4zM1199.0 636.3h40.4v7.4h-40.4zM694.5 643.3h7.4v7.4h-7.4zM750.5 643.3h14.4v7.4h-14.4zM806.6 643.3h28.4v7.4h-28.4zM897.7 643.3h7.4v7.4h-7.4zM939.7 643.3h21.4v7.4h-21.4zM1086.9 643.3h21.4v7.4h-21.4zM1142.9 643.3h14.4v7.4h-14.4zM1206.0 643.3h7.4v7.4h-7.4zM645.4 650.3h7.4v7.4h-7.4zM722.5 650.3h7.4v7.4h-7.4zM743.5 650.3h14.4v7.4h-14.4zM799.6 650.3h14.4v7.4h-14.4zM897.7 650.3h14.4v7.4h-14.4zM946.7 650.3h14.4v7.4h-14.4zM1086.9 650.3h21.4v7.4h-21.4zM1135.9 650.3h14.4v7.4h-14.4zM1206.0 650.3h7.4v7.4h-7.4zM477.3 657.3h14.4v7.4h-14.4zM799.6 657.3h7.4v7.4h-7.4zM904.7 657.3h7.4v7.4h-7.4zM953.7 657.3h7.4v7.4h-7.4zM1079.9 657.3h56.5v7.4h-56.5zM1206.0 657.3h7.4v7.4h-7.4zM477.3 664.2h7.4v7.4h-7.4zM652.5 664.2h7.4v7.4h-7.4zM792.6 664.2h7.4v7.4h-7.4zM820.6 664.2h7.4v7.4h-7.4zM911.7 664.2h7.4v7.4h-7.4zM946.7 664.2h21.4v7.4h-21.4zM1065.8 664.2h63.5v7.4h-63.5zM1206.0 664.2h33.4v7.4h-33.4zM477.3 671.2h7.4v7.4h-7.4zM792.6 671.2h7.4v7.4h-7.4zM820.6 671.2h7.4v7.4h-7.4zM939.7 671.2h35.4v7.4h-35.4zM1051.8 671.2h21.4v7.4h-21.4zM1107.9 671.2h14.4v7.4h-14.4zM1213.0 671.2h26.4v7.4h-26.4zM820.6 678.2h42.4v7.4h-42.4zM960.7 678.2h21.4v7.4h-21.4zM1044.8 678.2h14.4v7.4h-14.4zM477.3 685.2h7.4v7.4h-7.4zM785.6 685.2h7.4v7.4h-7.4zM820.6 685.2h14.4v7.4h-14.4zM862.7 685.2h7.4v7.4h-7.4zM967.8 685.2h84.5v7.4h-84.5zM477.3 692.2h14.4v7.4h-14.4zM792.6 692.2h7.4v7.4h-7.4zM806.6 692.2h28.4v7.4h-28.4zM862.7 692.2h7.4v7.4h-7.4zM974.8 692.2h14.4v7.4h-14.4zM477.3 699.2h14.4v7.4h-14.4zM680.5 699.2h7.4v7.4h-7.4zM799.6 699.2h42.4v7.4h-42.4zM862.7 699.2h7.4v7.4h-7.4zM834.6 706.2h14.4v7.4h-14.4zM855.6 706.2h7.4v7.4h-7.4zM687.5 713.2h7.4v7.4h-7.4zM687.5 720.2h7.4v7.4h-7.4zM687.5 727.2h7.4v7.4h-7.4zM687.5 741.1h7.4v7.4h-7.4zM687.5 769.1h7.4v7.4h-7.4zM680.5 776.1h7.4v7.4h-7.4zM666.5 783.1h7.4v7.4h-7.4zM659.5 790.1h7.4v7.4h-7.4zM652.5 797.1h7.4v7.4h-7.4zM645.4 804.0h7.4v7.4h-7.4zM638.4 811.0h7.4v7.4h-7.4zM645.4 825.0h7.4v7.4h-7.4zM645.4 832.0h7.4v19.4h-7.4z"/><path fill="#ff2c00" d="M239.1 114.0h14.4v19.4h-14.4zM316.1 114.0h35.4v19.4h-35.4zM365.2 114.0h21.4v19.4h-21.4zM239.1 133.0h14.4v7.4h-14.4zM316.1 133.0h77.5v7.4h-77.5zM183.0 140.0h14.4v7.4h-14.4zM246.1 140.0h21.4v7.4h-21.4zM274.1 140.0h84.5v7.4h-84.5zM386.2 140.0h14.4v7.4h-14.4zM164.0 147.0h19.4v7.4h-19.4zM197.0 147.0h7.4v7.4h-7.4zM302.1 147.0h7.4v7.4h-7.4zM330.1 147.0h21.4v7.4h-21.4zM393.2 147.0h7.4v7.4h-7.4zM204.0 154.0h7.4v7.4h-7.4zM393.2 154.0h7.4v7.4h-7.4zM204.0 161.0h7.4v7.4h-7.4zM393.2 161.0h7.4v7.4h-7.4zM197.0 167.9h7.4v7.4h-7.4zM393.2 167.9h7.4v7.4h-7.4zM197.0 174.9h7.4v7.4h-7.4zM386.2 174.9h7.4v7.4h-7.4zM190.0 181.9h7.4v7.4h-7.4zM386.2 181.9h7.4v7.4h-7.4zM183.0 188.9h14.4v7.4h-14.4zM302.1 188.9h14.4v7.4h-14.4zM386.2 188.9h14.4v7.4h-14.4zM295.1 195.9h42.4v7.4h-42.4zM386.2 195.9h35.4v7.4h-35.4zM274.1 202.9h63.5v7.4h-63.5zM372.2 202.9h63.5v7.4h-63.5zM274.1 209.9h63.5v7.4h-63.5zM351.2 209.9h14.4v7.4h-14.4zM407.2 209.9h28.4v7.4h-28.4zM274.1 216.9h84.5v7.4h-84.5zM414.2 216.9h21.4v7.4h-21.4zM267.1 223.9h91.5v7.4h-91.5zM421.2 223.9h14.4v7.4h-14.4zM302.1 230.9h49.4v7.4h-49.4zM428.2 230.9h7.4v7.4h-7.4zM309.1 237.8h42.4v7.4h-42.4zM337.2 244.8h7.4v7.4h-7.4zM337.2 251.8h7.4v7.4h-7.4zM337.2 258.8h14.4v7.4h-14.4zM365.2 258.8h21.4v7.4h-21.4zM351.2 265.8h42.4v7.4h-42.4zM421.2 265.8h7.4v7.4h-7.4zM365.2 272.8h70.5v7.4h-70.5zM372.2 279.8h21.4v7.4h-21.4zM428.2 279.8h14.4v7.4h-14.4zM372.2 286.8h14.4v7.4h-14.4zM435.2 286.8h7.4v7.4h-7.4zM365.2 293.8h28.4v7.4h-28.4zM435.2 293.8h7.4v7.4h-7.4zM372.2 300.8h42.4v7.4h-42.4zM442.3 300.8h7.4v7.4h-7.4zM393.2 307.7h21.4v7.4h-21.4zM442.3 307.7h14.4v7.4h-14.4zM526.3 307.7h7.4v7.4h-7.4zM407.2 314.7h7.4v7.4h-7.4zM449.3 314.7h14.4v7.4h-14.4zM519.3 314.7h21.4v7.4h-21.4zM456.3 321.7h35.4v7.4h-35.4zM505.3 321.7h14.4v7.4h-14.4zM526.3 321.7h14.4v7.4h-14.4zM470.3 328.7h35.4v7.4h-35.4zM526.3 328.7h7.4v7.4h-7.4zM470.3 335.7h35.4v7.4h-35.4zM526.3 335.7h7.4v7.4h-7.4zM477.3 342.7h28.4v7.4h-28.4zM526.3 342.7h7.4v7.4h-7.4zM477.3 349.7h21.4v7.4h-21.4zM519.3 349.7h7.4v7.4h-7.4zM512.3 363.7h7.4v7.4h-7.4zM512.3 370.7h7.4v7.4h-7.4zM519.3 377.6h7.4v7.4h-7.4zM526.3 384.6h7.4v7.4h-7.4zM526.3 391.6h7.4v7.4h-7.4zM526.3 398.6h14.4v7.4h-14.4zM533.3 405.6h14.4v7.4h-14.4zM547.4 412.6h14.4v7.4h-14.4zM561.4 419.6h7.4v7.4h-7.4zM316.1 433.6h14.4v7.4h-14.4zM568.4 433.6h7.4v7.4h-7.4zM617.4 433.6h7.4v7.4h-7.4zM631.4 433.6h14.4v7.4h-14.4zM687.5 433.6h14.4v7.4h-14.4zM708.5 433.6h7.4v7.4h-7.4zM281.1 440.6h28.4v7.4h-28.4zM582.4 440.6h7.4v7.4h-7.4zM603.4 440.6h7.4v7.4h-7.4zM652.5 440.6h7.4v7.4h-7.4zM680.5 440.6h7.4v7.4h-7.4zM715.5 440.6h7.4v7.4h-7.4zM288.1 447.5h14.4v7.4h-14.4zM337.2 447.5h7.4v7.4h-7.4zM288.1 454.5h14.4v7.4h-14.4zM722.5 454.5h7.4v7.4h-7.4zM757.6 454.5h7.4v7.4h-7.4zM1220.0 454.5h19.4v7.4h-19.4zM295.1 461.5h7.4v7.4h-7.4zM736.5 461.5h28.4v7.4h-28.4zM1220.0 461.5h19.4v7.4h-19.4zM295.1 468.5h7.4v7.4h-7.4zM750.5 468.5h14.4v7.4h-14.4zM918.7 468.5h14.4v7.4h-14.4zM967.8 468.5h42.4v7.4h-42.4zM1156.9 468.5h14.4v7.4h-14.4zM1178.0 468.5h14.4v7.4h-14.4zM1213.0 468.5h7.4v7.4h-7.4zM302.1 475.5h7.4v7.4h-7.4zM337.2 475.5h7.4v7.4h-7.4zM750.5 475.5h7.4v7.4h-7.4zM904.7 475.5h14.4v7.4h-14.4zM932.7 475.5h35.4v7.4h-35.4zM1016.8 475.5h21.4v7.4h-21.4zM1044.8 475.5h28.4v7.4h-28.4zM1142.9 475.5h7.4v7.4h-7.4zM302.1 482.5h7.4v7.4h-7.4zM337.2 482.5h7.4v7.4h-7.4zM750.5 482.5h7.4v7.4h-7.4zM813.6 482.5h63.5v7.4h-63.5zM890.7 482.5h14.4v7.4h-14.4zM1030.8 482.5h7.4v7.4h-7.4zM1072.9 482.5h49.4v7.4h-49.4zM302.1 489.5h14.4v7.4h-14.4zM337.2 489.5h7.4v7.4h-7.4zM750.5 489.5h7.4v7.4h-7.4zM806.6 489.5h7.4v7.4h-7.4zM302.1 496.5h14.4v7.4h-14.4zM337.2 496.5h7.4v7.4h-7.4zM757.6 496.5h14.4v7.4h-14.4zM799.6 496.5h14.4v7.4h-14.4zM288.1 503.5h21.4v7.4h-21.4zM771.6 503.5h14.4v7.4h-14.4zM792.6 503.5h14.4v7.4h-14.4zM288.1 510.5h7.4v7.4h-7.4zM330.1 510.5h7.4v7.4h-7.4zM778.6 510.5h21.4v7.4h-21.4zM288.1 517.5h7.4v7.4h-7.4zM323.1 517.5h7.4v7.4h-7.4zM288.1 524.4h7.4v7.4h-7.4zM680.5 524.4h7.4v7.4h-7.4zM288.1 531.4h7.4v7.4h-7.4zM673.5 531.4h7.4v7.4h-7.4zM288.1 538.4h7.4v7.4h-7.4zM666.5 538.4h7.4v7.4h-7.4zM715.5 538.4h7.4v7.4h-7.4zM288.1 545.4h7.4v7.4h-7.4zM316.1 545.4h7.4v7.4h-7.4zM659.5 545.4h7.4v7.4h-7.4zM498.3 559.4h7.4v7.4h-7.4zM715.5 559.4h7.4v7.4h-7.4zM456.3 566.4h7.4v7.4h-7.4zM484.3 566.4h7.4v7.4h-7.4zM456.3 573.4h14.4v7.4h-14.4zM484.3 573.4h7.4v7.4h-7.4zM519.3 573.4h7.4v7.4h-7.4zM645.4 573.4h7.4v7.4h-7.4zM694.5 573.4h21.4v7.4h-21.4zM456.3 580.4h7.4v7.4h-7.4zM477.3 580.4h14.4v7.4h-14.4zM519.3 580.4h7.4v7.4h-7.4zM645.4 580.4h7.4v7.4h-7.4zM673.5 580.4h7.4v7.4h-7.4zM477.3 587.4h14.4v7.4h-14.4zM512.3 587.4h7.4v7.4h-7.4zM638.4 587.4h7.4v7.4h-7.4zM666.5 587.4h7.4v7.4h-7.4zM477.3 594.3h14.4v7.4h-14.4zM631.4 594.3h7.4v7.4h-7.4zM848.6 594.3h28.4v7.4h-28.4zM477.3 601.3h14.4v7.4h-14.4zM505.3 601.3h7.4v7.4h-7.4zM666.5 601.3h7.4v7.4h-7.4zM813.6 601.3h35.4v7.4h-35.4zM869.7 601.3h14.4v7.4h-14.4zM484.3 608.3h14.4v7.4h-14.4zM505.3 608.3h7.4v7.4h-7.4zM666.5 608.3h7.4v7.4h-7.4zM799.6 608.3h7.4v7.4h-7.4zM876.7 608.3h14.4v7.4h-14.4zM946.7 608.3h7.4v7.4h-7.4zM491.3 615.3h14.4v7.4h-14.4zM512.3 615.3h7.4v7.4h-7.4zM792.6 615.3h7.4v7.4h-7.4zM883.7 615.3h14.4v7.4h-14.4zM932.7 615.3h28.4v7.4h-28.4zM1185.0 615.3h14.4v7.4h-14.4zM498.3 622.3h7.4v7.4h-7.4zM631.4 622.3h7.4v7.4h-7.4zM778.6 622.3h7.4v7.4h-7.4zM883.7 622.3h21.4v7.4h-21.4zM925.7 622.3h14.4v7.4h-14.4zM946.7 622.3h14.4v7.4h-14.4zM1163.9 622.3h14.4v7.4h-14.4zM1192.0 622.3h14.4v7.4h-14.4zM1220.0 622.3h19.4v7.4h-19.4zM498.3 629.3h7.4v7.4h-7.4zM519.3 629.3h7.4v7.4h-7.4zM673.5 629.3h7.4v7.4h-7.4zM757.6 629.3h14.4v7.4h-14.4zM890.7 629.3h42.4v7.4h-42.4zM953.7 629.3h7.4v7.4h-7.4zM1072.9 629.3h28.4v7.4h-28.4zM1156.9 629.3h7.4v7.4h-7.4zM1206.0 629.3h14.4v7.4h-14.4zM491.3 636.3h14.4v7.4h-14.4zM512.3 636.3h7.4v7.4h-7.4zM680.5 636.3h7.4v7.4h-7.4zM750.5 636.3h7.4v7.4h-7.4zM897.7 636.3h35.4v7.4h-35.4zM953.7 636.3h7.4v7.4h-7.4zM1065.8 636.3h21.4v7.4h-21.4zM1100.9 636.3h14.4v7.4h-14.4zM1142.9 636.3h14.4v7.4h-14.4zM484.3 643.3h21.4v7.4h-21.4zM638.4 643.3h7.4v7.4h-7.4zM701.5 643.3h14.4v7.4h-14.4zM729.5 643.3h21.4v7.4h-21.4zM904.7 643.3h35.4v7.4h-35.4zM960.7 643.3h7.4v7.4h-7.4zM1058.8 643.3h28.4v7.4h-28.4zM1107.9 643.3h14.4v7.4h-14.4zM1135.9 643.3h7.4v7.4h-7.4zM1213.0 643.3h26.4v7.4h-26.4zM477.3 650.3h21.4v7.4h-21.4zM813.6 650.3h14.4v7.4h-14.4zM911.7 650.3h14.4v7.4h-14.4zM932.7 650.3h14.4v7.4h-14.4zM960.7 650.3h7.4v7.4h-7.4zM1051.8 650.3h35.4v7.4h-35.4zM1107.9 650.3h28.4v7.4h-28.4zM1213.0 650.3h26.4v7.4h-26.4zM470.3 657.3h7.4v7.4h-7.4zM491.3 657.3h7.4v7.4h-7.4zM645.4 657.3h7.4v7.4h-7.4zM806.6 657.3h21.4v7.4h-21.4zM911.7 657.3h14.4v7.4h-14.4zM939.7 657.3h14.4v7.4h-14.4zM960.7 657.3h21.4v7.4h-21.4zM1044.8 657.3h35.4v7.4h-35.4zM1213.0 657.3h26.4v7.4h-26.4zM470.3 664.2h7.4v7.4h-7.4zM484.3 664.2h7.4v7.4h-7.4zM799.6 664.2h21.4v7.4h-21.4zM918.7 664.2h28.4v7.4h-28.4zM967.8 664.2h21.4v7.4h-21.4zM1044.8 664.2h21.4v7.4h-21.4zM470.3 671.2h7.4v7.4h-7.4zM484.3 671.2h7.4v7.4h-7.4zM799.6 671.2h21.4v7.4h-21.4zM974.8 671.2h21.4v7.4h-21.4zM1037.8 671.2h14.4v7.4h-14.4zM470.3 678.2h21.4v7.4h-21.4zM792.6 678.2h28.4v7.4h-28.4zM981.8 678.2h28.4v7.4h-28.4zM1023.8 678.2h21.4v7.4h-21.4zM463.3 685.2h14.4v7.4h-14.4zM484.3 685.2h7.4v7.4h-7.4zM792.6 685.2h28.4v7.4h-28.4zM834.6 685.2h28.4v7.4h-28.4zM463.3 692.2h14.4v7.4h-14.4zM491.3 692.2h7.4v7.4h-7.4zM673.5 692.2h7.4v7.4h-7.4zM799.6 692.2h7.4v7.4h-7.4zM834.6 692.2h7.4v7.4h-7.4zM463.3 699.2h14.4v7.4h-14.4zM491.3 699.2h7.4v7.4h-7.4zM841.6 699.2h7.4v7.4h-7.4zM855.6 699.2h7.4v7.4h-7.4zM470.3 706.2h28.4v7.4h-28.4zM680.5 706.2h7.4v7.4h-7.4zM848.6 706.2h7.4v7.4h-7.4zM470.3 713.2h21.4v7.4h-21.4zM680.5 713.2h7.4v7.4h-7.4zM463.3 720.2h28.4v7.4h-28.4zM680.5 720.2h7.4v7.4h-7.4zM680.5 727.2h7.4v7.4h-7.4zM680.5 734.1h7.4v7.4h-7.4zM687.5 748.1h7.4v7.4h-7.4zM687.5 755.1h7.4v7.4h-7.4zM687.5 762.1h7.4v7.4h-7.4zM680.5 769.1h7.4v7.4h-7.4zM673.5 776.1h7.4v7.4h-7.4zM659.5 783.1h7.4v7.4h-7.4zM652.5 790.1h7.4v7.4h-7.4zM645.4 797.1h7.4v7.4h-7.4zM631.4 804.0h14.4v7.4h-14.4zM631.4 811.0h7.4v7.4h-7.4zM638.4 818.0h7.4v7.4h-7.4zM638.4 825.0h7.4v7.4h-7.4z"/><path fill="#ff2200" d="M232.1 114.0h7.4v19.4h-7.4zM183.0 133.0h7.4v7.4h-7.4zM232.1 133.0h7.4v7.4h-7.4zM164.0 140.0h19.4v7.4h-19.4zM197.0 140.0h7.4v7.4h-7.4zM232.1 140.0h14.4v7.4h-14.4zM358.2 140.0h28.4v7.4h-28.4zM204.0 147.0h7.4v7.4h-7.4zM253.1 147.0h49.4v7.4h-49.4zM309.1 147.0h21.4v7.4h-21.4zM351.2 147.0h42.4v7.4h-42.4zM295.1 154.0h21.4v7.4h-21.4zM330.1 154.0h35.4v7.4h-35.4zM379.2 154.0h14.4v7.4h-14.4zM337.2 161.0h28.4v7.4h-28.4zM379.2 161.0h14.4v7.4h-14.4zM204.0 167.9h7.4v7.4h-7.4zM351.2 167.9h42.4v7.4h-42.4zM204.0 174.9h7.4v7.4h-7.4zM358.2 174.9h28.4v7.4h-28.4zM197.0 181.9h7.4v7.4h-7.4zM295.1 181.9h21.4v7.4h-21.4zM372.2 181.9h14.4v7.4h-14.4zM197.0 188.9h7.4v7.4h-7.4zM225.0 188.9h7.4v7.4h-7.4zM288.1 188.9h14.4v7.4h-14.4zM316.1 188.9h28.4v7.4h-28.4zM372.2 188.9h14.4v7.4h-14.4zM164.0 195.9h33.4v7.4h-33.4zM218.0 195.9h21.4v7.4h-21.4zM267.1 195.9h28.4v7.4h-28.4zM337.2 195.9h14.4v7.4h-14.4zM365.2 195.9h21.4v7.4h-21.4zM218.0 202.9h21.4v7.4h-21.4zM260.1 202.9h14.4v7.4h-14.4zM337.2 202.9h35.4v7.4h-35.4zM225.0 209.9h14.4v7.4h-14.4zM260.1 209.9h14.4v7.4h-14.4zM337.2 209.9h14.4v7.4h-14.4zM260.1 216.9h14.4v7.4h-14.4zM260.1 223.9h7.4v7.4h-7.4zM260.1 230.9h42.4v7.4h-42.4zM295.1 237.8h14.4v7.4h-14.4zM302.1 244.8h35.4v7.4h-35.4zM330.1 251.8h7.4v7.4h-7.4zM344.2 265.8h7.4v7.4h-7.4zM358.2 272.8h7.4v7.4h-7.4zM358.2 279.8h14.4v7.4h-14.4zM393.2 279.8h35.4v7.4h-35.4zM358.2 286.8h14.4v7.4h-14.4zM386.2 286.8h49.4v7.4h-49.4zM358.2 293.8h7.4v7.4h-7.4zM393.2 293.8h42.4v7.4h-42.4zM358.2 300.8h14.4v7.4h-14.4zM414.2 300.8h28.4v7.4h-28.4zM358.2 307.7h35.4v7.4h-35.4zM414.2 307.7h28.4v7.4h-28.4zM365.2 314.7h42.4v7.4h-42.4zM414.2 314.7h35.4v7.4h-35.4zM407.2 321.7h21.4v7.4h-21.4zM435.2 321.7h21.4v7.4h-21.4zM519.3 321.7h7.4v7.4h-7.4zM442.3 328.7h28.4v7.4h-28.4zM505.3 328.7h21.4v7.4h-21.4zM442.3 335.7h28.4v7.4h-28.4zM505.3 335.7h21.4v7.4h-21.4zM470.3 342.7h7.4v7.4h-7.4zM505.3 342.7h7.4v7.4h-7.4zM519.3 342.7h7.4v7.4h-7.4zM470.3 349.7h7.4v7.4h-7.4zM498.3 349.7h21.4v7.4h-21.4zM470.3 356.7h49.4v7.4h-49.4zM456.3 363.7h56.5v7.4h-56.5zM456.3 370.7h28.4v7.4h-28.4zM505.3 370.7h7.4v7.4h-7.4zM456.3 377.6h28.4v7.4h-28.4zM512.3 377.6h7.4v7.4h-7.4zM463.3 384.6h28.4v7.4h-28.4zM512.3 384.6h14.4v7.4h-14.4zM470.3 391.6h21.4v7.4h-21.4zM512.3 391.6h14.4v7.4h-14.4zM470.3 398.6h21.4v7.4h-21.4zM512.3 398.6h14.4v7.4h-14.4zM519.3 405.6h14.4v7.4h-14.4zM533.3 412.6h14.4v7.4h-14.4zM554.4 419.6h7.4v7.4h-7.4zM561.4 426.6h7.4v7.4h-7.4zM274.1 433.6h42.4v7.4h-42.4zM561.4 433.6h7.4v7.4h-7.4zM624.4 433.6h7.4v7.4h-7.4zM701.5 433.6h7.4v7.4h-7.4zM274.1 440.6h7.4v7.4h-7.4zM575.4 440.6h7.4v7.4h-7.4zM610.4 440.6h7.4v7.4h-7.4zM638.4 440.6h14.4v7.4h-14.4zM687.5 440.6h28.4v7.4h-28.4zM274.1 447.5h14.4v7.4h-14.4zM589.4 447.5h14.4v7.4h-14.4zM652.5 447.5h42.4v7.4h-42.4zM715.5 447.5h7.4v7.4h-7.4zM281.1 454.5h7.4v7.4h-7.4zM673.5 454.5h7.4v7.4h-7.4zM715.5 454.5h7.4v7.4h-7.4zM288.1 461.5h7.4v7.4h-7.4zM722.5 461.5h14.4v7.4h-14.4zM736.5 468.5h14.4v7.4h-14.4zM1170.9 468.5h7.4v7.4h-7.4zM1220.0 468.5h19.4v7.4h-19.4zM295.1 475.5h7.4v7.4h-7.4zM743.5 475.5h7.4v7.4h-7.4zM918.7 475.5h14.4v7.4h-14.4zM967.8 475.5h14.4v7.4h-14.4zM1009.8 475.5h7.4v7.4h-7.4zM1149.9 475.5h14.4v7.4h-14.4zM1185.0 475.5h28.4v7.4h-28.4zM288.1 482.5h14.4v7.4h-14.4zM743.5 482.5h7.4v7.4h-7.4zM904.7 482.5h14.4v7.4h-14.4zM925.7 482.5h49.4v7.4h-49.4zM1016.8 482.5h14.4v7.4h-14.4zM1037.8 482.5h35.4v7.4h-35.4zM1121.9 482.5h21.4v7.4h-21.4zM288.1 489.5h14.4v7.4h-14.4zM743.5 489.5h7.4v7.4h-7.4zM813.6 489.5h14.4v7.4h-14.4zM876.7 489.5h21.4v7.4h-21.4zM953.7 489.5h21.4v7.4h-21.4zM1023.8 489.5h14.4v7.4h-14.4zM1065.8 489.5h42.4v7.4h-42.4zM281.1 496.5h21.4v7.4h-21.4zM750.5 496.5h7.4v7.4h-7.4zM813.6 496.5h7.4v7.4h-7.4zM953.7 496.5h21.4v7.4h-21.4zM1023.8 496.5h7.4v7.4h-7.4zM281.1 503.5h7.4v7.4h-7.4zM337.2 503.5h7.4v7.4h-7.4zM764.6 503.5h7.4v7.4h-7.4zM806.6 503.5h7.4v7.4h-7.4zM960.7 503.5h21.4v7.4h-21.4zM337.2 510.5h7.4v7.4h-7.4zM799.6 510.5h14.4v7.4h-14.4zM967.8 510.5h14.4v7.4h-14.4zM330.1 517.5h7.4v7.4h-7.4zM687.5 517.5h21.4v7.4h-21.4zM778.6 517.5h28.4v7.4h-28.4zM323.1 524.4h7.4v7.4h-7.4zM708.5 524.4h7.4v7.4h-7.4zM785.6 524.4h7.4v7.4h-7.4zM715.5 531.4h7.4v7.4h-7.4zM722.5 545.4h7.4v7.4h-7.4zM652.5 552.4h7.4v7.4h-7.4zM722.5 552.4h7.4v7.4h-7.4zM456.3 559.4h14.4v7.4h-14.4zM491.3 559.4h7.4v7.4h-7.4zM505.3 559.4h7.4v7.4h-7.4zM449.3 566.4h7.4v7.4h-7.4zM463.3 566.4h21.4v7.4h-21.4zM519.3 566.4h7.4v7.4h-7.4zM645.4 566.4h7.4v7.4h-7.4zM715.5 566.4h7.4v7.4h-7.4zM449.3 573.4h7.4v7.4h-7.4zM470.3 573.4h14.4v7.4h-14.4zM164.0 580.4h33.4v7.4h-33.4zM449.3 580.4h7.4v7.4h-7.4zM463.3 580.4h14.4v7.4h-14.4zM680.5 580.4h35.4v7.4h-35.4zM164.0 587.4h26.4v7.4h-26.4zM449.3 587.4h28.4v7.4h-28.4zM673.5 587.4h7.4v7.4h-7.4zM862.7 587.4h21.4v7.4h-21.4zM164.0 594.3h19.4v7.4h-19.4zM456.3 594.3h21.4v7.4h-21.4zM512.3 594.3h7.4v7.4h-7.4zM666.5 594.3h7.4v7.4h-7.4zM827.6 594.3h21.4v7.4h-21.4zM876.7 594.3h14.4v7.4h-14.4zM164.0 601.3h19.4v7.4h-19.4zM456.3 601.3h21.4v7.4h-21.4zM512.3 601.3h7.4v7.4h-7.4zM673.5 601.3h7.4v7.4h-7.4zM806.6 601.3h7.4v7.4h-7.4zM883.7 601.3h14.4v7.4h-14.4zM946.7 601.3h7.4v7.4h-7.4zM470.3 608.3h14.4v7.4h-14.4zM512.3 608.3h7.4v7.4h-7.4zM673.5 608.3h7.4v7.4h-7.4zM890.7 608.3h14.4v7.4h-14.4zM932.7 608.3h14.4v7.4h-14.4zM953.7 608.3h14.4v7.4h-14.4zM477.3 615.3h14.4v7.4h-14.4zM673.5 615.3h7.4v7.4h-7.4zM785.6 615.3h7.4v7.4h-7.4zM897.7 615.3h35.4v7.4h-35.4zM960.7 615.3h7.4v7.4h-7.4zM1170.9 615.3h14.4v7.4h-14.4zM1199.0 615.3h7.4v7.4h-7.4zM491.3 622.3h7.4v7.4h-7.4zM519.3 622.3h7.4v7.4h-7.4zM673.5 622.3h7.4v7.4h-7.4zM904.7 622.3h21.4v7.4h-21.4zM960.7 622.3h7.4v7.4h-7.4zM1072.9 622.3h14.4v7.4h-14.4zM1156.9 622.3h7.4v7.4h-7.4zM1206.0 622.3h14.4v7.4h-14.4zM491.3 629.3h7.4v7.4h-7.4zM631.4 629.3h7.4v7.4h-7.4zM743.5 629.3h14.4v7.4h-14.4zM960.7 629.3h7.4v7.4h-7.4zM1065.8 629.3h7.4v7.4h-7.4zM1100.9 629.3h7.4v7.4h-7.4zM1142.9 629.3h14.4v7.4h-14.4zM484.3 636.3h7.4v7.4h-7.4zM519.3 636.3h7.4v7.4h-7.4zM687.5 636.3h7.4v7.4h-7.4zM736.5 636.3h14.4v7.4h-14.4zM960.7 636.3h7.4v7.4h-7.4zM1058.8 636.3h7.4v7.4h-7.4zM1114.9 636.3h7.4v7.4h-7.4zM1128.9 636.3h14.4v7.4h-14.4zM470.3 643.3h14.4v7.4h-14.4zM505.3 643.3h7.4v7.4h-7.4zM715.5 643.3h14.4v7.4h-14.4zM967.8 643.3h7.4v7.4h-7.4zM1044.8 643.3h14.4v7.4h-14.4zM1121.9 643.3h14.4v7.4h-14.4zM463.3 650.3h14.4v7.4h-14.4zM498.3 650.3h7.4v7.4h-7.4zM638.4 650.3h7.4v7.4h-7.4zM925.7 650.3h7.4v7.4h-7.4zM967.8 650.3h14.4v7.4h-14.4zM1037.8 650.3h14.4v7.4h-14.4zM463.3 657.3h7.4v7.4h-7.4zM925.7 657.3h14.4v7.4h-14.4zM981.8 657.3h14.4v7.4h-14.4zM1030.8 657.3h14.4v7.4h-14.4zM456.3 664.2h14.4v7.4h-14.4zM491.3 664.2h7.4v7.4h-7.4zM988.8 664.2h14.4v7.4h-14.4zM1030.8 664.2h14.4v7.4h-14.4zM456.3 671.2h14.4v7.4h-14.4zM652.5 671.2h7.4v7.4h-7.4zM995.8 671.2h42.4v7.4h-42.4zM456.3 678.2h14.4v7.4h-14.4zM659.5 678.2h7.4v7.4h-7.4zM1009.8 678.2h14.4v7.4h-14.4zM164.0 685.2h19.4v7.4h-19.4zM456.3 685.2h7.4v7.4h-7.4zM491.3 685.2h7.4v7.4h-7.4zM666.5 685.2h7.4v7.4h-7.4zM164.0 692.2h19.4v7.4h-19.4zM456.3 692.2h7.4v7.4h-7.4zM841.6 692.2h21.4v7.4h-21.4zM456.3 699.2h7.4v7.4h-7.4zM848.6 699.2h7.4v7.4h-7.4zM456.3 706.2h14.4v7.4h-14.4zM456.3 713.2h14.4v7.4h-14.4zM491.3 713.2h7.4v7.4h-7.4zM456.3 720.2h7.4v7.4h-7.4zM491.3 720.2h7.4v7.4h-7.4zM673.5 720.2h7.4v7.4h-7.4zM463.3 727.2h21.4v7.4h-21.4zM673.5 727.2h7.4v7.4h-7.4zM680.5 741.1h7.4v7.4h-7.4zM680.5 748.1h7.4v7.4h-7.4zM680.5 762.1h7.4v7.4h-7.4zM673.5 769.1h7.4v7.4h-7.4zM666.5 776.1h7.4v7.4h-7.4zM652.5 783.1h7.4v7.4h-7.4zM610.4 790.1h21.4v7.4h-21.4zM645.4 790.1h7.4v7.4h-7.4zM610.4 797.1h35.4v7.4h-35.4zM617.4 804.0h14.4v7.4h-14.4zM624.4 811.0h7.4v7.4h-7.4zM568.4 818.0h14.4v7.4h-14.4zM631.4 818.0h7.4v7.4h-7.4zM568.4 825.0h21.4v7.4h-21.4zM568.4 832.0h21.4v19.4h-21.4zM638.4 832.0h7.4v19.4h-7.4z"/><path fill="#ff1900" d="M164.0 114.0h33.4v19.4h-33.4zM218.0 114.0h14.4v19.4h-14.4zM164.0 133.0h19.4v7.4h-19.4zM190.0 133.0h14.4v7.4h-14.4zM218.0 133.0h14.4v7.4h-14.4zM204.0 140.0h7.4v7.4h-7.4zM218.0 140.0h14.4v7.4h-14.4zM211.0 147.0h42.4v7.4h-42.4zM211.0 154.0h14.4v7.4h-14.4zM267.1 154.0h28.4v7.4h-28.4zM316.1 154.0h14.4v7.4h-14.4zM365.2 154.0h14.4v7.4h-14.4zM211.0 161.0h14.4v7.4h-14.4zM288.1 161.0h49.4v7.4h-49.4zM365.2 161.0h14.4v7.4h-14.4zM211.0 167.9h21.4v7.4h-21.4zM288.1 167.9h28.4v7.4h-28.4zM330.1 167.9h21.4v7.4h-21.4zM211.0 174.9h21.4v7.4h-21.4zM288.1 174.9h28.4v7.4h-28.4zM330.1 174.9h28.4v7.4h-28.4zM204.0 181.9h35.4v7.4h-35.4zM288.1 181.9h7.4v7.4h-7.4zM316.1 181.9h56.5v7.4h-56.5zM204.0 188.9h21.4v7.4h-21.4zM232.1 188.9h14.4v7.4h-14.4zM267.1 188.9h21.4v7.4h-21.4zM344.2 188.9h28.4v7.4h-28.4zM197.0 195.9h21.4v7.4h-21.4zM239.1 195.9h28.4v7.4h-28.4zM351.2 195.9h14.4v7.4h-14.4zM190.0 202.9h28.4v7.4h-28.4zM239.1 202.9h21.4v7.4h-21.4zM211.0 209.9h14.4v7.4h-14.4zM239.1 209.9h21.4v7.4h-21.4zM225.0 216.9h35.4v7.4h-35.4zM246.1 223.9h14.4v7.4h-14.4zM246.1 230.9h14.4v7.4h-14.4zM253.1 237.8h42.4v7.4h-42.4zM295.1 244.8h7.4v7.4h-7.4zM302.1 251.8h28.4v7.4h-28.4zM323.1 258.8h14.4v7.4h-14.4zM337.2 265.8h7.4v7.4h-7.4zM344.2 272.8h14.4v7.4h-14.4zM351.2 279.8h7.4v7.4h-7.4zM351.2 286.8h7.4v7.4h-7.4zM351.2 293.8h7.4v7.4h-7.4zM309.1 300.8h7.4v7.4h-7.4zM351.2 300.8h7.4v7.4h-7.4zM351.2 307.7h7.4v7.4h-7.4zM358.2 314.7h7.4v7.4h-7.4zM372.2 321.7h35.4v7.4h-35.4zM428.2 321.7h7.4v7.4h-7.4zM197.0 328.7h14.4v7.4h-14.4zM414.2 328.7h28.4v7.4h-28.4zM197.0 335.7h14.4v7.4h-14.4zM428.2 335.7h14.4v7.4h-14.4zM197.0 342.7h21.4v7.4h-21.4zM435.2 342.7h35.4v7.4h-35.4zM512.3 342.7h7.4v7.4h-7.4zM197.0 349.7h21.4v7.4h-21.4zM442.3 349.7h28.4v7.4h-28.4zM197.0 356.7h21.4v7.4h-21.4zM449.3 356.7h21.4v7.4h-21.4zM204.0 363.7h14.4v7.4h-14.4zM435.2 363.7h21.4v7.4h-21.4zM435.2 370.7h21.4v7.4h-21.4zM484.3 370.7h21.4v7.4h-21.4zM435.2 377.6h21.4v7.4h-21.4zM484.3 377.6h28.4v7.4h-28.4zM164.0 384.6h33.4v7.4h-33.4zM435.2 384.6h28.4v7.4h-28.4zM491.3 384.6h21.4v7.4h-21.4zM164.0 391.6h40.4v7.4h-40.4zM442.3 391.6h28.4v7.4h-28.4zM491.3 391.6h21.4v7.4h-21.4zM164.0 398.6h40.4v7.4h-40.4zM449.3 398.6h21.4v7.4h-21.4zM491.3 398.6h21.4v7.4h-21.4zM164.0 405.6h40.4v7.4h-40.4zM449.3 405.6h35.4v7.4h-35.4zM512.3 405.6h7.4v7.4h-7.4zM183.0 412.6h21.4v7.4h-21.4zM239.1 412.6h14.4v7.4h-14.4zM519.3 412.6h14.4v7.4h-14.4zM197.0 419.6h7.4v7.4h-7.4zM232.1 419.6h35.4v7.4h-35.4zM533.3 419.6h21.4v7.4h-21.4zM239.1 426.6h63.5v7.4h-63.5zM554.4 426.6h7.4v7.4h-7.4zM246.1 433.6h28.4v7.4h-28.4zM330.1 433.6h7.4v7.4h-7.4zM253.1 440.6h21.4v7.4h-21.4zM568.4 440.6h7.4v7.4h-7.4zM617.4 440.6h21.4v7.4h-21.4zM260.1 447.5h14.4v7.4h-14.4zM582.4 447.5h7.4v7.4h-7.4zM603.4 447.5h14.4v7.4h-14.4zM638.4 447.5h14.4v7.4h-14.4zM694.5 447.5h21.4v7.4h-21.4zM274.1 454.5h7.4v7.4h-7.4zM659.5 454.5h14.4v7.4h-14.4zM680.5 454.5h35.4v7.4h-35.4zM281.1 461.5h7.4v7.4h-7.4zM344.2 461.5h7.4v7.4h-7.4zM673.5 461.5h7.4v7.4h-7.4zM701.5 461.5h21.4v7.4h-21.4zM288.1 468.5h7.4v7.4h-7.4zM344.2 468.5h7.4v7.4h-7.4zM708.5 468.5h28.4v7.4h-28.4zM288.1 475.5h7.4v7.4h-7.4zM736.5 475.5h7.4v7.4h-7.4zM981.8 475.5h28.4v7.4h-28.4zM1163.9 475.5h21.4v7.4h-21.4zM1213.0 475.5h26.4v7.4h-26.4zM281.1 482.5h7.4v7.4h-7.4zM736.5 482.5h7.4v7.4h-7.4zM918.7 482.5h7.4v7.4h-7.4zM974.8 482.5h7.4v7.4h-7.4zM1009.8 482.5h7.4v7.4h-7.4zM1142.9 482.5h21.4v7.4h-21.4zM1185.0 482.5h21.4v7.4h-21.4zM274.1 489.5h14.4v7.4h-14.4zM827.6 489.5h49.4v7.4h-49.4zM897.7 489.5h56.5v7.4h-56.5zM974.8 489.5h7.4v7.4h-7.4zM1016.8 489.5h7.4v7.4h-7.4zM1037.8 489.5h28.4v7.4h-28.4zM1107.9 489.5h21.4v7.4h-21.4zM274.1 496.5h7.4v7.4h-7.4zM743.5 496.5h7.4v7.4h-7.4zM820.6 496.5h7.4v7.4h-7.4zM883.7 496.5h14.4v7.4h-14.4zM911.7 496.5h28.4v7.4h-28.4zM946.7 496.5h7.4v7.4h-7.4zM974.8 496.5h7.4v7.4h-7.4zM1016.8 496.5h7.4v7.4h-7.4zM1030.8 496.5h14.4v7.4h-14.4zM1065.8 496.5h21.4v7.4h-21.4zM757.6 503.5h7.4v7.4h-7.4zM813.6 503.5h7.4v7.4h-7.4zM911.7 503.5h14.4v7.4h-14.4zM953.7 503.5h7.4v7.4h-7.4zM981.8 503.5h7.4v7.4h-7.4zM1023.8 503.5h21.4v7.4h-21.4zM281.1 510.5h7.4v7.4h-7.4zM771.6 510.5h7.4v7.4h-7.4zM813.6 510.5h7.4v7.4h-7.4zM904.7 510.5h14.4v7.4h-14.4zM953.7 510.5h14.4v7.4h-14.4zM981.8 510.5h7.4v7.4h-7.4zM281.1 517.5h7.4v7.4h-7.4zM708.5 517.5h7.4v7.4h-7.4zM806.6 517.5h7.4v7.4h-7.4zM967.8 517.5h21.4v7.4h-21.4zM281.1 524.4h7.4v7.4h-7.4zM715.5 524.4h7.4v7.4h-7.4zM778.6 524.4h7.4v7.4h-7.4zM792.6 524.4h14.4v7.4h-14.4zM281.1 531.4h7.4v7.4h-7.4zM323.1 531.4h7.4v7.4h-7.4zM785.6 531.4h7.4v7.4h-7.4zM253.1 538.4h35.4v7.4h-35.4zM323.1 538.4h7.4v7.4h-7.4zM722.5 538.4h7.4v7.4h-7.4zM1220.0 538.4h19.4v7.4h-19.4zM246.1 545.4h21.4v7.4h-21.4zM281.1 545.4h7.4v7.4h-7.4zM1213.0 545.4h26.4v7.4h-26.4zM164.0 552.4h26.4v7.4h-26.4zM239.1 552.4h21.4v7.4h-21.4zM288.1 552.4h14.4v7.4h-14.4zM456.3 552.4h7.4v7.4h-7.4zM1213.0 552.4h26.4v7.4h-26.4zM164.0 559.4h33.4v7.4h-33.4zM239.1 559.4h7.4v7.4h-7.4zM449.3 559.4h7.4v7.4h-7.4zM470.3 559.4h21.4v7.4h-21.4zM512.3 559.4h7.4v7.4h-7.4zM645.4 559.4h7.4v7.4h-7.4zM722.5 559.4h7.4v7.4h-7.4zM1213.0 559.4h26.4v7.4h-26.4zM164.0 566.4h33.4v7.4h-33.4zM442.3 566.4h7.4v7.4h-7.4zM1213.0 566.4h26.4v7.4h-26.4zM164.0 573.4h40.4v7.4h-40.4zM442.3 573.4h7.4v7.4h-7.4zM526.3 573.4h7.4v7.4h-7.4zM715.5 573.4h7.4v7.4h-7.4zM197.0 580.4h14.4v7.4h-14.4zM442.3 580.4h7.4v7.4h-7.4zM638.4 580.4h7.4v7.4h-7.4zM869.7 580.4h14.4v7.4h-14.4zM190.0 587.4h21.4v7.4h-21.4zM519.3 587.4h7.4v7.4h-7.4zM631.4 587.4h7.4v7.4h-7.4zM680.5 587.4h35.4v7.4h-35.4zM841.6 587.4h21.4v7.4h-21.4zM883.7 587.4h7.4v7.4h-7.4zM183.0 594.3h28.4v7.4h-28.4zM449.3 594.3h7.4v7.4h-7.4zM673.5 594.3h14.4v7.4h-14.4zM694.5 594.3h21.4v7.4h-21.4zM813.6 594.3h14.4v7.4h-14.4zM890.7 594.3h7.4v7.4h-7.4zM183.0 601.3h7.4v7.4h-7.4zM449.3 601.3h7.4v7.4h-7.4zM680.5 601.3h35.4v7.4h-35.4zM799.6 601.3h7.4v7.4h-7.4zM897.7 601.3h7.4v7.4h-7.4zM925.7 601.3h21.4v7.4h-21.4zM953.7 601.3h21.4v7.4h-21.4zM164.0 608.3h26.4v7.4h-26.4zM456.3 608.3h14.4v7.4h-14.4zM680.5 608.3h14.4v7.4h-14.4zM792.6 608.3h7.4v7.4h-7.4zM904.7 608.3h28.4v7.4h-28.4zM967.8 608.3h14.4v7.4h-14.4zM1185.0 608.3h28.4v7.4h-28.4zM164.0 615.3h19.4v7.4h-19.4zM449.3 615.3h28.4v7.4h-28.4zM519.3 615.3h7.4v7.4h-7.4zM680.5 615.3h7.4v7.4h-7.4zM967.8 615.3h7.4v7.4h-7.4zM1065.8 615.3h14.4v7.4h-14.4zM1156.9 615.3h14.4v7.4h-14.4zM1206.0 615.3h33.4v7.4h-33.4zM449.3 622.3h42.4v7.4h-42.4zM680.5 622.3h7.4v7.4h-7.4zM771.6 622.3h7.4v7.4h-7.4zM967.8 622.3h7.4v7.4h-7.4zM1058.8 622.3h14.4v7.4h-14.4zM1086.9 622.3h14.4v7.4h-14.4zM1149.9 622.3h7.4v7.4h-7.4zM449.3 629.3h42.4v7.4h-42.4zM680.5 629.3h7.4v7.4h-7.4zM736.5 629.3h7.4v7.4h-7.4zM967.8 629.3h7.4v7.4h-7.4zM1058.8 629.3h7.4v7.4h-7.4zM1107.9 629.3h35.4v7.4h-35.4zM449.3 636.3h35.4v7.4h-35.4zM631.4 636.3h7.4v7.4h-7.4zM694.5 636.3h42.4v7.4h-42.4zM967.8 636.3h14.4v7.4h-14.4zM1023.8 636.3h35.4v7.4h-35.4zM1121.9 636.3h7.4v7.4h-7.4zM449.3 643.3h21.4v7.4h-21.4zM512.3 643.3h7.4v7.4h-7.4zM631.4 643.3h7.4v7.4h-7.4zM974.8 643.3h14.4v7.4h-14.4zM1016.8 643.3h28.4v7.4h-28.4zM449.3 650.3h14.4v7.4h-14.4zM981.8 650.3h56.5v7.4h-56.5zM449.3 657.3h14.4v7.4h-14.4zM498.3 657.3h7.4v7.4h-7.4zM638.4 657.3h7.4v7.4h-7.4zM995.8 657.3h35.4v7.4h-35.4zM449.3 664.2h7.4v7.4h-7.4zM645.4 664.2h7.4v7.4h-7.4zM1002.8 664.2h28.4v7.4h-28.4zM449.3 671.2h7.4v7.4h-7.4zM491.3 671.2h7.4v7.4h-7.4zM164.0 678.2h26.4v7.4h-26.4zM449.3 678.2h7.4v7.4h-7.4zM491.3 678.2h7.4v7.4h-7.4zM183.0 685.2h14.4v7.4h-14.4zM449.3 685.2h7.4v7.4h-7.4zM183.0 692.2h14.4v7.4h-14.4zM164.0 699.2h26.4v7.4h-26.4zM498.3 699.2h7.4v7.4h-7.4zM673.5 699.2h7.4v7.4h-7.4zM498.3 706.2h7.4v7.4h-7.4zM673.5 706.2h7.4v7.4h-7.4zM673.5 713.2h7.4v7.4h-7.4zM666.5 720.2h7.4v7.4h-7.4zM164.0 727.2h26.4v7.4h-26.4zM456.3 727.2h7.4v7.4h-7.4zM484.3 727.2h7.4v7.4h-7.4zM666.5 727.2h7.4v7.4h-7.4zM164.0 734.1h19.4v7.4h-19.4zM673.5 734.1h7.4v7.4h-7.4zM680.5 755.1h7.4v7.4h-7.4zM673.5 762.1h7.4v7.4h-7.4zM624.4 769.1h14.4v7.4h-14.4zM666.5 769.1h7.4v7.4h-7.4zM617.4 776.1h49.4v7.4h-49.4zM610.4 783.1h42.4v7.4h-42.4zM603.4 790.1h7.4v7.4h-7.4zM631.4 790.1h14.4v7.4h-14.4zM603.4 797.1h7.4v7.4h-7.4zM603.4 804.0h14.4v7.4h-14.4zM561.4 811.0h28.4v7.4h-28.4zM610.4 811.0h14.4v7.4h-14.4zM561.4 818.0h7.4v7.4h-7.4zM582.4 818.0h14.4v7.4h-14.4zM624.4 818.0h7.4v7.4h-7.4zM561.4 825.0h7.4v7.4h-7.4zM589.4 825.0h14.4v7.4h-14.4zM631.4 825.0h7.4v7.4h-7.4zM561.4 832.0h7.4v19.4h-7.4zM589.4 832.0h14.4v19.4h-14.4zM631.4 832.0h7.4v19.4h-7.4z"/><path fill="#ff1000" d="M197.0 114.0h21.4v19.4h-21.4zM204.0 133.0h14.4v7.4h-14.4zM211.0 140.0h7.4v7.4h-7.4zM225.0 154.0h42.4v7.4h-42.4zM225.0 161.0h14.4v7.4h-14.4zM274.1 161.0h14.4v7.4h-14.4zM232.1 167.9h7.4v7.4h-7.4zM281.1 167.9h7.4v7.4h-7.4zM316.1 167.9h14.4v7.4h-14.4zM232.1 174.9h7.4v7.4h-7.4zM281.1 174.9h7.4v7.4h-7.4zM316.1 174.9h14.4v7.4h-14.4zM239.1 181.9h7.4v7.4h-7.4zM274.1 181.9h14.4v7.4h-14.4zM246.1 188.9h21.4v7.4h-21.4zM164.0 202.9h26.4v7.4h-26.4zM190.0 209.9h21.4v7.4h-21.4zM211.0 216.9h14.4v7.4h-14.4zM225.0 223.9h21.4v7.4h-21.4zM232.1 230.9h14.4v7.4h-14.4zM225.0 237.8h7.4v7.4h-7.4zM239.1 237.8h14.4v7.4h-14.4zM218.0 244.8h14.4v7.4h-14.4zM260.1 244.8h35.4v7.4h-35.4zM288.1 251.8h14.4v7.4h-14.4zM295.1 258.8h28.4v7.4h-28.4zM302.1 265.8h35.4v7.4h-35.4zM316.1 272.8h28.4v7.4h-28.4zM309.1 279.8h14.4v7.4h-14.4zM344.2 279.8h7.4v7.4h-7.4zM309.1 286.8h14.4v7.4h-14.4zM344.2 286.8h7.4v7.4h-7.4zM302.1 293.8h28.4v7.4h-28.4zM344.2 293.8h7.4v7.4h-7.4zM295.1 300.8h14.4v7.4h-14.4zM316.1 300.8h35.4v7.4h-35.4zM260.1 307.7h14.4v7.4h-14.4zM295.1 307.7h56.5v7.4h-56.5zM164.0 314.7h26.4v7.4h-26.4zM246.1 314.7h35.4v7.4h-35.4zM344.2 314.7h14.4v7.4h-14.4zM164.0 321.7h47.4v7.4h-47.4zM246.1 321.7h28.4v7.4h-28.4zM358.2 321.7h14.4v7.4h-14.4zM183.0 328.7h14.4v7.4h-14.4zM211.0 328.7h14.4v7.4h-14.4zM386.2 328.7h28.4v7.4h-28.4zM190.0 335.7h7.4v7.4h-7.4zM211.0 335.7h14.4v7.4h-14.4zM386.2 335.7h42.4v7.4h-42.4zM190.0 342.7h7.4v7.4h-7.4zM218.0 342.7h7.4v7.4h-7.4zM379.2 342.7h56.5v7.4h-56.5zM190.0 349.7h7.4v7.4h-7.4zM218.0 349.7h7.4v7.4h-7.4zM365.2 349.7h42.4v7.4h-42.4zM421.2 349.7h21.4v7.4h-21.4zM190.0 356.7h7.4v7.4h-7.4zM218.0 356.7h7.4v7.4h-7.4zM386.2 356.7h21.4v7.4h-21.4zM428.2 356.7h21.4v7.4h-21.4zM190.0 363.7h14.4v7.4h-14.4zM218.0 363.7h14.4v7.4h-14.4zM421.2 363.7h14.4v7.4h-14.4zM164.0 370.7h61.4v7.4h-61.4zM421.2 370.7h14.4v7.4h-14.4zM164.0 377.6h54.4v7.4h-54.4zM428.2 377.6h7.4v7.4h-7.4zM197.0 384.6h14.4v7.4h-14.4zM428.2 384.6h7.4v7.4h-7.4zM204.0 391.6h7.4v7.4h-7.4zM435.2 391.6h7.4v7.4h-7.4zM204.0 398.6h7.4v7.4h-7.4zM435.2 398.6h14.4v7.4h-14.4zM204.0 405.6h7.4v7.4h-7.4zM484.3 405.6h28.4v7.4h-28.4zM164.0 412.6h19.4v7.4h-19.4zM204.0 412.6h7.4v7.4h-7.4zM232.1 412.6h7.4v7.4h-7.4zM253.1 412.6h14.4v7.4h-14.4zM449.3 412.6h28.4v7.4h-28.4zM512.3 412.6h7.4v7.4h-7.4zM183.0 419.6h14.4v7.4h-14.4zM204.0 419.6h7.4v7.4h-7.4zM225.0 419.6h7.4v7.4h-7.4zM267.1 419.6h21.4v7.4h-21.4zM519.3 419.6h14.4v7.4h-14.4zM190.0 426.6h14.4v7.4h-14.4zM225.0 426.6h14.4v7.4h-14.4zM302.1 426.6h21.4v7.4h-21.4zM533.3 426.6h21.4v7.4h-21.4zM232.1 433.6h14.4v7.4h-14.4zM547.4 433.6h14.4v7.4h-14.4zM246.1 440.6h7.4v7.4h-7.4zM337.2 440.6h7.4v7.4h-7.4zM554.4 440.6h14.4v7.4h-14.4zM253.1 447.5h7.4v7.4h-7.4zM568.4 447.5h14.4v7.4h-14.4zM617.4 447.5h21.4v7.4h-21.4zM164.0 454.5h19.4v7.4h-19.4zM253.1 454.5h21.4v7.4h-21.4zM344.2 454.5h7.4v7.4h-7.4zM596.4 454.5h7.4v7.4h-7.4zM638.4 454.5h21.4v7.4h-21.4zM164.0 461.5h26.4v7.4h-26.4zM267.1 461.5h14.4v7.4h-14.4zM659.5 461.5h14.4v7.4h-14.4zM680.5 461.5h21.4v7.4h-21.4zM164.0 468.5h19.4v7.4h-19.4zM281.1 468.5h7.4v7.4h-7.4zM694.5 468.5h14.4v7.4h-14.4zM274.1 475.5h14.4v7.4h-14.4zM344.2 475.5h7.4v7.4h-7.4zM708.5 475.5h28.4v7.4h-28.4zM274.1 482.5h7.4v7.4h-7.4zM344.2 482.5h7.4v7.4h-7.4zM729.5 482.5h7.4v7.4h-7.4zM981.8 482.5h7.4v7.4h-7.4zM1002.8 482.5h7.4v7.4h-7.4zM1163.9 482.5h21.4v7.4h-21.4zM1206.0 482.5h14.4v7.4h-14.4zM267.1 489.5h7.4v7.4h-7.4zM344.2 489.5h7.4v7.4h-7.4zM736.5 489.5h7.4v7.4h-7.4zM981.8 489.5h7.4v7.4h-7.4zM1009.8 489.5h7.4v7.4h-7.4zM1128.9 489.5h42.4v7.4h-42.4zM267.1 496.5h7.4v7.4h-7.4zM344.2 496.5h7.4v7.4h-7.4zM729.5 496.5h14.4v7.4h-14.4zM827.6 496.5h7.4v7.4h-7.4zM862.7 496.5h21.4v7.4h-21.4zM897.7 496.5h14.4v7.4h-14.4zM939.7 496.5h7.4v7.4h-7.4zM981.8 496.5h14.4v7.4h-14.4zM1002.8 496.5h14.4v7.4h-14.4zM1044.8 496.5h21.4v7.4h-21.4zM1086.9 496.5h35.4v7.4h-35.4zM267.1 503.5h14.4v7.4h-14.4zM344.2 503.5h7.4v7.4h-7.4zM750.5 503.5h7.4v7.4h-7.4zM820.6 503.5h7.4v7.4h-7.4zM876.7 503.5h35.4v7.4h-35.4zM925.7 503.5h28.4v7.4h-28.4zM988.8 503.5h35.4v7.4h-35.4zM1044.8 503.5h35.4v7.4h-35.4zM274.1 510.5h7.4v7.4h-7.4zM344.2 510.5h7.4v7.4h-7.4zM687.5 510.5h21.4v7.4h-21.4zM764.6 510.5h7.4v7.4h-7.4zM876.7 510.5h28.4v7.4h-28.4zM918.7 510.5h14.4v7.4h-14.4zM946.7 510.5h7.4v7.4h-7.4zM988.8 510.5h14.4v7.4h-14.4zM1030.8 510.5h42.4v7.4h-42.4zM274.1 517.5h7.4v7.4h-7.4zM337.2 517.5h7.4v7.4h-7.4zM680.5 517.5h7.4v7.4h-7.4zM771.6 517.5h7.4v7.4h-7.4zM813.6 517.5h7.4v7.4h-7.4zM876.7 517.5h49.4v7.4h-49.4zM953.7 517.5h14.4v7.4h-14.4zM988.8 517.5h7.4v7.4h-7.4zM253.1 524.4h28.4v7.4h-28.4zM330.1 524.4h7.4v7.4h-7.4zM673.5 524.4h7.4v7.4h-7.4zM806.6 524.4h7.4v7.4h-7.4zM981.8 524.4h7.4v7.4h-7.4zM1213.0 524.4h26.4v7.4h-26.4zM246.1 531.4h35.4v7.4h-35.4zM666.5 531.4h7.4v7.4h-7.4zM722.5 531.4h7.4v7.4h-7.4zM778.6 531.4h7.4v7.4h-7.4zM792.6 531.4h7.4v7.4h-7.4zM1213.0 531.4h26.4v7.4h-26.4zM246.1 538.4h7.4v7.4h-7.4zM785.6 538.4h7.4v7.4h-7.4zM1206.0 538.4h14.4v7.4h-14.4zM164.0 545.4h26.4v7.4h-26.4zM239.1 545.4h7.4v7.4h-7.4zM267.1 545.4h14.4v7.4h-14.4zM323.1 545.4h7.4v7.4h-7.4zM449.3 545.4h21.4v7.4h-21.4zM1206.0 545.4h7.4v7.4h-7.4zM190.0 552.4h14.4v7.4h-14.4zM232.1 552.4h7.4v7.4h-7.4zM260.1 552.4h28.4v7.4h-28.4zM302.1 552.4h21.4v7.4h-21.4zM449.3 552.4h7.4v7.4h-7.4zM463.3 552.4h14.4v7.4h-14.4zM498.3 552.4h7.4v7.4h-7.4zM1206.0 552.4h7.4v7.4h-7.4zM197.0 559.4h7.4v7.4h-7.4zM232.1 559.4h7.4v7.4h-7.4zM246.1 559.4h35.4v7.4h-35.4zM435.2 559.4h14.4v7.4h-14.4zM1206.0 559.4h7.4v7.4h-7.4zM197.0 566.4h7.4v7.4h-7.4zM232.1 566.4h21.4v7.4h-21.4zM435.2 566.4h7.4v7.4h-7.4zM526.3 566.4h7.4v7.4h-7.4zM722.5 566.4h7.4v7.4h-7.4zM1199.0 566.4h14.4v7.4h-14.4zM204.0 573.4h7.4v7.4h-7.4zM232.1 573.4h14.4v7.4h-14.4zM435.2 573.4h7.4v7.4h-7.4zM638.4 573.4h7.4v7.4h-7.4zM1199.0 573.4h40.4v7.4h-40.4zM239.1 580.4h7.4v7.4h-7.4zM435.2 580.4h7.4v7.4h-7.4zM526.3 580.4h7.4v7.4h-7.4zM715.5 580.4h7.4v7.4h-7.4zM855.6 580.4h14.4v7.4h-14.4zM883.7 580.4h7.4v7.4h-7.4zM1199.0 580.4h14.4v7.4h-14.4zM211.0 587.4h7.4v7.4h-7.4zM435.2 587.4h14.4v7.4h-14.4zM715.5 587.4h7.4v7.4h-7.4zM827.6 587.4h14.4v7.4h-14.4zM890.7 587.4h7.4v7.4h-7.4zM1199.0 587.4h14.4v7.4h-14.4zM211.0 594.3h7.4v7.4h-7.4zM435.2 594.3h14.4v7.4h-14.4zM519.3 594.3h7.4v7.4h-7.4zM687.5 594.3h7.4v7.4h-7.4zM715.5 594.3h7.4v7.4h-7.4zM799.6 594.3h14.4v7.4h-14.4zM897.7 594.3h7.4v7.4h-7.4zM925.7 594.3h35.4v7.4h-35.4zM1199.0 594.3h14.4v7.4h-14.4zM190.0 601.3h28.4v7.4h-28.4zM442.3 601.3h7.4v7.4h-7.4zM519.3 601.3h7.4v7.4h-7.4zM624.4 601.3h7.4v7.4h-7.4zM715.5 601.3h7.4v7.4h-7.4zM792.6 601.3h7.4v7.4h-7.4zM904.7 601.3h21.4v7.4h-21.4zM974.8 601.3h14.4v7.4h-14.4zM1058.8 601.3h14.4v7.4h-14.4zM1192.0 601.3h21.4v7.4h-21.4zM190.0 608.3h35.4v7.4h-35.4zM449.3 608.3h7.4v7.4h-7.4zM519.3 608.3h7.4v7.4h-7.4zM624.4 608.3h7.4v7.4h-7.4zM694.5 608.3h35.4v7.4h-35.4zM785.6 608.3h7.4v7.4h-7.4zM981.8 608.3h7.4v7.4h-7.4zM1051.8 608.3h28.4v7.4h-28.4zM1170.9 608.3h14.4v7.4h-14.4zM1213.0 608.3h26.4v7.4h-26.4zM183.0 615.3h14.4v7.4h-14.4zM204.0 615.3h14.4v7.4h-14.4zM442.3 615.3h7.4v7.4h-7.4zM624.4 615.3h7.4v7.4h-7.4zM687.5 615.3h7.4v7.4h-7.4zM778.6 615.3h7.4v7.4h-7.4zM974.8 615.3h7.4v7.4h-7.4zM1051.8 615.3h14.4v7.4h-14.4zM1079.9 615.3h14.4v7.4h-14.4zM1149.9 615.3h7.4v7.4h-7.4zM164.0 622.3h33.4v7.4h-33.4zM442.3 622.3h7.4v7.4h-7.4zM526.3 622.3h7.4v7.4h-7.4zM624.4 622.3h7.4v7.4h-7.4zM729.5 622.3h42.4v7.4h-42.4zM974.8 622.3h7.4v7.4h-7.4zM1044.8 622.3h14.4v7.4h-14.4zM1100.9 622.3h14.4v7.4h-14.4zM1135.9 622.3h14.4v7.4h-14.4zM164.0 629.3h40.4v7.4h-40.4zM442.3 629.3h7.4v7.4h-7.4zM526.3 629.3h7.4v7.4h-7.4zM687.5 629.3h7.4v7.4h-7.4zM722.5 629.3h14.4v7.4h-14.4zM974.8 629.3h7.4v7.4h-7.4zM1016.8 629.3h42.4v7.4h-42.4zM164.0 636.3h40.4v7.4h-40.4zM442.3 636.3h7.4v7.4h-7.4zM981.8 636.3h7.4v7.4h-7.4zM1009.8 636.3h14.4v7.4h-14.4zM164.0 643.3h40.4v7.4h-40.4zM442.3 643.3h7.4v7.4h-7.4zM988.8 643.3h28.4v7.4h-28.4zM183.0 650.3h21.4v7.4h-21.4zM442.3 650.3h7.4v7.4h-7.4zM505.3 650.3h7.4v7.4h-7.4zM631.4 650.3h7.4v7.4h-7.4zM164.0 657.3h40.4v7.4h-40.4zM442.3 657.3h7.4v7.4h-7.4zM631.4 657.3h7.4v7.4h-7.4zM164.0 664.2h33.4v7.4h-33.4zM442.3 664.2h7.4v7.4h-7.4zM638.4 664.2h7.4v7.4h-7.4zM164.0 671.2h40.4v7.4h-40.4zM442.3 671.2h7.4v7.4h-7.4zM645.4 671.2h7.4v7.4h-7.4zM190.0 678.2h14.4v7.4h-14.4zM442.3 678.2h7.4v7.4h-7.4zM652.5 678.2h7.4v7.4h-7.4zM197.0 685.2h42.4v7.4h-42.4zM442.3 685.2h7.4v7.4h-7.4zM659.5 685.2h7.4v7.4h-7.4zM197.0 692.2h49.4v7.4h-49.4zM449.3 692.2h7.4v7.4h-7.4zM498.3 692.2h7.4v7.4h-7.4zM666.5 692.2h7.4v7.4h-7.4zM190.0 699.2h56.5v7.4h-56.5zM449.3 699.2h7.4v7.4h-7.4zM164.0 706.2h47.4v7.4h-47.4zM225.0 706.2h21.4v7.4h-21.4zM164.0 713.2h47.4v7.4h-47.4zM498.3 713.2h7.4v7.4h-7.4zM666.5 713.2h7.4v7.4h-7.4zM164.0 720.2h47.4v7.4h-47.4zM498.3 720.2h7.4v7.4h-7.4zM652.5 720.2h14.4v7.4h-14.4zM190.0 727.2h21.4v7.4h-21.4zM491.3 727.2h7.4v7.4h-7.4zM652.5 727.2h14.4v7.4h-14.4zM183.0 734.1h35.4v7.4h-35.4zM666.5 734.1h7.4v7.4h-7.4zM164.0 741.1h26.4v7.4h-26.4zM673.5 741.1h7.4v7.4h-7.4zM673.5 748.1h7.4v7.4h-7.4zM617.4 755.1h21.4v7.4h-21.4zM673.5 755.1h7.4v7.4h-7.4zM610.4 762.1h35.4v7.4h-35.4zM610.4 769.1h14.4v7.4h-14.4zM638.4 769.1h28.4v7.4h-28.4zM603.4 776.1h14.4v7.4h-14.4zM596.4 783.1h14.4v7.4h-14.4zM596.4 790.1h7.4v7.4h-7.4zM589.4 797.1h14.4v7.4h-14.4zM554.4 804.0h49.4v7.4h-49.4zM554.4 811.0h7.4v7.4h-7.4zM589.4 811.0h21.4v7.4h-21.4zM554.4 818.0h7.4v7.4h-7.4zM596.4 818.0h28.4v7.4h-28.4zM554.4 825.0h7.4v7.4h-7.4zM603.4 825.0h28.4v7.4h-28.4zM211.0 832.0h7.4v19.4h-7.4zM554.4 832.0h7.4v19.4h-7.4zM603.4 832.0h14.4v19.4h-14.4z"/><path fill="#ff0800" d="M239.1 161.0h7.4v7.4h-7.4zM260.1 161.0h14.4v7.4h-14.4zM239.1 167.9h7.4v7.4h-7.4zM267.1 167.9h14.4v7.4h-14.4zM239.1 174.9h7.4v7.4h-7.4zM267.1 174.9h14.4v7.4h-14.4zM246.1 181.9h28.4v7.4h-28.4zM164.0 209.9h26.4v7.4h-26.4zM190.0 216.9h21.4v7.4h-21.4zM211.0 223.9h14.4v7.4h-14.4zM211.0 230.9h21.4v7.4h-21.4zM211.0 237.8h14.4v7.4h-14.4zM232.1 237.8h7.4v7.4h-7.4zM211.0 244.8h7.4v7.4h-7.4zM232.1 244.8h28.4v7.4h-28.4zM211.0 251.8h28.4v7.4h-28.4zM260.1 251.8h28.4v7.4h-28.4zM267.1 258.8h28.4v7.4h-28.4zM288.1 265.8h14.4v7.4h-14.4zM302.1 272.8h14.4v7.4h-14.4zM302.1 279.8h7.4v7.4h-7.4zM323.1 279.8h21.4v7.4h-21.4zM295.1 286.8h14.4v7.4h-14.4zM323.1 286.8h21.4v7.4h-21.4zM281.1 293.8h21.4v7.4h-21.4zM330.1 293.8h14.4v7.4h-14.4zM253.1 300.8h42.4v7.4h-42.4zM164.0 307.7h26.4v7.4h-26.4zM246.1 307.7h14.4v7.4h-14.4zM274.1 307.7h21.4v7.4h-21.4zM190.0 314.7h14.4v7.4h-14.4zM281.1 314.7h63.5v7.4h-63.5zM211.0 321.7h7.4v7.4h-7.4zM239.1 321.7h7.4v7.4h-7.4zM274.1 321.7h7.4v7.4h-7.4zM351.2 321.7h7.4v7.4h-7.4zM164.0 328.7h19.4v7.4h-19.4zM225.0 328.7h35.4v7.4h-35.4zM365.2 328.7h21.4v7.4h-21.4zM164.0 335.7h26.4v7.4h-26.4zM225.0 335.7h21.4v7.4h-21.4zM365.2 335.7h21.4v7.4h-21.4zM183.0 342.7h7.4v7.4h-7.4zM225.0 342.7h7.4v7.4h-7.4zM358.2 342.7h21.4v7.4h-21.4zM183.0 349.7h7.4v7.4h-7.4zM225.0 349.7h7.4v7.4h-7.4zM351.2 349.7h14.4v7.4h-14.4zM407.2 349.7h14.4v7.4h-14.4zM164.0 356.7h26.4v7.4h-26.4zM225.0 356.7h14.4v7.4h-14.4zM344.2 356.7h42.4v7.4h-42.4zM407.2 356.7h21.4v7.4h-21.4zM164.0 363.7h26.4v7.4h-26.4zM232.1 363.7h7.4v7.4h-7.4zM386.2 363.7h35.4v7.4h-35.4zM225.0 370.7h7.4v7.4h-7.4zM414.2 370.7h7.4v7.4h-7.4zM218.0 377.6h7.4v7.4h-7.4zM421.2 377.6h7.4v7.4h-7.4zM211.0 384.6h7.4v7.4h-7.4zM421.2 384.6h7.4v7.4h-7.4zM211.0 391.6h7.4v7.4h-7.4zM428.2 391.6h7.4v7.4h-7.4zM211.0 398.6h7.4v7.4h-7.4zM211.0 405.6h49.4v7.4h-49.4zM442.3 405.6h7.4v7.4h-7.4zM211.0 412.6h21.4v7.4h-21.4zM267.1 412.6h14.4v7.4h-14.4zM477.3 412.6h21.4v7.4h-21.4zM505.3 412.6h7.4v7.4h-7.4zM164.0 419.6h19.4v7.4h-19.4zM211.0 419.6h14.4v7.4h-14.4zM288.1 419.6h14.4v7.4h-14.4zM449.3 419.6h14.4v7.4h-14.4zM512.3 419.6h7.4v7.4h-7.4zM164.0 426.6h26.4v7.4h-26.4zM204.0 426.6h21.4v7.4h-21.4zM323.1 426.6h7.4v7.4h-7.4zM519.3 426.6h14.4v7.4h-14.4zM183.0 433.6h28.4v7.4h-28.4zM225.0 433.6h7.4v7.4h-7.4zM533.3 433.6h14.4v7.4h-14.4zM164.0 440.6h47.4v7.4h-47.4zM232.1 440.6h14.4v7.4h-14.4zM540.3 440.6h14.4v7.4h-14.4zM164.0 447.5h47.4v7.4h-47.4zM239.1 447.5h14.4v7.4h-14.4zM344.2 447.5h7.4v7.4h-7.4zM554.4 447.5h14.4v7.4h-14.4zM183.0 454.5h28.4v7.4h-28.4zM246.1 454.5h7.4v7.4h-7.4zM582.4 454.5h14.4v7.4h-14.4zM603.4 454.5h35.4v7.4h-35.4zM190.0 461.5h21.4v7.4h-21.4zM246.1 461.5h21.4v7.4h-21.4zM645.4 461.5h14.4v7.4h-14.4zM183.0 468.5h28.4v7.4h-28.4zM246.1 468.5h35.4v7.4h-35.4zM666.5 468.5h28.4v7.4h-28.4zM164.0 475.5h19.4v7.4h-19.4zM197.0 475.5h14.4v7.4h-14.4zM239.1 475.5h35.4v7.4h-35.4zM694.5 475.5h14.4v7.4h-14.4zM232.1 482.5h42.4v7.4h-42.4zM701.5 482.5h28.4v7.4h-28.4zM988.8 482.5h14.4v7.4h-14.4zM1220.0 482.5h19.4v7.4h-19.4zM232.1 489.5h35.4v7.4h-35.4zM708.5 489.5h28.4v7.4h-28.4zM988.8 489.5h21.4v7.4h-21.4zM1170.9 489.5h49.4v7.4h-49.4zM225.0 496.5h42.4v7.4h-42.4zM701.5 496.5h28.4v7.4h-28.4zM834.6 496.5h28.4v7.4h-28.4zM995.8 496.5h7.4v7.4h-7.4zM1121.9 496.5h14.4v7.4h-14.4zM1149.9 496.5h21.4v7.4h-21.4zM1199.0 496.5h7.4v7.4h-7.4zM225.0 503.5h42.4v7.4h-42.4zM701.5 503.5h28.4v7.4h-28.4zM736.5 503.5h14.4v7.4h-14.4zM827.6 503.5h7.4v7.4h-7.4zM862.7 503.5h14.4v7.4h-14.4zM1079.9 503.5h14.4v7.4h-14.4zM1206.0 503.5h14.4v7.4h-14.4zM164.0 510.5h26.4v7.4h-26.4zM232.1 510.5h42.4v7.4h-42.4zM708.5 510.5h14.4v7.4h-14.4zM757.6 510.5h7.4v7.4h-7.4zM820.6 510.5h7.4v7.4h-7.4zM869.7 510.5h7.4v7.4h-7.4zM932.7 510.5h14.4v7.4h-14.4zM1002.8 510.5h28.4v7.4h-28.4zM1072.9 510.5h7.4v7.4h-7.4zM1199.0 510.5h40.4v7.4h-40.4zM164.0 517.5h26.4v7.4h-26.4zM232.1 517.5h42.4v7.4h-42.4zM344.2 517.5h7.4v7.4h-7.4zM715.5 517.5h14.4v7.4h-14.4zM764.6 517.5h7.4v7.4h-7.4zM820.6 517.5h7.4v7.4h-7.4zM869.7 517.5h7.4v7.4h-7.4zM925.7 517.5h7.4v7.4h-7.4zM946.7 517.5h7.4v7.4h-7.4zM995.8 517.5h7.4v7.4h-7.4zM1037.8 517.5h35.4v7.4h-35.4zM1192.0 517.5h47.4v7.4h-47.4zM232.1 524.4h21.4v7.4h-21.4zM722.5 524.4h7.4v7.4h-7.4zM771.6 524.4h7.4v7.4h-7.4zM813.6 524.4h14.4v7.4h-14.4zM876.7 524.4h49.4v7.4h-49.4zM960.7 524.4h21.4v7.4h-21.4zM988.8 524.4h14.4v7.4h-14.4zM1192.0 524.4h21.4v7.4h-21.4zM183.0 531.4h7.4v7.4h-7.4zM232.1 531.4h14.4v7.4h-14.4zM799.6 531.4h14.4v7.4h-14.4zM876.7 531.4h14.4v7.4h-14.4zM1199.0 531.4h14.4v7.4h-14.4zM164.0 538.4h33.4v7.4h-33.4zM232.1 538.4h14.4v7.4h-14.4zM449.3 538.4h21.4v7.4h-21.4zM659.5 538.4h7.4v7.4h-7.4zM729.5 538.4h7.4v7.4h-7.4zM778.6 538.4h7.4v7.4h-7.4zM1199.0 538.4h7.4v7.4h-7.4zM190.0 545.4h7.4v7.4h-7.4zM232.1 545.4h7.4v7.4h-7.4zM442.3 545.4h7.4v7.4h-7.4zM470.3 545.4h7.4v7.4h-7.4zM652.5 545.4h7.4v7.4h-7.4zM729.5 545.4h7.4v7.4h-7.4zM1199.0 545.4h7.4v7.4h-7.4zM204.0 552.4h7.4v7.4h-7.4zM225.0 552.4h7.4v7.4h-7.4zM323.1 552.4h7.4v7.4h-7.4zM428.2 552.4h21.4v7.4h-21.4zM477.3 552.4h21.4v7.4h-21.4zM505.3 552.4h7.4v7.4h-7.4zM645.4 552.4h7.4v7.4h-7.4zM729.5 552.4h7.4v7.4h-7.4zM1199.0 552.4h7.4v7.4h-7.4zM204.0 559.4h7.4v7.4h-7.4zM225.0 559.4h7.4v7.4h-7.4zM281.1 559.4h14.4v7.4h-14.4zM428.2 559.4h7.4v7.4h-7.4zM519.3 559.4h7.4v7.4h-7.4zM1199.0 559.4h7.4v7.4h-7.4zM204.0 566.4h7.4v7.4h-7.4zM225.0 566.4h7.4v7.4h-7.4zM253.1 566.4h35.4v7.4h-35.4zM428.2 566.4h7.4v7.4h-7.4zM638.4 566.4h7.4v7.4h-7.4zM1192.0 566.4h7.4v7.4h-7.4zM211.0 573.4h7.4v7.4h-7.4zM225.0 573.4h7.4v7.4h-7.4zM246.1 573.4h42.4v7.4h-42.4zM428.2 573.4h7.4v7.4h-7.4zM862.7 573.4h28.4v7.4h-28.4zM1192.0 573.4h7.4v7.4h-7.4zM211.0 580.4h28.4v7.4h-28.4zM246.1 580.4h14.4v7.4h-14.4zM428.2 580.4h7.4v7.4h-7.4zM631.4 580.4h7.4v7.4h-7.4zM848.6 580.4h7.4v7.4h-7.4zM890.7 580.4h7.4v7.4h-7.4zM1192.0 580.4h7.4v7.4h-7.4zM1213.0 580.4h26.4v7.4h-26.4zM218.0 587.4h35.4v7.4h-35.4zM428.2 587.4h7.4v7.4h-7.4zM526.3 587.4h7.4v7.4h-7.4zM813.6 587.4h14.4v7.4h-14.4zM897.7 587.4h7.4v7.4h-7.4zM1072.9 587.4h7.4v7.4h-7.4zM1192.0 587.4h7.4v7.4h-7.4zM1213.0 587.4h7.4v7.4h-7.4zM218.0 594.3h35.4v7.4h-35.4zM428.2 594.3h7.4v7.4h-7.4zM624.4 594.3h7.4v7.4h-7.4zM904.7 594.3h21.4v7.4h-21.4zM960.7 594.3h28.4v7.4h-28.4zM1058.8 594.3h21.4v7.4h-21.4zM1185.0 594.3h14.4v7.4h-14.4zM1213.0 594.3h7.4v7.4h-7.4zM218.0 601.3h28.4v7.4h-28.4zM428.2 601.3h14.4v7.4h-14.4zM722.5 601.3h7.4v7.4h-7.4zM988.8 601.3h7.4v7.4h-7.4zM1051.8 601.3h7.4v7.4h-7.4zM1072.9 601.3h7.4v7.4h-7.4zM1178.0 601.3h14.4v7.4h-14.4zM1213.0 601.3h26.4v7.4h-26.4zM225.0 608.3h7.4v7.4h-7.4zM428.2 608.3h21.4v7.4h-21.4zM1044.8 608.3h7.4v7.4h-7.4zM1079.9 608.3h7.4v7.4h-7.4zM1156.9 608.3h14.4v7.4h-14.4zM197.0 615.3h7.4v7.4h-7.4zM218.0 615.3h7.4v7.4h-7.4zM428.2 615.3h14.4v7.4h-14.4zM526.3 615.3h7.4v7.4h-7.4zM694.5 615.3h42.4v7.4h-42.4zM981.8 615.3h7.4v7.4h-7.4zM1037.8 615.3h14.4v7.4h-14.4zM1093.9 615.3h7.4v7.4h-7.4zM1142.9 615.3h7.4v7.4h-7.4zM197.0 622.3h28.4v7.4h-28.4zM372.2 622.3h7.4v7.4h-7.4zM435.2 622.3h7.4v7.4h-7.4zM687.5 622.3h42.4v7.4h-42.4zM981.8 622.3h14.4v7.4h-14.4zM1016.8 622.3h28.4v7.4h-28.4zM1114.9 622.3h21.4v7.4h-21.4zM204.0 629.3h7.4v7.4h-7.4zM372.2 629.3h14.4v7.4h-14.4zM435.2 629.3h7.4v7.4h-7.4zM624.4 629.3h7.4v7.4h-7.4zM694.5 629.3h28.4v7.4h-28.4zM981.8 629.3h35.4v7.4h-35.4zM204.0 636.3h7.4v7.4h-7.4zM372.2 636.3h21.4v7.4h-21.4zM435.2 636.3h7.4v7.4h-7.4zM526.3 636.3h7.4v7.4h-7.4zM624.4 636.3h7.4v7.4h-7.4zM988.8 636.3h21.4v7.4h-21.4zM204.0 643.3h7.4v7.4h-7.4zM379.2 643.3h21.4v7.4h-21.4zM435.2 643.3h7.4v7.4h-7.4zM519.3 643.3h7.4v7.4h-7.4zM624.4 643.3h7.4v7.4h-7.4zM164.0 650.3h19.4v7.4h-19.4zM204.0 650.3h7.4v7.4h-7.4zM386.2 650.3h14.4v7.4h-14.4zM435.2 650.3h7.4v7.4h-7.4zM512.3 650.3h7.4v7.4h-7.4zM204.0 657.3h7.4v7.4h-7.4zM435.2 657.3h7.4v7.4h-7.4zM197.0 664.2h14.4v7.4h-14.4zM435.2 664.2h7.4v7.4h-7.4zM498.3 664.2h7.4v7.4h-7.4zM631.4 664.2h7.4v7.4h-7.4zM204.0 671.2h14.4v7.4h-14.4zM435.2 671.2h7.4v7.4h-7.4zM631.4 671.2h14.4v7.4h-14.4zM204.0 678.2h35.4v7.4h-35.4zM428.2 678.2h14.4v7.4h-14.4zM645.4 678.2h7.4v7.4h-7.4zM239.1 685.2h7.4v7.4h-7.4zM435.2 685.2h7.4v7.4h-7.4zM498.3 685.2h7.4v7.4h-7.4zM246.1 692.2h7.4v7.4h-7.4zM302.1 692.2h7.4v7.4h-7.4zM435.2 692.2h14.4v7.4h-14.4zM582.4 692.2h21.4v7.4h-21.4zM246.1 699.2h7.4v7.4h-7.4zM309.1 699.2h14.4v7.4h-14.4zM575.4 699.2h28.4v7.4h-28.4zM666.5 699.2h7.4v7.4h-7.4zM211.0 706.2h14.4v7.4h-14.4zM246.1 706.2h7.4v7.4h-7.4zM316.1 706.2h7.4v7.4h-7.4zM449.3 706.2h7.4v7.4h-7.4zM666.5 706.2h7.4v7.4h-7.4zM211.0 713.2h35.4v7.4h-35.4zM449.3 713.2h7.4v7.4h-7.4zM659.5 713.2h7.4v7.4h-7.4zM211.0 720.2h35.4v7.4h-35.4zM638.4 720.2h14.4v7.4h-14.4zM211.0 727.2h28.4v7.4h-28.4zM498.3 727.2h7.4v7.4h-7.4zM638.4 727.2h14.4v7.4h-14.4zM218.0 734.1h21.4v7.4h-21.4zM638.4 734.1h28.4v7.4h-28.4zM190.0 741.1h42.4v7.4h-42.4zM610.4 741.1h63.5v7.4h-63.5zM204.0 748.1h21.4v7.4h-21.4zM533.3 748.1h7.4v7.4h-7.4zM610.4 748.1h42.4v7.4h-42.4zM666.5 748.1h7.4v7.4h-7.4zM603.4 755.1h14.4v7.4h-14.4zM638.4 755.1h14.4v7.4h-14.4zM666.5 755.1h7.4v7.4h-7.4zM603.4 762.1h7.4v7.4h-7.4zM645.4 762.1h28.4v7.4h-28.4zM596.4 769.1h14.4v7.4h-14.4zM589.4 776.1h14.4v7.4h-14.4zM589.4 783.1h7.4v7.4h-7.4zM589.4 790.1h7.4v7.4h-7.4zM197.0 797.1h7.4v7.4h-7.4zM547.4 797.1h42.4v7.4h-42.4zM197.0 804.0h7.4v7.4h-7.4zM540.3 804.0h14.4v7.4h-14.4zM540.3 811.0h14.4v7.4h-14.4zM540.3 818.0h14.4v7.4h-14.4zM204.0 825.0h21.4v7.4h-21.4zM547.4 825.0h7.4v7.4h-7.4zM204.0 832.0h7.4v19.4h-7.4zM218.0 832.0h7.4v19.4h-7.4zM456.3 832.0h21.4v19.4h-21.4zM547.4 832.0h7.4v19.4h-7.4zM617.4 832.0h14.4v19.4h-14.4z"/><path fill="#ff0000" d="M246.1 161.0h14.4v7.4h-14.4zM246.1 167.9h7.4v7.4h-7.4zM260.1 167.9h7.4v7.4h-7.4zM246.1 174.9h21.4v7.4h-21.4zM164.0 216.9h26.4v7.4h-26.4zM183.0 223.9h28.4v7.4h-28.4zM190.0 230.9h21.4v7.4h-21.4zM197.0 237.8h14.4v7.4h-14.4zM197.0 244.8h14.4v7.4h-14.4zM204.0 251.8h7.4v7.4h-7.4zM239.1 251.8h21.4v7.4h-21.4zM218.0 258.8h28.4v7.4h-28.4zM253.1 258.8h14.4v7.4h-14.4zM260.1 265.8h28.4v7.4h-28.4zM260.1 272.8h42.4v7.4h-42.4zM253.1 279.8h28.4v7.4h-28.4zM288.1 279.8h14.4v7.4h-14.4zM253.1 286.8h42.4v7.4h-42.4zM164.0 293.8h19.4v7.4h-19.4zM246.1 293.8h35.4v7.4h-35.4zM164.0 300.8h26.4v7.4h-26.4zM246.1 300.8h7.4v7.4h-7.4zM190.0 307.7h7.4v7.4h-7.4zM204.0 314.7h7.4v7.4h-7.4zM239.1 314.7h7.4v7.4h-7.4zM218.0 321.7h21.4v7.4h-21.4zM281.1 321.7h7.4v7.4h-7.4zM337.2 321.7h14.4v7.4h-14.4zM260.1 328.7h14.4v7.4h-14.4zM358.2 328.7h7.4v7.4h-7.4zM246.1 335.7h21.4v7.4h-21.4zM358.2 335.7h7.4v7.4h-7.4zM164.0 342.7h19.4v7.4h-19.4zM232.1 342.7h28.4v7.4h-28.4zM351.2 342.7h7.4v7.4h-7.4zM164.0 349.7h19.4v7.4h-19.4zM232.1 349.7h28.4v7.4h-28.4zM344.2 349.7h7.4v7.4h-7.4zM239.1 356.7h21.4v7.4h-21.4zM337.2 356.7h7.4v7.4h-7.4zM239.1 363.7h14.4v7.4h-14.4zM337.2 363.7h49.4v7.4h-49.4zM232.1 370.7h14.4v7.4h-14.4zM393.2 370.7h21.4v7.4h-21.4zM225.0 377.6h7.4v7.4h-7.4zM414.2 377.6h7.4v7.4h-7.4zM218.0 384.6h7.4v7.4h-7.4zM218.0 391.6h7.4v7.4h-7.4zM421.2 391.6h7.4v7.4h-7.4zM218.0 398.6h14.4v7.4h-14.4zM428.2 398.6h7.4v7.4h-7.4zM260.1 405.6h7.4v7.4h-7.4zM435.2 405.6h7.4v7.4h-7.4zM281.1 412.6h14.4v7.4h-14.4zM442.3 412.6h7.4v7.4h-7.4zM498.3 412.6h7.4v7.4h-7.4zM302.1 419.6h7.4v7.4h-7.4zM463.3 419.6h21.4v7.4h-21.4zM498.3 419.6h14.4v7.4h-14.4zM512.3 426.6h7.4v7.4h-7.4zM164.0 433.6h19.4v7.4h-19.4zM211.0 433.6h14.4v7.4h-14.4zM519.3 433.6h14.4v7.4h-14.4zM211.0 440.6h21.4v7.4h-21.4zM533.3 440.6h7.4v7.4h-7.4zM211.0 447.5h14.4v7.4h-14.4zM232.1 447.5h7.4v7.4h-7.4zM533.3 447.5h21.4v7.4h-21.4zM211.0 454.5h14.4v7.4h-14.4zM239.1 454.5h7.4v7.4h-7.4zM568.4 454.5h14.4v7.4h-14.4zM211.0 461.5h14.4v7.4h-14.4zM239.1 461.5h7.4v7.4h-7.4zM596.4 461.5h49.4v7.4h-49.4zM211.0 468.5h14.4v7.4h-14.4zM232.1 468.5h14.4v7.4h-14.4zM449.3 468.5h14.4v7.4h-14.4zM652.5 468.5h14.4v7.4h-14.4zM183.0 475.5h14.4v7.4h-14.4zM211.0 475.5h28.4v7.4h-28.4zM449.3 475.5h14.4v7.4h-14.4zM666.5 475.5h28.4v7.4h-28.4zM164.0 482.5h68.5v7.4h-68.5zM449.3 482.5h14.4v7.4h-14.4zM694.5 482.5h7.4v7.4h-7.4zM190.0 489.5h42.4v7.4h-42.4zM694.5 489.5h14.4v7.4h-14.4zM1220.0 489.5h19.4v7.4h-19.4zM164.0 496.5h61.4v7.4h-61.4zM1135.9 496.5h14.4v7.4h-14.4zM1170.9 496.5h28.4v7.4h-28.4zM1206.0 496.5h33.4v7.4h-33.4zM164.0 503.5h61.4v7.4h-61.4zM351.2 503.5h7.4v7.4h-7.4zM617.4 503.5h14.4v7.4h-14.4zM694.5 503.5h7.4v7.4h-7.4zM729.5 503.5h7.4v7.4h-7.4zM834.6 503.5h7.4v7.4h-7.4zM848.6 503.5h14.4v7.4h-14.4zM1093.9 503.5h35.4v7.4h-35.4zM1156.9 503.5h49.4v7.4h-49.4zM1220.0 503.5h19.4v7.4h-19.4zM190.0 510.5h14.4v7.4h-14.4zM218.0 510.5h14.4v7.4h-14.4zM351.2 510.5h7.4v7.4h-7.4zM610.4 510.5h28.4v7.4h-28.4zM680.5 510.5h7.4v7.4h-7.4zM722.5 510.5h14.4v7.4h-14.4zM750.5 510.5h7.4v7.4h-7.4zM827.6 510.5h7.4v7.4h-7.4zM862.7 510.5h7.4v7.4h-7.4zM1079.9 510.5h14.4v7.4h-14.4zM1170.9 510.5h28.4v7.4h-28.4zM190.0 517.5h14.4v7.4h-14.4zM225.0 517.5h7.4v7.4h-7.4zM673.5 517.5h7.4v7.4h-7.4zM729.5 517.5h7.4v7.4h-7.4zM827.6 517.5h7.4v7.4h-7.4zM862.7 517.5h7.4v7.4h-7.4zM932.7 517.5h14.4v7.4h-14.4zM1002.8 517.5h7.4v7.4h-7.4zM1030.8 517.5h7.4v7.4h-7.4zM1072.9 517.5h14.4v7.4h-14.4zM1178.0 517.5h14.4v7.4h-14.4zM164.0 524.4h40.4v7.4h-40.4zM225.0 524.4h7.4v7.4h-7.4zM337.2 524.4h7.4v7.4h-7.4zM729.5 524.4h7.4v7.4h-7.4zM827.6 524.4h14.4v7.4h-14.4zM862.7 524.4h14.4v7.4h-14.4zM925.7 524.4h7.4v7.4h-7.4zM946.7 524.4h14.4v7.4h-14.4zM1002.8 524.4h7.4v7.4h-7.4zM1044.8 524.4h21.4v7.4h-21.4zM1178.0 524.4h14.4v7.4h-14.4zM164.0 531.4h19.4v7.4h-19.4zM190.0 531.4h14.4v7.4h-14.4zM225.0 531.4h7.4v7.4h-7.4zM330.1 531.4h7.4v7.4h-7.4zM456.3 531.4h7.4v7.4h-7.4zM729.5 531.4h7.4v7.4h-7.4zM771.6 531.4h7.4v7.4h-7.4zM813.6 531.4h35.4v7.4h-35.4zM862.7 531.4h14.4v7.4h-14.4zM890.7 531.4h28.4v7.4h-28.4zM974.8 531.4h28.4v7.4h-28.4zM1185.0 531.4h14.4v7.4h-14.4zM197.0 538.4h7.4v7.4h-7.4zM225.0 538.4h7.4v7.4h-7.4zM442.3 538.4h7.4v7.4h-7.4zM470.3 538.4h7.4v7.4h-7.4zM771.6 538.4h7.4v7.4h-7.4zM792.6 538.4h14.4v7.4h-14.4zM827.6 538.4h77.5v7.4h-77.5zM1192.0 538.4h7.4v7.4h-7.4zM197.0 545.4h7.4v7.4h-7.4zM225.0 545.4h7.4v7.4h-7.4zM435.2 545.4h7.4v7.4h-7.4zM477.3 545.4h21.4v7.4h-21.4zM778.6 545.4h14.4v7.4h-14.4zM855.6 545.4h42.4v7.4h-42.4zM1192.0 545.4h7.4v7.4h-7.4zM211.0 552.4h14.4v7.4h-14.4zM330.1 552.4h7.4v7.4h-7.4zM421.2 552.4h7.4v7.4h-7.4zM512.3 552.4h7.4v7.4h-7.4zM855.6 552.4h42.4v7.4h-42.4zM1192.0 552.4h7.4v7.4h-7.4zM211.0 559.4h14.4v7.4h-14.4zM295.1 559.4h14.4v7.4h-14.4zM421.2 559.4h7.4v7.4h-7.4zM638.4 559.4h7.4v7.4h-7.4zM729.5 559.4h7.4v7.4h-7.4zM862.7 559.4h28.4v7.4h-28.4zM1100.9 559.4h21.4v7.4h-21.4zM1192.0 559.4h7.4v7.4h-7.4zM211.0 566.4h14.4v7.4h-14.4zM288.1 566.4h7.4v7.4h-7.4zM421.2 566.4h7.4v7.4h-7.4zM862.7 566.4h35.4v7.4h-35.4zM1065.8 566.4h7.4v7.4h-7.4zM1100.9 566.4h21.4v7.4h-21.4zM1185.0 566.4h7.4v7.4h-7.4zM218.0 573.4h7.4v7.4h-7.4zM288.1 573.4h7.4v7.4h-7.4zM421.2 573.4h7.4v7.4h-7.4zM533.3 573.4h7.4v7.4h-7.4zM722.5 573.4h7.4v7.4h-7.4zM855.6 573.4h7.4v7.4h-7.4zM890.7 573.4h7.4v7.4h-7.4zM1065.8 573.4h14.4v7.4h-14.4zM1100.9 573.4h21.4v7.4h-21.4zM1185.0 573.4h7.4v7.4h-7.4zM260.1 580.4h35.4v7.4h-35.4zM421.2 580.4h7.4v7.4h-7.4zM533.3 580.4h7.4v7.4h-7.4zM834.6 580.4h14.4v7.4h-14.4zM897.7 580.4h7.4v7.4h-7.4zM1065.8 580.4h21.4v7.4h-21.4zM1100.9 580.4h14.4v7.4h-14.4zM1185.0 580.4h7.4v7.4h-7.4zM253.1 587.4h14.4v7.4h-14.4zM281.1 587.4h7.4v7.4h-7.4zM414.2 587.4h14.4v7.4h-14.4zM624.4 587.4h7.4v7.4h-7.4zM722.5 587.4h7.4v7.4h-7.4zM799.6 587.4h14.4v7.4h-14.4zM904.7 587.4h91.5v7.4h-91.5zM1058.8 587.4h14.4v7.4h-14.4zM1079.9 587.4h14.4v7.4h-14.4zM1185.0 587.4h7.4v7.4h-7.4zM1220.0 587.4h19.4v7.4h-19.4zM253.1 594.3h7.4v7.4h-7.4zM288.1 594.3h7.4v7.4h-7.4zM421.2 594.3h7.4v7.4h-7.4zM526.3 594.3h7.4v7.4h-7.4zM722.5 594.3h7.4v7.4h-7.4zM792.6 594.3h7.4v7.4h-7.4zM988.8 594.3h7.4v7.4h-7.4zM1051.8 594.3h7.4v7.4h-7.4zM1079.9 594.3h14.4v7.4h-14.4zM1178.0 594.3h7.4v7.4h-7.4zM1220.0 594.3h19.4v7.4h-19.4zM246.1 601.3h14.4v7.4h-14.4zM288.1 601.3h14.4v7.4h-14.4zM344.2 601.3h21.4v7.4h-21.4zM421.2 601.3h7.4v7.4h-7.4zM785.6 601.3h7.4v7.4h-7.4zM995.8 601.3h7.4v7.4h-7.4zM1044.8 601.3h7.4v7.4h-7.4zM1079.9 601.3h14.4v7.4h-14.4zM1163.9 601.3h14.4v7.4h-14.4zM232.1 608.3h21.4v7.4h-21.4zM288.1 608.3h14.4v7.4h-14.4zM337.2 608.3h35.4v7.4h-35.4zM421.2 608.3h7.4v7.4h-7.4zM526.3 608.3h7.4v7.4h-7.4zM729.5 608.3h7.4v7.4h-7.4zM988.8 608.3h14.4v7.4h-14.4zM1037.8 608.3h7.4v7.4h-7.4zM1086.9 608.3h14.4v7.4h-14.4zM1149.9 608.3h7.4v7.4h-7.4zM225.0 615.3h14.4v7.4h-14.4zM330.1 615.3h56.5v7.4h-56.5zM421.2 615.3h7.4v7.4h-7.4zM736.5 615.3h7.4v7.4h-7.4zM771.6 615.3h7.4v7.4h-7.4zM988.8 615.3h14.4v7.4h-14.4zM1016.8 615.3h21.4v7.4h-21.4zM1100.9 615.3h42.4v7.4h-42.4zM225.0 622.3h7.4v7.4h-7.4zM323.1 622.3h49.4v7.4h-49.4zM379.2 622.3h7.4v7.4h-7.4zM421.2 622.3h14.4v7.4h-14.4zM995.8 622.3h21.4v7.4h-21.4zM211.0 629.3h14.4v7.4h-14.4zM316.1 629.3h56.5v7.4h-56.5zM386.2 629.3h7.4v7.4h-7.4zM421.2 629.3h14.4v7.4h-14.4zM533.3 629.3h7.4v7.4h-7.4zM211.0 636.3h7.4v7.4h-7.4zM316.1 636.3h56.5v7.4h-56.5zM393.2 636.3h7.4v7.4h-7.4zM428.2 636.3h7.4v7.4h-7.4zM211.0 643.3h7.4v7.4h-7.4zM316.1 643.3h63.5v7.4h-63.5zM400.2 643.3h7.4v7.4h-7.4zM428.2 643.3h7.4v7.4h-7.4zM526.3 643.3h7.4v7.4h-7.4zM211.0 650.3h7.4v7.4h-7.4zM323.1 650.3h28.4v7.4h-28.4zM372.2 650.3h14.4v7.4h-14.4zM400.2 650.3h7.4v7.4h-7.4zM428.2 650.3h7.4v7.4h-7.4zM624.4 650.3h7.4v7.4h-7.4zM211.0 657.3h7.4v7.4h-7.4zM379.2 657.3h21.4v7.4h-21.4zM428.2 657.3h7.4v7.4h-7.4zM505.3 657.3h7.4v7.4h-7.4zM624.4 657.3h7.4v7.4h-7.4zM211.0 664.2h14.4v7.4h-14.4zM281.1 664.2h14.4v7.4h-14.4zM428.2 664.2h7.4v7.4h-7.4zM218.0 671.2h14.4v7.4h-14.4zM281.1 671.2h14.4v7.4h-14.4zM428.2 671.2h7.4v7.4h-7.4zM498.3 671.2h7.4v7.4h-7.4zM239.1 678.2h7.4v7.4h-7.4zM288.1 678.2h21.4v7.4h-21.4zM421.2 678.2h7.4v7.4h-7.4zM498.3 678.2h7.4v7.4h-7.4zM624.4 678.2h21.4v7.4h-21.4zM246.1 685.2h7.4v7.4h-7.4zM288.1 685.2h28.4v7.4h-28.4zM421.2 685.2h14.4v7.4h-14.4zM575.4 685.2h35.4v7.4h-35.4zM624.4 685.2h35.4v7.4h-35.4zM253.1 692.2h7.4v7.4h-7.4zM295.1 692.2h7.4v7.4h-7.4zM309.1 692.2h14.4v7.4h-14.4zM414.2 692.2h21.4v7.4h-21.4zM575.4 692.2h7.4v7.4h-7.4zM603.4 692.2h14.4v7.4h-14.4zM624.4 692.2h14.4v7.4h-14.4zM659.5 692.2h7.4v7.4h-7.4zM253.1 699.2h7.4v7.4h-7.4zM295.1 699.2h14.4v7.4h-14.4zM323.1 699.2h14.4v7.4h-14.4zM407.2 699.2h42.4v7.4h-42.4zM505.3 699.2h7.4v7.4h-7.4zM568.4 699.2h7.4v7.4h-7.4zM603.4 699.2h14.4v7.4h-14.4zM624.4 699.2h14.4v7.4h-14.4zM253.1 706.2h7.4v7.4h-7.4zM302.1 706.2h14.4v7.4h-14.4zM323.1 706.2h14.4v7.4h-14.4zM400.2 706.2h14.4v7.4h-14.4zM435.2 706.2h7.4v7.4h-7.4zM505.3 706.2h7.4v7.4h-7.4zM568.4 706.2h49.4v7.4h-49.4zM624.4 706.2h21.4v7.4h-21.4zM246.1 713.2h14.4v7.4h-14.4zM309.1 713.2h21.4v7.4h-21.4zM393.2 713.2h21.4v7.4h-21.4zM505.3 713.2h7.4v7.4h-7.4zM624.4 713.2h35.4v7.4h-35.4zM246.1 720.2h7.4v7.4h-7.4zM309.1 720.2h21.4v7.4h-21.4zM449.3 720.2h7.4v7.4h-7.4zM505.3 720.2h7.4v7.4h-7.4zM631.4 720.2h7.4v7.4h-7.4zM239.1 727.2h14.4v7.4h-14.4zM281.1 727.2h49.4v7.4h-49.4zM449.3 727.2h7.4v7.4h-7.4zM561.4 727.2h7.4v7.4h-7.4zM631.4 727.2h7.4v7.4h-7.4zM239.1 734.1h21.4v7.4h-21.4zM267.1 734.1h63.5v7.4h-63.5zM463.3 734.1h14.4v7.4h-14.4zM533.3 734.1h7.4v7.4h-7.4zM610.4 734.1h28.4v7.4h-28.4zM232.1 741.1h98.5v7.4h-98.5zM463.3 741.1h14.4v7.4h-14.4zM526.3 741.1h21.4v7.4h-21.4zM603.4 741.1h7.4v7.4h-7.4zM164.0 748.1h40.4v7.4h-40.4zM225.0 748.1h14.4v7.4h-14.4zM253.1 748.1h35.4v7.4h-35.4zM372.2 748.1h28.4v7.4h-28.4zM463.3 748.1h14.4v7.4h-14.4zM519.3 748.1h14.4v7.4h-14.4zM540.3 748.1h7.4v7.4h-7.4zM603.4 748.1h7.4v7.4h-7.4zM652.5 748.1h14.4v7.4h-14.4zM197.0 755.1h35.4v7.4h-35.4zM260.1 755.1h14.4v7.4h-14.4zM372.2 755.1h35.4v7.4h-35.4zM519.3 755.1h28.4v7.4h-28.4zM596.4 755.1h7.4v7.4h-7.4zM652.5 755.1h14.4v7.4h-14.4zM386.2 762.1h14.4v7.4h-14.4zM519.3 762.1h21.4v7.4h-21.4zM596.4 762.1h7.4v7.4h-7.4zM589.4 769.1h7.4v7.4h-7.4zM519.3 776.1h7.4v7.4h-7.4zM512.3 783.1h28.4v7.4h-28.4zM582.4 783.1h7.4v7.4h-7.4zM197.0 790.1h14.4v7.4h-14.4zM505.3 790.1h84.5v7.4h-84.5zM190.0 797.1h7.4v7.4h-7.4zM204.0 797.1h14.4v7.4h-14.4zM505.3 797.1h42.4v7.4h-42.4zM183.0 804.0h14.4v7.4h-14.4zM204.0 804.0h14.4v7.4h-14.4zM295.1 804.0h21.4v7.4h-21.4zM512.3 804.0h28.4v7.4h-28.4zM164.0 811.0h54.4v7.4h-54.4zM302.1 811.0h14.4v7.4h-14.4zM533.3 811.0h7.4v7.4h-7.4zM197.0 818.0h28.4v7.4h-28.4zM463.3 818.0h14.4v7.4h-14.4zM533.3 818.0h7.4v7.4h-7.4zM197.0 825.0h7.4v7.4h-7.4zM225.0 825.0h7.4v7.4h-7.4zM421.2 825.0h7.4v7.4h-7.4zM449.3 825.0h42.4v7.4h-42.4zM540.3 825.0h7.4v7.4h-7.4zM197.0 832.0h7.4v19.4h-7.4zM225.0 832.0h7.4v19.4h-7.4zM393.2 832.0h7.4v19.4h-7.4zM414.2 832.0h21.4v19.4h-21.4zM449.3 832.0h7.4v19.4h-7.4zM477.3 832.0h14.4v19.4h-14.4zM540.3 832.0h7.4v19.4h-7.4z"/><path fill="#f30000" d="M253.1 167.9h7.4v7.4h-7.4zM164.0 223.9h19.4v7.4h-19.4zM164.0 230.9h26.4v7.4h-26.4zM164.0 237.8h33.4v7.4h-33.4zM164.0 244.8h33.4v7.4h-33.4zM164.0 251.8h40.4v7.4h-40.4zM164.0 258.8h54.4v7.4h-54.4zM246.1 258.8h7.4v7.4h-7.4zM164.0 265.8h19.4v7.4h-19.4zM225.0 265.8h35.4v7.4h-35.4zM164.0 272.8h26.4v7.4h-26.4zM239.1 272.8h21.4v7.4h-21.4zM164.0 279.8h33.4v7.4h-33.4zM246.1 279.8h7.4v7.4h-7.4zM281.1 279.8h7.4v7.4h-7.4zM164.0 286.8h33.4v7.4h-33.4zM246.1 286.8h7.4v7.4h-7.4zM183.0 293.8h14.4v7.4h-14.4zM190.0 300.8h7.4v7.4h-7.4zM239.1 300.8h7.4v7.4h-7.4zM197.0 307.7h7.4v7.4h-7.4zM239.1 307.7h7.4v7.4h-7.4zM211.0 314.7h7.4v7.4h-7.4zM232.1 314.7h7.4v7.4h-7.4zM288.1 321.7h14.4v7.4h-14.4zM316.1 321.7h21.4v7.4h-21.4zM274.1 328.7h14.4v7.4h-14.4zM351.2 328.7h7.4v7.4h-7.4zM267.1 335.7h21.4v7.4h-21.4zM344.2 335.7h14.4v7.4h-14.4zM260.1 342.7h21.4v7.4h-21.4zM337.2 342.7h14.4v7.4h-14.4zM260.1 349.7h14.4v7.4h-14.4zM330.1 349.7h14.4v7.4h-14.4zM260.1 356.7h14.4v7.4h-14.4zM330.1 356.7h7.4v7.4h-7.4zM253.1 363.7h7.4v7.4h-7.4zM323.1 363.7h14.4v7.4h-14.4zM246.1 370.7h7.4v7.4h-7.4zM330.1 370.7h63.5v7.4h-63.5zM232.1 377.6h7.4v7.4h-7.4zM400.2 377.6h14.4v7.4h-14.4zM225.0 384.6h7.4v7.4h-7.4zM414.2 384.6h7.4v7.4h-7.4zM225.0 391.6h7.4v7.4h-7.4zM232.1 398.6h28.4v7.4h-28.4zM421.2 398.6h7.4v7.4h-7.4zM267.1 405.6h14.4v7.4h-14.4zM428.2 405.6h7.4v7.4h-7.4zM435.2 412.6h7.4v7.4h-7.4zM309.1 419.6h7.4v7.4h-7.4zM442.3 419.6h7.4v7.4h-7.4zM484.3 419.6h14.4v7.4h-14.4zM330.1 426.6h7.4v7.4h-7.4zM449.3 426.6h21.4v7.4h-21.4zM498.3 426.6h14.4v7.4h-14.4zM337.2 433.6h7.4v7.4h-7.4zM512.3 433.6h7.4v7.4h-7.4zM344.2 440.6h7.4v7.4h-7.4zM519.3 440.6h14.4v7.4h-14.4zM225.0 447.5h7.4v7.4h-7.4zM526.3 447.5h7.4v7.4h-7.4zM225.0 454.5h14.4v7.4h-14.4zM351.2 454.5h7.4v7.4h-7.4zM533.3 454.5h35.4v7.4h-35.4zM225.0 461.5h14.4v7.4h-14.4zM351.2 461.5h7.4v7.4h-7.4zM582.4 461.5h14.4v7.4h-14.4zM225.0 468.5h7.4v7.4h-7.4zM351.2 468.5h7.4v7.4h-7.4zM603.4 468.5h49.4v7.4h-49.4zM351.2 475.5h7.4v7.4h-7.4zM463.3 475.5h7.4v7.4h-7.4zM652.5 475.5h14.4v7.4h-14.4zM351.2 482.5h7.4v7.4h-7.4zM463.3 482.5h7.4v7.4h-7.4zM680.5 482.5h14.4v7.4h-14.4zM164.0 489.5h26.4v7.4h-26.4zM351.2 489.5h7.4v7.4h-7.4zM449.3 489.5h21.4v7.4h-21.4zM351.2 496.5h7.4v7.4h-7.4zM617.4 496.5h7.4v7.4h-7.4zM694.5 496.5h7.4v7.4h-7.4zM610.4 503.5h7.4v7.4h-7.4zM631.4 503.5h14.4v7.4h-14.4zM687.5 503.5h7.4v7.4h-7.4zM841.6 503.5h7.4v7.4h-7.4zM1128.9 503.5h28.4v7.4h-28.4zM204.0 510.5h14.4v7.4h-14.4zM603.4 510.5h7.4v7.4h-7.4zM673.5 510.5h7.4v7.4h-7.4zM736.5 510.5h14.4v7.4h-14.4zM834.6 510.5h7.4v7.4h-7.4zM848.6 510.5h14.4v7.4h-14.4zM1093.9 510.5h35.4v7.4h-35.4zM1156.9 510.5h14.4v7.4h-14.4zM204.0 517.5h21.4v7.4h-21.4zM351.2 517.5h7.4v7.4h-7.4zM603.4 517.5h28.4v7.4h-28.4zM736.5 517.5h28.4v7.4h-28.4zM834.6 517.5h7.4v7.4h-7.4zM855.6 517.5h7.4v7.4h-7.4zM1009.8 517.5h21.4v7.4h-21.4zM1086.9 517.5h14.4v7.4h-14.4zM1170.9 517.5h7.4v7.4h-7.4zM204.0 524.4h21.4v7.4h-21.4zM344.2 524.4h7.4v7.4h-7.4zM666.5 524.4h7.4v7.4h-7.4zM736.5 524.4h7.4v7.4h-7.4zM764.6 524.4h7.4v7.4h-7.4zM841.6 524.4h21.4v7.4h-21.4zM932.7 524.4h14.4v7.4h-14.4zM1037.8 524.4h7.4v7.4h-7.4zM1065.8 524.4h35.4v7.4h-35.4zM1170.9 524.4h7.4v7.4h-7.4zM204.0 531.4h7.4v7.4h-7.4zM218.0 531.4h7.4v7.4h-7.4zM449.3 531.4h7.4v7.4h-7.4zM463.3 531.4h14.4v7.4h-14.4zM736.5 531.4h7.4v7.4h-7.4zM764.6 531.4h7.4v7.4h-7.4zM848.6 531.4h14.4v7.4h-14.4zM918.7 531.4h14.4v7.4h-14.4zM953.7 531.4h21.4v7.4h-21.4zM1002.8 531.4h7.4v7.4h-7.4zM1051.8 531.4h7.4v7.4h-7.4zM1086.9 531.4h14.4v7.4h-14.4zM1178.0 531.4h7.4v7.4h-7.4zM204.0 538.4h7.4v7.4h-7.4zM218.0 538.4h7.4v7.4h-7.4zM330.1 538.4h7.4v7.4h-7.4zM435.2 538.4h7.4v7.4h-7.4zM477.3 538.4h21.4v7.4h-21.4zM736.5 538.4h7.4v7.4h-7.4zM806.6 538.4h21.4v7.4h-21.4zM904.7 538.4h21.4v7.4h-21.4zM981.8 538.4h21.4v7.4h-21.4zM1178.0 538.4h14.4v7.4h-14.4zM204.0 545.4h21.4v7.4h-21.4zM330.1 545.4h7.4v7.4h-7.4zM428.2 545.4h7.4v7.4h-7.4zM498.3 545.4h14.4v7.4h-14.4zM736.5 545.4h7.4v7.4h-7.4zM771.6 545.4h7.4v7.4h-7.4zM792.6 545.4h7.4v7.4h-7.4zM834.6 545.4h21.4v7.4h-21.4zM897.7 545.4h21.4v7.4h-21.4zM1178.0 545.4h14.4v7.4h-14.4zM337.2 552.4h7.4v7.4h-7.4zM785.6 552.4h7.4v7.4h-7.4zM848.6 552.4h7.4v7.4h-7.4zM897.7 552.4h14.4v7.4h-14.4zM1058.8 552.4h21.4v7.4h-21.4zM1086.9 552.4h35.4v7.4h-35.4zM1178.0 552.4h14.4v7.4h-14.4zM309.1 559.4h42.4v7.4h-42.4zM379.2 559.4h28.4v7.4h-28.4zM414.2 559.4h7.4v7.4h-7.4zM526.3 559.4h7.4v7.4h-7.4zM855.6 559.4h7.4v7.4h-7.4zM890.7 559.4h14.4v7.4h-14.4zM1051.8 559.4h49.4v7.4h-49.4zM1121.9 559.4h7.4v7.4h-7.4zM1178.0 559.4h14.4v7.4h-14.4zM295.1 566.4h7.4v7.4h-7.4zM337.2 566.4h14.4v7.4h-14.4zM379.2 566.4h42.4v7.4h-42.4zM533.3 566.4h7.4v7.4h-7.4zM729.5 566.4h7.4v7.4h-7.4zM855.6 566.4h7.4v7.4h-7.4zM897.7 566.4h7.4v7.4h-7.4zM1051.8 566.4h14.4v7.4h-14.4zM1072.9 566.4h28.4v7.4h-28.4zM1121.9 566.4h7.4v7.4h-7.4zM1170.9 566.4h14.4v7.4h-14.4zM295.1 573.4h7.4v7.4h-7.4zM386.2 573.4h35.4v7.4h-35.4zM631.4 573.4h7.4v7.4h-7.4zM848.6 573.4h7.4v7.4h-7.4zM897.7 573.4h14.4v7.4h-14.4zM1058.8 573.4h7.4v7.4h-7.4zM1079.9 573.4h21.4v7.4h-21.4zM1121.9 573.4h7.4v7.4h-7.4zM1163.9 573.4h21.4v7.4h-21.4zM295.1 580.4h7.4v7.4h-7.4zM386.2 580.4h35.4v7.4h-35.4zM722.5 580.4h7.4v7.4h-7.4zM799.6 580.4h7.4v7.4h-7.4zM820.6 580.4h14.4v7.4h-14.4zM904.7 580.4h21.4v7.4h-21.4zM974.8 580.4h21.4v7.4h-21.4zM1058.8 580.4h7.4v7.4h-7.4zM1086.9 580.4h14.4v7.4h-14.4zM1114.9 580.4h7.4v7.4h-7.4zM1163.9 580.4h21.4v7.4h-21.4zM267.1 587.4h14.4v7.4h-14.4zM288.1 587.4h14.4v7.4h-14.4zM344.2 587.4h14.4v7.4h-14.4zM400.2 587.4h14.4v7.4h-14.4zM533.3 587.4h7.4v7.4h-7.4zM792.6 587.4h7.4v7.4h-7.4zM995.8 587.4h14.4v7.4h-14.4zM1051.8 587.4h7.4v7.4h-7.4zM1093.9 587.4h28.4v7.4h-28.4zM1170.9 587.4h14.4v7.4h-14.4zM260.1 594.3h28.4v7.4h-28.4zM295.1 594.3h7.4v7.4h-7.4zM337.2 594.3h28.4v7.4h-28.4zM407.2 594.3h14.4v7.4h-14.4zM995.8 594.3h14.4v7.4h-14.4zM1044.8 594.3h7.4v7.4h-7.4zM1093.9 594.3h21.4v7.4h-21.4zM1163.9 594.3h14.4v7.4h-14.4zM260.1 601.3h28.4v7.4h-28.4zM302.1 601.3h7.4v7.4h-7.4zM337.2 601.3h7.4v7.4h-7.4zM365.2 601.3h7.4v7.4h-7.4zM414.2 601.3h7.4v7.4h-7.4zM526.3 601.3h7.4v7.4h-7.4zM729.5 601.3h7.4v7.4h-7.4zM1002.8 601.3h14.4v7.4h-14.4zM1037.8 601.3h7.4v7.4h-7.4zM1093.9 601.3h21.4v7.4h-21.4zM1149.9 601.3h14.4v7.4h-14.4zM253.1 608.3h35.4v7.4h-35.4zM302.1 608.3h7.4v7.4h-7.4zM330.1 608.3h7.4v7.4h-7.4zM372.2 608.3h14.4v7.4h-14.4zM414.2 608.3h7.4v7.4h-7.4zM736.5 608.3h7.4v7.4h-7.4zM778.6 608.3h7.4v7.4h-7.4zM1002.8 608.3h35.4v7.4h-35.4zM1100.9 608.3h49.4v7.4h-49.4zM239.1 615.3h21.4v7.4h-21.4zM274.1 615.3h56.5v7.4h-56.5zM386.2 615.3h7.4v7.4h-7.4zM414.2 615.3h7.4v7.4h-7.4zM743.5 615.3h14.4v7.4h-14.4zM1002.8 615.3h14.4v7.4h-14.4zM232.1 622.3h7.4v7.4h-7.4zM288.1 622.3h35.4v7.4h-35.4zM386.2 622.3h14.4v7.4h-14.4zM414.2 622.3h7.4v7.4h-7.4zM533.3 622.3h7.4v7.4h-7.4zM225.0 629.3h7.4v7.4h-7.4zM302.1 629.3h14.4v7.4h-14.4zM393.2 629.3h28.4v7.4h-28.4zM218.0 636.3h14.4v7.4h-14.4zM302.1 636.3h14.4v7.4h-14.4zM400.2 636.3h28.4v7.4h-28.4zM533.3 636.3h7.4v7.4h-7.4zM218.0 643.3h7.4v7.4h-7.4zM302.1 643.3h14.4v7.4h-14.4zM407.2 643.3h21.4v7.4h-21.4zM218.0 650.3h14.4v7.4h-14.4zM295.1 650.3h28.4v7.4h-28.4zM351.2 650.3h21.4v7.4h-21.4zM407.2 650.3h21.4v7.4h-21.4zM519.3 650.3h7.4v7.4h-7.4zM218.0 657.3h14.4v7.4h-14.4zM281.1 657.3h98.5v7.4h-98.5zM400.2 657.3h14.4v7.4h-14.4zM421.2 657.3h7.4v7.4h-7.4zM225.0 664.2h14.4v7.4h-14.4zM274.1 664.2h7.4v7.4h-7.4zM295.1 664.2h14.4v7.4h-14.4zM337.2 664.2h28.4v7.4h-28.4zM379.2 664.2h28.4v7.4h-28.4zM421.2 664.2h7.4v7.4h-7.4zM624.4 664.2h7.4v7.4h-7.4zM232.1 671.2h14.4v7.4h-14.4zM267.1 671.2h14.4v7.4h-14.4zM295.1 671.2h14.4v7.4h-14.4zM344.2 671.2h14.4v7.4h-14.4zM421.2 671.2h7.4v7.4h-7.4zM624.4 671.2h7.4v7.4h-7.4zM246.1 678.2h7.4v7.4h-7.4zM267.1 678.2h21.4v7.4h-21.4zM309.1 678.2h7.4v7.4h-7.4zM414.2 678.2h7.4v7.4h-7.4zM575.4 678.2h35.4v7.4h-35.4zM253.1 685.2h35.4v7.4h-35.4zM316.1 685.2h7.4v7.4h-7.4zM407.2 685.2h14.4v7.4h-14.4zM568.4 685.2h7.4v7.4h-7.4zM610.4 685.2h14.4v7.4h-14.4zM260.1 692.2h14.4v7.4h-14.4zM281.1 692.2h14.4v7.4h-14.4zM323.1 692.2h28.4v7.4h-28.4zM407.2 692.2h7.4v7.4h-7.4zM505.3 692.2h7.4v7.4h-7.4zM568.4 692.2h7.4v7.4h-7.4zM617.4 692.2h7.4v7.4h-7.4zM638.4 692.2h21.4v7.4h-21.4zM260.1 699.2h14.4v7.4h-14.4zM288.1 699.2h7.4v7.4h-7.4zM337.2 699.2h21.4v7.4h-21.4zM400.2 699.2h7.4v7.4h-7.4zM561.4 699.2h7.4v7.4h-7.4zM617.4 699.2h7.4v7.4h-7.4zM638.4 699.2h7.4v7.4h-7.4zM659.5 699.2h7.4v7.4h-7.4zM260.1 706.2h14.4v7.4h-14.4zM288.1 706.2h14.4v7.4h-14.4zM337.2 706.2h63.5v7.4h-63.5zM414.2 706.2h21.4v7.4h-21.4zM442.3 706.2h7.4v7.4h-7.4zM561.4 706.2h7.4v7.4h-7.4zM617.4 706.2h7.4v7.4h-7.4zM645.4 706.2h21.4v7.4h-21.4zM260.1 713.2h49.4v7.4h-49.4zM330.1 713.2h14.4v7.4h-14.4zM358.2 713.2h35.4v7.4h-35.4zM414.2 713.2h35.4v7.4h-35.4zM512.3 713.2h7.4v7.4h-7.4zM554.4 713.2h35.4v7.4h-35.4zM603.4 713.2h21.4v7.4h-21.4zM253.1 720.2h56.5v7.4h-56.5zM330.1 720.2h7.4v7.4h-7.4zM365.2 720.2h56.5v7.4h-56.5zM512.3 720.2h7.4v7.4h-7.4zM547.4 720.2h35.4v7.4h-35.4zM617.4 720.2h14.4v7.4h-14.4zM253.1 727.2h28.4v7.4h-28.4zM330.1 727.2h7.4v7.4h-7.4zM372.2 727.2h21.4v7.4h-21.4zM505.3 727.2h7.4v7.4h-7.4zM533.3 727.2h28.4v7.4h-28.4zM568.4 727.2h7.4v7.4h-7.4zM617.4 727.2h14.4v7.4h-14.4zM260.1 734.1h7.4v7.4h-7.4zM330.1 734.1h7.4v7.4h-7.4zM372.2 734.1h14.4v7.4h-14.4zM456.3 734.1h7.4v7.4h-7.4zM477.3 734.1h7.4v7.4h-7.4zM519.3 734.1h14.4v7.4h-14.4zM540.3 734.1h42.4v7.4h-42.4zM603.4 734.1h7.4v7.4h-7.4zM330.1 741.1h7.4v7.4h-7.4zM365.2 741.1h35.4v7.4h-35.4zM456.3 741.1h7.4v7.4h-7.4zM477.3 741.1h7.4v7.4h-7.4zM519.3 741.1h7.4v7.4h-7.4zM547.4 741.1h35.4v7.4h-35.4zM596.4 741.1h7.4v7.4h-7.4zM239.1 748.1h14.4v7.4h-14.4zM288.1 748.1h56.5v7.4h-56.5zM358.2 748.1h14.4v7.4h-14.4zM400.2 748.1h14.4v7.4h-14.4zM456.3 748.1h7.4v7.4h-7.4zM477.3 748.1h7.4v7.4h-7.4zM547.4 748.1h7.4v7.4h-7.4zM589.4 748.1h14.4v7.4h-14.4zM164.0 755.1h33.4v7.4h-33.4zM232.1 755.1h28.4v7.4h-28.4zM274.1 755.1h70.5v7.4h-70.5zM358.2 755.1h14.4v7.4h-14.4zM407.2 755.1h7.4v7.4h-7.4zM456.3 755.1h21.4v7.4h-21.4zM512.3 755.1h7.4v7.4h-7.4zM547.4 755.1h7.4v7.4h-7.4zM589.4 755.1h7.4v7.4h-7.4zM197.0 762.1h42.4v7.4h-42.4zM253.1 762.1h56.5v7.4h-56.5zM365.2 762.1h21.4v7.4h-21.4zM400.2 762.1h14.4v7.4h-14.4zM512.3 762.1h7.4v7.4h-7.4zM540.3 762.1h7.4v7.4h-7.4zM582.4 762.1h14.4v7.4h-14.4zM197.0 769.1h42.4v7.4h-42.4zM260.1 769.1h49.4v7.4h-49.4zM372.2 769.1h35.4v7.4h-35.4zM428.2 769.1h14.4v7.4h-14.4zM512.3 769.1h35.4v7.4h-35.4zM582.4 769.1h7.4v7.4h-7.4zM197.0 776.1h35.4v7.4h-35.4zM260.1 776.1h49.4v7.4h-49.4zM379.2 776.1h21.4v7.4h-21.4zM421.2 776.1h21.4v7.4h-21.4zM512.3 776.1h7.4v7.4h-7.4zM526.3 776.1h21.4v7.4h-21.4zM582.4 776.1h7.4v7.4h-7.4zM190.0 783.1h42.4v7.4h-42.4zM260.1 783.1h49.4v7.4h-49.4zM414.2 783.1h35.4v7.4h-35.4zM498.3 783.1h14.4v7.4h-14.4zM540.3 783.1h21.4v7.4h-21.4zM575.4 783.1h7.4v7.4h-7.4zM190.0 790.1h7.4v7.4h-7.4zM211.0 790.1h14.4v7.4h-14.4zM253.1 790.1h63.5v7.4h-63.5zM414.2 790.1h35.4v7.4h-35.4zM491.3 790.1h14.4v7.4h-14.4zM183.0 797.1h7.4v7.4h-7.4zM218.0 797.1h7.4v7.4h-7.4zM246.1 797.1h77.5v7.4h-77.5zM421.2 797.1h35.4v7.4h-35.4zM491.3 797.1h14.4v7.4h-14.4zM164.0 804.0h19.4v7.4h-19.4zM218.0 804.0h77.5v7.4h-77.5zM316.1 804.0h21.4v7.4h-21.4zM428.2 804.0h28.4v7.4h-28.4zM491.3 804.0h21.4v7.4h-21.4zM218.0 811.0h84.5v7.4h-84.5zM316.1 811.0h28.4v7.4h-28.4zM421.2 811.0h77.5v7.4h-77.5zM519.3 811.0h14.4v7.4h-14.4zM164.0 818.0h33.4v7.4h-33.4zM225.0 818.0h21.4v7.4h-21.4zM267.1 818.0h70.5v7.4h-70.5zM414.2 818.0h49.4v7.4h-49.4zM477.3 818.0h21.4v7.4h-21.4zM526.3 818.0h7.4v7.4h-7.4zM164.0 825.0h33.4v7.4h-33.4zM232.1 825.0h7.4v7.4h-7.4zM281.1 825.0h49.4v7.4h-49.4zM386.2 825.0h35.4v7.4h-35.4zM428.2 825.0h21.4v7.4h-21.4zM491.3 825.0h7.4v7.4h-7.4zM533.3 825.0h7.4v7.4h-7.4zM190.0 832.0h7.4v19.4h-7.4zM232.1 832.0h7.4v19.4h-7.4zM274.1 832.0h7.4v19.4h-7.4zM295.1 832.0h28.4v19.4h-28.4zM386.2 832.0h7.4v19.4h-7.4zM400.2 832.0h14.4v19.4h-14.4zM435.2 832.0h14.4v19.4h-14.4zM491.3 832.0h7.4v19.4h-7.4zM533.3 832.0h7.4v19.4h-7.4z"/><path fill="#e60000" d="M183.0 265.8h42.4v7.4h-42.4zM190.0 272.8h14.4v7.4h-14.4zM232.1 272.8h7.4v7.4h-7.4zM197.0 279.8h7.4v7.4h-7.4zM239.1 279.8h7.4v7.4h-7.4zM197.0 286.8h7.4v7.4h-7.4zM239.1 286.8h7.4v7.4h-7.4zM197.0 293.8h7.4v7.4h-7.4zM239.1 293.8h7.4v7.4h-7.4zM197.0 300.8h14.4v7.4h-14.4zM232.1 300.8h7.4v7.4h-7.4zM204.0 307.7h14.4v7.4h-14.4zM232.1 307.7h7.4v7.4h-7.4zM218.0 314.7h14.4v7.4h-14.4zM302.1 321.7h14.4v7.4h-14.4zM288.1 328.7h7.4v7.4h-7.4zM316.1 328.7h35.4v7.4h-35.4zM288.1 335.7h21.4v7.4h-21.4zM337.2 335.7h7.4v7.4h-7.4zM281.1 342.7h28.4v7.4h-28.4zM330.1 342.7h7.4v7.4h-7.4zM274.1 349.7h35.4v7.4h-35.4zM323.1 349.7h7.4v7.4h-7.4zM274.1 356.7h56.5v7.4h-56.5zM260.1 363.7h42.4v7.4h-42.4zM309.1 363.7h14.4v7.4h-14.4zM253.1 370.7h14.4v7.4h-14.4zM323.1 370.7h7.4v7.4h-7.4zM239.1 377.6h14.4v7.4h-14.4zM330.1 377.6h21.4v7.4h-21.4zM393.2 377.6h7.4v7.4h-7.4zM232.1 384.6h14.4v7.4h-14.4zM400.2 384.6h14.4v7.4h-14.4zM232.1 391.6h28.4v7.4h-28.4zM414.2 391.6h7.4v7.4h-7.4zM260.1 398.6h14.4v7.4h-14.4zM281.1 405.6h14.4v7.4h-14.4zM295.1 412.6h7.4v7.4h-7.4zM316.1 419.6h14.4v7.4h-14.4zM442.3 426.6h7.4v7.4h-7.4zM470.3 426.6h28.4v7.4h-28.4zM449.3 433.6h14.4v7.4h-14.4zM498.3 433.6h14.4v7.4h-14.4zM512.3 440.6h7.4v7.4h-7.4zM351.2 447.5h7.4v7.4h-7.4zM519.3 447.5h7.4v7.4h-7.4zM526.3 454.5h7.4v7.4h-7.4zM449.3 461.5h14.4v7.4h-14.4zM533.3 461.5h21.4v7.4h-21.4zM568.4 461.5h14.4v7.4h-14.4zM463.3 468.5h7.4v7.4h-7.4zM589.4 468.5h14.4v7.4h-14.4zM442.3 475.5h7.4v7.4h-7.4zM610.4 475.5h42.4v7.4h-42.4zM470.3 482.5h7.4v7.4h-7.4zM617.4 482.5h7.4v7.4h-7.4zM645.4 482.5h35.4v7.4h-35.4zM470.3 489.5h7.4v7.4h-7.4zM610.4 489.5h21.4v7.4h-21.4zM645.4 489.5h14.4v7.4h-14.4zM680.5 489.5h14.4v7.4h-14.4zM449.3 496.5h28.4v7.4h-28.4zM491.3 496.5h14.4v7.4h-14.4zM603.4 496.5h14.4v7.4h-14.4zM624.4 496.5h28.4v7.4h-28.4zM687.5 496.5h7.4v7.4h-7.4zM484.3 503.5h21.4v7.4h-21.4zM603.4 503.5h7.4v7.4h-7.4zM645.4 503.5h7.4v7.4h-7.4zM680.5 503.5h7.4v7.4h-7.4zM358.2 510.5h7.4v7.4h-7.4zM484.3 510.5h14.4v7.4h-14.4zM596.4 510.5h7.4v7.4h-7.4zM638.4 510.5h7.4v7.4h-7.4zM666.5 510.5h7.4v7.4h-7.4zM841.6 510.5h7.4v7.4h-7.4zM1128.9 510.5h28.4v7.4h-28.4zM358.2 517.5h7.4v7.4h-7.4zM477.3 517.5h14.4v7.4h-14.4zM596.4 517.5h7.4v7.4h-7.4zM631.4 517.5h7.4v7.4h-7.4zM666.5 517.5h7.4v7.4h-7.4zM841.6 517.5h14.4v7.4h-14.4zM1100.9 517.5h21.4v7.4h-21.4zM1156.9 517.5h14.4v7.4h-14.4zM351.2 524.4h7.4v7.4h-7.4zM449.3 524.4h42.4v7.4h-42.4zM603.4 524.4h28.4v7.4h-28.4zM743.5 524.4h21.4v7.4h-21.4zM1009.8 524.4h7.4v7.4h-7.4zM1030.8 524.4h7.4v7.4h-7.4zM1100.9 524.4h14.4v7.4h-14.4zM1163.9 524.4h7.4v7.4h-7.4zM211.0 531.4h7.4v7.4h-7.4zM337.2 531.4h7.4v7.4h-7.4zM435.2 531.4h14.4v7.4h-14.4zM477.3 531.4h28.4v7.4h-28.4zM659.5 531.4h7.4v7.4h-7.4zM743.5 531.4h7.4v7.4h-7.4zM757.6 531.4h7.4v7.4h-7.4zM932.7 531.4h21.4v7.4h-21.4zM1009.8 531.4h7.4v7.4h-7.4zM1044.8 531.4h7.4v7.4h-7.4zM1058.8 531.4h28.4v7.4h-28.4zM1100.9 531.4h14.4v7.4h-14.4zM1170.9 531.4h7.4v7.4h-7.4zM211.0 538.4h7.4v7.4h-7.4zM428.2 538.4h7.4v7.4h-7.4zM498.3 538.4h14.4v7.4h-14.4zM652.5 538.4h7.4v7.4h-7.4zM764.6 538.4h7.4v7.4h-7.4zM925.7 538.4h7.4v7.4h-7.4zM967.8 538.4h14.4v7.4h-14.4zM1002.8 538.4h7.4v7.4h-7.4zM1051.8 538.4h63.5v7.4h-63.5zM1170.9 538.4h7.4v7.4h-7.4zM512.3 545.4h7.4v7.4h-7.4zM645.4 545.4h7.4v7.4h-7.4zM764.6 545.4h7.4v7.4h-7.4zM799.6 545.4h35.4v7.4h-35.4zM918.7 545.4h7.4v7.4h-7.4zM981.8 545.4h28.4v7.4h-28.4zM1051.8 545.4h70.5v7.4h-70.5zM1170.9 545.4h7.4v7.4h-7.4zM344.2 552.4h77.5v7.4h-77.5zM519.3 552.4h7.4v7.4h-7.4zM638.4 552.4h7.4v7.4h-7.4zM736.5 552.4h7.4v7.4h-7.4zM771.6 552.4h14.4v7.4h-14.4zM841.6 552.4h7.4v7.4h-7.4zM911.7 552.4h7.4v7.4h-7.4zM1051.8 552.4h7.4v7.4h-7.4zM1079.9 552.4h7.4v7.4h-7.4zM1121.9 552.4h14.4v7.4h-14.4zM1163.9 552.4h14.4v7.4h-14.4zM351.2 559.4h28.4v7.4h-28.4zM407.2 559.4h7.4v7.4h-7.4zM736.5 559.4h7.4v7.4h-7.4zM778.6 559.4h14.4v7.4h-14.4zM848.6 559.4h7.4v7.4h-7.4zM904.7 559.4h14.4v7.4h-14.4zM1044.8 559.4h7.4v7.4h-7.4zM1128.9 559.4h14.4v7.4h-14.4zM1156.9 559.4h21.4v7.4h-21.4zM302.1 566.4h7.4v7.4h-7.4zM323.1 566.4h14.4v7.4h-14.4zM351.2 566.4h28.4v7.4h-28.4zM631.4 566.4h7.4v7.4h-7.4zM848.6 566.4h7.4v7.4h-7.4zM904.7 566.4h14.4v7.4h-14.4zM981.8 566.4h14.4v7.4h-14.4zM1044.8 566.4h7.4v7.4h-7.4zM1128.9 566.4h14.4v7.4h-14.4zM1149.9 566.4h21.4v7.4h-21.4zM330.1 573.4h56.5v7.4h-56.5zM834.6 573.4h14.4v7.4h-14.4zM911.7 573.4h14.4v7.4h-14.4zM974.8 573.4h84.5v7.4h-84.5zM1128.9 573.4h7.4v7.4h-7.4zM1149.9 573.4h14.4v7.4h-14.4zM337.2 580.4h49.4v7.4h-49.4zM624.4 580.4h7.4v7.4h-7.4zM792.6 580.4h7.4v7.4h-7.4zM806.6 580.4h14.4v7.4h-14.4zM925.7 580.4h49.4v7.4h-49.4zM995.8 580.4h63.5v7.4h-63.5zM1121.9 580.4h7.4v7.4h-7.4zM1156.9 580.4h7.4v7.4h-7.4zM302.1 587.4h7.4v7.4h-7.4zM337.2 587.4h7.4v7.4h-7.4zM358.2 587.4h42.4v7.4h-42.4zM1009.8 587.4h42.4v7.4h-42.4zM1121.9 587.4h7.4v7.4h-7.4zM1156.9 587.4h14.4v7.4h-14.4zM302.1 594.3h7.4v7.4h-7.4zM330.1 594.3h7.4v7.4h-7.4zM365.2 594.3h21.4v7.4h-21.4zM393.2 594.3h14.4v7.4h-14.4zM729.5 594.3h7.4v7.4h-7.4zM1009.8 594.3h35.4v7.4h-35.4zM1114.9 594.3h14.4v7.4h-14.4zM1149.9 594.3h14.4v7.4h-14.4zM309.1 601.3h7.4v7.4h-7.4zM323.1 601.3h14.4v7.4h-14.4zM372.2 601.3h21.4v7.4h-21.4zM400.2 601.3h14.4v7.4h-14.4zM778.6 601.3h7.4v7.4h-7.4zM1016.8 601.3h21.4v7.4h-21.4zM1114.9 601.3h35.4v7.4h-35.4zM309.1 608.3h21.4v7.4h-21.4zM386.2 608.3h28.4v7.4h-28.4zM771.6 608.3h7.4v7.4h-7.4zM260.1 615.3h14.4v7.4h-14.4zM393.2 615.3h21.4v7.4h-21.4zM533.3 615.3h7.4v7.4h-7.4zM757.6 615.3h14.4v7.4h-14.4zM239.1 622.3h49.4v7.4h-49.4zM400.2 622.3h14.4v7.4h-14.4zM232.1 629.3h7.4v7.4h-7.4zM288.1 629.3h14.4v7.4h-14.4zM617.4 629.3h7.4v7.4h-7.4zM232.1 636.3h7.4v7.4h-7.4zM295.1 636.3h7.4v7.4h-7.4zM617.4 636.3h7.4v7.4h-7.4zM225.0 643.3h14.4v7.4h-14.4zM288.1 643.3h14.4v7.4h-14.4zM533.3 643.3h7.4v7.4h-7.4zM232.1 650.3h7.4v7.4h-7.4zM281.1 650.3h14.4v7.4h-14.4zM526.3 650.3h7.4v7.4h-7.4zM232.1 657.3h7.4v7.4h-7.4zM274.1 657.3h7.4v7.4h-7.4zM414.2 657.3h7.4v7.4h-7.4zM512.3 657.3h7.4v7.4h-7.4zM239.1 664.2h7.4v7.4h-7.4zM267.1 664.2h7.4v7.4h-7.4zM309.1 664.2h28.4v7.4h-28.4zM365.2 664.2h14.4v7.4h-14.4zM407.2 664.2h14.4v7.4h-14.4zM505.3 664.2h7.4v7.4h-7.4zM246.1 671.2h21.4v7.4h-21.4zM309.1 671.2h35.4v7.4h-35.4zM358.2 671.2h63.5v7.4h-63.5zM568.4 671.2h14.4v7.4h-14.4zM253.1 678.2h14.4v7.4h-14.4zM316.1 678.2h56.5v7.4h-56.5zM393.2 678.2h21.4v7.4h-21.4zM568.4 678.2h7.4v7.4h-7.4zM610.4 678.2h14.4v7.4h-14.4zM323.1 685.2h42.4v7.4h-42.4zM400.2 685.2h7.4v7.4h-7.4zM505.3 685.2h7.4v7.4h-7.4zM561.4 685.2h7.4v7.4h-7.4zM274.1 692.2h7.4v7.4h-7.4zM351.2 692.2h21.4v7.4h-21.4zM393.2 692.2h14.4v7.4h-14.4zM561.4 692.2h7.4v7.4h-7.4zM274.1 699.2h14.4v7.4h-14.4zM358.2 699.2h42.4v7.4h-42.4zM645.4 699.2h14.4v7.4h-14.4zM274.1 706.2h14.4v7.4h-14.4zM512.3 706.2h7.4v7.4h-7.4zM554.4 706.2h7.4v7.4h-7.4zM344.2 713.2h14.4v7.4h-14.4zM540.3 713.2h14.4v7.4h-14.4zM589.4 713.2h14.4v7.4h-14.4zM337.2 720.2h28.4v7.4h-28.4zM421.2 720.2h28.4v7.4h-28.4zM519.3 720.2h28.4v7.4h-28.4zM582.4 720.2h7.4v7.4h-7.4zM603.4 720.2h14.4v7.4h-14.4zM337.2 727.2h35.4v7.4h-35.4zM393.2 727.2h35.4v7.4h-35.4zM512.3 727.2h21.4v7.4h-21.4zM575.4 727.2h7.4v7.4h-7.4zM603.4 727.2h14.4v7.4h-14.4zM337.2 734.1h35.4v7.4h-35.4zM386.2 734.1h42.4v7.4h-42.4zM449.3 734.1h7.4v7.4h-7.4zM484.3 734.1h14.4v7.4h-14.4zM512.3 734.1h7.4v7.4h-7.4zM582.4 734.1h21.4v7.4h-21.4zM337.2 741.1h28.4v7.4h-28.4zM400.2 741.1h28.4v7.4h-28.4zM449.3 741.1h7.4v7.4h-7.4zM484.3 741.1h7.4v7.4h-7.4zM512.3 741.1h7.4v7.4h-7.4zM582.4 741.1h14.4v7.4h-14.4zM344.2 748.1h14.4v7.4h-14.4zM414.2 748.1h42.4v7.4h-42.4zM484.3 748.1h7.4v7.4h-7.4zM512.3 748.1h7.4v7.4h-7.4zM554.4 748.1h35.4v7.4h-35.4zM344.2 755.1h14.4v7.4h-14.4zM414.2 755.1h42.4v7.4h-42.4zM477.3 755.1h7.4v7.4h-7.4zM575.4 755.1h14.4v7.4h-14.4zM183.0 762.1h14.4v7.4h-14.4zM239.1 762.1h14.4v7.4h-14.4zM309.1 762.1h56.5v7.4h-56.5zM414.2 762.1h70.5v7.4h-70.5zM547.4 762.1h7.4v7.4h-7.4zM575.4 762.1h7.4v7.4h-7.4zM190.0 769.1h7.4v7.4h-7.4zM239.1 769.1h21.4v7.4h-21.4zM309.1 769.1h7.4v7.4h-7.4zM330.1 769.1h42.4v7.4h-42.4zM407.2 769.1h21.4v7.4h-21.4zM442.3 769.1h35.4v7.4h-35.4zM505.3 769.1h7.4v7.4h-7.4zM547.4 769.1h7.4v7.4h-7.4zM575.4 769.1h7.4v7.4h-7.4zM183.0 776.1h14.4v7.4h-14.4zM232.1 776.1h28.4v7.4h-28.4zM309.1 776.1h7.4v7.4h-7.4zM337.2 776.1h42.4v7.4h-42.4zM400.2 776.1h21.4v7.4h-21.4zM442.3 776.1h28.4v7.4h-28.4zM498.3 776.1h14.4v7.4h-14.4zM547.4 776.1h14.4v7.4h-14.4zM575.4 776.1h7.4v7.4h-7.4zM183.0 783.1h7.4v7.4h-7.4zM232.1 783.1h28.4v7.4h-28.4zM309.1 783.1h7.4v7.4h-7.4zM337.2 783.1h77.5v7.4h-77.5zM449.3 783.1h21.4v7.4h-21.4zM477.3 783.1h21.4v7.4h-21.4zM561.4 783.1h14.4v7.4h-14.4zM164.0 790.1h26.4v7.4h-26.4zM225.0 790.1h28.4v7.4h-28.4zM316.1 790.1h42.4v7.4h-42.4zM379.2 790.1h35.4v7.4h-35.4zM449.3 790.1h42.4v7.4h-42.4zM164.0 797.1h19.4v7.4h-19.4zM225.0 797.1h21.4v7.4h-21.4zM323.1 797.1h28.4v7.4h-28.4zM400.2 797.1h21.4v7.4h-21.4zM456.3 797.1h35.4v7.4h-35.4zM337.2 804.0h14.4v7.4h-14.4zM414.2 804.0h14.4v7.4h-14.4zM456.3 804.0h35.4v7.4h-35.4zM344.2 811.0h7.4v7.4h-7.4zM414.2 811.0h7.4v7.4h-7.4zM498.3 811.0h21.4v7.4h-21.4zM246.1 818.0h21.4v7.4h-21.4zM337.2 818.0h7.4v7.4h-7.4zM386.2 818.0h28.4v7.4h-28.4zM498.3 818.0h7.4v7.4h-7.4zM519.3 818.0h7.4v7.4h-7.4zM239.1 825.0h42.4v7.4h-42.4zM330.1 825.0h7.4v7.4h-7.4zM379.2 825.0h7.4v7.4h-7.4zM498.3 825.0h7.4v7.4h-7.4zM526.3 825.0h7.4v7.4h-7.4zM164.0 832.0h26.4v19.4h-26.4zM239.1 832.0h35.4v19.4h-35.4zM281.1 832.0h14.4v19.4h-14.4zM323.1 832.0h14.4v19.4h-14.4zM379.2 832.0h7.4v19.4h-7.4zM498.3 832.0h7.4v19.4h-7.4zM526.3 832.0h7.4v19.4h-7.4z"/><path fill="#da0000" d="M204.0 272.8h28.4v7.4h-28.4zM204.0 279.8h7.4v7.4h-7.4zM225.0 279.8h14.4v7.4h-14.4zM204.0 286.8h35.4v7.4h-35.4zM204.0 293.8h35.4v7.4h-35.4zM211.0 300.8h21.4v7.4h-21.4zM218.0 307.7h14.4v7.4h-14.4zM295.1 328.7h21.4v7.4h-21.4zM309.1 335.7h28.4v7.4h-28.4zM309.1 342.7h21.4v7.4h-21.4zM309.1 349.7h14.4v7.4h-14.4zM302.1 363.7h7.4v7.4h-7.4zM267.1 370.7h56.5v7.4h-56.5zM253.1 377.6h14.4v7.4h-14.4zM281.1 377.6h7.4v7.4h-7.4zM323.1 377.6h7.4v7.4h-7.4zM351.2 377.6h42.4v7.4h-42.4zM246.1 384.6h14.4v7.4h-14.4zM337.2 384.6h7.4v7.4h-7.4zM393.2 384.6h7.4v7.4h-7.4zM260.1 391.6h7.4v7.4h-7.4zM400.2 391.6h14.4v7.4h-14.4zM274.1 398.6h14.4v7.4h-14.4zM414.2 398.6h7.4v7.4h-7.4zM295.1 405.6h7.4v7.4h-7.4zM421.2 405.6h7.4v7.4h-7.4zM302.1 412.6h7.4v7.4h-7.4zM428.2 412.6h7.4v7.4h-7.4zM330.1 419.6h7.4v7.4h-7.4zM435.2 419.6h7.4v7.4h-7.4zM337.2 426.6h7.4v7.4h-7.4zM344.2 433.6h7.4v7.4h-7.4zM442.3 433.6h7.4v7.4h-7.4zM463.3 433.6h14.4v7.4h-14.4zM491.3 433.6h7.4v7.4h-7.4zM351.2 440.6h7.4v7.4h-7.4zM449.3 440.6h14.4v7.4h-14.4zM505.3 440.6h7.4v7.4h-7.4zM449.3 447.5h7.4v7.4h-7.4zM512.3 447.5h7.4v7.4h-7.4zM449.3 454.5h14.4v7.4h-14.4zM519.3 454.5h7.4v7.4h-7.4zM442.3 461.5h7.4v7.4h-7.4zM463.3 461.5h7.4v7.4h-7.4zM526.3 461.5h7.4v7.4h-7.4zM554.4 461.5h14.4v7.4h-14.4zM442.3 468.5h7.4v7.4h-7.4zM470.3 468.5h7.4v7.4h-7.4zM582.4 468.5h7.4v7.4h-7.4zM470.3 475.5h7.4v7.4h-7.4zM596.4 475.5h14.4v7.4h-14.4zM442.3 482.5h7.4v7.4h-7.4zM477.3 482.5h7.4v7.4h-7.4zM603.4 482.5h14.4v7.4h-14.4zM624.4 482.5h21.4v7.4h-21.4zM477.3 489.5h35.4v7.4h-35.4zM603.4 489.5h7.4v7.4h-7.4zM631.4 489.5h14.4v7.4h-14.4zM659.5 489.5h21.4v7.4h-21.4zM358.2 496.5h7.4v7.4h-7.4zM477.3 496.5h14.4v7.4h-14.4zM505.3 496.5h7.4v7.4h-7.4zM652.5 496.5h14.4v7.4h-14.4zM680.5 496.5h7.4v7.4h-7.4zM358.2 503.5h7.4v7.4h-7.4zM449.3 503.5h35.4v7.4h-35.4zM505.3 503.5h7.4v7.4h-7.4zM596.4 503.5h7.4v7.4h-7.4zM652.5 503.5h14.4v7.4h-14.4zM673.5 503.5h7.4v7.4h-7.4zM365.2 510.5h7.4v7.4h-7.4zM470.3 510.5h14.4v7.4h-14.4zM498.3 510.5h14.4v7.4h-14.4zM589.4 510.5h7.4v7.4h-7.4zM645.4 510.5h21.4v7.4h-21.4zM365.2 517.5h14.4v7.4h-14.4zM449.3 517.5h28.4v7.4h-28.4zM491.3 517.5h14.4v7.4h-14.4zM589.4 517.5h7.4v7.4h-7.4zM1121.9 517.5h35.4v7.4h-35.4zM358.2 524.4h21.4v7.4h-21.4zM435.2 524.4h14.4v7.4h-14.4zM491.3 524.4h21.4v7.4h-21.4zM589.4 524.4h14.4v7.4h-14.4zM1016.8 524.4h14.4v7.4h-14.4zM1114.9 524.4h14.4v7.4h-14.4zM1156.9 524.4h7.4v7.4h-7.4zM344.2 531.4h7.4v7.4h-7.4zM428.2 531.4h7.4v7.4h-7.4zM505.3 531.4h7.4v7.4h-7.4zM596.4 531.4h21.4v7.4h-21.4zM750.5 531.4h7.4v7.4h-7.4zM1037.8 531.4h7.4v7.4h-7.4zM1114.9 531.4h14.4v7.4h-14.4zM1163.9 531.4h7.4v7.4h-7.4zM337.2 538.4h7.4v7.4h-7.4zM372.2 538.4h7.4v7.4h-7.4zM512.3 538.4h7.4v7.4h-7.4zM743.5 538.4h21.4v7.4h-21.4zM932.7 538.4h35.4v7.4h-35.4zM1009.8 538.4h7.4v7.4h-7.4zM1044.8 538.4h7.4v7.4h-7.4zM1114.9 538.4h14.4v7.4h-14.4zM1163.9 538.4h7.4v7.4h-7.4zM337.2 545.4h7.4v7.4h-7.4zM365.2 545.4h28.4v7.4h-28.4zM421.2 545.4h7.4v7.4h-7.4zM519.3 545.4h7.4v7.4h-7.4zM743.5 545.4h7.4v7.4h-7.4zM757.6 545.4h7.4v7.4h-7.4zM925.7 545.4h14.4v7.4h-14.4zM967.8 545.4h14.4v7.4h-14.4zM1009.8 545.4h14.4v7.4h-14.4zM1044.8 545.4h7.4v7.4h-7.4zM1121.9 545.4h21.4v7.4h-21.4zM1163.9 545.4h7.4v7.4h-7.4zM526.3 552.4h7.4v7.4h-7.4zM764.6 552.4h7.4v7.4h-7.4zM792.6 552.4h49.4v7.4h-49.4zM918.7 552.4h14.4v7.4h-14.4zM974.8 552.4h56.5v7.4h-56.5zM1044.8 552.4h7.4v7.4h-7.4zM1135.9 552.4h28.4v7.4h-28.4zM533.3 559.4h7.4v7.4h-7.4zM631.4 559.4h7.4v7.4h-7.4zM764.6 559.4h14.4v7.4h-14.4zM792.6 559.4h7.4v7.4h-7.4zM841.6 559.4h7.4v7.4h-7.4zM918.7 559.4h14.4v7.4h-14.4zM974.8 559.4h70.5v7.4h-70.5zM1142.9 559.4h14.4v7.4h-14.4zM309.1 566.4h14.4v7.4h-14.4zM764.6 566.4h35.4v7.4h-35.4zM841.6 566.4h7.4v7.4h-7.4zM918.7 566.4h7.4v7.4h-7.4zM967.8 566.4h14.4v7.4h-14.4zM995.8 566.4h49.4v7.4h-49.4zM1142.9 566.4h7.4v7.4h-7.4zM302.1 573.4h7.4v7.4h-7.4zM323.1 573.4h7.4v7.4h-7.4zM540.3 573.4h7.4v7.4h-7.4zM624.4 573.4h7.4v7.4h-7.4zM729.5 573.4h7.4v7.4h-7.4zM792.6 573.4h42.4v7.4h-42.4zM925.7 573.4h7.4v7.4h-7.4zM939.7 573.4h35.4v7.4h-35.4zM1135.9 573.4h14.4v7.4h-14.4zM302.1 580.4h7.4v7.4h-7.4zM330.1 580.4h7.4v7.4h-7.4zM540.3 580.4h7.4v7.4h-7.4zM729.5 580.4h7.4v7.4h-7.4zM1128.9 580.4h28.4v7.4h-28.4zM309.1 587.4h7.4v7.4h-7.4zM330.1 587.4h7.4v7.4h-7.4zM729.5 587.4h7.4v7.4h-7.4zM1128.9 587.4h28.4v7.4h-28.4zM309.1 594.3h21.4v7.4h-21.4zM386.2 594.3h7.4v7.4h-7.4zM533.3 594.3h7.4v7.4h-7.4zM785.6 594.3h7.4v7.4h-7.4zM1128.9 594.3h21.4v7.4h-21.4zM316.1 601.3h7.4v7.4h-7.4zM393.2 601.3h7.4v7.4h-7.4zM533.3 601.3h7.4v7.4h-7.4zM736.5 601.3h7.4v7.4h-7.4zM764.6 601.3h14.4v7.4h-14.4zM533.3 608.3h7.4v7.4h-7.4zM743.5 608.3h28.4v7.4h-28.4zM617.4 615.3h7.4v7.4h-7.4zM540.3 622.3h7.4v7.4h-7.4zM617.4 622.3h7.4v7.4h-7.4zM239.1 629.3h49.4v7.4h-49.4zM540.3 629.3h7.4v7.4h-7.4zM568.4 629.3h14.4v7.4h-14.4zM239.1 636.3h7.4v7.4h-7.4zM260.1 636.3h35.4v7.4h-35.4zM540.3 636.3h7.4v7.4h-7.4zM239.1 643.3h7.4v7.4h-7.4zM274.1 643.3h14.4v7.4h-14.4zM617.4 643.3h7.4v7.4h-7.4zM239.1 650.3h7.4v7.4h-7.4zM274.1 650.3h7.4v7.4h-7.4zM617.4 650.3h7.4v7.4h-7.4zM239.1 657.3h7.4v7.4h-7.4zM267.1 657.3h7.4v7.4h-7.4zM519.3 657.3h7.4v7.4h-7.4zM561.4 657.3h14.4v7.4h-14.4zM246.1 664.2h21.4v7.4h-21.4zM554.4 664.2h28.4v7.4h-28.4zM505.3 671.2h7.4v7.4h-7.4zM561.4 671.2h7.4v7.4h-7.4zM582.4 671.2h42.4v7.4h-42.4zM372.2 678.2h21.4v7.4h-21.4zM505.3 678.2h7.4v7.4h-7.4zM561.4 678.2h7.4v7.4h-7.4zM365.2 685.2h35.4v7.4h-35.4zM372.2 692.2h21.4v7.4h-21.4zM554.4 692.2h7.4v7.4h-7.4zM512.3 699.2h7.4v7.4h-7.4zM554.4 699.2h7.4v7.4h-7.4zM519.3 706.2h7.4v7.4h-7.4zM540.3 706.2h14.4v7.4h-14.4zM519.3 713.2h21.4v7.4h-21.4zM589.4 720.2h14.4v7.4h-14.4zM428.2 727.2h21.4v7.4h-21.4zM582.4 727.2h21.4v7.4h-21.4zM428.2 734.1h21.4v7.4h-21.4zM498.3 734.1h14.4v7.4h-14.4zM428.2 741.1h21.4v7.4h-21.4zM491.3 741.1h21.4v7.4h-21.4zM491.3 748.1h21.4v7.4h-21.4zM484.3 755.1h28.4v7.4h-28.4zM554.4 755.1h21.4v7.4h-21.4zM164.0 762.1h19.4v7.4h-19.4zM484.3 762.1h28.4v7.4h-28.4zM554.4 762.1h21.4v7.4h-21.4zM164.0 769.1h26.4v7.4h-26.4zM316.1 769.1h14.4v7.4h-14.4zM477.3 769.1h28.4v7.4h-28.4zM554.4 769.1h21.4v7.4h-21.4zM164.0 776.1h19.4v7.4h-19.4zM316.1 776.1h21.4v7.4h-21.4zM470.3 776.1h28.4v7.4h-28.4zM561.4 776.1h14.4v7.4h-14.4zM164.0 783.1h19.4v7.4h-19.4zM316.1 783.1h21.4v7.4h-21.4zM470.3 783.1h7.4v7.4h-7.4zM358.2 790.1h21.4v7.4h-21.4zM351.2 797.1h14.4v7.4h-14.4zM372.2 797.1h28.4v7.4h-28.4zM351.2 804.0h7.4v7.4h-7.4zM379.2 804.0h35.4v7.4h-35.4zM351.2 811.0h7.4v7.4h-7.4zM379.2 811.0h35.4v7.4h-35.4zM344.2 818.0h7.4v7.4h-7.4zM372.2 818.0h14.4v7.4h-14.4zM505.3 818.0h14.4v7.4h-14.4zM337.2 825.0h14.4v7.4h-14.4zM372.2 825.0h7.4v7.4h-7.4zM505.3 825.0h7.4v7.4h-7.4zM519.3 825.0h7.4v7.4h-7.4zM337.2 832.0h7.4v19.4h-7.4zM372.2 832.0h7.4v19.4h-7.4zM505.3 832.0h7.4v19.4h-7.4zM519.3 832.0h7.4v19.4h-7.4z"/><path fill="#ce0000" d="M211.0 279.8h14.4v7.4h-14.4zM267.1 377.6h14.4v7.4h-14.4zM288.1 377.6h14.4v7.4h-14.4zM309.1 377.6h14.4v7.4h-14.4zM260.1 384.6h35.4v7.4h-35.4zM323.1 384.6h14.4v7.4h-14.4zM344.2 384.6h14.4v7.4h-14.4zM379.2 384.6h14.4v7.4h-14.4zM267.1 391.6h28.4v7.4h-28.4zM337.2 391.6h7.4v7.4h-7.4zM386.2 391.6h14.4v7.4h-14.4zM288.1 398.6h7.4v7.4h-7.4zM393.2 398.6h21.4v7.4h-21.4zM414.2 405.6h7.4v7.4h-7.4zM309.1 412.6h21.4v7.4h-21.4zM435.2 426.6h7.4v7.4h-7.4zM477.3 433.6h14.4v7.4h-14.4zM442.3 440.6h7.4v7.4h-7.4zM463.3 440.6h7.4v7.4h-7.4zM498.3 440.6h7.4v7.4h-7.4zM358.2 447.5h7.4v7.4h-7.4zM456.3 447.5h7.4v7.4h-7.4zM505.3 447.5h7.4v7.4h-7.4zM358.2 454.5h7.4v7.4h-7.4zM442.3 454.5h7.4v7.4h-7.4zM463.3 454.5h7.4v7.4h-7.4zM512.3 454.5h7.4v7.4h-7.4zM358.2 461.5h7.4v7.4h-7.4zM435.2 461.5h7.4v7.4h-7.4zM470.3 461.5h7.4v7.4h-7.4zM519.3 461.5h7.4v7.4h-7.4zM358.2 468.5h7.4v7.4h-7.4zM435.2 468.5h7.4v7.4h-7.4zM512.3 468.5h35.4v7.4h-35.4zM568.4 468.5h14.4v7.4h-14.4zM358.2 475.5h7.4v7.4h-7.4zM435.2 475.5h7.4v7.4h-7.4zM477.3 475.5h7.4v7.4h-7.4zM512.3 475.5h21.4v7.4h-21.4zM589.4 475.5h7.4v7.4h-7.4zM358.2 482.5h7.4v7.4h-7.4zM484.3 482.5h7.4v7.4h-7.4zM498.3 482.5h35.4v7.4h-35.4zM596.4 482.5h7.4v7.4h-7.4zM358.2 489.5h7.4v7.4h-7.4zM442.3 489.5h7.4v7.4h-7.4zM512.3 489.5h14.4v7.4h-14.4zM596.4 489.5h7.4v7.4h-7.4zM442.3 496.5h7.4v7.4h-7.4zM512.3 496.5h14.4v7.4h-14.4zM596.4 496.5h7.4v7.4h-7.4zM666.5 496.5h14.4v7.4h-14.4zM365.2 503.5h7.4v7.4h-7.4zM442.3 503.5h7.4v7.4h-7.4zM512.3 503.5h7.4v7.4h-7.4zM589.4 503.5h7.4v7.4h-7.4zM666.5 503.5h7.4v7.4h-7.4zM372.2 510.5h42.4v7.4h-42.4zM442.3 510.5h28.4v7.4h-28.4zM512.3 510.5h14.4v7.4h-14.4zM582.4 510.5h7.4v7.4h-7.4zM379.2 517.5h42.4v7.4h-42.4zM428.2 517.5h21.4v7.4h-21.4zM505.3 517.5h28.4v7.4h-28.4zM582.4 517.5h7.4v7.4h-7.4zM638.4 517.5h7.4v7.4h-7.4zM659.5 517.5h7.4v7.4h-7.4zM379.2 524.4h14.4v7.4h-14.4zM428.2 524.4h7.4v7.4h-7.4zM512.3 524.4h28.4v7.4h-28.4zM582.4 524.4h7.4v7.4h-7.4zM631.4 524.4h7.4v7.4h-7.4zM659.5 524.4h7.4v7.4h-7.4zM1128.9 524.4h28.4v7.4h-28.4zM351.2 531.4h35.4v7.4h-35.4zM421.2 531.4h7.4v7.4h-7.4zM512.3 531.4h28.4v7.4h-28.4zM582.4 531.4h14.4v7.4h-14.4zM617.4 531.4h14.4v7.4h-14.4zM1016.8 531.4h21.4v7.4h-21.4zM1128.9 531.4h14.4v7.4h-14.4zM1156.9 531.4h7.4v7.4h-7.4zM344.2 538.4h7.4v7.4h-7.4zM358.2 538.4h14.4v7.4h-14.4zM379.2 538.4h14.4v7.4h-14.4zM421.2 538.4h7.4v7.4h-7.4zM519.3 538.4h14.4v7.4h-14.4zM596.4 538.4h28.4v7.4h-28.4zM1016.8 538.4h28.4v7.4h-28.4zM1128.9 538.4h35.4v7.4h-35.4zM344.2 545.4h7.4v7.4h-7.4zM358.2 545.4h7.4v7.4h-7.4zM393.2 545.4h7.4v7.4h-7.4zM414.2 545.4h7.4v7.4h-7.4zM526.3 545.4h7.4v7.4h-7.4zM638.4 545.4h7.4v7.4h-7.4zM750.5 545.4h7.4v7.4h-7.4zM939.7 545.4h28.4v7.4h-28.4zM1023.8 545.4h21.4v7.4h-21.4zM1142.9 545.4h21.4v7.4h-21.4zM533.3 552.4h7.4v7.4h-7.4zM631.4 552.4h7.4v7.4h-7.4zM743.5 552.4h21.4v7.4h-21.4zM932.7 552.4h42.4v7.4h-42.4zM1030.8 552.4h14.4v7.4h-14.4zM624.4 559.4h7.4v7.4h-7.4zM743.5 559.4h7.4v7.4h-7.4zM757.6 559.4h7.4v7.4h-7.4zM799.6 559.4h42.4v7.4h-42.4zM932.7 559.4h42.4v7.4h-42.4zM540.3 566.4h7.4v7.4h-7.4zM624.4 566.4h7.4v7.4h-7.4zM736.5 566.4h7.4v7.4h-7.4zM757.6 566.4h7.4v7.4h-7.4zM799.6 566.4h42.4v7.4h-42.4zM925.7 566.4h42.4v7.4h-42.4zM309.1 573.4h14.4v7.4h-14.4zM757.6 573.4h35.4v7.4h-35.4zM932.7 573.4h7.4v7.4h-7.4zM309.1 580.4h21.4v7.4h-21.4zM617.4 580.4h7.4v7.4h-7.4zM316.1 587.4h14.4v7.4h-14.4zM540.3 587.4h7.4v7.4h-7.4zM617.4 587.4h7.4v7.4h-7.4zM785.6 587.4h7.4v7.4h-7.4zM617.4 594.3h7.4v7.4h-7.4zM736.5 594.3h7.4v7.4h-7.4zM771.6 594.3h14.4v7.4h-14.4zM617.4 601.3h7.4v7.4h-7.4zM743.5 601.3h21.4v7.4h-21.4zM617.4 608.3h7.4v7.4h-7.4zM540.3 615.3h7.4v7.4h-7.4zM547.4 622.3h42.4v7.4h-42.4zM547.4 629.3h21.4v7.4h-21.4zM582.4 629.3h7.4v7.4h-7.4zM610.4 629.3h7.4v7.4h-7.4zM246.1 636.3h14.4v7.4h-14.4zM547.4 636.3h42.4v7.4h-42.4zM610.4 636.3h7.4v7.4h-7.4zM246.1 643.3h28.4v7.4h-28.4zM540.3 643.3h42.4v7.4h-42.4zM246.1 650.3h28.4v7.4h-28.4zM533.3 650.3h14.4v7.4h-14.4zM554.4 650.3h21.4v7.4h-21.4zM246.1 657.3h21.4v7.4h-21.4zM526.3 657.3h7.4v7.4h-7.4zM547.4 657.3h14.4v7.4h-14.4zM575.4 657.3h7.4v7.4h-7.4zM617.4 657.3h7.4v7.4h-7.4zM512.3 664.2h7.4v7.4h-7.4zM582.4 664.2h42.4v7.4h-42.4zM554.4 671.2h7.4v7.4h-7.4zM554.4 678.2h7.4v7.4h-7.4zM554.4 685.2h7.4v7.4h-7.4zM512.3 692.2h7.4v7.4h-7.4zM547.4 692.2h7.4v7.4h-7.4zM547.4 699.2h7.4v7.4h-7.4zM526.3 706.2h14.4v7.4h-14.4zM365.2 797.1h7.4v7.4h-7.4zM358.2 804.0h21.4v7.4h-21.4zM358.2 811.0h21.4v7.4h-21.4zM351.2 818.0h21.4v7.4h-21.4zM351.2 825.0h21.4v7.4h-21.4zM512.3 825.0h7.4v7.4h-7.4zM344.2 832.0h7.4v19.4h-7.4zM365.2 832.0h7.4v19.4h-7.4zM512.3 832.0h7.4v19.4h-7.4z"/><path fill="#c20000" d="M302.1 377.6h7.4v7.4h-7.4zM295.1 384.6h7.4v7.4h-7.4zM316.1 384.6h7.4v7.4h-7.4zM358.2 384.6h21.4v7.4h-21.4zM295.1 391.6h7.4v7.4h-7.4zM330.1 391.6h7.4v7.4h-7.4zM344.2 391.6h14.4v7.4h-14.4zM379.2 391.6h7.4v7.4h-7.4zM295.1 398.6h7.4v7.4h-7.4zM330.1 398.6h21.4v7.4h-21.4zM386.2 398.6h7.4v7.4h-7.4zM302.1 405.6h7.4v7.4h-7.4zM330.1 405.6h21.4v7.4h-21.4zM393.2 405.6h21.4v7.4h-21.4zM330.1 412.6h14.4v7.4h-14.4zM421.2 412.6h7.4v7.4h-7.4zM337.2 419.6h7.4v7.4h-7.4zM428.2 419.6h7.4v7.4h-7.4zM344.2 426.6h7.4v7.4h-7.4zM351.2 433.6h7.4v7.4h-7.4zM435.2 433.6h7.4v7.4h-7.4zM358.2 440.6h7.4v7.4h-7.4zM435.2 440.6h7.4v7.4h-7.4zM470.3 440.6h28.4v7.4h-28.4zM435.2 447.5h14.4v7.4h-14.4zM463.3 447.5h14.4v7.4h-14.4zM498.3 447.5h7.4v7.4h-7.4zM435.2 454.5h7.4v7.4h-7.4zM470.3 454.5h7.4v7.4h-7.4zM505.3 454.5h7.4v7.4h-7.4zM428.2 461.5h7.4v7.4h-7.4zM477.3 461.5h7.4v7.4h-7.4zM512.3 461.5h7.4v7.4h-7.4zM421.2 468.5h14.4v7.4h-14.4zM477.3 468.5h7.4v7.4h-7.4zM505.3 468.5h7.4v7.4h-7.4zM547.4 468.5h21.4v7.4h-21.4zM428.2 475.5h7.4v7.4h-7.4zM484.3 475.5h7.4v7.4h-7.4zM505.3 475.5h7.4v7.4h-7.4zM533.3 475.5h7.4v7.4h-7.4zM575.4 475.5h14.4v7.4h-14.4zM435.2 482.5h7.4v7.4h-7.4zM491.3 482.5h7.4v7.4h-7.4zM533.3 482.5h7.4v7.4h-7.4zM589.4 482.5h7.4v7.4h-7.4zM435.2 489.5h7.4v7.4h-7.4zM526.3 489.5h14.4v7.4h-14.4zM589.4 489.5h7.4v7.4h-7.4zM365.2 496.5h7.4v7.4h-7.4zM526.3 496.5h14.4v7.4h-14.4zM589.4 496.5h7.4v7.4h-7.4zM372.2 503.5h35.4v7.4h-35.4zM435.2 503.5h7.4v7.4h-7.4zM519.3 503.5h28.4v7.4h-28.4zM582.4 503.5h7.4v7.4h-7.4zM414.2 510.5h28.4v7.4h-28.4zM526.3 510.5h21.4v7.4h-21.4zM575.4 510.5h7.4v7.4h-7.4zM421.2 517.5h7.4v7.4h-7.4zM533.3 517.5h14.4v7.4h-14.4zM575.4 517.5h7.4v7.4h-7.4zM645.4 517.5h14.4v7.4h-14.4zM393.2 524.4h35.4v7.4h-35.4zM540.3 524.4h7.4v7.4h-7.4zM575.4 524.4h7.4v7.4h-7.4zM386.2 531.4h14.4v7.4h-14.4zM414.2 531.4h7.4v7.4h-7.4zM540.3 531.4h7.4v7.4h-7.4zM575.4 531.4h7.4v7.4h-7.4zM631.4 531.4h7.4v7.4h-7.4zM652.5 531.4h7.4v7.4h-7.4zM1142.9 531.4h14.4v7.4h-14.4zM351.2 538.4h7.4v7.4h-7.4zM393.2 538.4h7.4v7.4h-7.4zM414.2 538.4h7.4v7.4h-7.4zM533.3 538.4h7.4v7.4h-7.4zM582.4 538.4h14.4v7.4h-14.4zM624.4 538.4h14.4v7.4h-14.4zM645.4 538.4h7.4v7.4h-7.4zM351.2 545.4h7.4v7.4h-7.4zM400.2 545.4h14.4v7.4h-14.4zM533.3 545.4h7.4v7.4h-7.4zM589.4 545.4h49.4v7.4h-49.4zM540.3 552.4h7.4v7.4h-7.4zM617.4 552.4h14.4v7.4h-14.4zM540.3 559.4h7.4v7.4h-7.4zM617.4 559.4h7.4v7.4h-7.4zM750.5 559.4h7.4v7.4h-7.4zM547.4 566.4h7.4v7.4h-7.4zM617.4 566.4h7.4v7.4h-7.4zM743.5 566.4h14.4v7.4h-14.4zM547.4 573.4h7.4v7.4h-7.4zM610.4 573.4h14.4v7.4h-14.4zM736.5 573.4h7.4v7.4h-7.4zM750.5 573.4h7.4v7.4h-7.4zM547.4 580.4h14.4v7.4h-14.4zM603.4 580.4h14.4v7.4h-14.4zM736.5 580.4h7.4v7.4h-7.4zM757.6 580.4h35.4v7.4h-35.4zM547.4 587.4h7.4v7.4h-7.4zM603.4 587.4h14.4v7.4h-14.4zM736.5 587.4h7.4v7.4h-7.4zM764.6 587.4h21.4v7.4h-21.4zM540.3 594.3h7.4v7.4h-7.4zM610.4 594.3h7.4v7.4h-7.4zM743.5 594.3h7.4v7.4h-7.4zM757.6 594.3h14.4v7.4h-14.4zM540.3 601.3h7.4v7.4h-7.4zM540.3 608.3h7.4v7.4h-7.4zM547.4 615.3h42.4v7.4h-42.4zM589.4 622.3h7.4v7.4h-7.4zM610.4 622.3h7.4v7.4h-7.4zM589.4 629.3h21.4v7.4h-21.4zM589.4 636.3h21.4v7.4h-21.4zM582.4 643.3h14.4v7.4h-14.4zM610.4 643.3h7.4v7.4h-7.4zM547.4 650.3h7.4v7.4h-7.4zM575.4 650.3h14.4v7.4h-14.4zM610.4 650.3h7.4v7.4h-7.4zM533.3 657.3h14.4v7.4h-14.4zM582.4 657.3h7.4v7.4h-7.4zM610.4 657.3h7.4v7.4h-7.4zM547.4 664.2h7.4v7.4h-7.4zM512.3 671.2h7.4v7.4h-7.4zM547.4 671.2h7.4v7.4h-7.4zM547.4 678.2h7.4v7.4h-7.4zM512.3 685.2h7.4v7.4h-7.4zM547.4 685.2h7.4v7.4h-7.4zM519.3 699.2h7.4v7.4h-7.4zM533.3 699.2h14.4v7.4h-14.4zM351.2 832.0h14.4v19.4h-14.4z"/><path fill="#b70000" d="M302.1 384.6h14.4v7.4h-14.4zM302.1 391.6h7.4v7.4h-7.4zM316.1 391.6h14.4v7.4h-14.4zM358.2 391.6h21.4v7.4h-21.4zM302.1 398.6h7.4v7.4h-7.4zM323.1 398.6h7.4v7.4h-7.4zM351.2 398.6h7.4v7.4h-7.4zM379.2 398.6h7.4v7.4h-7.4zM309.1 405.6h21.4v7.4h-21.4zM351.2 405.6h7.4v7.4h-7.4zM386.2 405.6h7.4v7.4h-7.4zM344.2 412.6h14.4v7.4h-14.4zM414.2 412.6h7.4v7.4h-7.4zM344.2 419.6h14.4v7.4h-14.4zM351.2 426.6h7.4v7.4h-7.4zM428.2 426.6h7.4v7.4h-7.4zM358.2 433.6h7.4v7.4h-7.4zM428.2 433.6h7.4v7.4h-7.4zM365.2 440.6h7.4v7.4h-7.4zM428.2 440.6h7.4v7.4h-7.4zM365.2 447.5h7.4v7.4h-7.4zM428.2 447.5h7.4v7.4h-7.4zM477.3 447.5h21.4v7.4h-21.4zM365.2 454.5h7.4v7.4h-7.4zM421.2 454.5h14.4v7.4h-14.4zM477.3 454.5h7.4v7.4h-7.4zM498.3 454.5h7.4v7.4h-7.4zM365.2 461.5h7.4v7.4h-7.4zM414.2 461.5h14.4v7.4h-14.4zM505.3 461.5h7.4v7.4h-7.4zM407.2 468.5h14.4v7.4h-14.4zM484.3 468.5h7.4v7.4h-7.4zM498.3 468.5h7.4v7.4h-7.4zM400.2 475.5h28.4v7.4h-28.4zM491.3 475.5h14.4v7.4h-14.4zM540.3 475.5h14.4v7.4h-14.4zM568.4 475.5h7.4v7.4h-7.4zM365.2 482.5h7.4v7.4h-7.4zM400.2 482.5h21.4v7.4h-21.4zM428.2 482.5h7.4v7.4h-7.4zM540.3 482.5h7.4v7.4h-7.4zM582.4 482.5h7.4v7.4h-7.4zM365.2 489.5h7.4v7.4h-7.4zM540.3 489.5h7.4v7.4h-7.4zM582.4 489.5h7.4v7.4h-7.4zM372.2 496.5h7.4v7.4h-7.4zM386.2 496.5h21.4v7.4h-21.4zM435.2 496.5h7.4v7.4h-7.4zM540.3 496.5h14.4v7.4h-14.4zM575.4 496.5h14.4v7.4h-14.4zM407.2 503.5h28.4v7.4h-28.4zM547.4 503.5h7.4v7.4h-7.4zM568.4 503.5h14.4v7.4h-14.4zM547.4 510.5h7.4v7.4h-7.4zM568.4 510.5h7.4v7.4h-7.4zM547.4 517.5h7.4v7.4h-7.4zM561.4 517.5h14.4v7.4h-14.4zM547.4 524.4h7.4v7.4h-7.4zM561.4 524.4h14.4v7.4h-14.4zM638.4 524.4h7.4v7.4h-7.4zM652.5 524.4h7.4v7.4h-7.4zM400.2 531.4h14.4v7.4h-14.4zM547.4 531.4h7.4v7.4h-7.4zM561.4 531.4h14.4v7.4h-14.4zM638.4 531.4h7.4v7.4h-7.4zM400.2 538.4h14.4v7.4h-14.4zM540.3 538.4h14.4v7.4h-14.4zM568.4 538.4h14.4v7.4h-14.4zM638.4 538.4h7.4v7.4h-7.4zM540.3 545.4h7.4v7.4h-7.4zM568.4 545.4h21.4v7.4h-21.4zM575.4 552.4h42.4v7.4h-42.4zM547.4 559.4h7.4v7.4h-7.4zM575.4 559.4h21.4v7.4h-21.4zM610.4 559.4h7.4v7.4h-7.4zM554.4 566.4h7.4v7.4h-7.4zM589.4 566.4h7.4v7.4h-7.4zM603.4 566.4h14.4v7.4h-14.4zM554.4 573.4h14.4v7.4h-14.4zM582.4 573.4h28.4v7.4h-28.4zM743.5 573.4h7.4v7.4h-7.4zM561.4 580.4h42.4v7.4h-42.4zM743.5 580.4h14.4v7.4h-14.4zM554.4 587.4h49.4v7.4h-49.4zM743.5 587.4h21.4v7.4h-21.4zM547.4 594.3h7.4v7.4h-7.4zM561.4 594.3h49.4v7.4h-49.4zM750.5 594.3h7.4v7.4h-7.4zM568.4 601.3h21.4v7.4h-21.4zM610.4 601.3h7.4v7.4h-7.4zM547.4 608.3h42.4v7.4h-42.4zM610.4 608.3h7.4v7.4h-7.4zM589.4 615.3h7.4v7.4h-7.4zM610.4 615.3h7.4v7.4h-7.4zM596.4 622.3h14.4v7.4h-14.4zM596.4 643.3h14.4v7.4h-14.4zM589.4 650.3h21.4v7.4h-21.4zM589.4 657.3h21.4v7.4h-21.4zM519.3 664.2h28.4v7.4h-28.4zM540.3 671.2h7.4v7.4h-7.4zM512.3 678.2h7.4v7.4h-7.4zM540.3 685.2h7.4v7.4h-7.4zM519.3 692.2h7.4v7.4h-7.4zM540.3 692.2h7.4v7.4h-7.4zM526.3 699.2h7.4v7.4h-7.4z"/><path fill="#ab0000" d="M309.1 391.6h7.4v7.4h-7.4zM309.1 398.6h14.4v7.4h-14.4zM358.2 398.6h21.4v7.4h-21.4zM358.2 405.6h28.4v7.4h-28.4zM358.2 412.6h56.5v7.4h-56.5zM358.2 419.6h14.4v7.4h-14.4zM421.2 419.6h7.4v7.4h-7.4zM358.2 426.6h14.4v7.4h-14.4zM421.2 426.6h7.4v7.4h-7.4zM365.2 433.6h14.4v7.4h-14.4zM372.2 440.6h7.4v7.4h-7.4zM421.2 440.6h7.4v7.4h-7.4zM372.2 447.5h7.4v7.4h-7.4zM421.2 447.5h7.4v7.4h-7.4zM372.2 454.5h7.4v7.4h-7.4zM414.2 454.5h7.4v7.4h-7.4zM484.3 454.5h14.4v7.4h-14.4zM400.2 461.5h14.4v7.4h-14.4zM484.3 461.5h21.4v7.4h-21.4zM365.2 468.5h7.4v7.4h-7.4zM386.2 468.5h21.4v7.4h-21.4zM491.3 468.5h7.4v7.4h-7.4zM365.2 475.5h35.4v7.4h-35.4zM554.4 475.5h14.4v7.4h-14.4zM372.2 482.5h28.4v7.4h-28.4zM421.2 482.5h7.4v7.4h-7.4zM547.4 482.5h7.4v7.4h-7.4zM568.4 482.5h14.4v7.4h-14.4zM372.2 489.5h63.5v7.4h-63.5zM547.4 489.5h7.4v7.4h-7.4zM568.4 489.5h14.4v7.4h-14.4zM379.2 496.5h7.4v7.4h-7.4zM407.2 496.5h28.4v7.4h-28.4zM554.4 496.5h21.4v7.4h-21.4zM554.4 503.5h14.4v7.4h-14.4zM554.4 510.5h14.4v7.4h-14.4zM554.4 517.5h7.4v7.4h-7.4zM554.4 524.4h7.4v7.4h-7.4zM645.4 524.4h7.4v7.4h-7.4zM554.4 531.4h7.4v7.4h-7.4zM645.4 531.4h7.4v7.4h-7.4zM554.4 538.4h14.4v7.4h-14.4zM547.4 545.4h21.4v7.4h-21.4zM547.4 552.4h28.4v7.4h-28.4zM554.4 559.4h21.4v7.4h-21.4zM596.4 559.4h14.4v7.4h-14.4zM561.4 566.4h28.4v7.4h-28.4zM596.4 566.4h7.4v7.4h-7.4zM568.4 573.4h14.4v7.4h-14.4zM554.4 594.3h7.4v7.4h-7.4zM547.4 601.3h21.4v7.4h-21.4zM589.4 601.3h21.4v7.4h-21.4zM589.4 608.3h21.4v7.4h-21.4zM596.4 615.3h14.4v7.4h-14.4zM519.3 671.2h21.4v7.4h-21.4zM540.3 678.2h7.4v7.4h-7.4zM519.3 685.2h7.4v7.4h-7.4zM526.3 692.2h14.4v7.4h-14.4z"/><path fill="#a00000" d="M372.2 419.6h35.4v7.4h-35.4zM414.2 419.6h7.4v7.4h-7.4zM372.2 426.6h28.4v7.4h-28.4zM379.2 433.6h21.4v7.4h-21.4zM421.2 433.6h7.4v7.4h-7.4zM379.2 440.6h21.4v7.4h-21.4zM414.2 440.6h7.4v7.4h-7.4zM379.2 447.5h21.4v7.4h-21.4zM407.2 447.5h14.4v7.4h-14.4zM379.2 454.5h35.4v7.4h-35.4zM372.2 461.5h28.4v7.4h-28.4zM372.2 468.5h14.4v7.4h-14.4zM554.4 482.5h14.4v7.4h-14.4zM554.4 489.5h14.4v7.4h-14.4zM519.3 678.2h21.4v7.4h-21.4zM526.3 685.2h14.4v7.4h-14.4z"/><path fill="#a00000" d="M407.2 419.6h7.4v7.4h-7.4zM400.2 426.6h21.4v7.4h-21.4zM400.2 433.6h21.4v7.4h-21.4zM400.2 440.6h14.4v7.4h-14.4zM400.2 447.5h7.4v7.4h-7.4z"/></g></g>
<g clip-path="url(#cp)"><path d="M173.1 835.6h776.9v6.5h-776.9zM173.1 829.8h771.0v6.5h-771.0zM173.1 823.9h765.2v6.5h-765.2zM173.1 818.1h753.5v6.4h-753.5zM173.1 812.2h747.7v6.4h-747.7zM173.1 806.4h741.8v6.4h-741.8zM173.1 800.6h736.0v6.4h-736.0zM173.1 794.7h724.3v6.4h-724.3zM173.1 788.9h718.5v6.4h-718.5zM173.1 783.0h665.9v6.4h-665.9zM856.2 783.0h23.7v6.4h-23.7zM173.1 777.2h601.7v6.4h-601.7zM780.3 777.2h35.3v6.4h-35.3zM173.1 771.3h601.7v6.4h-601.7zM173.1 765.5h601.7v6.4h-601.7zM173.1 759.7h595.9v6.4h-595.9zM173.1 753.8h595.9v6.4h-595.9zM173.1 748.0h578.4v6.4h-578.4zM173.1 742.1h560.8v6.4h-560.8zM173.1 736.3h444.1v6.4h-444.1zM628.5 736.3h87.9v6.4h-87.9zM173.1 730.5h444.1v6.4h-444.1zM628.5 730.5h52.8v6.4h-52.8zM173.1 724.6h444.1v6.4h-444.1zM634.4 724.6h47.0v6.4h-47.0zM173.1 718.8h455.7v6.4h-455.7zM173.1 712.9h461.6v6.4h-461.6zM173.1 707.1h467.4v6.4h-467.4zM173.1 701.3h473.3v6.4h-473.3zM173.1 695.4h473.3v6.4h-473.3zM173.1 689.6h473.3v6.4h-473.3zM173.1 683.7h473.3v6.4h-473.3zM173.1 677.9h473.3v6.4h-473.3zM173.1 672.1h461.6v6.4h-461.6zM173.1 666.2h461.6v6.4h-461.6zM173.1 660.4h455.7v6.4h-455.7zM173.1 654.5h455.7v6.4h-455.7zM173.1 648.7h455.7v6.4h-455.7zM173.1 642.8h449.9v6.4h-449.9zM173.1 637.0h449.9v6.4h-449.9zM173.1 631.2h449.9v6.4h-449.9zM173.1 625.3h449.9v6.4h-449.9zM173.1 619.5h444.1v6.4h-444.1zM173.1 613.6h432.4v6.5h-432.4zM173.1 607.8h426.5v6.5h-426.5zM173.1 601.9h420.7v6.5h-420.7zM173.1 596.0h409.0v6.5h-409.0zM173.1 590.2h397.3v6.5h-397.3zM173.1 584.3h385.7v6.5h-385.7zM173.1 578.5h315.6v6.5h-315.6zM505.9 578.5h29.5v6.5h-29.5zM173.1 572.6h303.9v6.5h-303.9zM173.1 566.7h298.1v6.5h-298.1zM173.1 560.9h292.2v6.5h-292.2zM173.1 555.0h274.7v6.5h-274.7zM173.1 549.1h274.7v6.5h-274.7zM173.1 543.3h274.7v6.5h-274.7zM173.1 537.4h268.9v6.5h-268.9zM173.1 531.5h263.1v6.5h-263.1zM173.1 525.6h251.4v6.5h-251.4zM173.1 519.8h239.7v6.5h-239.7zM173.1 513.9h222.2v6.5h-222.2zM173.1 508.0h222.2v6.5h-222.2zM173.1 502.1h222.2v6.5h-222.2zM173.1 496.2h216.3v6.5h-216.3zM173.1 490.3h210.5v6.5h-210.5zM173.1 484.4h181.3v6.5h-181.3zM371.6 484.4h12.0v6.5h-12.0zM173.1 478.5h175.5v6.5h-175.5zM371.6 478.5h17.8v6.5h-17.8zM173.1 472.6h99.6v6.5h-99.6zM307.4 472.6h52.9v6.5h-52.9zM371.6 472.6h17.8v6.5h-17.8zM173.1 466.7h47.0v6.5h-47.0zM313.2 466.7h47.0v6.5h-47.0zM371.6 466.7h17.8v6.5h-17.8zM173.1 460.8h47.0v6.5h-47.0zM173.1 454.9h41.2v6.5h-41.2zM173.1 449.0h35.3v6.5h-35.3zM173.1 443.1h12.0v6.5h-12.0zM173.1 437.2h12.0v6.5h-12.0zM237.3 293.8h41.2v6.6h-41.2zM237.3 287.8h41.2v6.6h-41.2zM237.3 281.7h41.2v6.6h-41.2z" fill="#fff" shape-rendering="crispEdges"/><path d="M640.0 690.0L646.4 690.0L646.4 713.1L652.0 713.1L652.0 719.2L663.7 719.2L663.7 724.7L681.0 724.7L681.0 736.7L692.7 736.7L692.7 730.9L704.4 730.9L704.4 736.7L715.0 736.7L715.0 750.0L690.0 762.0L605.0 762.0L605.0 725.0L640.0 700.0z" fill="#fff"/><path d="M186.4 269.9L207.8 269.9L207.8 276.0L213.8 276.0L213.8 294.3L201.9 294.3L201.9 287.8L195.0 280.0z" fill="#fff"/><path d="M174.0 440.5L179.0 440.9L182.3 451.9L193.9 452.5L202.9 454.2L212.8 459.8L215.4 469.4L219.0 477.3L235.7 475.8L255.6 474.2L265.6 474.2L269.6 479.7L281.5 484.1L292.5 485.7L303.4 482.1L316.4 472.2L339.3 472.2L358.2 472.2L340.3 476.2L355.2 493.3L362.2 491.7L386.6 499.2L390.0 511.2L386.6 524.5L404.0 521.2L420.0 531.0L431.9 538.9L439.9 544.9L444.3 553.9L442.9 564.2L451.9 562.2L470.8 574.2L478.1 583.3L489.7 585.3L503.6 585.3L513.6 583.3L527.5 583.7L539.5 586.1L559.4 592.7L579.3 600.6L593.2 611.6L607.2 621.6L619.1 633.5L620.1 647.4L620.3 649.0L626.8 661.9L631.8 678.8L644.8 680.8L643.4 698.7L629.8 713.7L615.9 725.6L609.9 749.9L622.9 745.5L629.8 760.5L632.8 747.5L633.8 731.6L643.4 726.0L655.7 727.6L666.7 726.0L680.0 729.6L677.2 743.5L672.6 755.1L677.6 758.5L685.6 741.6L695.5 737.6L707.5 737.6L721.4 745.5L733.4 749.5L748.3 753.1L752.3 760.5L764.2 757.1L767.9 767.9L773.5 777.4L769.9 787.8L782.9 784.2L795.8 778.2L806.8 780.8L818.7 786.2L830.6 786.8L841.6 792.2L853.5 792.2L864.5 787.8L877.4 788.2L893.4 799.7L911.3 811.7L926.2 826.6L937.2 832.0L943.1 837.2L947.0 842.0L174.0 842.0z" fill="#808080" stroke="#000" stroke-width="1" stroke-linejoin="round"/><path d="M371.1 472.2L386.0 470.2L386.0 482.1L380.1 487.3L367.1 487.7L374.1 483.7L374.1 473.5z" fill="#808080" stroke="#000" stroke-width="1" stroke-linejoin="round"/><path d="M174.0 250.0L178.0 257.4L182.0 264.4L194.9 264.9L186.4 270.9L205.4 274.9L214.8 285.3L207.1 294.8L199.4 286.8L187.9 286.6L178.0 289.3L174.0 290.0z" fill="#808080" stroke="#000" stroke-width="1" stroke-linejoin="round"/><path d="M242.2 285.3L269.6 285.1L277.1 291.3L271.6 297.6L261.6 297.6L252.2 299.3L242.7 297.3z" fill="#808080" stroke="#000" stroke-width="1" stroke-linejoin="round"/><path d="M366.4 339.2L372.2 341.0L368.8 346.8z" fill="#808080" stroke="#000" stroke-width="1" stroke-linejoin="round"/><path d="M374.4 335.2L378.6 341.4L372.2 341.0z" fill="#808080" stroke="#000" stroke-width="1" stroke-linejoin="round"/><path d="M382.0 373.0L386.5 376.0L390.0 381.4L385.5 378.5z" fill="#808080" stroke="#000" stroke-width="1" stroke-linejoin="round"/><path d="M196.0 431.0L200.5 433.6L204.0 438.0L199.5 435.4z" fill="#808080" stroke="#000" stroke-width="1" stroke-linejoin="round"/></g>
<g stroke="#000" stroke-width="1.3" stroke-linecap="round" stroke-dasharray="0.01 3.99" fill="none"><path d="M339.69 826.5V136.0"/><path d="M549.89 826.5V136.0"/><path d="M760.09 826.5V136.0"/><path d="M970.29 826.5V136.0"/><path d="M1180.49 826.5V136.0"/><path d="M188.5 150.80H1217.0"/><path d="M188.5 297.10H1217.0"/><path d="M188.5 440.30H1217.0"/><path d="M188.5 581.80H1217.0"/><path d="M188.5 722.00H1217.0"/></g>
<rect x="176" y="126" width="1051" height="713" fill="none" stroke="#000" stroke-width="4" stroke-linejoin="round"/><g stroke="#000" stroke-width="4" fill="none"><path d="M339.5 126.0v10.5"/><path d="M339.5 839.0v-10.5"/><path d="M549.7 126.0v10.5"/><path d="M549.7 839.0v-10.5"/><path d="M759.9 126.0v10.5"/><path d="M759.9 839.0v-10.5"/><path d="M970.1 126.0v10.5"/><path d="M970.1 839.0v-10.5"/><path d="M1180.3 126.0v10.5"/><path d="M1180.3 839.0v-10.5"/><path d="M176.0 150.8h10.5"/><path d="M1227.0 150.8h-10.5"/><path d="M176.0 297.1h10.5"/><path d="M1227.0 297.1h-10.5"/><path d="M176.0 440.3h10.5"/><path d="M1227.0 440.3h-10.5"/><path d="M176.0 581.8h10.5"/><path d="M1227.0 581.8h-10.5"/><path d="M176.0 722.0h10.5"/><path d="M1227.0 722.0h-10.5"/></g>
<text x="705.8" y="75.8" text-anchor="middle" font-size="31.7" font-weight="bold" fill="#000" style="fill:#000">AVHRR Sea Surface Temperature</text><text x="701.5" y="115.7" text-anchor="middle" font-size="25.4" font-weight="bold" style="fill:#000">2020-10-20</text>
<text x="172.6" y="159.6" text-anchor="end" font-size="17.2">24<tspan dy="-6.5" font-size="14">o</tspan><tspan dy="6.5">N</tspan></text><text x="172.6" y="305.9" text-anchor="end" font-size="17.2">18<tspan dy="-6.5" font-size="14">o</tspan><tspan dy="6.5">N</tspan></text><text x="172.6" y="449.1" text-anchor="end" font-size="17.2">12<tspan dy="-6.5" font-size="14">o</tspan><tspan dy="6.5">N</tspan></text><text x="172.6" y="590.6" text-anchor="end" font-size="17.2">6<tspan dy="-6.5" font-size="14">o</tspan><tspan dy="6.5">N</tspan></text><text x="166.6" y="730.8" text-anchor="end" font-size="17.2">0<tspan dy="-6.5" font-size="14">o</tspan><tspan dy="6.5"></tspan></text><text x="340.7" y="861" text-anchor="middle" font-size="17.2">63<tspan dy="-6.5" font-size="14">o</tspan><tspan dy="6.5">W</tspan></text><text x="550.9" y="861" text-anchor="middle" font-size="17.2">54<tspan dy="-6.5" font-size="14">o</tspan><tspan dy="6.5">W</tspan></text><text x="761.1" y="861" text-anchor="middle" font-size="17.2">45<tspan dy="-6.5" font-size="14">o</tspan><tspan dy="6.5">W</tspan></text><text x="971.3" y="861" text-anchor="middle" font-size="17.2">36<tspan dy="-6.5" font-size="14">o</tspan><tspan dy="6.5">W</tspan></text><text x="1181.5" y="861" text-anchor="middle" font-size="17.2">27<tspan dy="-6.5" font-size="14">o</tspan><tspan dy="6.5">W</tspan></text>
<g shape-rendering="crispEdges"><rect x="177.30" y="880.2" width="11.12" height="19.1" fill="#ae7fcc"/><rect x="187.92" y="880.2" width="11.12" height="19.1" fill="#a572c5"/><rect x="198.55" y="880.2" width="11.12" height="19.1" fill="#9c64bd"/><rect x="209.17" y="880.2" width="11.12" height="19.1" fill="#9457b5"/><rect x="219.79" y="880.2" width="11.12" height="19.1" fill="#8b4aae"/><rect x="230.42" y="880.2" width="11.12" height="19.1" fill="#833ca6"/><rect x="241.04" y="880.2" width="11.12" height="19.1" fill="#7a2f9f"/><rect x="251.66" y="880.2" width="11.12" height="19.1" fill="#722297"/><rect x="262.28" y="880.2" width="11.12" height="19.1" fill="#69148f"/><rect x="272.91" y="880.2" width="11.12" height="19.1" fill="#600788"/><rect x="283.53" y="880.2" width="11.12" height="19.1" fill="#590089"/><rect x="294.15" y="880.2" width="11.12" height="19.1" fill="#530091"/><rect x="304.78" y="880.2" width="11.12" height="19.1" fill="#4e009a"/><rect x="315.40" y="880.2" width="11.12" height="19.1" fill="#4800a4"/><rect x="326.02" y="880.2" width="11.12" height="19.1" fill="#4200ac"/><rect x="336.64" y="880.2" width="11.12" height="19.1" fill="#3c00b6"/><rect x="347.27" y="880.2" width="11.12" height="19.1" fill="#3600be"/><rect x="357.89" y="880.2" width="11.12" height="19.1" fill="#3000c8"/><rect x="368.51" y="880.2" width="11.12" height="19.1" fill="#2b00d1"/><rect x="379.14" y="880.2" width="11.12" height="19.1" fill="#2500d9"/><rect x="389.76" y="880.2" width="11.12" height="19.1" fill="#1f00e1"/><rect x="400.38" y="880.2" width="11.12" height="19.1" fill="#1800e8"/><rect x="411.01" y="880.2" width="11.12" height="19.1" fill="#1100ee"/><rect x="421.63" y="880.2" width="11.12" height="19.1" fill="#0a00f5"/><rect x="432.25" y="880.2" width="11.12" height="19.1" fill="#0300fc"/><rect x="442.88" y="880.2" width="11.12" height="19.1" fill="#0105f7"/><rect x="453.50" y="880.2" width="11.12" height="19.1" fill="#0210e7"/><rect x="464.12" y="880.2" width="11.12" height="19.1" fill="#031ad8"/><rect x="474.74" y="880.2" width="11.12" height="19.1" fill="#0424c8"/><rect x="485.37" y="880.2" width="11.12" height="19.1" fill="#052fb8"/><rect x="495.99" y="880.2" width="11.12" height="19.1" fill="#063aaa"/><rect x="506.61" y="880.2" width="11.12" height="19.1" fill="#07459d"/><rect x="517.24" y="880.2" width="11.12" height="19.1" fill="#075190"/><rect x="527.86" y="880.2" width="11.12" height="19.1" fill="#075d83"/><rect x="538.48" y="880.2" width="11.12" height="19.1" fill="#086876"/><rect x="549.11" y="880.2" width="11.12" height="19.1" fill="#087269"/><rect x="559.73" y="880.2" width="11.12" height="19.1" fill="#097a5c"/><rect x="570.35" y="880.2" width="11.12" height="19.1" fill="#09824e"/><rect x="580.97" y="880.2" width="11.12" height="19.1" fill="#098a40"/><rect x="591.60" y="880.2" width="11.12" height="19.1" fill="#0a9233"/><rect x="602.22" y="880.2" width="11.12" height="19.1" fill="#0a9c26"/><rect x="612.84" y="880.2" width="11.12" height="19.1" fill="#0aa719"/><rect x="623.47" y="880.2" width="11.12" height="19.1" fill="#0ab20c"/><rect x="634.09" y="880.2" width="11.12" height="19.1" fill="#17b60c"/><rect x="644.71" y="880.2" width="11.12" height="19.1" fill="#24bb0b"/><rect x="655.34" y="880.2" width="11.12" height="19.1" fill="#31bf0b"/><rect x="665.96" y="880.2" width="11.12" height="19.1" fill="#3ec30b"/><rect x="676.58" y="880.2" width="11.12" height="19.1" fill="#4bc70b"/><rect x="687.20" y="880.2" width="11.12" height="19.1" fill="#58cc0a"/><rect x="697.83" y="880.2" width="11.12" height="19.1" fill="#65d00a"/><rect x="708.45" y="880.2" width="11.12" height="19.1" fill="#75d509"/><rect x="719.07" y="880.2" width="11.12" height="19.1" fill="#88da08"/><rect x="729.70" y="880.2" width="11.12" height="19.1" fill="#9ae007"/><rect x="740.32" y="880.2" width="11.12" height="19.1" fill="#ace606"/><rect x="750.94" y="880.2" width="11.12" height="19.1" fill="#bfeb04"/><rect x="761.57" y="880.2" width="11.12" height="19.1" fill="#d1f103"/><rect x="772.19" y="880.2" width="11.12" height="19.1" fill="#e3f702"/><rect x="782.81" y="880.2" width="11.12" height="19.1" fill="#f6fc01"/><rect x="793.43" y="880.2" width="11.12" height="19.1" fill="#fffd00"/><rect x="804.06" y="880.2" width="11.12" height="19.1" fill="#fff800"/><rect x="814.68" y="880.2" width="11.12" height="19.1" fill="#fff300"/><rect x="825.30" y="880.2" width="11.12" height="19.1" fill="#ffee00"/><rect x="835.93" y="880.2" width="11.12" height="19.1" fill="#ffe900"/><rect x="846.55" y="880.2" width="11.12" height="19.1" fill="#ffe400"/><rect x="857.17" y="880.2" width="11.12" height="19.1" fill="#ffdf00"/><rect x="867.80" y="880.2" width="11.12" height="19.1" fill="#ffd900"/><rect x="878.42" y="880.2" width="11.12" height="19.1" fill="#ffd400"/><rect x="889.04" y="880.2" width="11.12" height="19.1" fill="#ffcf00"/><rect x="899.66" y="880.2" width="11.12" height="19.1" fill="#ffca00"/><rect x="910.29" y="880.2" width="11.12" height="19.1" fill="#ffc500"/><rect x="920.91" y="880.2" width="11.12" height="19.1" fill="#ffbf00"/><rect x="931.53" y="880.2" width="11.12" height="19.1" fill="#ffba00"/><rect x="942.16" y="880.2" width="11.12" height="19.1" fill="#ffb400"/><rect x="952.78" y="880.2" width="11.12" height="19.1" fill="#ffae00"/><rect x="963.40" y="880.2" width="11.12" height="19.1" fill="#ffa900"/><rect x="974.03" y="880.2" width="11.12" height="19.1" fill="#ffa100"/><rect x="984.65" y="880.2" width="11.12" height="19.1" fill="#ff9600"/><rect x="995.27" y="880.2" width="11.12" height="19.1" fill="#ff8c00"/><rect x="1005.89" y="880.2" width="11.12" height="19.1" fill="#ff8200"/><rect x="1016.52" y="880.2" width="11.12" height="19.1" fill="#ff7700"/><rect x="1027.14" y="880.2" width="11.12" height="19.1" fill="#ff6d00"/><rect x="1037.76" y="880.2" width="11.12" height="19.1" fill="#ff6200"/><rect x="1048.39" y="880.2" width="11.12" height="19.1" fill="#ff5800"/><rect x="1059.01" y="880.2" width="11.12" height="19.1" fill="#ff4e00"/><rect x="1069.63" y="880.2" width="11.12" height="19.1" fill="#ff4300"/><rect x="1080.26" y="880.2" width="11.12" height="19.1" fill="#ff3900"/><rect x="1090.88" y="880.2" width="11.12" height="19.1" fill="#ff3000"/><rect x="1101.50" y="880.2" width="11.12" height="19.1" fill="#ff2700"/><rect x="1112.12" y="880.2" width="11.12" height="19.1" fill="#ff1e00"/><rect x="1122.75" y="880.2" width="11.12" height="19.1" fill="#ff1500"/><rect x="1133.37" y="880.2" width="11.12" height="19.1" fill="#ff0c00"/><rect x="1143.99" y="880.2" width="11.12" height="19.1" fill="#ff0400"/><rect x="1154.62" y="880.2" width="11.12" height="19.1" fill="#f90000"/><rect x="1165.24" y="880.2" width="11.12" height="19.1" fill="#ed0000"/><rect x="1175.86" y="880.2" width="11.12" height="19.1" fill="#e00000"/><rect x="1186.48" y="880.2" width="11.12" height="19.1" fill="#d40000"/><rect x="1197.11" y="880.2" width="11.12" height="19.1" fill="#c80000"/><rect x="1207.73" y="880.2" width="11.12" height="19.1" fill="#bd0000"/><rect x="1218.35" y="880.2" width="11.12" height="19.1" fill="#b10000"/><rect x="1228.98" y="880.2" width="11.12" height="19.1" fill="#a60000"/></g><rect x="177.3" y="880.2" width="1062.3" height="19.1" fill="none" stroke="#262626" stroke-width="1"/><g stroke="#262626" stroke-width="1"><path d="M283.5 899.3v-10.5"/><path d="M389.8 899.3v-10.5"/><path d="M496.0 899.3v-10.5"/><path d="M602.2 899.3v-10.5"/><path d="M708.5 899.3v-10.5"/><path d="M814.7 899.3v-10.5"/><path d="M920.9 899.3v-10.5"/><path d="M1027.1 899.3v-10.5"/><path d="M1133.4 899.3v-10.5"/></g><text x="177.3" y="924" text-anchor="middle" font-size="17.2">20</text><text x="283.5" y="924" text-anchor="middle" font-size="17.2">21</text><text x="389.8" y="924" text-anchor="middle" font-size="17.2">22</text><text x="496.0" y="924" text-anchor="middle" font-size="17.2">23</text><text x="602.2" y="924" text-anchor="middle" font-size="17.2">24</text><text x="708.5" y="924" text-anchor="middle" font-size="17.2">25</text><text x="814.7" y="924" text-anchor="middle" font-size="17.2">26</text><text x="920.9" y="924" text-anchor="middle" font-size="17.2">27</text><text x="1027.1" y="924" text-anchor="middle" font-size="17.2">28</text><text x="1133.4" y="924" text-anchor="middle" font-size="17.2">29</text><text x="1239.6" y="924" text-anchor="middle" font-size="17.2">30</text><text x="708.8" y="947.9" text-anchor="middle" font-size="17.2">°C</text>
</svg></body></html>
